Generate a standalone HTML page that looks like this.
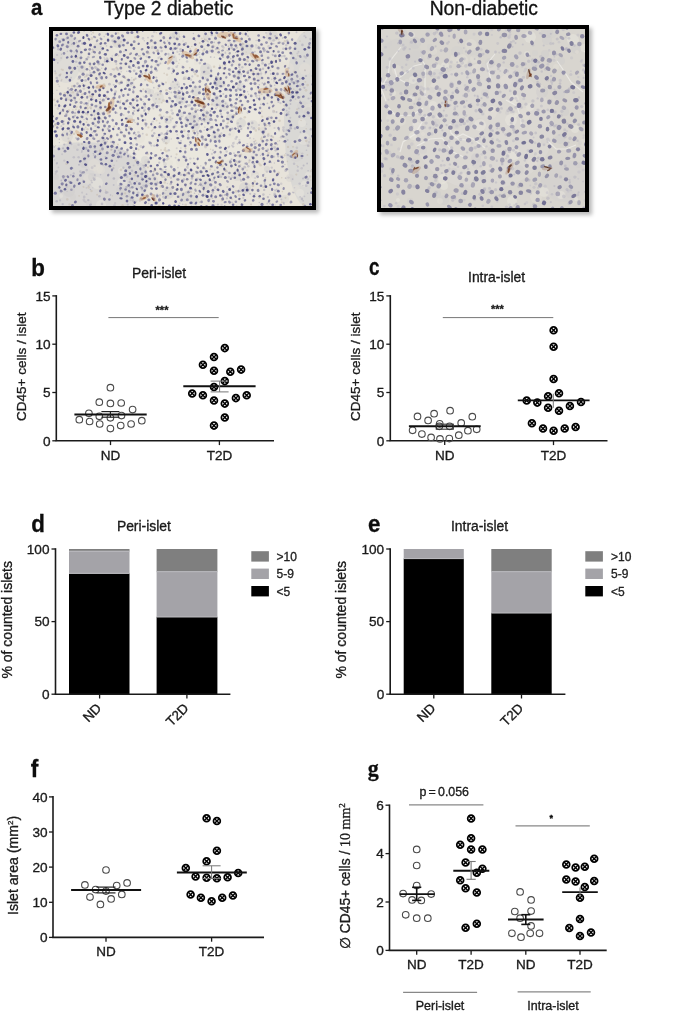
<!DOCTYPE html><html><head><meta charset="utf-8"><style>html,body{margin:0;padding:0;background:#fff;}body{width:675px;height:1012px;position:relative;overflow:hidden;font-family:"Liberation Sans",Arial,sans-serif;}.frame{position:absolute;box-sizing:border-box;border:4px solid #000;box-shadow:3px 3px 4px rgba(0,0,0,0.28);overflow:hidden;background:#ddd}svg text{font-family:"Liberation Sans",Arial,sans-serif;stroke:currentColor;stroke-width:0.3px;paint-order:stroke;}.ov{position:absolute;left:0;top:0;}</style></head><body>
<div class="frame" style="left:49px;top:27px;width:267px;height:183px"><svg width="259" height="175" viewBox="0 0 259 175" style="display:block"><defs><filter id="bl1" x="-5%" y="-5%" width="110%" height="110%"><feGaussianBlur stdDeviation="0.5"/></filter></defs><g filter="url(#bl1)"><rect x="-5" y="-5" width="269" height="185" fill="#e7e3da"/><ellipse cx="31" cy="149" rx="65" ry="38" fill="#d5d3d2" opacity="0.85"/><ellipse cx="254" cy="88" rx="23" ry="88" fill="#d6d4d3" opacity="0.8"/><ellipse cx="130" cy="79" rx="78" ry="61" fill="#ede9e1" opacity="0.6"/><ellipse cx="13" cy="26" rx="16" ry="26" fill="#d9d7d5" opacity="0.6"/><circle cx="35" cy="148" r="5" fill="#e5e0d7" opacity="0.45"/><circle cx="31" cy="133" r="4" fill="#cfcdcd" opacity="0.45"/><circle cx="204" cy="16" r="2" fill="#cfcdcd" opacity="0.45"/><circle cx="112" cy="133" r="2" fill="#cfcdcd" opacity="0.45"/><circle cx="69" cy="140" r="4" fill="#ece8e1" opacity="0.45"/><circle cx="233" cy="5" r="2" fill="#ece8e1" opacity="0.45"/><circle cx="243" cy="67" r="3" fill="#cfcdcd" opacity="0.45"/><circle cx="188" cy="92" r="5" fill="#cfcdcd" opacity="0.45"/><circle cx="143" cy="60" r="5" fill="#cfcdcd" opacity="0.45"/><circle cx="247" cy="162" r="4" fill="#ece8e1" opacity="0.45"/><circle cx="48" cy="174" r="5" fill="#ece8e1" opacity="0.45"/><circle cx="192" cy="157" r="6" fill="#cfcdcd" opacity="0.45"/><circle cx="131" cy="159" r="3" fill="#e5e0d7" opacity="0.45"/><circle cx="152" cy="154" r="5" fill="#cfcdcd" opacity="0.45"/><circle cx="153" cy="6" r="3" fill="#cfcdcd" opacity="0.45"/><circle cx="107" cy="30" r="4" fill="#e5e0d7" opacity="0.45"/><circle cx="22" cy="116" r="2" fill="#d3d1cf" opacity="0.45"/><circle cx="135" cy="69" r="4" fill="#ece8e1" opacity="0.45"/><circle cx="122" cy="54" r="5" fill="#cfcdcd" opacity="0.45"/><circle cx="168" cy="30" r="3" fill="#ece8e1" opacity="0.45"/><circle cx="200" cy="94" r="5" fill="#d3d1cf" opacity="0.45"/><circle cx="105" cy="60" r="5" fill="#e5e0d7" opacity="0.45"/><circle cx="119" cy="47" r="4" fill="#ece8e1" opacity="0.45"/><circle cx="99" cy="150" r="6" fill="#d3d1cf" opacity="0.45"/><circle cx="134" cy="98" r="4" fill="#ece8e1" opacity="0.45"/><circle cx="125" cy="64" r="4" fill="#cfcdcd" opacity="0.45"/><circle cx="126" cy="62" r="3" fill="#e5e0d7" opacity="0.45"/><circle cx="119" cy="5" r="3" fill="#d3d1cf" opacity="0.45"/><circle cx="143" cy="32" r="2" fill="#e5e0d7" opacity="0.45"/><circle cx="8" cy="165" r="2" fill="#ece8e1" opacity="0.45"/><circle cx="117" cy="132" r="3" fill="#e5e0d7" opacity="0.45"/><circle cx="28" cy="109" r="3" fill="#ece8e1" opacity="0.45"/><circle cx="43" cy="45" r="6" fill="#e5e0d7" opacity="0.45"/><circle cx="168" cy="52" r="5" fill="#cfcdcd" opacity="0.45"/><circle cx="123" cy="4" r="4" fill="#cfcdcd" opacity="0.45"/><circle cx="206" cy="45" r="3" fill="#d3d1cf" opacity="0.45"/><circle cx="250" cy="76" r="6" fill="#d3d1cf" opacity="0.45"/><circle cx="5" cy="26" r="5" fill="#d3d1cf" opacity="0.45"/><circle cx="115" cy="89" r="4" fill="#d3d1cf" opacity="0.45"/><circle cx="253" cy="110" r="5" fill="#cfcdcd" opacity="0.45"/><circle cx="58" cy="113" r="4" fill="#e5e0d7" opacity="0.45"/><circle cx="171" cy="75" r="5" fill="#d3d1cf" opacity="0.45"/><circle cx="251" cy="153" r="3" fill="#ece8e1" opacity="0.45"/><circle cx="80" cy="164" r="5" fill="#cfcdcd" opacity="0.45"/><circle cx="146" cy="23" r="4" fill="#ece8e1" opacity="0.45"/><circle cx="153" cy="38" r="6" fill="#cfcdcd" opacity="0.45"/><circle cx="44" cy="152" r="6" fill="#ece8e1" opacity="0.45"/><circle cx="98" cy="61" r="3" fill="#cfcdcd" opacity="0.45"/><circle cx="153" cy="86" r="6" fill="#cfcdcd" opacity="0.45"/><circle cx="77" cy="87" r="3" fill="#cfcdcd" opacity="0.45"/><circle cx="233" cy="3" r="3" fill="#e5e0d7" opacity="0.45"/><circle cx="210" cy="99" r="3" fill="#cfcdcd" opacity="0.45"/><circle cx="55" cy="118" r="5" fill="#e5e0d7" opacity="0.45"/><circle cx="237" cy="147" r="4" fill="#d3d1cf" opacity="0.45"/><circle cx="17" cy="7" r="3" fill="#d3d1cf" opacity="0.45"/><circle cx="236" cy="37" r="5" fill="#e5e0d7" opacity="0.45"/><circle cx="95" cy="60" r="3" fill="#cfcdcd" opacity="0.45"/><circle cx="35" cy="96" r="2" fill="#ece8e1" opacity="0.45"/><circle cx="105" cy="67" r="6" fill="#d3d1cf" opacity="0.45"/><circle cx="215" cy="60" r="4" fill="#cfcdcd" opacity="0.45"/><circle cx="20" cy="96" r="4" fill="#e5e0d7" opacity="0.45"/><circle cx="95" cy="52" r="4" fill="#ece8e1" opacity="0.45"/><circle cx="119" cy="49" r="5" fill="#e5e0d7" opacity="0.45"/><circle cx="3" cy="117" r="2" fill="#ece8e1" opacity="0.45"/><circle cx="214" cy="138" r="3" fill="#cfcdcd" opacity="0.45"/><circle cx="42" cy="79" r="5" fill="#d3d1cf" opacity="0.45"/><circle cx="193" cy="18" r="6" fill="#cfcdcd" opacity="0.45"/><circle cx="209" cy="95" r="5" fill="#e5e0d7" opacity="0.45"/><circle cx="184" cy="55" r="3" fill="#e5e0d7" opacity="0.45"/><circle cx="10" cy="2" r="6" fill="#e5e0d7" opacity="0.45"/><circle cx="188" cy="56" r="4" fill="#cfcdcd" opacity="0.45"/><circle cx="16" cy="160" r="6" fill="#cfcdcd" opacity="0.45"/><circle cx="29" cy="38" r="4" fill="#cfcdcd" opacity="0.45"/><circle cx="171" cy="45" r="4" fill="#e5e0d7" opacity="0.45"/><circle cx="52" cy="63" r="5" fill="#ece8e1" opacity="0.45"/><circle cx="255" cy="78" r="5" fill="#e5e0d7" opacity="0.45"/><circle cx="244" cy="68" r="3" fill="#e5e0d7" opacity="0.45"/><circle cx="48" cy="139" r="4" fill="#e5e0d7" opacity="0.45"/><circle cx="64" cy="18" r="4" fill="#ece8e1" opacity="0.45"/><circle cx="63" cy="4" r="3" fill="#ece8e1" opacity="0.45"/><circle cx="69" cy="152" r="5" fill="#ece8e1" opacity="0.45"/><circle cx="165" cy="51" r="5" fill="#cfcdcd" opacity="0.45"/><circle cx="121" cy="150" r="2" fill="#e5e0d7" opacity="0.45"/><circle cx="20" cy="166" r="3" fill="#d3d1cf" opacity="0.45"/><circle cx="255" cy="144" r="3" fill="#ece8e1" opacity="0.45"/><circle cx="184" cy="146" r="4" fill="#d3d1cf" opacity="0.45"/><circle cx="231" cy="25" r="6" fill="#ece8e1" opacity="0.45"/><circle cx="202" cy="144" r="4" fill="#d3d1cf" opacity="0.45"/><circle cx="46" cy="76" r="3" fill="#d3d1cf" opacity="0.45"/><circle cx="65" cy="11" r="6" fill="#cfcdcd" opacity="0.45"/><circle cx="142" cy="95" r="5" fill="#cfcdcd" opacity="0.45"/><circle cx="3" cy="146" r="3" fill="#cfcdcd" opacity="0.45"/><circle cx="6" cy="113" r="4" fill="#ece8e1" opacity="0.45"/><circle cx="16" cy="62" r="3" fill="#d3d1cf" opacity="0.45"/><circle cx="36" cy="172" r="3" fill="#cfcdcd" opacity="0.45"/><circle cx="45" cy="16" r="4" fill="#d3d1cf" opacity="0.45"/><circle cx="137" cy="88" r="5" fill="#cfcdcd" opacity="0.45"/><circle cx="241" cy="112" r="3" fill="#e5e0d7" opacity="0.45"/><circle cx="128" cy="84" r="3" fill="#cfcdcd" opacity="0.45"/><circle cx="87" cy="107" r="5" fill="#e5e0d7" opacity="0.45"/><circle cx="252" cy="38" r="6" fill="#e5e0d7" opacity="0.45"/><circle cx="41" cy="134" r="6" fill="#e5e0d7" opacity="0.45"/><circle cx="77" cy="52" r="4" fill="#d3d1cf" opacity="0.45"/><circle cx="182" cy="129" r="4" fill="#ece8e1" opacity="0.45"/><circle cx="232" cy="168" r="4" fill="#d3d1cf" opacity="0.45"/><circle cx="40" cy="75" r="6" fill="#ece8e1" opacity="0.45"/><circle cx="128" cy="69" r="5" fill="#cfcdcd" opacity="0.45"/><circle cx="133" cy="29" r="5" fill="#ece8e1" opacity="0.45"/><circle cx="136" cy="16" r="3" fill="#ece8e1" opacity="0.45"/><circle cx="69" cy="160" r="6" fill="#d3d1cf" opacity="0.45"/><circle cx="251" cy="108" r="6" fill="#ece8e1" opacity="0.45"/><circle cx="115" cy="162" r="6" fill="#cfcdcd" opacity="0.45"/><circle cx="243" cy="158" r="4" fill="#e5e0d7" opacity="0.45"/><circle cx="113" cy="109" r="4" fill="#d3d1cf" opacity="0.45"/><circle cx="31" cy="105" r="4" fill="#ece8e1" opacity="0.45"/><circle cx="171" cy="49" r="4" fill="#ece8e1" opacity="0.45"/><circle cx="249" cy="92" r="4" fill="#ece8e1" opacity="0.45"/><circle cx="163" cy="106" r="5" fill="#d3d1cf" opacity="0.45"/><circle cx="45" cy="26" r="3" fill="#e5e0d7" opacity="0.45"/><circle cx="152" cy="44" r="5" fill="#d3d1cf" opacity="0.45"/><circle cx="141" cy="86" r="5" fill="#d3d1cf" opacity="0.45"/><circle cx="148" cy="67" r="3" fill="#ece8e1" opacity="0.45"/><circle cx="234" cy="4" r="4" fill="#ece8e1" opacity="0.45"/><circle cx="141" cy="169" r="5" fill="#d3d1cf" opacity="0.45"/><circle cx="19" cy="65" r="5" fill="#cfcdcd" opacity="0.45"/><circle cx="130" cy="62" r="4" fill="#ece8e1" opacity="0.45"/><circle cx="32" cy="126" r="3" fill="#cfcdcd" opacity="0.45"/><circle cx="88" cy="128" r="4" fill="#ece8e1" opacity="0.45"/><circle cx="168" cy="66" r="3" fill="#ece8e1" opacity="0.45"/><circle cx="258" cy="111" r="5" fill="#d3d1cf" opacity="0.45"/><circle cx="256" cy="81" r="5" fill="#cfcdcd" opacity="0.45"/><circle cx="243" cy="125" r="6" fill="#d3d1cf" opacity="0.45"/><circle cx="116" cy="117" r="3" fill="#ece8e1" opacity="0.45"/><circle cx="176" cy="101" r="6" fill="#e5e0d7" opacity="0.45"/><circle cx="223" cy="102" r="5" fill="#ece8e1" opacity="0.45"/><circle cx="128" cy="131" r="5" fill="#e5e0d7" opacity="0.45"/><circle cx="163" cy="71" r="5" fill="#cfcdcd" opacity="0.45"/><circle cx="203" cy="148" r="5" fill="#ece8e1" opacity="0.45"/><circle cx="91" cy="46" r="5" fill="#e5e0d7" opacity="0.45"/><circle cx="39" cy="146" r="4" fill="#cfcdcd" opacity="0.45"/><circle cx="132" cy="47" r="2" fill="#cfcdcd" opacity="0.45"/><circle cx="18" cy="12" r="4" fill="#d3d1cf" opacity="0.45"/><circle cx="131" cy="166" r="5" fill="#cfcdcd" opacity="0.45"/><circle cx="165" cy="48" r="3" fill="#d3d1cf" opacity="0.45"/><circle cx="61" cy="58" r="2" fill="#e5e0d7" opacity="0.45"/><circle cx="121" cy="98" r="2" fill="#e5e0d7" opacity="0.45"/><circle cx="169" cy="125" r="5" fill="#e5e0d7" opacity="0.45"/><circle cx="92" cy="129" r="4" fill="#cfcdcd" opacity="0.45"/><circle cx="45" cy="138" r="5" fill="#e5e0d7" opacity="0.45"/><circle cx="185" cy="45" r="4" fill="#d3d1cf" opacity="0.45"/><circle cx="219" cy="5" r="6" fill="#cfcdcd" opacity="0.45"/><circle cx="82" cy="76" r="5" fill="#e5e0d7" opacity="0.45"/><circle cx="49" cy="110" r="3" fill="#cfcdcd" opacity="0.45"/><circle cx="151" cy="163" r="3" fill="#e5e0d7" opacity="0.45"/><circle cx="119" cy="28" r="5" fill="#cfcdcd" opacity="0.45"/><circle cx="94" cy="131" r="3" fill="#d3d1cf" opacity="0.45"/><circle cx="186" cy="53" r="2" fill="#cfcdcd" opacity="0.45"/><circle cx="83" cy="163" r="6" fill="#ece8e1" opacity="0.45"/><circle cx="14" cy="105" r="6" fill="#d3d1cf" opacity="0.45"/><circle cx="177" cy="87" r="4" fill="#cfcdcd" opacity="0.45"/><g fill="#a9a7b9" opacity="0.45"><circle cx="88.7" cy="146.6" r="1.1"/><circle cx="185.2" cy="57.8" r="1.3"/><circle cx="257.5" cy="8.1" r="1.3"/><circle cx="7.9" cy="67.8" r="1.1"/><circle cx="70.9" cy="20.6" r="0.8"/><circle cx="156.8" cy="98.0" r="1.3"/><circle cx="18.2" cy="46.7" r="0.9"/><circle cx="220.7" cy="9.2" r="1.3"/><circle cx="132.8" cy="87.7" r="1.4"/><circle cx="33.7" cy="139.1" r="1.3"/><circle cx="144.7" cy="147.7" r="1.3"/><circle cx="82.6" cy="47.7" r="1.1"/><circle cx="239.7" cy="161.4" r="0.8"/><circle cx="47.8" cy="71.9" r="1.3"/><circle cx="253.5" cy="119.2" r="0.8"/><circle cx="17.3" cy="100.0" r="1.3"/><circle cx="244.7" cy="139.7" r="1.3"/><circle cx="180.3" cy="112.4" r="1.3"/><circle cx="2.5" cy="74.2" r="1.0"/><circle cx="104.2" cy="163.9" r="1.3"/><circle cx="23.1" cy="107.1" r="1.1"/><circle cx="138.4" cy="60.7" r="1.2"/><circle cx="175.9" cy="146.1" r="1.4"/><circle cx="177.3" cy="31.3" r="1.3"/><circle cx="30.1" cy="149.4" r="0.8"/><circle cx="161.5" cy="150.7" r="0.7"/><circle cx="162.0" cy="52.5" r="0.9"/><circle cx="66.4" cy="71.4" r="1.1"/><circle cx="58.3" cy="111.2" r="1.1"/><circle cx="186.2" cy="66.4" r="0.9"/><circle cx="10.6" cy="13.5" r="0.9"/><circle cx="142.2" cy="9.4" r="0.8"/><circle cx="55.7" cy="76.1" r="0.9"/><circle cx="183.6" cy="130.4" r="1.2"/><circle cx="140.9" cy="95.3" r="1.1"/><circle cx="115.4" cy="23.1" r="1.3"/><circle cx="172.7" cy="139.9" r="1.1"/><circle cx="105.8" cy="106.0" r="0.8"/><circle cx="201.8" cy="113.1" r="1.3"/><circle cx="246.6" cy="152.6" r="1.2"/><circle cx="162.1" cy="157.2" r="1.1"/><circle cx="162.1" cy="156.5" r="1.4"/><circle cx="38.8" cy="65.8" r="1.3"/><circle cx="40.0" cy="91.8" r="1.4"/><circle cx="178.9" cy="114.4" r="0.9"/><circle cx="201.9" cy="20.8" r="1.0"/><circle cx="134.3" cy="136.0" r="1.4"/><circle cx="218.8" cy="136.6" r="1.2"/><circle cx="99.5" cy="99.0" r="0.8"/><circle cx="50.7" cy="109.4" r="0.8"/><circle cx="120.0" cy="50.8" r="1.1"/><circle cx="195.5" cy="44.6" r="0.7"/><circle cx="141.2" cy="40.4" r="1.1"/><circle cx="24.4" cy="118.7" r="1.3"/><circle cx="93.2" cy="153.6" r="0.9"/><circle cx="234.6" cy="82.4" r="1.1"/><circle cx="258.7" cy="138.4" r="0.7"/><circle cx="102.8" cy="49.7" r="0.8"/><circle cx="25.6" cy="126.3" r="1.2"/><circle cx="159.2" cy="62.1" r="0.7"/><circle cx="126.6" cy="28.8" r="0.7"/><circle cx="131.0" cy="56.9" r="0.8"/><circle cx="237.1" cy="44.8" r="0.9"/><circle cx="3.9" cy="59.2" r="0.8"/><circle cx="21.2" cy="21.0" r="0.8"/><circle cx="238.9" cy="171.2" r="0.9"/><circle cx="174.2" cy="74.0" r="0.7"/><circle cx="47.3" cy="68.5" r="0.9"/><circle cx="31.0" cy="98.4" r="1.2"/><circle cx="56.6" cy="30.9" r="0.7"/><circle cx="81.3" cy="127.1" r="1.3"/><circle cx="91.5" cy="78.7" r="1.3"/><circle cx="31.2" cy="166.0" r="1.4"/><circle cx="92.1" cy="75.8" r="0.9"/><circle cx="179.1" cy="146.2" r="0.9"/><circle cx="230.4" cy="96.6" r="1.3"/><circle cx="165.7" cy="13.8" r="0.7"/><circle cx="149.2" cy="154.8" r="1.0"/><circle cx="53.5" cy="14.9" r="0.8"/><circle cx="200.9" cy="97.4" r="1.4"/><circle cx="230.2" cy="17.8" r="1.2"/><circle cx="39.7" cy="18.5" r="1.1"/><circle cx="83.1" cy="108.4" r="0.9"/><circle cx="128.7" cy="85.5" r="0.8"/><circle cx="186.2" cy="36.1" r="1.2"/><circle cx="27.4" cy="140.6" r="1.3"/><circle cx="118.3" cy="107.9" r="0.7"/><circle cx="211.1" cy="143.3" r="0.7"/><circle cx="238.2" cy="63.7" r="0.9"/><circle cx="217.9" cy="43.0" r="1.0"/><circle cx="60.7" cy="53.8" r="1.1"/><circle cx="145.2" cy="68.6" r="1.2"/><circle cx="245.8" cy="77.3" r="0.9"/><circle cx="163.2" cy="53.6" r="1.4"/><circle cx="127.8" cy="143.7" r="1.3"/><circle cx="167.5" cy="126.9" r="1.1"/><circle cx="129.1" cy="60.2" r="0.8"/><circle cx="14.4" cy="20.4" r="0.8"/><circle cx="38.9" cy="151.5" r="1.1"/><circle cx="154.4" cy="9.9" r="1.0"/><circle cx="209.6" cy="32.4" r="1.4"/><circle cx="177.3" cy="157.2" r="1.0"/><circle cx="204.0" cy="66.9" r="0.8"/><circle cx="113.0" cy="90.3" r="0.9"/><circle cx="251.7" cy="146.5" r="1.1"/><circle cx="100.7" cy="75.3" r="0.8"/><circle cx="139.3" cy="45.4" r="1.1"/><circle cx="194.3" cy="49.7" r="1.0"/><circle cx="97.4" cy="10.8" r="0.9"/><circle cx="90.0" cy="7.4" r="1.3"/><circle cx="151.4" cy="62.0" r="1.1"/><circle cx="143.3" cy="160.0" r="0.9"/><circle cx="235.3" cy="36.9" r="1.0"/><circle cx="17.8" cy="144.1" r="1.1"/><circle cx="185.1" cy="97.3" r="1.1"/><circle cx="43.4" cy="75.7" r="0.8"/><circle cx="174.3" cy="19.4" r="0.8"/><circle cx="234.7" cy="109.1" r="1.0"/><circle cx="4.1" cy="24.0" r="1.1"/><circle cx="227.7" cy="11.4" r="0.8"/><circle cx="3.8" cy="140.2" r="1.2"/><circle cx="207.8" cy="40.0" r="0.8"/><circle cx="108.6" cy="102.6" r="1.4"/><circle cx="132.6" cy="155.4" r="0.9"/><circle cx="171.6" cy="38.3" r="0.8"/><circle cx="175.6" cy="116.3" r="1.1"/><circle cx="145.7" cy="163.3" r="0.7"/><circle cx="160.0" cy="119.2" r="1.0"/><circle cx="218.8" cy="124.7" r="1.0"/><circle cx="102.3" cy="30.5" r="1.0"/><circle cx="211.4" cy="92.2" r="1.3"/><circle cx="99.5" cy="30.2" r="1.0"/><circle cx="189.0" cy="82.0" r="0.7"/><circle cx="242.5" cy="68.1" r="0.9"/><circle cx="251.4" cy="25.4" r="1.1"/><circle cx="90.9" cy="136.5" r="0.7"/><circle cx="233.2" cy="14.2" r="1.2"/><circle cx="183.3" cy="81.1" r="1.2"/><circle cx="81.0" cy="120.0" r="1.1"/><circle cx="222.1" cy="174.0" r="0.7"/><circle cx="90.2" cy="70.8" r="0.8"/><circle cx="253.0" cy="44.9" r="1.2"/><circle cx="250.1" cy="169.8" r="1.0"/><circle cx="20.7" cy="142.5" r="1.2"/><circle cx="221.7" cy="162.9" r="1.4"/><circle cx="172.4" cy="22.0" r="1.0"/><circle cx="62.7" cy="60.7" r="1.4"/><circle cx="124.9" cy="136.6" r="0.9"/><circle cx="67.2" cy="159.0" r="1.0"/><circle cx="27.5" cy="92.9" r="0.8"/><circle cx="109.6" cy="108.7" r="1.0"/><circle cx="242.8" cy="42.1" r="0.7"/><circle cx="111.1" cy="110.2" r="0.7"/><circle cx="101.1" cy="167.1" r="1.0"/><circle cx="79.1" cy="52.0" r="1.0"/><circle cx="49.0" cy="115.8" r="0.9"/><circle cx="164.5" cy="65.7" r="1.3"/><circle cx="223.3" cy="50.6" r="0.8"/><circle cx="31.0" cy="170.2" r="0.7"/><circle cx="73.9" cy="145.6" r="1.4"/><circle cx="170.0" cy="25.9" r="1.2"/><circle cx="208.1" cy="42.5" r="1.2"/><circle cx="146.9" cy="32.1" r="1.4"/><circle cx="16.0" cy="35.7" r="0.9"/><circle cx="77.5" cy="36.9" r="1.4"/><circle cx="118.3" cy="73.5" r="0.8"/><circle cx="61.5" cy="174.7" r="1.4"/><circle cx="234.9" cy="49.3" r="1.2"/><circle cx="20.8" cy="126.2" r="1.3"/><circle cx="22.3" cy="69.0" r="0.9"/><circle cx="151.4" cy="65.5" r="0.8"/><circle cx="236.2" cy="37.1" r="0.7"/><circle cx="185.9" cy="43.7" r="0.8"/><circle cx="151.1" cy="99.2" r="0.7"/><circle cx="253.2" cy="154.7" r="1.4"/><circle cx="35.4" cy="154.9" r="0.8"/><circle cx="232.8" cy="122.6" r="0.7"/><circle cx="2.1" cy="40.2" r="1.0"/><circle cx="206.0" cy="93.9" r="1.0"/><circle cx="258.8" cy="75.5" r="0.7"/><circle cx="111.5" cy="108.6" r="0.8"/><circle cx="80.3" cy="174.2" r="0.9"/><circle cx="64.2" cy="82.0" r="0.8"/><circle cx="60.8" cy="38.4" r="1.2"/><circle cx="222.6" cy="15.8" r="0.8"/><circle cx="227.5" cy="72.2" r="1.1"/><circle cx="99.7" cy="51.6" r="1.1"/><circle cx="178.0" cy="2.0" r="1.0"/><circle cx="221.4" cy="132.0" r="0.8"/><circle cx="115.6" cy="37.6" r="1.4"/><circle cx="80.3" cy="83.2" r="1.2"/><circle cx="173.7" cy="120.5" r="1.2"/><circle cx="211.0" cy="19.4" r="1.0"/><circle cx="87.6" cy="142.9" r="0.8"/><circle cx="7.1" cy="169.4" r="1.1"/><circle cx="224.5" cy="61.9" r="1.3"/><circle cx="75.9" cy="102.1" r="1.0"/><circle cx="40.2" cy="68.3" r="0.9"/><circle cx="39.6" cy="105.2" r="1.2"/><circle cx="160.0" cy="158.0" r="0.8"/><circle cx="221.7" cy="116.6" r="1.3"/><circle cx="177.7" cy="27.7" r="0.9"/><circle cx="109.5" cy="145.5" r="1.4"/><circle cx="155.3" cy="36.9" r="1.3"/><circle cx="233.7" cy="79.7" r="0.9"/><circle cx="238.8" cy="22.9" r="1.1"/><circle cx="159.8" cy="161.5" r="1.4"/><circle cx="214.2" cy="172.5" r="0.9"/><circle cx="241.1" cy="132.7" r="1.3"/><circle cx="79.0" cy="139.7" r="1.3"/><circle cx="117.9" cy="146.8" r="1.4"/><circle cx="85.2" cy="161.8" r="1.4"/><circle cx="47.6" cy="143.7" r="0.8"/><circle cx="132.2" cy="24.9" r="1.0"/><circle cx="237.3" cy="86.7" r="1.0"/><circle cx="131.0" cy="24.5" r="0.9"/><circle cx="143.7" cy="92.7" r="1.1"/><circle cx="53.3" cy="66.7" r="1.2"/><circle cx="9.6" cy="14.1" r="1.4"/><circle cx="74.8" cy="173.7" r="1.1"/><circle cx="252.0" cy="39.4" r="0.9"/><circle cx="126.0" cy="55.8" r="1.0"/><circle cx="72.6" cy="95.6" r="1.2"/><circle cx="175.8" cy="19.7" r="0.8"/><circle cx="109.3" cy="108.3" r="1.0"/><circle cx="188.2" cy="149.4" r="1.3"/><circle cx="121.6" cy="74.9" r="1.4"/><circle cx="31.4" cy="129.0" r="1.2"/><circle cx="87.3" cy="43.9" r="1.3"/><circle cx="48.7" cy="37.3" r="0.7"/><circle cx="135.6" cy="159.9" r="1.2"/><circle cx="251.4" cy="165.3" r="0.9"/><circle cx="108.7" cy="20.1" r="1.3"/><circle cx="23.2" cy="30.7" r="1.3"/><circle cx="89.8" cy="102.7" r="0.9"/><circle cx="244.9" cy="135.7" r="1.0"/><circle cx="121.8" cy="56.8" r="0.7"/><circle cx="13.9" cy="14.3" r="0.9"/><circle cx="120.9" cy="26.1" r="1.2"/><circle cx="67.4" cy="14.4" r="1.1"/><circle cx="156.7" cy="168.3" r="1.0"/><circle cx="147.2" cy="151.2" r="0.7"/><circle cx="83.7" cy="150.5" r="0.8"/><circle cx="254.8" cy="162.3" r="0.8"/><circle cx="173.6" cy="97.1" r="1.1"/><circle cx="1.2" cy="116.0" r="0.9"/><circle cx="101.4" cy="114.8" r="1.3"/><circle cx="161.3" cy="26.2" r="0.8"/><circle cx="257.2" cy="108.1" r="0.7"/><circle cx="144.2" cy="167.0" r="0.7"/><circle cx="52.0" cy="28.7" r="1.1"/><circle cx="114.6" cy="100.2" r="1.2"/><circle cx="57.7" cy="27.2" r="1.1"/><circle cx="125.1" cy="14.3" r="1.3"/><circle cx="199.1" cy="117.7" r="0.8"/><circle cx="34.6" cy="72.5" r="1.4"/><circle cx="163.0" cy="77.5" r="1.0"/><circle cx="174.2" cy="140.5" r="0.9"/><circle cx="13.7" cy="82.7" r="1.3"/><circle cx="73.8" cy="40.3" r="0.8"/><circle cx="81.1" cy="79.9" r="1.0"/><circle cx="88.9" cy="158.6" r="1.0"/><circle cx="112.7" cy="111.9" r="0.7"/><circle cx="67.2" cy="51.2" r="0.9"/><circle cx="150.6" cy="59.4" r="1.1"/><circle cx="24.3" cy="55.7" r="1.0"/><circle cx="128.6" cy="70.7" r="1.3"/><circle cx="80.0" cy="58.3" r="0.8"/><circle cx="75.6" cy="132.0" r="1.3"/><circle cx="33.6" cy="163.2" r="0.9"/><circle cx="200.8" cy="107.8" r="0.7"/><circle cx="224.3" cy="113.4" r="1.0"/><circle cx="146.8" cy="171.1" r="0.9"/><circle cx="58.0" cy="27.0" r="0.9"/><circle cx="80.0" cy="169.6" r="1.3"/><circle cx="125.9" cy="80.9" r="1.1"/><circle cx="219.5" cy="174.3" r="1.4"/><circle cx="217.0" cy="172.7" r="0.9"/><circle cx="41.8" cy="117.2" r="1.1"/><circle cx="216.8" cy="94.6" r="1.2"/><circle cx="8.3" cy="95.2" r="1.0"/><circle cx="228.3" cy="168.5" r="1.1"/><circle cx="168.4" cy="102.4" r="1.1"/><circle cx="84.8" cy="5.6" r="1.4"/><circle cx="108.8" cy="51.6" r="0.9"/><circle cx="88.7" cy="42.8" r="1.3"/><circle cx="148.6" cy="104.8" r="1.0"/><circle cx="212.0" cy="19.1" r="1.2"/><circle cx="41.8" cy="143.9" r="1.0"/><circle cx="10.7" cy="78.2" r="0.8"/><circle cx="137.4" cy="127.6" r="1.2"/><circle cx="234.0" cy="42.5" r="1.0"/><circle cx="147.5" cy="161.3" r="1.0"/><circle cx="24.9" cy="0.4" r="1.1"/><circle cx="119.7" cy="37.9" r="1.1"/><circle cx="103.8" cy="76.6" r="1.1"/><circle cx="211.1" cy="149.9" r="0.7"/><circle cx="68.2" cy="40.7" r="0.7"/><circle cx="185.3" cy="95.5" r="1.1"/><circle cx="51.2" cy="5.6" r="0.8"/><circle cx="123.6" cy="35.8" r="1.3"/><circle cx="156.6" cy="153.4" r="0.7"/><circle cx="221.5" cy="116.5" r="1.3"/><circle cx="198.7" cy="95.9" r="0.9"/><circle cx="68.1" cy="147.4" r="0.8"/><circle cx="60.7" cy="154.1" r="1.0"/><circle cx="230.3" cy="98.7" r="1.3"/><circle cx="182.4" cy="10.2" r="1.1"/><circle cx="63.7" cy="130.0" r="0.8"/><circle cx="46.8" cy="32.8" r="1.1"/><circle cx="220.9" cy="125.6" r="1.2"/><circle cx="194.2" cy="112.8" r="0.8"/><circle cx="133.2" cy="23.5" r="1.1"/><circle cx="245.5" cy="20.7" r="1.0"/><circle cx="204.2" cy="67.2" r="0.8"/><circle cx="32.4" cy="54.4" r="0.8"/><circle cx="137.7" cy="19.8" r="1.4"/><circle cx="21.1" cy="75.0" r="1.0"/><circle cx="228.7" cy="53.0" r="1.3"/><circle cx="85.0" cy="133.5" r="1.2"/><circle cx="134.1" cy="30.5" r="1.3"/><circle cx="193.8" cy="4.1" r="0.9"/><circle cx="52.0" cy="108.5" r="1.1"/><circle cx="118.3" cy="61.5" r="0.9"/><circle cx="202.5" cy="123.5" r="0.9"/><circle cx="228.3" cy="59.8" r="1.0"/><circle cx="215.2" cy="104.5" r="1.4"/><circle cx="207.5" cy="124.5" r="0.7"/><circle cx="154.6" cy="103.6" r="1.1"/><circle cx="75.0" cy="48.6" r="1.2"/><circle cx="91.3" cy="9.7" r="0.8"/><circle cx="189.5" cy="12.7" r="1.1"/><circle cx="180.0" cy="27.4" r="1.0"/><circle cx="167.5" cy="134.2" r="1.4"/></g><g fill="#b5b2bd" opacity="0.45"><circle cx="44.7" cy="38.9" r="1.0"/><circle cx="97.9" cy="29.5" r="0.9"/><circle cx="103.6" cy="154.0" r="1.3"/><circle cx="9.2" cy="10.6" r="0.7"/><circle cx="69.4" cy="45.5" r="0.9"/><circle cx="152.3" cy="137.9" r="0.9"/><circle cx="252.9" cy="26.4" r="1.3"/><circle cx="78.7" cy="74.3" r="1.1"/><circle cx="215.4" cy="51.0" r="0.8"/><circle cx="253.8" cy="93.1" r="0.7"/><circle cx="64.8" cy="38.7" r="1.3"/><circle cx="205.7" cy="38.0" r="1.1"/><circle cx="258.5" cy="44.9" r="0.7"/><circle cx="220.4" cy="80.2" r="1.4"/><circle cx="150.5" cy="79.2" r="1.1"/><circle cx="151.8" cy="96.2" r="0.9"/><circle cx="107.5" cy="3.2" r="1.3"/><circle cx="23.7" cy="22.7" r="0.9"/><circle cx="25.6" cy="113.7" r="1.3"/><circle cx="158.9" cy="122.9" r="1.1"/><circle cx="164.1" cy="141.8" r="1.3"/><circle cx="15.1" cy="57.1" r="1.2"/><circle cx="124.4" cy="20.7" r="1.2"/><circle cx="177.4" cy="39.6" r="1.1"/><circle cx="5.2" cy="53.4" r="0.8"/><circle cx="36.1" cy="43.9" r="1.2"/><circle cx="36.0" cy="69.9" r="0.8"/><circle cx="29.1" cy="161.6" r="1.1"/><circle cx="138.8" cy="68.9" r="1.1"/><circle cx="36.8" cy="153.8" r="1.0"/><circle cx="105.1" cy="170.9" r="0.9"/><circle cx="2.5" cy="142.7" r="1.0"/><circle cx="212.3" cy="42.9" r="0.8"/><circle cx="181.1" cy="111.1" r="0.7"/><circle cx="174.3" cy="156.0" r="1.1"/><circle cx="246.9" cy="69.5" r="0.8"/><circle cx="86.9" cy="169.7" r="1.2"/><circle cx="4.9" cy="69.4" r="1.1"/><circle cx="101.2" cy="0.9" r="1.4"/><circle cx="19.7" cy="93.9" r="0.8"/><circle cx="10.5" cy="90.2" r="1.2"/><circle cx="181.0" cy="122.2" r="1.0"/><circle cx="33.7" cy="44.2" r="0.7"/><circle cx="176.7" cy="103.4" r="1.2"/><circle cx="217.2" cy="39.4" r="0.9"/><circle cx="202.3" cy="28.0" r="1.4"/><circle cx="173.9" cy="161.2" r="1.3"/><circle cx="127.9" cy="117.1" r="0.8"/><circle cx="215.9" cy="33.0" r="1.1"/><circle cx="13.4" cy="7.7" r="1.3"/><circle cx="238.0" cy="95.2" r="1.3"/><circle cx="93.5" cy="25.6" r="1.1"/><circle cx="78.0" cy="152.9" r="1.3"/><circle cx="233.9" cy="40.7" r="1.4"/><circle cx="198.1" cy="14.8" r="0.7"/><circle cx="92.1" cy="88.9" r="1.2"/><circle cx="239.7" cy="121.8" r="1.0"/><circle cx="249.3" cy="122.6" r="1.2"/><circle cx="157.4" cy="108.1" r="0.9"/><circle cx="102.2" cy="36.8" r="1.2"/><circle cx="203.2" cy="9.5" r="0.8"/><circle cx="15.1" cy="15.6" r="1.3"/><circle cx="172.2" cy="20.9" r="0.7"/><circle cx="188.6" cy="15.3" r="1.4"/><circle cx="184.9" cy="92.3" r="1.2"/><circle cx="100.1" cy="74.6" r="1.3"/><circle cx="126.7" cy="60.1" r="1.1"/><circle cx="43.5" cy="99.2" r="0.8"/><circle cx="167.0" cy="26.6" r="0.8"/><circle cx="177.3" cy="12.1" r="1.0"/><circle cx="9.1" cy="8.2" r="1.2"/><circle cx="229.3" cy="124.5" r="0.7"/><circle cx="1.8" cy="17.0" r="0.9"/><circle cx="131.1" cy="46.6" r="0.9"/><circle cx="113.8" cy="89.6" r="1.1"/><circle cx="59.3" cy="24.9" r="0.7"/><circle cx="61.5" cy="121.8" r="0.8"/><circle cx="111.7" cy="162.3" r="0.9"/><circle cx="24.5" cy="62.5" r="1.0"/><circle cx="116.4" cy="145.7" r="0.7"/><circle cx="114.4" cy="152.5" r="0.8"/><circle cx="31.9" cy="45.9" r="0.9"/><circle cx="159.4" cy="167.2" r="0.9"/><circle cx="98.4" cy="114.6" r="1.1"/><circle cx="100.4" cy="77.6" r="1.0"/><circle cx="135.2" cy="103.9" r="1.4"/><circle cx="158.9" cy="149.8" r="0.9"/><circle cx="90.6" cy="24.0" r="0.9"/><circle cx="179.0" cy="144.2" r="0.8"/><circle cx="139.0" cy="150.3" r="0.7"/><circle cx="228.2" cy="152.7" r="1.3"/><circle cx="221.1" cy="50.5" r="0.9"/><circle cx="257.8" cy="67.3" r="0.7"/><circle cx="202.1" cy="147.0" r="0.9"/><circle cx="213.1" cy="56.0" r="1.2"/><circle cx="105.6" cy="26.8" r="1.2"/><circle cx="54.0" cy="27.7" r="1.4"/><circle cx="38.0" cy="77.4" r="1.0"/><circle cx="5.4" cy="136.4" r="0.9"/><circle cx="121.4" cy="174.3" r="1.0"/><circle cx="78.7" cy="46.7" r="0.8"/><circle cx="99.4" cy="76.3" r="0.8"/><circle cx="37.5" cy="42.0" r="1.2"/><circle cx="221.3" cy="48.7" r="1.3"/><circle cx="38.5" cy="3.3" r="0.8"/><circle cx="140.9" cy="87.7" r="1.1"/><circle cx="91.9" cy="154.5" r="0.8"/><circle cx="32.4" cy="170.8" r="1.2"/><circle cx="137.2" cy="131.8" r="0.8"/><circle cx="34.9" cy="101.1" r="0.7"/><circle cx="91.9" cy="159.4" r="1.3"/><circle cx="115.6" cy="142.5" r="0.9"/><circle cx="244.8" cy="24.8" r="0.7"/><circle cx="198.7" cy="57.0" r="1.1"/><circle cx="251.5" cy="4.9" r="1.2"/><circle cx="145.1" cy="68.5" r="1.1"/><circle cx="160.8" cy="148.8" r="1.3"/><circle cx="256.0" cy="111.0" r="0.9"/><circle cx="203.3" cy="25.8" r="1.3"/><circle cx="21.9" cy="69.8" r="0.8"/><circle cx="137.8" cy="160.4" r="0.8"/><circle cx="138.1" cy="48.8" r="1.2"/><circle cx="145.8" cy="23.3" r="1.1"/><circle cx="133.9" cy="148.1" r="0.9"/><circle cx="134.9" cy="93.4" r="0.9"/><circle cx="111.4" cy="167.2" r="1.1"/><circle cx="171.1" cy="75.7" r="1.3"/><circle cx="119.2" cy="19.3" r="1.0"/><circle cx="72.2" cy="47.0" r="1.1"/><circle cx="88.5" cy="148.3" r="0.9"/><circle cx="51.3" cy="26.8" r="0.9"/><circle cx="111.5" cy="146.2" r="0.9"/><circle cx="92.9" cy="95.3" r="0.9"/><circle cx="41.3" cy="84.6" r="0.8"/><circle cx="13.3" cy="82.7" r="0.9"/><circle cx="236.1" cy="124.5" r="0.9"/><circle cx="23.5" cy="11.4" r="0.9"/><circle cx="83.9" cy="79.3" r="1.1"/><circle cx="39.2" cy="42.1" r="0.7"/><circle cx="159.1" cy="143.7" r="1.1"/><circle cx="126.7" cy="172.2" r="0.9"/><circle cx="156.6" cy="144.7" r="0.9"/><circle cx="30.4" cy="168.7" r="0.9"/><circle cx="54.7" cy="161.4" r="1.1"/><circle cx="82.5" cy="171.0" r="1.3"/><circle cx="207.1" cy="48.3" r="0.8"/><circle cx="172.6" cy="139.5" r="0.9"/><circle cx="146.8" cy="26.1" r="0.9"/><circle cx="235.5" cy="146.6" r="1.2"/><circle cx="95.6" cy="172.5" r="0.8"/><circle cx="102.0" cy="17.3" r="1.3"/><circle cx="113.0" cy="91.2" r="0.9"/><circle cx="215.7" cy="86.6" r="1.3"/><circle cx="99.3" cy="16.2" r="1.4"/><circle cx="4.9" cy="77.6" r="1.3"/><circle cx="228.1" cy="49.2" r="1.3"/><circle cx="113.0" cy="159.2" r="0.9"/><circle cx="152.3" cy="85.2" r="1.1"/><circle cx="211.5" cy="96.0" r="0.7"/><circle cx="98.9" cy="16.9" r="1.1"/><circle cx="174.0" cy="92.4" r="0.7"/><circle cx="187.7" cy="87.5" r="1.2"/><circle cx="43.7" cy="56.4" r="1.2"/><circle cx="39.5" cy="101.5" r="1.0"/><circle cx="241.6" cy="126.0" r="1.2"/><circle cx="157.5" cy="19.7" r="1.3"/><circle cx="123.7" cy="30.3" r="0.9"/><circle cx="47.7" cy="88.1" r="1.2"/><circle cx="152.7" cy="47.0" r="0.8"/><circle cx="101.7" cy="148.5" r="1.1"/><circle cx="63.3" cy="33.1" r="1.1"/><circle cx="144.2" cy="100.7" r="1.3"/><circle cx="154.8" cy="22.2" r="0.9"/><circle cx="215.6" cy="15.4" r="1.3"/><circle cx="13.2" cy="66.9" r="1.4"/><circle cx="219.4" cy="23.6" r="1.0"/><circle cx="124.6" cy="34.6" r="0.8"/><circle cx="213.9" cy="140.8" r="1.2"/><circle cx="161.4" cy="15.6" r="1.0"/><circle cx="77.5" cy="169.0" r="1.2"/><circle cx="28.7" cy="121.2" r="0.9"/><circle cx="39.2" cy="136.7" r="1.4"/><circle cx="254.8" cy="148.0" r="1.4"/><circle cx="90.6" cy="154.8" r="1.4"/><circle cx="190.2" cy="167.1" r="1.1"/><circle cx="218.7" cy="48.4" r="0.8"/><circle cx="241.5" cy="156.7" r="0.8"/><circle cx="92.3" cy="156.2" r="1.1"/><circle cx="30.9" cy="57.6" r="1.4"/><circle cx="106.4" cy="166.6" r="0.8"/><circle cx="182.7" cy="107.8" r="1.3"/><circle cx="233.8" cy="99.0" r="1.2"/><circle cx="187.3" cy="148.2" r="0.7"/><circle cx="52.8" cy="3.2" r="0.9"/><circle cx="69.0" cy="63.1" r="0.8"/><circle cx="54.0" cy="110.4" r="1.0"/><circle cx="220.7" cy="81.0" r="1.3"/><circle cx="136.1" cy="140.0" r="0.7"/><circle cx="40.7" cy="123.9" r="1.0"/><circle cx="7.8" cy="75.1" r="0.8"/><circle cx="176.6" cy="17.0" r="1.1"/><circle cx="8.2" cy="49.8" r="0.9"/><circle cx="122.3" cy="94.9" r="1.4"/><circle cx="13.5" cy="155.6" r="1.3"/><circle cx="90.9" cy="135.8" r="0.8"/><circle cx="41.6" cy="134.9" r="1.2"/><circle cx="216.8" cy="163.4" r="0.7"/><circle cx="79.9" cy="114.0" r="0.8"/><circle cx="123.7" cy="117.3" r="1.0"/><circle cx="246.9" cy="48.0" r="1.0"/><circle cx="34.0" cy="44.0" r="1.4"/><circle cx="117.2" cy="7.7" r="1.2"/><circle cx="6.3" cy="55.3" r="0.9"/><circle cx="61.1" cy="134.3" r="0.9"/><circle cx="50.7" cy="64.0" r="0.9"/><circle cx="46.7" cy="83.5" r="1.1"/><circle cx="203.6" cy="112.3" r="1.0"/><circle cx="1.4" cy="129.1" r="0.8"/><circle cx="60.3" cy="5.0" r="1.1"/><circle cx="155.2" cy="10.8" r="0.8"/><circle cx="145.5" cy="89.7" r="1.1"/><circle cx="103.8" cy="33.6" r="1.2"/><circle cx="134.9" cy="74.5" r="1.2"/><circle cx="38.4" cy="149.8" r="1.0"/><circle cx="167.9" cy="83.0" r="1.3"/><circle cx="110.6" cy="85.3" r="0.9"/><circle cx="136.2" cy="164.6" r="1.3"/><circle cx="82.9" cy="142.1" r="0.9"/><circle cx="234.3" cy="60.3" r="1.1"/><circle cx="238.1" cy="97.5" r="0.7"/><circle cx="27.5" cy="48.6" r="0.9"/><circle cx="170.6" cy="16.6" r="1.2"/><circle cx="244.4" cy="22.5" r="1.1"/><circle cx="221.5" cy="97.0" r="1.1"/><circle cx="132.9" cy="143.9" r="1.0"/><circle cx="46.5" cy="83.1" r="0.8"/><circle cx="231.0" cy="173.0" r="1.1"/><circle cx="59.7" cy="138.3" r="1.0"/><circle cx="156.3" cy="149.3" r="1.3"/><circle cx="173.6" cy="163.8" r="0.9"/><circle cx="130.0" cy="10.0" r="0.7"/><circle cx="170.7" cy="69.1" r="1.1"/><circle cx="209.3" cy="110.4" r="1.3"/><circle cx="118.7" cy="79.5" r="1.3"/><circle cx="222.4" cy="45.1" r="0.9"/><circle cx="189.6" cy="16.3" r="1.2"/><circle cx="98.7" cy="91.3" r="0.8"/><circle cx="188.3" cy="43.1" r="1.1"/><circle cx="48.5" cy="19.0" r="1.0"/><circle cx="136.7" cy="74.2" r="1.3"/><circle cx="3.0" cy="141.1" r="1.3"/><circle cx="25.6" cy="47.7" r="1.3"/><circle cx="192.3" cy="160.9" r="1.0"/><circle cx="151.6" cy="152.3" r="0.9"/><circle cx="228.7" cy="25.2" r="1.2"/><circle cx="243.9" cy="116.7" r="1.3"/><circle cx="80.6" cy="134.4" r="1.0"/><circle cx="60.5" cy="113.1" r="1.2"/><circle cx="90.2" cy="65.1" r="0.7"/><circle cx="150.5" cy="162.7" r="1.0"/><circle cx="47.2" cy="46.4" r="1.0"/><circle cx="151.3" cy="0.3" r="0.8"/><circle cx="152.6" cy="116.3" r="1.3"/><circle cx="246.7" cy="54.7" r="1.3"/><circle cx="109.2" cy="139.2" r="1.4"/><circle cx="14.1" cy="160.5" r="0.8"/><circle cx="85.4" cy="101.2" r="1.3"/><circle cx="176.4" cy="115.4" r="0.9"/><circle cx="100.0" cy="90.6" r="1.0"/><circle cx="129.5" cy="35.3" r="1.1"/><circle cx="88.1" cy="83.8" r="1.1"/><circle cx="232.4" cy="49.9" r="1.3"/><circle cx="116.2" cy="37.0" r="1.2"/><circle cx="39.9" cy="156.7" r="0.7"/><circle cx="133.5" cy="161.3" r="1.2"/><circle cx="74.0" cy="120.6" r="1.3"/><circle cx="199.2" cy="42.5" r="0.8"/><circle cx="50.9" cy="81.3" r="1.2"/><circle cx="197.1" cy="107.2" r="1.1"/><circle cx="181.1" cy="83.9" r="0.9"/><circle cx="188.0" cy="130.0" r="0.7"/><circle cx="239.1" cy="123.7" r="1.3"/><circle cx="174.3" cy="92.8" r="0.7"/><circle cx="58.5" cy="114.8" r="1.2"/><circle cx="249.9" cy="154.8" r="0.7"/><circle cx="105.6" cy="75.0" r="1.2"/><circle cx="167.1" cy="6.3" r="0.7"/><circle cx="62.1" cy="172.1" r="1.2"/><circle cx="115.0" cy="71.5" r="0.9"/><circle cx="153.7" cy="80.5" r="1.2"/><circle cx="162.4" cy="5.5" r="1.0"/><circle cx="77.7" cy="136.5" r="0.8"/><circle cx="230.5" cy="110.8" r="1.1"/><circle cx="53.5" cy="153.1" r="1.2"/><circle cx="38.2" cy="87.5" r="0.8"/><circle cx="116.2" cy="60.8" r="0.8"/><circle cx="148.5" cy="101.0" r="1.1"/><circle cx="186.4" cy="109.0" r="1.1"/><circle cx="235.9" cy="80.8" r="0.9"/><circle cx="65.7" cy="119.3" r="0.9"/><circle cx="237.6" cy="66.7" r="0.9"/><circle cx="121.3" cy="6.3" r="1.0"/><circle cx="147.8" cy="134.9" r="0.8"/><circle cx="212.1" cy="57.2" r="1.2"/><circle cx="248.9" cy="127.0" r="1.2"/><circle cx="124.2" cy="103.8" r="0.8"/><circle cx="31.1" cy="88.5" r="0.8"/><circle cx="134.9" cy="137.3" r="0.8"/><circle cx="174.8" cy="164.0" r="1.0"/><circle cx="184.8" cy="42.5" r="0.8"/><circle cx="11.3" cy="129.6" r="1.2"/><circle cx="107.0" cy="25.6" r="0.9"/><circle cx="140.9" cy="41.0" r="1.1"/><circle cx="100.6" cy="97.7" r="0.8"/><circle cx="33.4" cy="156.8" r="0.9"/><circle cx="70.6" cy="83.9" r="1.0"/><circle cx="39.1" cy="21.2" r="0.8"/><circle cx="242.6" cy="28.2" r="1.3"/><circle cx="156.0" cy="1.1" r="0.7"/><circle cx="236.3" cy="77.4" r="1.1"/><circle cx="28.0" cy="142.0" r="0.9"/><circle cx="109.4" cy="126.4" r="0.7"/><circle cx="241.0" cy="126.7" r="1.3"/><circle cx="59.5" cy="9.8" r="1.3"/><circle cx="142.0" cy="28.6" r="0.9"/><circle cx="194.5" cy="157.2" r="0.9"/><circle cx="155.1" cy="159.1" r="0.7"/><circle cx="165.3" cy="133.3" r="1.1"/><circle cx="130.8" cy="47.9" r="1.2"/><circle cx="64.4" cy="122.8" r="1.3"/><circle cx="210.3" cy="103.2" r="1.0"/><circle cx="248.7" cy="137.2" r="1.3"/><circle cx="40.6" cy="147.2" r="1.1"/><circle cx="161.7" cy="139.2" r="0.8"/><circle cx="228.2" cy="106.2" r="1.4"/><circle cx="168.4" cy="22.8" r="1.1"/><circle cx="195.8" cy="93.6" r="0.8"/><circle cx="128.0" cy="109.8" r="1.1"/><circle cx="122.6" cy="126.7" r="1.0"/><circle cx="8.1" cy="26.9" r="1.0"/><circle cx="140.7" cy="127.3" r="0.9"/><circle cx="15.4" cy="107.6" r="1.0"/><circle cx="168.6" cy="173.7" r="1.3"/><circle cx="194.6" cy="81.8" r="1.1"/><circle cx="198.1" cy="173.3" r="0.8"/><circle cx="47.8" cy="15.8" r="0.8"/><circle cx="87.9" cy="115.5" r="1.4"/><circle cx="113.8" cy="128.5" r="1.4"/><circle cx="110.2" cy="166.1" r="1.3"/><circle cx="61.2" cy="124.3" r="0.9"/><circle cx="31.0" cy="168.7" r="1.3"/><circle cx="50.0" cy="110.1" r="0.7"/><circle cx="91.6" cy="65.9" r="1.2"/><circle cx="150.8" cy="63.4" r="0.8"/><circle cx="139.0" cy="158.1" r="1.2"/><circle cx="244.0" cy="52.1" r="1.2"/><circle cx="118.9" cy="42.4" r="0.9"/><circle cx="33.8" cy="101.6" r="1.1"/><circle cx="9.1" cy="123.3" r="1.0"/></g><g fill="#9c9ab0" opacity="0.45"><circle cx="73.5" cy="95.7" r="0.8"/><circle cx="219.0" cy="116.0" r="0.9"/><circle cx="141.7" cy="94.2" r="1.3"/><circle cx="10.4" cy="93.0" r="1.2"/><circle cx="231.9" cy="133.6" r="0.7"/><circle cx="53.2" cy="161.5" r="1.4"/><circle cx="151.3" cy="18.3" r="1.1"/><circle cx="100.8" cy="56.7" r="0.9"/><circle cx="236.4" cy="162.3" r="1.3"/><circle cx="111.9" cy="103.3" r="1.2"/><circle cx="73.5" cy="156.0" r="1.3"/><circle cx="137.8" cy="66.6" r="0.8"/><circle cx="159.5" cy="89.3" r="0.7"/><circle cx="140.4" cy="143.2" r="1.1"/><circle cx="239.6" cy="148.1" r="0.9"/><circle cx="70.4" cy="136.8" r="1.2"/><circle cx="100.6" cy="140.6" r="0.9"/><circle cx="179.1" cy="75.9" r="0.9"/><circle cx="214.9" cy="166.1" r="1.2"/><circle cx="6.8" cy="44.3" r="1.2"/><circle cx="175.3" cy="15.3" r="0.8"/><circle cx="115.8" cy="119.3" r="1.3"/><circle cx="71.1" cy="123.6" r="0.8"/><circle cx="157.7" cy="26.0" r="0.9"/><circle cx="124.4" cy="53.5" r="0.9"/><circle cx="196.6" cy="129.4" r="1.1"/><circle cx="225.4" cy="70.9" r="1.1"/><circle cx="70.2" cy="92.8" r="0.8"/><circle cx="41.4" cy="148.6" r="1.3"/><circle cx="145.5" cy="154.5" r="0.7"/><circle cx="5.6" cy="157.0" r="1.1"/><circle cx="119.5" cy="82.5" r="1.2"/><circle cx="171.8" cy="163.9" r="1.0"/><circle cx="169.0" cy="164.7" r="1.2"/><circle cx="151.6" cy="89.8" r="0.9"/><circle cx="145.0" cy="112.3" r="0.7"/><circle cx="80.8" cy="48.7" r="0.8"/><circle cx="164.9" cy="173.6" r="1.1"/><circle cx="150.1" cy="108.2" r="1.2"/><circle cx="62.1" cy="24.4" r="1.0"/><circle cx="172.8" cy="5.3" r="1.0"/><circle cx="141.5" cy="162.3" r="0.8"/><circle cx="52.4" cy="125.8" r="0.9"/><circle cx="163.0" cy="18.1" r="1.1"/><circle cx="63.7" cy="36.4" r="0.8"/><circle cx="234.7" cy="123.9" r="1.2"/><circle cx="185.9" cy="141.5" r="1.2"/><circle cx="250.6" cy="134.6" r="1.0"/><circle cx="4.1" cy="131.9" r="0.9"/><circle cx="221.1" cy="164.2" r="0.7"/><circle cx="129.8" cy="173.3" r="0.8"/><circle cx="235.7" cy="83.5" r="0.9"/><circle cx="125.6" cy="111.0" r="0.9"/><circle cx="104.6" cy="151.7" r="1.3"/><circle cx="9.7" cy="173.1" r="1.2"/><circle cx="229.7" cy="7.1" r="0.8"/><circle cx="131.1" cy="126.3" r="0.8"/><circle cx="5.3" cy="18.3" r="1.3"/><circle cx="150.8" cy="59.3" r="0.8"/><circle cx="133.2" cy="86.5" r="1.1"/><circle cx="191.2" cy="158.4" r="1.1"/><circle cx="3.8" cy="132.5" r="1.0"/><circle cx="97.9" cy="162.2" r="1.3"/><circle cx="222.2" cy="164.5" r="1.4"/><circle cx="182.5" cy="53.8" r="0.8"/><circle cx="37.9" cy="173.6" r="1.1"/><circle cx="218.1" cy="131.6" r="0.8"/><circle cx="158.4" cy="97.8" r="0.8"/><circle cx="117.7" cy="153.0" r="1.3"/><circle cx="29.5" cy="12.6" r="1.3"/><circle cx="221.7" cy="54.2" r="0.8"/><circle cx="217.0" cy="53.3" r="0.9"/><circle cx="80.7" cy="89.4" r="1.3"/><circle cx="129.5" cy="61.2" r="0.7"/><circle cx="230.6" cy="100.3" r="0.9"/><circle cx="211.7" cy="152.1" r="1.0"/><circle cx="198.9" cy="125.8" r="1.1"/><circle cx="205.9" cy="98.5" r="1.0"/><circle cx="100.0" cy="126.8" r="0.8"/><circle cx="251.2" cy="30.3" r="1.0"/><circle cx="42.4" cy="36.5" r="1.4"/><circle cx="113.8" cy="142.6" r="1.0"/><circle cx="42.5" cy="94.7" r="1.3"/><circle cx="210.0" cy="37.8" r="1.2"/><circle cx="40.3" cy="122.4" r="0.7"/><circle cx="103.1" cy="67.8" r="0.9"/><circle cx="184.5" cy="112.6" r="0.9"/><circle cx="195.0" cy="30.5" r="0.8"/><circle cx="82.8" cy="103.7" r="0.9"/><circle cx="99.4" cy="5.2" r="1.3"/><circle cx="86.0" cy="77.9" r="1.2"/><circle cx="180.1" cy="115.6" r="1.2"/><circle cx="151.5" cy="8.3" r="0.8"/><circle cx="6.4" cy="111.6" r="0.7"/><circle cx="206.3" cy="171.5" r="0.8"/><circle cx="174.6" cy="165.2" r="0.9"/><circle cx="169.4" cy="15.3" r="1.3"/><circle cx="7.5" cy="159.1" r="1.0"/><circle cx="45.0" cy="123.6" r="0.9"/><circle cx="152.8" cy="56.2" r="1.2"/><circle cx="172.6" cy="72.4" r="1.0"/><circle cx="130.0" cy="24.1" r="1.3"/><circle cx="161.2" cy="11.3" r="0.9"/><circle cx="29.0" cy="119.9" r="0.8"/><circle cx="232.6" cy="147.1" r="0.9"/><circle cx="250.0" cy="147.6" r="1.0"/><circle cx="254.1" cy="132.5" r="0.9"/><circle cx="179.0" cy="171.4" r="0.8"/><circle cx="232.6" cy="139.7" r="1.2"/><circle cx="127.3" cy="20.3" r="1.0"/><circle cx="166.6" cy="104.1" r="1.0"/><circle cx="186.8" cy="50.7" r="0.9"/><circle cx="226.5" cy="109.7" r="0.7"/><circle cx="188.7" cy="97.9" r="0.8"/><circle cx="255.6" cy="67.5" r="1.1"/><circle cx="102.8" cy="154.0" r="1.3"/><circle cx="56.4" cy="53.2" r="1.4"/><circle cx="54.6" cy="28.8" r="1.3"/><circle cx="210.4" cy="163.6" r="1.3"/><circle cx="16.4" cy="59.1" r="1.0"/><circle cx="43.3" cy="120.3" r="1.2"/><circle cx="96.3" cy="111.4" r="1.3"/><circle cx="57.5" cy="164.0" r="0.8"/><circle cx="10.5" cy="147.6" r="1.0"/><circle cx="6.2" cy="82.7" r="0.8"/><circle cx="118.3" cy="69.6" r="0.9"/><circle cx="220.7" cy="12.7" r="0.8"/><circle cx="188.0" cy="98.2" r="1.0"/><circle cx="220.0" cy="24.2" r="1.0"/><circle cx="64.4" cy="37.4" r="1.0"/><circle cx="237.6" cy="97.3" r="1.4"/><circle cx="222.7" cy="119.2" r="1.3"/><circle cx="223.8" cy="158.5" r="0.9"/><circle cx="2.6" cy="93.2" r="1.2"/><circle cx="196.6" cy="9.0" r="1.3"/><circle cx="178.8" cy="17.0" r="1.2"/><circle cx="242.0" cy="97.5" r="1.2"/><circle cx="243.5" cy="50.0" r="1.3"/><circle cx="101.2" cy="164.5" r="1.3"/><circle cx="166.4" cy="105.9" r="0.9"/><circle cx="211.1" cy="20.0" r="1.4"/><circle cx="209.3" cy="52.1" r="0.8"/><circle cx="183.7" cy="16.5" r="1.3"/><circle cx="243.5" cy="1.3" r="1.0"/><circle cx="33.0" cy="117.1" r="1.3"/><circle cx="200.0" cy="24.6" r="0.8"/><circle cx="104.9" cy="20.1" r="1.3"/><circle cx="240.6" cy="161.6" r="0.9"/><circle cx="195.3" cy="135.3" r="1.3"/><circle cx="189.3" cy="36.3" r="1.2"/><circle cx="67.1" cy="154.3" r="1.4"/><circle cx="174.6" cy="58.9" r="1.3"/><circle cx="46.4" cy="165.2" r="1.3"/><circle cx="207.8" cy="73.3" r="0.9"/><circle cx="46.6" cy="44.2" r="1.2"/><circle cx="51.8" cy="30.6" r="1.1"/><circle cx="187.0" cy="38.6" r="1.2"/><circle cx="237.6" cy="69.3" r="0.8"/><circle cx="18.7" cy="13.2" r="0.8"/><circle cx="214.9" cy="118.7" r="1.2"/><circle cx="211.2" cy="158.9" r="1.2"/><circle cx="182.7" cy="21.5" r="0.7"/><circle cx="24.8" cy="60.7" r="1.3"/><circle cx="224.4" cy="66.2" r="1.1"/><circle cx="50.1" cy="133.8" r="0.9"/><circle cx="92.1" cy="48.8" r="1.0"/><circle cx="143.5" cy="20.6" r="1.2"/><circle cx="95.2" cy="77.7" r="0.9"/><circle cx="223.5" cy="81.1" r="1.1"/><circle cx="91.2" cy="80.0" r="1.1"/><circle cx="4.5" cy="86.8" r="1.0"/><circle cx="222.2" cy="5.0" r="1.0"/><circle cx="37.2" cy="173.9" r="1.2"/><circle cx="132.7" cy="12.4" r="1.3"/><circle cx="95.0" cy="6.6" r="0.9"/><circle cx="193.7" cy="156.3" r="1.3"/><circle cx="4.8" cy="31.8" r="0.9"/><circle cx="194.7" cy="60.8" r="0.7"/><circle cx="118.2" cy="125.4" r="0.9"/><circle cx="203.0" cy="13.9" r="0.7"/><circle cx="203.6" cy="43.0" r="1.3"/><circle cx="91.8" cy="32.3" r="1.1"/><circle cx="106.6" cy="92.2" r="0.9"/><circle cx="152.6" cy="164.1" r="1.1"/><circle cx="180.4" cy="40.8" r="0.7"/><circle cx="136.5" cy="113.7" r="0.8"/><circle cx="77.8" cy="167.2" r="0.9"/><circle cx="76.7" cy="150.9" r="1.2"/><circle cx="148.4" cy="89.2" r="1.0"/><circle cx="107.3" cy="32.4" r="1.0"/><circle cx="3.7" cy="47.0" r="1.3"/><circle cx="215.6" cy="171.0" r="1.0"/><circle cx="201.0" cy="132.9" r="1.2"/><circle cx="161.5" cy="49.8" r="0.7"/><circle cx="22.0" cy="82.0" r="1.3"/><circle cx="239.0" cy="51.1" r="0.9"/><circle cx="73.5" cy="26.2" r="0.9"/><circle cx="34.1" cy="56.5" r="0.8"/><circle cx="158.7" cy="4.0" r="1.3"/><circle cx="6.3" cy="108.2" r="0.8"/><circle cx="226.2" cy="99.7" r="0.8"/><circle cx="32.9" cy="82.4" r="1.1"/><circle cx="119.5" cy="87.5" r="1.0"/><circle cx="199.3" cy="91.9" r="1.3"/><circle cx="200.7" cy="121.4" r="1.3"/><circle cx="22.0" cy="84.8" r="1.0"/><circle cx="165.5" cy="74.2" r="1.0"/><circle cx="58.5" cy="27.3" r="1.4"/><circle cx="234.3" cy="9.8" r="1.2"/><circle cx="60.5" cy="137.3" r="1.0"/><circle cx="24.5" cy="52.6" r="1.3"/><circle cx="26.0" cy="133.7" r="1.0"/><circle cx="195.1" cy="5.3" r="1.0"/><circle cx="166.2" cy="153.3" r="1.0"/><circle cx="11.0" cy="75.6" r="1.0"/><circle cx="211.9" cy="154.0" r="1.0"/><circle cx="255.1" cy="139.8" r="0.8"/><circle cx="90.1" cy="164.3" r="1.3"/><circle cx="110.8" cy="130.7" r="1.1"/><circle cx="256.3" cy="14.4" r="1.3"/><circle cx="82.3" cy="123.4" r="1.1"/><circle cx="178.5" cy="128.2" r="1.0"/><circle cx="169.6" cy="74.8" r="0.7"/><circle cx="192.0" cy="28.7" r="1.1"/><circle cx="249.4" cy="13.9" r="1.3"/><circle cx="123.3" cy="64.5" r="0.8"/><circle cx="127.8" cy="86.6" r="0.8"/><circle cx="68.0" cy="125.9" r="1.3"/><circle cx="231.4" cy="25.1" r="1.3"/><circle cx="127.5" cy="18.3" r="1.3"/><circle cx="230.6" cy="171.8" r="1.1"/><circle cx="35.3" cy="26.2" r="1.3"/><circle cx="120.0" cy="82.2" r="1.0"/><circle cx="173.2" cy="95.4" r="1.4"/><circle cx="209.2" cy="23.1" r="0.8"/><circle cx="37.4" cy="158.5" r="0.8"/><circle cx="102.2" cy="72.4" r="0.9"/><circle cx="201.6" cy="163.2" r="1.1"/><circle cx="157.5" cy="80.0" r="1.0"/><circle cx="146.6" cy="21.4" r="0.7"/><circle cx="35.3" cy="169.1" r="1.2"/><circle cx="55.1" cy="97.9" r="1.3"/><circle cx="104.9" cy="63.8" r="1.0"/><circle cx="139.0" cy="147.5" r="1.3"/><circle cx="11.3" cy="113.5" r="1.1"/><circle cx="213.0" cy="1.9" r="0.8"/><circle cx="46.9" cy="155.8" r="1.2"/><circle cx="32.6" cy="49.4" r="1.4"/><circle cx="252.8" cy="6.4" r="0.9"/><circle cx="187.0" cy="160.3" r="0.9"/><circle cx="37.4" cy="33.9" r="1.0"/><circle cx="32.3" cy="29.3" r="0.8"/><circle cx="132.5" cy="126.9" r="1.3"/><circle cx="50.7" cy="104.6" r="0.9"/><circle cx="31.5" cy="72.7" r="1.2"/><circle cx="132.6" cy="93.0" r="0.7"/><circle cx="36.1" cy="60.5" r="1.1"/><circle cx="67.2" cy="71.2" r="1.0"/><circle cx="106.2" cy="131.7" r="1.1"/><circle cx="98.6" cy="39.4" r="0.8"/><circle cx="162.2" cy="64.5" r="1.1"/><circle cx="182.3" cy="140.8" r="1.1"/><circle cx="10.1" cy="117.4" r="1.1"/><circle cx="90.0" cy="142.6" r="0.9"/><circle cx="8.6" cy="23.2" r="0.7"/><circle cx="116.7" cy="57.4" r="1.4"/><circle cx="211.5" cy="99.2" r="0.7"/><circle cx="16.2" cy="150.5" r="1.1"/><circle cx="140.4" cy="2.5" r="0.8"/><circle cx="81.9" cy="77.3" r="1.1"/><circle cx="203.2" cy="64.8" r="1.4"/><circle cx="49.0" cy="172.9" r="1.3"/><circle cx="152.0" cy="72.7" r="0.7"/><circle cx="248.9" cy="167.9" r="1.3"/><circle cx="60.9" cy="147.5" r="1.3"/><circle cx="197.2" cy="162.8" r="1.1"/><circle cx="24.5" cy="35.5" r="0.8"/><circle cx="181.5" cy="75.6" r="1.2"/><circle cx="242.5" cy="60.3" r="1.0"/><circle cx="81.1" cy="39.8" r="1.4"/><circle cx="228.1" cy="125.4" r="1.2"/><circle cx="82.5" cy="36.2" r="0.8"/><circle cx="159.3" cy="96.6" r="1.4"/><circle cx="29.2" cy="142.1" r="1.3"/><circle cx="247.1" cy="165.9" r="0.8"/><circle cx="130.9" cy="148.5" r="1.3"/><circle cx="18.5" cy="113.3" r="0.9"/><circle cx="66.6" cy="52.4" r="1.3"/><circle cx="126.4" cy="23.2" r="1.0"/><circle cx="125.4" cy="59.5" r="0.9"/><circle cx="3.7" cy="170.3" r="1.3"/><circle cx="238.7" cy="50.0" r="1.2"/><circle cx="206.3" cy="53.7" r="0.8"/><circle cx="84.5" cy="105.2" r="0.8"/><circle cx="232.9" cy="139.1" r="1.3"/><circle cx="251.1" cy="100.1" r="0.9"/><circle cx="183.7" cy="106.0" r="1.2"/><circle cx="19.8" cy="137.2" r="0.8"/><circle cx="217.3" cy="0.9" r="0.7"/><circle cx="218.5" cy="105.2" r="1.1"/><circle cx="257.9" cy="98.3" r="1.3"/><circle cx="85.6" cy="24.7" r="0.9"/><circle cx="189.0" cy="137.1" r="0.8"/><circle cx="156.1" cy="91.8" r="1.2"/><circle cx="179.3" cy="97.8" r="1.2"/><circle cx="255.1" cy="114.8" r="1.2"/><circle cx="192.0" cy="132.5" r="1.0"/><circle cx="173.9" cy="167.4" r="1.1"/><circle cx="195.6" cy="63.2" r="0.7"/><circle cx="222.2" cy="159.4" r="1.1"/><circle cx="160.8" cy="100.0" r="1.1"/><circle cx="150.5" cy="77.0" r="1.3"/><circle cx="225.1" cy="125.4" r="1.1"/><circle cx="247.4" cy="101.1" r="0.9"/><circle cx="101.2" cy="102.2" r="1.2"/><circle cx="238.2" cy="58.1" r="0.9"/><circle cx="251.4" cy="56.8" r="1.1"/><circle cx="176.5" cy="67.3" r="0.8"/><circle cx="67.7" cy="118.2" r="1.0"/><circle cx="104.7" cy="18.8" r="0.8"/><circle cx="45.6" cy="33.1" r="1.3"/><circle cx="191.7" cy="136.2" r="1.4"/><circle cx="163.2" cy="46.2" r="1.2"/><circle cx="237.5" cy="73.0" r="0.9"/><circle cx="77.1" cy="156.7" r="1.0"/><circle cx="145.1" cy="141.6" r="1.2"/><circle cx="33.3" cy="117.8" r="1.1"/><circle cx="183.9" cy="139.6" r="1.0"/><circle cx="142.9" cy="132.3" r="0.8"/><circle cx="144.8" cy="79.1" r="1.1"/><circle cx="188.3" cy="80.4" r="1.0"/><circle cx="236.5" cy="52.4" r="1.2"/><circle cx="170.3" cy="62.9" r="1.0"/><circle cx="124.1" cy="17.2" r="1.1"/><circle cx="121.0" cy="17.9" r="1.4"/><circle cx="103.3" cy="46.5" r="1.1"/><circle cx="243.8" cy="62.6" r="1.1"/><circle cx="142.0" cy="21.5" r="0.8"/><circle cx="170.5" cy="33.3" r="0.8"/><circle cx="49.6" cy="82.1" r="1.2"/><circle cx="166.7" cy="144.0" r="0.9"/><circle cx="8.3" cy="149.5" r="0.9"/><circle cx="8.0" cy="80.4" r="1.0"/><circle cx="146.7" cy="69.4" r="0.7"/><circle cx="36.7" cy="39.4" r="0.9"/><circle cx="112.9" cy="138.8" r="0.8"/><circle cx="113.0" cy="96.1" r="1.4"/><circle cx="216.9" cy="32.5" r="0.8"/><circle cx="144.9" cy="102.6" r="1.0"/><circle cx="168.1" cy="145.7" r="1.3"/><circle cx="43.6" cy="37.3" r="1.3"/><circle cx="58.5" cy="118.5" r="1.1"/><circle cx="103.8" cy="39.5" r="1.3"/><circle cx="23.9" cy="62.3" r="0.9"/><circle cx="90.3" cy="134.4" r="0.9"/><circle cx="195.4" cy="40.1" r="1.0"/><circle cx="214.4" cy="72.3" r="0.9"/><circle cx="201.2" cy="110.7" r="1.0"/><circle cx="215.7" cy="65.0" r="1.2"/><circle cx="114.6" cy="9.9" r="0.7"/><circle cx="117.8" cy="89.0" r="0.7"/><circle cx="191.0" cy="119.3" r="1.0"/></g><g fill="#c4b8a8" opacity="0.45"><circle cx="82.8" cy="67.1" r="1.3"/><circle cx="65.8" cy="13.9" r="1.3"/><circle cx="129.4" cy="22.8" r="1.2"/><circle cx="135.8" cy="15.8" r="0.8"/><circle cx="8.9" cy="67.2" r="0.9"/><circle cx="148.9" cy="7.6" r="1.0"/><circle cx="38.5" cy="160.0" r="1.2"/><circle cx="148.4" cy="79.1" r="1.0"/><circle cx="135.6" cy="100.7" r="1.2"/><circle cx="182.1" cy="130.7" r="1.4"/><circle cx="206.4" cy="64.8" r="1.0"/><circle cx="231.2" cy="74.5" r="1.1"/><circle cx="132.7" cy="173.9" r="1.4"/><circle cx="140.6" cy="100.1" r="1.1"/><circle cx="95.3" cy="22.2" r="1.4"/><circle cx="106.9" cy="164.3" r="1.2"/><circle cx="107.9" cy="155.4" r="1.3"/><circle cx="256.1" cy="115.0" r="0.7"/><circle cx="95.2" cy="82.3" r="0.8"/><circle cx="210.3" cy="156.0" r="1.1"/><circle cx="170.9" cy="53.9" r="0.7"/><circle cx="58.1" cy="119.1" r="0.9"/><circle cx="64.5" cy="92.7" r="0.7"/><circle cx="85.2" cy="1.4" r="1.4"/><circle cx="207.5" cy="134.3" r="1.3"/><circle cx="111.9" cy="118.9" r="1.4"/><circle cx="215.4" cy="102.8" r="1.1"/><circle cx="202.8" cy="99.4" r="1.3"/><circle cx="237.3" cy="54.9" r="0.9"/><circle cx="107.5" cy="62.8" r="1.0"/><circle cx="140.4" cy="100.0" r="1.3"/><circle cx="172.8" cy="139.6" r="1.3"/><circle cx="235.0" cy="115.9" r="1.2"/><circle cx="34.5" cy="98.3" r="1.2"/><circle cx="72.1" cy="162.4" r="1.1"/><circle cx="87.1" cy="25.0" r="0.9"/><circle cx="138.7" cy="15.5" r="0.8"/><circle cx="134.0" cy="142.4" r="1.2"/><circle cx="213.1" cy="94.3" r="1.3"/><circle cx="49.2" cy="89.2" r="0.8"/><circle cx="103.6" cy="89.6" r="1.0"/><circle cx="194.0" cy="139.2" r="0.7"/><circle cx="157.3" cy="138.4" r="1.0"/><circle cx="137.2" cy="17.7" r="0.9"/><circle cx="95.4" cy="96.4" r="1.1"/><circle cx="257.9" cy="149.1" r="0.7"/><circle cx="16.4" cy="110.4" r="1.2"/><circle cx="44.1" cy="163.8" r="1.0"/><circle cx="32.7" cy="96.4" r="0.9"/><circle cx="19.5" cy="55.2" r="1.3"/><circle cx="34.5" cy="77.4" r="1.3"/><circle cx="14.3" cy="168.4" r="1.3"/><circle cx="136.8" cy="36.7" r="0.9"/><circle cx="47.0" cy="119.8" r="1.4"/><circle cx="150.5" cy="107.4" r="0.7"/><circle cx="42.8" cy="46.9" r="1.1"/><circle cx="208.7" cy="106.3" r="0.9"/><circle cx="113.3" cy="112.3" r="1.3"/><circle cx="178.9" cy="167.9" r="0.9"/><circle cx="196.0" cy="131.2" r="0.9"/><circle cx="77.5" cy="125.8" r="0.7"/><circle cx="226.5" cy="89.8" r="1.4"/><circle cx="28.9" cy="113.0" r="1.0"/><circle cx="57.1" cy="106.0" r="1.0"/><circle cx="2.3" cy="94.1" r="1.2"/><circle cx="76.5" cy="96.4" r="1.3"/><circle cx="143.8" cy="79.2" r="0.9"/><circle cx="38.9" cy="7.5" r="1.4"/><circle cx="187.5" cy="133.9" r="0.9"/><circle cx="137.9" cy="161.1" r="1.2"/><circle cx="96.0" cy="79.9" r="0.9"/><circle cx="248.1" cy="89.5" r="0.8"/><circle cx="158.5" cy="41.2" r="0.8"/><circle cx="190.5" cy="64.1" r="1.3"/><circle cx="202.5" cy="109.7" r="0.9"/><circle cx="200.1" cy="40.6" r="1.2"/><circle cx="125.8" cy="32.2" r="0.8"/><circle cx="166.8" cy="34.4" r="0.8"/><circle cx="82.6" cy="129.8" r="1.1"/><circle cx="220.4" cy="45.9" r="0.7"/><circle cx="46.7" cy="57.3" r="0.9"/><circle cx="3.1" cy="28.4" r="0.7"/><circle cx="157.6" cy="118.2" r="0.8"/><circle cx="131.3" cy="99.7" r="1.3"/><circle cx="152.5" cy="9.0" r="1.3"/><circle cx="113.4" cy="120.3" r="1.3"/><circle cx="114.5" cy="145.8" r="1.1"/><circle cx="46.7" cy="159.6" r="0.9"/><circle cx="183.0" cy="81.9" r="0.8"/><circle cx="40.0" cy="1.1" r="0.8"/><circle cx="152.9" cy="85.5" r="1.3"/><circle cx="201.0" cy="30.4" r="0.8"/><circle cx="142.5" cy="78.0" r="1.0"/><circle cx="72.1" cy="71.6" r="1.1"/><circle cx="39.3" cy="65.5" r="1.4"/><circle cx="81.9" cy="144.2" r="1.2"/><circle cx="244.1" cy="60.2" r="1.1"/><circle cx="168.7" cy="169.5" r="1.1"/><circle cx="76.1" cy="75.9" r="0.8"/><circle cx="37.4" cy="76.5" r="1.4"/><circle cx="220.1" cy="106.2" r="1.1"/><circle cx="35.7" cy="156.4" r="1.4"/><circle cx="37.0" cy="65.0" r="1.4"/><circle cx="258.4" cy="66.5" r="1.0"/><circle cx="17.4" cy="103.6" r="0.8"/><circle cx="69.6" cy="174.3" r="1.2"/><circle cx="67.1" cy="146.8" r="0.8"/><circle cx="115.5" cy="127.7" r="1.1"/><circle cx="59.4" cy="164.9" r="0.7"/><circle cx="68.0" cy="138.8" r="1.4"/><circle cx="222.0" cy="113.0" r="1.2"/><circle cx="70.3" cy="104.2" r="1.1"/><circle cx="189.9" cy="17.0" r="1.0"/><circle cx="10.3" cy="79.5" r="1.1"/><circle cx="92.0" cy="92.1" r="1.1"/><circle cx="257.1" cy="145.5" r="1.2"/><circle cx="152.2" cy="114.9" r="1.3"/><circle cx="103.8" cy="19.7" r="1.2"/><circle cx="63.0" cy="37.5" r="1.3"/><circle cx="68.4" cy="61.2" r="0.7"/><circle cx="19.9" cy="79.1" r="0.8"/><circle cx="67.6" cy="69.7" r="0.9"/><circle cx="106.4" cy="68.2" r="1.1"/><circle cx="235.6" cy="4.0" r="0.8"/><circle cx="114.8" cy="164.8" r="1.0"/><circle cx="224.8" cy="110.3" r="0.8"/><circle cx="152.7" cy="134.3" r="0.8"/><circle cx="126.7" cy="67.2" r="0.8"/><circle cx="67.3" cy="99.0" r="1.1"/><circle cx="132.4" cy="47.6" r="1.1"/><circle cx="107.0" cy="84.2" r="1.4"/><circle cx="258.0" cy="140.1" r="1.0"/><circle cx="113.4" cy="59.3" r="1.3"/><circle cx="234.4" cy="130.4" r="0.8"/><circle cx="222.0" cy="57.8" r="1.4"/><circle cx="17.4" cy="103.8" r="1.1"/><circle cx="123.6" cy="123.3" r="1.1"/><circle cx="152.6" cy="74.6" r="1.3"/><circle cx="186.6" cy="70.4" r="1.2"/><circle cx="98.0" cy="9.9" r="1.2"/><circle cx="43.0" cy="99.8" r="1.1"/><circle cx="126.7" cy="5.9" r="0.8"/><circle cx="164.1" cy="47.0" r="0.8"/><circle cx="150.0" cy="20.0" r="1.0"/><circle cx="225.6" cy="8.3" r="1.1"/><circle cx="153.2" cy="108.9" r="1.0"/><circle cx="40.2" cy="19.9" r="1.2"/><circle cx="114.0" cy="43.8" r="1.2"/><circle cx="94.7" cy="123.1" r="1.2"/><circle cx="1.2" cy="68.7" r="1.2"/><circle cx="106.3" cy="174.9" r="1.4"/><circle cx="195.3" cy="48.3" r="1.1"/><circle cx="122.3" cy="60.6" r="1.2"/><circle cx="170.8" cy="37.6" r="1.4"/><circle cx="201.7" cy="150.6" r="1.3"/><circle cx="65.0" cy="113.4" r="1.0"/><circle cx="80.4" cy="160.8" r="1.0"/><circle cx="68.4" cy="50.7" r="1.4"/><circle cx="82.1" cy="91.5" r="0.7"/><circle cx="206.0" cy="167.3" r="0.8"/><circle cx="2.7" cy="42.3" r="1.1"/><circle cx="201.5" cy="49.3" r="1.2"/><circle cx="103.4" cy="1.7" r="0.7"/><circle cx="57.5" cy="107.0" r="1.3"/><circle cx="172.1" cy="33.6" r="1.3"/><circle cx="64.1" cy="51.2" r="1.3"/><circle cx="184.5" cy="124.6" r="1.0"/><circle cx="8.5" cy="38.3" r="0.9"/><circle cx="186.4" cy="164.3" r="1.4"/><circle cx="94.9" cy="136.3" r="1.1"/><circle cx="74.2" cy="49.0" r="1.0"/><circle cx="223.6" cy="7.0" r="1.3"/><circle cx="188.2" cy="123.5" r="1.1"/><circle cx="250.3" cy="173.5" r="1.4"/><circle cx="132.6" cy="117.4" r="1.0"/><circle cx="169.2" cy="35.0" r="0.7"/><circle cx="253.0" cy="59.3" r="1.4"/><circle cx="185.1" cy="24.5" r="1.0"/><circle cx="206.3" cy="132.8" r="1.2"/><circle cx="184.8" cy="46.5" r="1.4"/><circle cx="103.9" cy="107.0" r="0.8"/><circle cx="8.7" cy="48.7" r="0.9"/><circle cx="34.6" cy="74.6" r="1.2"/><circle cx="229.4" cy="160.6" r="0.8"/><circle cx="164.2" cy="57.4" r="1.1"/><circle cx="208.5" cy="63.0" r="1.2"/><circle cx="221.2" cy="80.2" r="0.9"/><circle cx="18.4" cy="37.2" r="0.9"/><circle cx="190.1" cy="12.9" r="1.2"/><circle cx="161.1" cy="35.8" r="1.3"/><circle cx="112.3" cy="117.0" r="1.0"/><circle cx="94.1" cy="38.1" r="0.8"/><circle cx="119.4" cy="156.2" r="1.4"/><circle cx="244.1" cy="78.4" r="1.1"/><circle cx="212.5" cy="146.8" r="0.9"/><circle cx="82.4" cy="6.3" r="1.3"/><circle cx="194.1" cy="29.5" r="1.4"/><circle cx="26.1" cy="79.2" r="1.2"/><circle cx="93.7" cy="103.7" r="1.3"/><circle cx="26.1" cy="164.9" r="0.8"/><circle cx="111.6" cy="119.3" r="0.8"/><circle cx="208.3" cy="108.1" r="1.3"/><circle cx="77.1" cy="23.8" r="0.8"/><circle cx="232.6" cy="34.7" r="1.0"/><circle cx="12.6" cy="145.3" r="0.7"/><circle cx="52.7" cy="159.3" r="0.8"/><circle cx="228.7" cy="146.7" r="0.8"/><circle cx="254.6" cy="54.1" r="1.4"/><circle cx="214.4" cy="61.9" r="1.2"/><circle cx="29.6" cy="52.8" r="0.7"/><circle cx="218.3" cy="89.5" r="0.7"/><circle cx="158.8" cy="73.6" r="1.1"/><circle cx="33.4" cy="45.2" r="1.1"/><circle cx="68.0" cy="10.8" r="0.9"/><circle cx="105.2" cy="57.4" r="1.0"/><circle cx="228.8" cy="171.3" r="1.0"/><circle cx="11.8" cy="62.3" r="1.2"/><circle cx="187.3" cy="64.8" r="1.0"/><circle cx="34.4" cy="83.6" r="1.0"/><circle cx="149.6" cy="105.9" r="1.1"/><circle cx="60.3" cy="136.5" r="0.8"/><circle cx="108.8" cy="71.7" r="0.9"/><circle cx="2.6" cy="114.7" r="0.8"/><circle cx="49.1" cy="69.8" r="1.0"/><circle cx="111.8" cy="151.4" r="1.3"/><circle cx="193.2" cy="21.1" r="0.7"/><circle cx="189.8" cy="3.0" r="0.8"/><circle cx="233.0" cy="51.6" r="1.0"/><circle cx="15.9" cy="79.5" r="1.2"/><circle cx="36.9" cy="35.5" r="1.0"/><circle cx="85.6" cy="118.5" r="1.0"/><circle cx="9.2" cy="154.2" r="0.7"/><circle cx="231.7" cy="124.4" r="1.1"/><circle cx="244.1" cy="134.5" r="0.8"/><circle cx="33.5" cy="91.2" r="0.9"/><circle cx="197.7" cy="18.0" r="0.8"/><circle cx="196.0" cy="158.3" r="0.8"/><circle cx="51.0" cy="53.6" r="1.4"/><circle cx="101.4" cy="139.5" r="1.2"/><circle cx="232.5" cy="166.8" r="1.1"/><circle cx="112.9" cy="30.1" r="0.7"/><circle cx="160.2" cy="62.6" r="1.1"/><circle cx="117.1" cy="86.0" r="1.4"/><circle cx="7.6" cy="43.3" r="1.0"/><circle cx="24.6" cy="15.4" r="1.1"/><circle cx="21.0" cy="102.7" r="1.3"/><circle cx="144.1" cy="135.5" r="1.3"/><circle cx="98.7" cy="99.8" r="0.9"/><circle cx="30.4" cy="155.8" r="1.0"/><circle cx="253.2" cy="109.8" r="1.4"/><circle cx="251.9" cy="39.1" r="0.8"/><circle cx="51.7" cy="82.8" r="0.9"/><circle cx="251.1" cy="1.6" r="0.7"/><circle cx="87.3" cy="67.5" r="1.3"/><circle cx="184.7" cy="131.9" r="0.9"/><circle cx="240.7" cy="58.2" r="0.9"/><circle cx="183.2" cy="160.3" r="1.4"/><circle cx="247.3" cy="66.1" r="0.8"/><circle cx="47.8" cy="77.8" r="1.3"/><circle cx="108.0" cy="119.0" r="0.9"/><circle cx="181.4" cy="84.3" r="1.3"/><circle cx="112.9" cy="51.5" r="1.1"/><circle cx="30.8" cy="156.2" r="0.7"/><circle cx="16.6" cy="173.5" r="1.3"/><circle cx="142.2" cy="43.1" r="1.4"/><circle cx="15.9" cy="111.5" r="1.3"/><circle cx="75.4" cy="95.8" r="0.8"/><circle cx="22.9" cy="78.3" r="0.9"/><circle cx="59.3" cy="38.1" r="0.9"/><circle cx="193.8" cy="143.7" r="1.2"/><circle cx="208.8" cy="80.2" r="0.7"/><circle cx="165.8" cy="18.4" r="1.1"/><circle cx="19.5" cy="39.7" r="1.2"/><circle cx="191.8" cy="86.2" r="1.3"/><circle cx="87.2" cy="153.0" r="1.1"/><circle cx="150.7" cy="79.0" r="1.0"/><circle cx="64.9" cy="2.2" r="1.3"/><circle cx="40.2" cy="1.8" r="1.0"/><circle cx="241.5" cy="40.9" r="1.3"/><circle cx="53.3" cy="65.8" r="1.2"/><circle cx="124.8" cy="62.4" r="1.4"/><circle cx="247.0" cy="10.1" r="0.8"/><circle cx="81.1" cy="54.5" r="0.7"/><circle cx="65.4" cy="24.5" r="1.0"/><circle cx="110.5" cy="69.7" r="1.4"/><circle cx="90.3" cy="58.3" r="1.1"/><circle cx="46.6" cy="39.0" r="1.2"/><circle cx="112.2" cy="107.2" r="1.1"/><circle cx="16.1" cy="68.8" r="1.0"/><circle cx="152.8" cy="3.3" r="0.9"/><circle cx="199.9" cy="154.9" r="1.4"/><circle cx="160.4" cy="14.3" r="0.8"/><circle cx="199.7" cy="43.6" r="0.8"/><circle cx="157.7" cy="11.9" r="0.8"/><circle cx="215.4" cy="122.0" r="1.3"/><circle cx="69.8" cy="146.6" r="0.7"/><circle cx="169.4" cy="135.0" r="1.2"/><circle cx="198.1" cy="173.6" r="1.1"/><circle cx="243.3" cy="143.6" r="1.1"/><circle cx="146.6" cy="11.9" r="1.0"/><circle cx="235.1" cy="163.5" r="1.0"/><circle cx="164.4" cy="76.1" r="0.7"/><circle cx="24.4" cy="27.0" r="1.0"/><circle cx="144.3" cy="104.3" r="1.0"/><circle cx="225.9" cy="28.1" r="1.1"/><circle cx="62.1" cy="12.3" r="0.9"/><circle cx="205.9" cy="97.3" r="1.2"/><circle cx="81.0" cy="48.7" r="1.2"/><circle cx="111.2" cy="42.4" r="0.8"/><circle cx="175.2" cy="116.0" r="0.7"/><circle cx="76.9" cy="148.6" r="1.1"/><circle cx="61.3" cy="95.5" r="0.9"/><circle cx="46.3" cy="22.0" r="1.1"/><circle cx="104.1" cy="112.1" r="0.9"/><circle cx="71.8" cy="46.6" r="1.4"/><circle cx="220.7" cy="30.5" r="1.1"/><circle cx="150.8" cy="159.7" r="0.8"/><circle cx="195.1" cy="120.5" r="1.0"/><circle cx="100.0" cy="11.1" r="0.8"/><circle cx="144.6" cy="45.0" r="1.3"/><circle cx="210.5" cy="130.0" r="0.8"/><circle cx="13.5" cy="132.7" r="1.3"/><circle cx="240.0" cy="115.8" r="1.0"/><circle cx="175.0" cy="91.9" r="1.1"/><circle cx="26.5" cy="68.1" r="0.7"/><circle cx="19.9" cy="61.3" r="1.2"/><circle cx="167.3" cy="103.6" r="1.0"/><circle cx="254.4" cy="123.9" r="0.9"/><circle cx="231.8" cy="10.2" r="1.2"/><circle cx="139.2" cy="23.1" r="1.2"/><circle cx="194.2" cy="40.4" r="0.7"/><circle cx="253.2" cy="97.7" r="0.8"/><circle cx="183.9" cy="9.7" r="0.9"/><circle cx="250.2" cy="55.9" r="0.7"/><circle cx="174.4" cy="76.1" r="1.2"/><circle cx="252.4" cy="50.9" r="0.9"/><circle cx="245.6" cy="24.9" r="0.9"/><circle cx="23.4" cy="76.0" r="1.3"/><circle cx="92.4" cy="42.1" r="1.1"/><circle cx="74.0" cy="90.4" r="0.8"/><circle cx="181.0" cy="76.1" r="1.1"/><circle cx="225.6" cy="141.8" r="1.4"/><circle cx="29.2" cy="63.5" r="1.2"/><circle cx="209.2" cy="85.6" r="1.1"/><circle cx="9.8" cy="38.9" r="1.1"/></g><circle cx="197.9" cy="52.6" r="1.4" fill="#686795" opacity="0.84"/><ellipse transform="translate(192.8 49.2) rotate(130)" rx="1.5" ry="1.2" fill="#76749c" opacity="0.66"/><circle cx="196.4" cy="46.3" r="1.3" fill="#47467f" opacity="0.74"/><circle cx="198.6" cy="58.0" r="1.4" fill="#5c5b8f" opacity="0.71"/><ellipse transform="translate(205.2 56.3) rotate(74)" rx="1.4" ry="1.1" fill="#5c5b8f" opacity="0.85"/><ellipse transform="translate(211.4 53.0) rotate(132)" rx="1.6" ry="1.2" fill="#8684a4" opacity="0.72"/><ellipse transform="translate(205.1 49.5) rotate(1)" rx="1.5" ry="1.1" fill="#515088" opacity="0.74"/><circle cx="200.6" cy="43.1" r="1.3" fill="#515088" opacity="0.90"/><circle cx="190.6" cy="40.6" r="1.4" fill="#47467f" opacity="0.80"/><circle cx="192.4" cy="33.2" r="1.3" fill="#5c5b8f" opacity="0.78"/><circle cx="209.1" cy="47.0" r="1.3" fill="#5c5b8f" opacity="0.69"/><ellipse transform="translate(207.1 38.7) rotate(122)" rx="1.5" ry="1.2" fill="#8684a4" opacity="0.95"/><ellipse transform="translate(205.3 42.9) rotate(33)" rx="1.3" ry="1.2" fill="#47467f" opacity="0.66"/><circle cx="202.0" cy="52.6" r="1.5" fill="#76749c" opacity="0.76"/><circle cx="191.1" cy="55.6" r="1.3" fill="#5c5b8f" opacity="0.98"/><circle cx="212.4" cy="33.9" r="1.5" fill="#5c5b8f" opacity="0.78"/><circle cx="186.3" cy="33.8" r="1.3" fill="#8684a4" opacity="0.87"/><circle cx="205.6" cy="34.4" r="1.4" fill="#515088" opacity="0.76"/><ellipse transform="translate(215.3 51.3) rotate(4)" rx="1.4" ry="1.2" fill="#686795" opacity="0.99"/><ellipse transform="translate(213.2 57.0) rotate(145)" rx="1.4" ry="1.1" fill="#8684a4" opacity="0.76"/><ellipse transform="translate(216.8 60.5) rotate(83)" rx="1.4" ry="1.1" fill="#76749c" opacity="0.99"/><circle cx="201.2" cy="48.1" r="1.5" fill="#76749c" opacity="0.91"/><circle cx="185.5" cy="47.0" r="1.4" fill="#5c5b8f" opacity="0.83"/><ellipse transform="translate(213.0 41.1) rotate(121)" rx="1.4" ry="1.1" fill="#686795" opacity="0.82"/><ellipse transform="translate(203.0 37.7) rotate(29)" rx="1.5" ry="1.3" fill="#47467f" opacity="0.73"/><circle cx="206.5" cy="61.1" r="1.5" fill="#515088" opacity="0.78"/><ellipse transform="translate(217.9 54.9) rotate(46)" rx="1.4" ry="1.3" fill="#8684a4" opacity="0.85"/><ellipse transform="translate(196.6 33.6) rotate(120)" rx="1.4" ry="1.2" fill="#47467f" opacity="0.74"/><ellipse transform="translate(203.9 29.4) rotate(17)" rx="1.5" ry="1.2" fill="#8684a4" opacity="0.85"/><ellipse transform="translate(211.2 67.2) rotate(80)" rx="1.7" ry="1.2" fill="#76749c" opacity="0.98"/><circle cx="219.4" cy="35.6" r="1.3" fill="#5c5b8f" opacity="0.84"/><circle cx="202.5" cy="62.5" r="1.3" fill="#8684a4" opacity="0.90"/><ellipse transform="translate(198.0 39.2) rotate(170)" rx="1.3" ry="1.2" fill="#515088" opacity="0.85"/><ellipse transform="translate(191.2 60.4) rotate(87)" rx="1.5" ry="1.3" fill="#5c5b8f" opacity="0.84"/><ellipse transform="translate(194.8 26.2) rotate(40)" rx="1.5" ry="1.2" fill="#5c5b8f" opacity="0.89"/><circle cx="211.1" cy="60.9" r="1.3" fill="#8684a4" opacity="0.70"/><circle cx="220.3" cy="42.7" r="1.4" fill="#47467f" opacity="0.95"/><ellipse transform="translate(223.7 51.9) rotate(36)" rx="1.6" ry="1.2" fill="#47467f" opacity="0.99"/><circle cx="181.2" cy="45.1" r="1.6" fill="#76749c" opacity="0.81"/><ellipse transform="translate(215.3 47.1) rotate(16)" rx="1.4" ry="1.2" fill="#76749c" opacity="0.77"/><circle cx="182.9" cy="37.4" r="1.4" fill="#686795" opacity="0.99"/><circle cx="221.9" cy="47.3" r="1.4" fill="#686795" opacity="0.94"/><ellipse transform="translate(192.6 66.2) rotate(69)" rx="1.6" ry="1.3" fill="#515088" opacity="0.90"/><circle cx="198.2" cy="64.9" r="1.4" fill="#8684a4" opacity="0.75"/><ellipse transform="translate(206.3 67.9) rotate(89)" rx="1.5" ry="1.2" fill="#76749c" opacity="0.96"/><ellipse transform="translate(186.8 28.2) rotate(61)" rx="1.7" ry="1.5" fill="#686795" opacity="0.89"/><ellipse transform="translate(186.0 41.0) rotate(22)" rx="1.7" ry="1.4" fill="#47467f" opacity="0.85"/><ellipse transform="translate(189.4 23.0) rotate(134)" rx="1.6" ry="1.3" fill="#515088" opacity="0.75"/><ellipse transform="translate(200.9 69.4) rotate(61)" rx="1.3" ry="1.2" fill="#47467f" opacity="0.88"/><ellipse transform="translate(191.4 45.0) rotate(171)" rx="1.6" ry="1.3" fill="#76749c" opacity="0.98"/><circle cx="187.7" cy="70.0" r="1.3" fill="#515088" opacity="0.65"/><circle cx="199.6" cy="22.0" r="1.4" fill="#76749c" opacity="0.75"/><circle cx="224.5" cy="42.9" r="1.3" fill="#8684a4" opacity="0.73"/><circle cx="184.5" cy="24.5" r="1.3" fill="#47467f" opacity="0.78"/><ellipse transform="translate(218.8 66.3) rotate(85)" rx="1.4" ry="1.2" fill="#686795" opacity="0.96"/><circle cx="191.3" cy="28.4" r="1.5" fill="#76749c" opacity="0.93"/><ellipse transform="translate(225.0 37.1) rotate(6)" rx="1.6" ry="1.4" fill="#76749c" opacity="0.69"/><ellipse transform="translate(215.5 36.9) rotate(86)" rx="1.4" ry="1.2" fill="#47467f" opacity="0.88"/><ellipse transform="translate(180.3 30.2) rotate(52)" rx="1.5" ry="1.2" fill="#5c5b8f" opacity="0.77"/><ellipse transform="translate(174.9 26.0) rotate(143)" rx="1.7" ry="1.5" fill="#515088" opacity="0.75"/><circle cx="223.4" cy="58.9" r="1.4" fill="#5c5b8f" opacity="0.75"/><circle cx="214.8" cy="64.1" r="1.4" fill="#47467f" opacity="0.93"/><ellipse transform="translate(189.4 18.2) rotate(128)" rx="1.6" ry="1.4" fill="#5c5b8f" opacity="0.87"/><circle cx="194.9" cy="70.4" r="1.4" fill="#76749c" opacity="0.82"/><circle cx="197.1" cy="76.4" r="1.4" fill="#47467f" opacity="0.88"/><ellipse transform="translate(201.6 73.8) rotate(172)" rx="1.6" ry="1.2" fill="#47467f" opacity="0.81"/><ellipse transform="translate(180.4 25.5) rotate(142)" rx="1.6" ry="1.3" fill="#515088" opacity="0.81"/><circle cx="176.3" cy="38.6" r="1.4" fill="#8684a4" opacity="0.81"/><ellipse transform="translate(199.7 30.1) rotate(16)" rx="1.7" ry="1.2" fill="#686795" opacity="0.81"/><ellipse transform="translate(218.6 31.3) rotate(82)" rx="1.7" ry="1.4" fill="#515088" opacity="0.97"/><ellipse transform="translate(230.0 42.8) rotate(166)" rx="1.5" ry="1.1" fill="#686795" opacity="0.66"/><circle cx="189.1" cy="74.0" r="1.3" fill="#5c5b8f" opacity="0.66"/><ellipse transform="translate(209.4 29.2) rotate(144)" rx="1.5" ry="1.1" fill="#47467f" opacity="0.66"/><circle cx="199.0" cy="14.9" r="1.6" fill="#5c5b8f" opacity="0.77"/><ellipse transform="translate(203.0 25.3) rotate(145)" rx="1.6" ry="1.2" fill="#76749c" opacity="0.89"/><ellipse transform="translate(223.0 30.4) rotate(92)" rx="1.7" ry="1.1" fill="#47467f" opacity="0.86"/><ellipse transform="translate(210.6 73.2) rotate(31)" rx="1.5" ry="1.2" fill="#686795" opacity="0.95"/><circle cx="208.8" cy="24.8" r="1.3" fill="#8684a4" opacity="0.93"/><ellipse transform="translate(187.7 64.0) rotate(167)" rx="1.7" ry="1.2" fill="#47467f" opacity="0.99"/><circle cx="222.3" cy="24.9" r="1.4" fill="#8684a4" opacity="0.82"/><ellipse transform="translate(231.5 46.7) rotate(124)" rx="1.7" ry="1.2" fill="#47467f" opacity="0.91"/><circle cx="182.8" cy="72.3" r="1.3" fill="#8684a4" opacity="0.93"/><ellipse transform="translate(226.7 48.9) rotate(150)" rx="1.7" ry="1.1" fill="#5c5b8f" opacity="0.69"/><circle cx="215.2" cy="26.8" r="1.4" fill="#8684a4" opacity="0.69"/><circle cx="238.8" cy="48.2" r="1.4" fill="#8684a4" opacity="0.93"/><ellipse transform="translate(177.2 68.9) rotate(78)" rx="1.6" ry="1.4" fill="#76749c" opacity="0.94"/><ellipse transform="translate(214.8 20.8) rotate(13)" rx="1.7" ry="1.2" fill="#5c5b8f" opacity="0.67"/><circle cx="181.0" cy="18.6" r="1.4" fill="#76749c" opacity="0.96"/><ellipse transform="translate(176.0 18.0) rotate(97)" rx="1.3" ry="1.1" fill="#686795" opacity="0.95"/><circle cx="229.5" cy="52.4" r="1.4" fill="#76749c" opacity="0.85"/><circle cx="228.1" cy="58.4" r="1.3" fill="#8684a4" opacity="0.71"/><circle cx="210.4" cy="17.6" r="1.4" fill="#76749c" opacity="0.67"/><ellipse transform="translate(206.0 16.9) rotate(36)" rx="1.6" ry="1.4" fill="#8684a4" opacity="0.69"/><ellipse transform="translate(232.0 35.4) rotate(109)" rx="1.4" ry="1.1" fill="#515088" opacity="0.65"/><circle cx="187.2" cy="50.8" r="1.5" fill="#8684a4" opacity="0.92"/><circle cx="232.1" cy="59.3" r="1.4" fill="#686795" opacity="0.72"/><circle cx="178.2" cy="74.2" r="1.4" fill="#5c5b8f" opacity="0.72"/><ellipse transform="translate(234.1 40.9) rotate(61)" rx="1.4" ry="1.1" fill="#515088" opacity="0.81"/><circle cx="207.5" cy="20.8" r="1.5" fill="#515088" opacity="0.73"/><circle cx="194.8" cy="41.8" r="1.3" fill="#8684a4" opacity="0.76"/><ellipse transform="translate(236.8 53.2) rotate(144)" rx="1.3" ry="1.1" fill="#5c5b8f" opacity="0.77"/><circle cx="237.1" cy="57.6" r="1.4" fill="#5c5b8f" opacity="0.75"/><ellipse transform="translate(202.3 78.4) rotate(12)" rx="1.6" ry="1.1" fill="#47467f" opacity="0.87"/><ellipse transform="translate(227.0 29.5) rotate(80)" rx="1.4" ry="1.2" fill="#5c5b8f" opacity="0.67"/><ellipse transform="translate(174.3 75.6) rotate(161)" rx="1.5" ry="1.2" fill="#8684a4" opacity="0.86"/><ellipse transform="translate(241.0 51.9) rotate(66)" rx="1.5" ry="1.3" fill="#8684a4" opacity="0.93"/><ellipse transform="translate(226.5 24.6) rotate(123)" rx="1.7" ry="1.3" fill="#47467f" opacity="0.87"/><ellipse transform="translate(207.1 76.9) rotate(62)" rx="1.4" ry="1.2" fill="#76749c" opacity="0.66"/><circle cx="183.4" cy="52.6" r="1.3" fill="#47467f" opacity="0.77"/><circle cx="208.5" cy="13.5" r="1.3" fill="#515088" opacity="0.69"/><ellipse transform="translate(220.6 20.2) rotate(83)" rx="1.3" ry="1.1" fill="#47467f" opacity="0.85"/><circle cx="233.3" cy="27.8" r="1.4" fill="#76749c" opacity="0.66"/><ellipse transform="translate(184.9 20.3) rotate(175)" rx="1.6" ry="1.1" fill="#47467f" opacity="1.00"/><ellipse transform="translate(238.9 43.6) rotate(161)" rx="1.5" ry="1.2" fill="#5c5b8f" opacity="0.87"/><ellipse transform="translate(218.5 12.8) rotate(78)" rx="1.4" ry="1.2" fill="#8684a4" opacity="0.97"/><circle cx="183.7" cy="68.2" r="1.3" fill="#76749c" opacity="0.78"/><ellipse transform="translate(194.0 15.0) rotate(4)" rx="1.5" ry="1.3" fill="#5c5b8f" opacity="0.86"/><circle cx="225.5" cy="20.7" r="1.3" fill="#8684a4" opacity="0.70"/><ellipse transform="translate(222.3 63.6) rotate(103)" rx="1.6" ry="1.3" fill="#5c5b8f" opacity="0.72"/><circle cx="191.7" cy="77.6" r="1.5" fill="#8684a4" opacity="0.93"/><ellipse transform="translate(216.2 76.9) rotate(112)" rx="1.3" ry="1.1" fill="#76749c" opacity="0.86"/><ellipse transform="translate(225.2 68.5) rotate(76)" rx="1.5" ry="1.3" fill="#5c5b8f" opacity="0.91"/><circle cx="193.0" cy="10.4" r="1.5" fill="#515088" opacity="0.98"/><circle cx="213.5" cy="11.6" r="1.4" fill="#76749c" opacity="0.69"/><ellipse transform="translate(220.2 75.0) rotate(134)" rx="1.6" ry="1.1" fill="#76749c" opacity="0.81"/><circle cx="177.5" cy="64.7" r="1.4" fill="#5c5b8f" opacity="0.86"/><ellipse transform="translate(244.3 55.1) rotate(163)" rx="1.5" ry="1.2" fill="#5c5b8f" opacity="0.85"/><circle cx="174.7" cy="81.8" r="1.4" fill="#8684a4" opacity="0.78"/><ellipse transform="translate(187.4 58.8) rotate(24)" rx="1.3" ry="1.1" fill="#76749c" opacity="0.69"/><circle cx="229.7" cy="21.7" r="1.4" fill="#76749c" opacity="0.79"/><ellipse transform="translate(217.2 17.0) rotate(166)" rx="1.7" ry="1.1" fill="#686795" opacity="0.92"/><circle cx="187.4" cy="13.6" r="1.3" fill="#47467f" opacity="0.77"/><ellipse transform="translate(187.5 78.0) rotate(117)" rx="1.6" ry="1.1" fill="#76749c" opacity="0.83"/><circle cx="240.3" cy="27.0" r="1.3" fill="#686795" opacity="0.86"/><circle cx="178.3" cy="14.1" r="1.5" fill="#686795" opacity="0.87"/><ellipse transform="translate(223.6 15.4) rotate(35)" rx="1.6" ry="1.1" fill="#76749c" opacity="0.82"/><ellipse transform="translate(206.6 81.9) rotate(26)" rx="1.6" ry="1.3" fill="#47467f" opacity="0.77"/><circle cx="206.0" cy="9.4" r="1.3" fill="#47467f" opacity="0.78"/><circle cx="183.3" cy="6.5" r="1.4" fill="#5c5b8f" opacity="0.91"/><ellipse transform="translate(211.0 6.3) rotate(33)" rx="1.5" ry="1.1" fill="#76749c" opacity="0.96"/><circle cx="182.8" cy="14.6" r="1.4" fill="#76749c" opacity="0.93"/><circle cx="169.6" cy="70.3" r="1.5" fill="#76749c" opacity="0.84"/><ellipse transform="translate(196.1 80.6) rotate(29)" rx="1.5" ry="1.2" fill="#5c5b8f" opacity="0.97"/><ellipse transform="translate(216.8 7.2) rotate(10)" rx="1.7" ry="1.2" fill="#686795" opacity="0.81"/><circle cx="239.5" cy="61.2" r="1.5" fill="#47467f" opacity="0.86"/><ellipse transform="translate(230.3 78.7) rotate(156)" rx="1.6" ry="1.3" fill="#5c5b8f" opacity="0.78"/><ellipse transform="translate(171.9 37.2) rotate(141)" rx="1.5" ry="1.2" fill="#47467f" opacity="0.71"/><circle cx="230.0" cy="66.4" r="1.3" fill="#47467f" opacity="0.99"/><circle cx="237.7" cy="22.1" r="1.3" fill="#686795" opacity="0.94"/><circle cx="167.5" cy="79.9" r="1.4" fill="#686795" opacity="0.94"/><ellipse transform="translate(233.6 83.9) rotate(118)" rx="1.3" ry="1.1" fill="#5c5b8f" opacity="0.68"/><circle cx="183.5" cy="82.7" r="1.3" fill="#5c5b8f" opacity="0.72"/><circle cx="233.0" cy="17.8" r="1.4" fill="#686795" opacity="0.97"/><ellipse transform="translate(244.2 45.2) rotate(68)" rx="1.6" ry="1.2" fill="#8684a4" opacity="0.72"/><ellipse transform="translate(230.5 70.8) rotate(31)" rx="1.3" ry="1.1" fill="#515088" opacity="0.82"/><circle cx="205.6" cy="4.5" r="1.3" fill="#686795" opacity="0.68"/><ellipse transform="translate(225.9 11.8) rotate(166)" rx="1.5" ry="1.2" fill="#8684a4" opacity="0.80"/><circle cx="230.1" cy="12.6" r="1.4" fill="#8684a4" opacity="0.73"/><circle cx="218.7" cy="71.1" r="1.3" fill="#5c5b8f" opacity="0.72"/><circle cx="181.1" cy="10.1" r="1.3" fill="#76749c" opacity="0.75"/><ellipse transform="translate(176.2 31.0) rotate(106)" rx="1.4" ry="1.1" fill="#47467f" opacity="0.97"/><ellipse transform="translate(237.6 69.3) rotate(140)" rx="1.4" ry="1.2" fill="#8684a4" opacity="0.66"/><ellipse transform="translate(178.9 79.7) rotate(10)" rx="1.7" ry="1.2" fill="#47467f" opacity="0.69"/><circle cx="223.6" cy="7.0" r="1.3" fill="#515088" opacity="0.73"/><circle cx="179.9" cy="86.0" r="1.4" fill="#5c5b8f" opacity="0.82"/><ellipse transform="translate(176.4 4.2) rotate(117)" rx="1.4" ry="1.3" fill="#515088" opacity="0.80"/><circle cx="183.5" cy="77.1" r="1.5" fill="#8684a4" opacity="0.81"/><ellipse transform="translate(235.5 62.5) rotate(50)" rx="1.7" ry="1.1" fill="#5c5b8f" opacity="0.69"/><ellipse transform="translate(170.1 5.9) rotate(125)" rx="1.5" ry="1.1" fill="#76749c" opacity="0.91"/><circle cx="195.7" cy="93.0" r="1.4" fill="#47467f" opacity="0.73"/><ellipse transform="translate(183.1 59.4) rotate(66)" rx="1.6" ry="1.3" fill="#76749c" opacity="0.65"/><ellipse transform="translate(192.7 3.0) rotate(106)" rx="1.4" ry="1.2" fill="#686795" opacity="0.96"/><ellipse transform="translate(167.2 27.7) rotate(26)" rx="1.5" ry="1.1" fill="#5c5b8f" opacity="0.93"/><circle cx="250.0" cy="47.2" r="1.5" fill="#5c5b8f" opacity="0.98"/><ellipse transform="translate(171.4 32.0) rotate(110)" rx="1.7" ry="1.5" fill="#515088" opacity="0.98"/><circle cx="178.7" cy="50.3" r="1.4" fill="#8684a4" opacity="0.93"/><circle cx="223.2" cy="87.0" r="1.3" fill="#515088" opacity="0.77"/><circle cx="247.1" cy="58.5" r="1.3" fill="#8684a4" opacity="0.70"/><ellipse transform="translate(233.3 50.9) rotate(114)" rx="1.6" ry="1.3" fill="#686795" opacity="0.97"/><ellipse transform="translate(195.0 97.2) rotate(81)" rx="1.4" ry="1.1" fill="#76749c" opacity="0.66"/><circle cx="242.5" cy="41.3" r="1.3" fill="#47467f" opacity="0.70"/><ellipse transform="translate(196.4 8.1) rotate(18)" rx="1.4" ry="1.3" fill="#8684a4" opacity="0.90"/><ellipse transform="translate(182.4 97.6) rotate(39)" rx="1.4" ry="1.2" fill="#8684a4" opacity="0.99"/><ellipse transform="translate(178.5 90.7) rotate(28)" rx="1.6" ry="1.2" fill="#515088" opacity="0.81"/><ellipse transform="translate(237.0 17.0) rotate(134)" rx="1.7" ry="1.4" fill="#76749c" opacity="0.69"/><circle cx="183.6" cy="63.8" r="1.4" fill="#47467f" opacity="0.68"/><ellipse transform="translate(177.5 59.0) rotate(38)" rx="1.7" ry="1.3" fill="#515088" opacity="0.79"/><ellipse transform="translate(173.0 65.4) rotate(112)" rx="1.7" ry="1.3" fill="#686795" opacity="0.69"/><ellipse transform="translate(194.5 -1.0) rotate(96)" rx="1.4" ry="1.2" fill="#47467f" opacity="0.66"/><ellipse transform="translate(169.0 85.8) rotate(23)" rx="1.3" ry="1.1" fill="#515088" opacity="0.79"/><ellipse transform="translate(233.4 74.1) rotate(59)" rx="1.5" ry="1.2" fill="#515088" opacity="0.81"/><ellipse transform="translate(181.4 2.1) rotate(133)" rx="1.5" ry="1.1" fill="#686795" opacity="0.66"/><ellipse transform="translate(171.0 42.3) rotate(1)" rx="1.3" ry="1.1" fill="#47467f" opacity="0.81"/><ellipse transform="translate(188.6 7.8) rotate(39)" rx="1.4" ry="1.3" fill="#76749c" opacity="0.80"/><ellipse transform="translate(209.4 89.6) rotate(128)" rx="1.6" ry="1.1" fill="#5c5b8f" opacity="1.00"/><circle cx="235.0" cy="11.9" r="1.3" fill="#515088" opacity="0.77"/><ellipse transform="translate(170.8 51.7) rotate(81)" rx="1.6" ry="1.1" fill="#5c5b8f" opacity="0.93"/><ellipse transform="translate(217.6 2.9) rotate(51)" rx="1.4" ry="1.3" fill="#76749c" opacity="0.66"/><circle cx="187.3" cy="95.3" r="1.3" fill="#8684a4" opacity="0.69"/><ellipse transform="translate(173.2 46.4) rotate(134)" rx="1.3" ry="1.1" fill="#8684a4" opacity="0.75"/><ellipse transform="translate(180.1 40.8) rotate(174)" rx="1.3" ry="1.2" fill="#686795" opacity="0.95"/><circle cx="214.3" cy="87.9" r="1.4" fill="#515088" opacity="0.80"/><ellipse transform="translate(172.8 13.8) rotate(49)" rx="1.3" ry="1.1" fill="#76749c" opacity="0.94"/><ellipse transform="translate(187.1 2.5) rotate(118)" rx="1.5" ry="1.3" fill="#5c5b8f" opacity="0.82"/><circle cx="228.0" cy="82.5" r="1.4" fill="#47467f" opacity="0.84"/><ellipse transform="translate(176.1 9.5) rotate(173)" rx="1.7" ry="1.1" fill="#76749c" opacity="0.88"/><circle cx="175.7" cy="-0.8" r="1.4" fill="#47467f" opacity="0.71"/><circle cx="249.8" cy="53.4" r="1.4" fill="#5c5b8f" opacity="0.79"/><ellipse transform="translate(166.8 36.9) rotate(156)" rx="1.5" ry="1.2" fill="#47467f" opacity="0.72"/><circle cx="164.0" cy="73.8" r="1.3" fill="#76749c" opacity="0.82"/><ellipse transform="translate(167.7 47.6) rotate(100)" rx="1.5" ry="1.1" fill="#47467f" opacity="0.80"/><ellipse transform="translate(175.5 54.4) rotate(150)" rx="1.5" ry="1.3" fill="#76749c" opacity="0.76"/><ellipse transform="translate(239.9 65.8) rotate(135)" rx="1.6" ry="1.4" fill="#47467f" opacity="0.95"/><circle cx="218.4" cy="86.8" r="1.3" fill="#76749c" opacity="0.68"/><ellipse transform="translate(179.0 34.0) rotate(122)" rx="1.6" ry="1.2" fill="#8684a4" opacity="0.70"/><ellipse transform="translate(161.2 81.3) rotate(171)" rx="1.7" ry="1.4" fill="#5c5b8f" opacity="0.89"/><ellipse transform="translate(174.7 88.0) rotate(10)" rx="1.7" ry="1.1" fill="#47467f" opacity="0.68"/><ellipse transform="translate(169.5 24.0) rotate(131)" rx="1.5" ry="1.2" fill="#5c5b8f" opacity="0.89"/><ellipse transform="translate(176.7 22.3) rotate(128)" rx="1.3" ry="1.1" fill="#8684a4" opacity="0.69"/><circle cx="180.3" cy="56.0" r="1.5" fill="#47467f" opacity="0.97"/><ellipse transform="translate(185.9 100.2) rotate(76)" rx="1.7" ry="1.3" fill="#47467f" opacity="0.98"/><ellipse transform="translate(188.1 -1.6) rotate(145)" rx="1.4" ry="1.1" fill="#686795" opacity="0.71"/><circle cx="221.0" cy="90.6" r="1.3" fill="#47467f" opacity="0.91"/><ellipse transform="translate(174.3 95.7) rotate(177)" rx="1.5" ry="1.1" fill="#8684a4" opacity="0.87"/><circle cx="227.3" cy="62.7" r="1.3" fill="#76749c" opacity="0.77"/><circle cx="172.7" cy="58.2" r="1.5" fill="#5c5b8f" opacity="0.95"/><ellipse transform="translate(169.6 19.5) rotate(172)" rx="1.5" ry="1.1" fill="#76749c" opacity="0.68"/><ellipse transform="translate(236.3 90.3) rotate(38)" rx="1.6" ry="1.3" fill="#5c5b8f" opacity="0.84"/><ellipse transform="translate(243.6 31.9) rotate(76)" rx="1.6" ry="1.2" fill="#5c5b8f" opacity="0.77"/><ellipse transform="translate(164.4 17.0) rotate(35)" rx="1.3" ry="1.1" fill="#76749c" opacity="0.93"/><ellipse transform="translate(247.3 25.5) rotate(67)" rx="1.6" ry="1.2" fill="#8684a4" opacity="0.87"/><circle cx="242.1" cy="17.8" r="1.3" fill="#515088" opacity="0.75"/><ellipse transform="translate(244.0 61.4) rotate(172)" rx="1.7" ry="1.1" fill="#47467f" opacity="0.96"/><circle cx="243.8" cy="81.8" r="1.5" fill="#76749c" opacity="0.83"/><circle cx="165.7" cy="21.2" r="1.3" fill="#686795" opacity="0.67"/><circle cx="245.5" cy="66.4" r="1.3" fill="#76749c" opacity="0.68"/><ellipse transform="translate(166.0 11.6) rotate(169)" rx="1.6" ry="1.1" fill="#5c5b8f" opacity="0.73"/><ellipse transform="translate(176.4 43.2) rotate(56)" rx="1.6" ry="1.2" fill="#8684a4" opacity="0.92"/><circle cx="232.3" cy="6.3" r="1.4" fill="#47467f" opacity="0.75"/><circle cx="242.1" cy="12.3" r="1.5" fill="#47467f" opacity="0.85"/><circle cx="169.8" cy="0.8" r="1.3" fill="#8684a4" opacity="0.82"/><ellipse transform="translate(162.7 89.2) rotate(41)" rx="1.5" ry="1.2" fill="#8684a4" opacity="0.74"/><ellipse transform="translate(162.0 52.0) rotate(102)" rx="1.6" ry="1.4" fill="#5c5b8f" opacity="0.90"/><circle cx="249.9" cy="75.4" r="1.5" fill="#686795" opacity="0.87"/><ellipse transform="translate(254.4 24.1) rotate(93)" rx="1.7" ry="1.4" fill="#76749c" opacity="0.89"/><circle cx="170.4" cy="89.9" r="1.4" fill="#8684a4" opacity="0.69"/><circle cx="251.8" cy="18.3" r="1.4" fill="#5c5b8f" opacity="0.95"/><ellipse transform="translate(227.6 3.9) rotate(57)" rx="1.6" ry="1.3" fill="#5c5b8f" opacity="0.93"/><circle cx="159.0" cy="77.8" r="1.3" fill="#47467f" opacity="0.91"/><circle cx="210.1" cy="101.1" r="1.6" fill="#5c5b8f" opacity="0.98"/><ellipse transform="translate(177.2 98.8) rotate(110)" rx="1.6" ry="1.3" fill="#76749c" opacity="0.88"/><ellipse transform="translate(255.9 16.6) rotate(9)" rx="1.6" ry="1.2" fill="#47467f" opacity="0.84"/><circle cx="197.6" cy="101.1" r="1.4" fill="#515088" opacity="0.95"/><ellipse transform="translate(165.2 43.0) rotate(114)" rx="1.7" ry="1.1" fill="#5c5b8f" opacity="0.80"/><circle cx="158.0" cy="44.9" r="1.4" fill="#515088" opacity="0.85"/><ellipse transform="translate(222.1 102.5) rotate(79)" rx="1.4" ry="1.1" fill="#5c5b8f" opacity="0.93"/><ellipse transform="translate(239.1 8.6) rotate(104)" rx="1.3" ry="1.2" fill="#76749c" opacity="0.75"/><ellipse transform="translate(164.4 85.2) rotate(62)" rx="1.5" ry="1.3" fill="#686795" opacity="0.69"/><ellipse transform="translate(212.7 97.8) rotate(44)" rx="1.3" ry="1.1" fill="#8684a4" opacity="0.85"/><circle cx="159.2" cy="20.1" r="1.6" fill="#5c5b8f" opacity="0.73"/><ellipse transform="translate(256.6 12.4) rotate(135)" rx="1.5" ry="1.3" fill="#76749c" opacity="0.67"/><ellipse transform="translate(157.5 52.7) rotate(133)" rx="1.5" ry="1.1" fill="#5c5b8f" opacity="0.87"/><ellipse transform="translate(167.9 93.5) rotate(109)" rx="1.7" ry="1.2" fill="#47467f" opacity="0.80"/><circle cx="157.8" cy="88.3" r="1.6" fill="#76749c" opacity="0.66"/><circle cx="235.9" cy="2.1" r="1.3" fill="#76749c" opacity="0.77"/><ellipse transform="translate(167.8 55.1) rotate(13)" rx="1.6" ry="1.1" fill="#686795" opacity="0.79"/><ellipse transform="translate(237.8 94.1) rotate(167)" rx="1.5" ry="1.2" fill="#47467f" opacity="0.76"/><ellipse transform="translate(250.3 65.6) rotate(167)" rx="1.4" ry="1.2" fill="#5c5b8f" opacity="0.71"/><circle cx="171.0" cy="104.5" r="1.4" fill="#47467f" opacity="0.81"/><circle cx="162.5" cy="7.2" r="1.5" fill="#76749c" opacity="0.85"/><ellipse transform="translate(194.8 104.6) rotate(118)" rx="1.5" ry="1.3" fill="#76749c" opacity="0.88"/><circle cx="250.9" cy="85.2" r="1.4" fill="#515088" opacity="0.92"/><circle cx="148.3" cy="29.0" r="1.3" fill="#76749c" opacity="0.89"/><ellipse transform="translate(163.3 48.1) rotate(71)" rx="1.7" ry="1.3" fill="#5c5b8f" opacity="0.99"/><ellipse transform="translate(151.1 40.9) rotate(142)" rx="1.3" ry="1.1" fill="#8684a4" opacity="0.82"/><circle cx="167.1" cy="60.3" r="1.3" fill="#515088" opacity="0.97"/><ellipse transform="translate(163.5 94.1) rotate(22)" rx="1.6" ry="1.1" fill="#515088" opacity="0.96"/><ellipse transform="translate(158.6 11.4) rotate(174)" rx="1.6" ry="1.3" fill="#8684a4" opacity="0.87"/><ellipse transform="translate(255.2 81.8) rotate(17)" rx="1.6" ry="1.4" fill="#686795" opacity="0.95"/><ellipse transform="translate(170.0 97.1) rotate(77)" rx="1.3" ry="1.1" fill="#76749c" opacity="0.76"/><ellipse transform="translate(151.3 75.7) rotate(60)" rx="1.5" ry="1.3" fill="#76749c" opacity="0.94"/><ellipse transform="translate(247.7 71.8) rotate(40)" rx="1.7" ry="1.2" fill="#76749c" opacity="0.81"/><ellipse transform="translate(154.3 81.9) rotate(177)" rx="1.6" ry="1.4" fill="#8684a4" opacity="0.68"/><ellipse transform="translate(158.2 39.7) rotate(88)" rx="1.3" ry="1.1" fill="#76749c" opacity="0.74"/><ellipse transform="translate(149.9 22.9) rotate(137)" rx="1.6" ry="1.4" fill="#515088" opacity="0.77"/><ellipse transform="translate(148.7 15.6) rotate(11)" rx="1.6" ry="1.3" fill="#47467f" opacity="0.72"/><ellipse transform="translate(163.8 1.9) rotate(26)" rx="1.6" ry="1.2" fill="#5c5b8f" opacity="0.69"/><circle cx="169.9" cy="74.8" r="1.4" fill="#5c5b8f" opacity="0.84"/><ellipse transform="translate(155.4 73.4) rotate(63)" rx="1.3" ry="1.1" fill="#47467f" opacity="0.81"/><ellipse transform="translate(211.4 105.8) rotate(157)" rx="1.6" ry="1.1" fill="#8684a4" opacity="0.83"/><ellipse transform="translate(144.0 29.1) rotate(92)" rx="1.5" ry="1.3" fill="#76749c" opacity="0.82"/><ellipse transform="translate(151.6 32.8) rotate(165)" rx="1.6" ry="1.1" fill="#5c5b8f" opacity="0.70"/><circle cx="149.3" cy="71.8" r="1.3" fill="#47467f" opacity="0.77"/><ellipse transform="translate(211.7 93.6) rotate(78)" rx="1.6" ry="1.1" fill="#686795" opacity="0.71"/><ellipse transform="translate(158.7 1.8) rotate(58)" rx="1.6" ry="1.1" fill="#47467f" opacity="0.97"/><ellipse transform="translate(163.6 67.0) rotate(51)" rx="1.5" ry="1.4" fill="#76749c" opacity="0.68"/><ellipse transform="translate(153.8 20.9) rotate(121)" rx="1.7" ry="1.5" fill="#686795" opacity="0.86"/><circle cx="206.5" cy="114.1" r="1.6" fill="#76749c" opacity="1.00"/><circle cx="156.4" cy="8.0" r="1.3" fill="#76749c" opacity="0.83"/><circle cx="259.8" cy="53.4" r="1.3" fill="#515088" opacity="0.69"/><ellipse transform="translate(158.7 96.1) rotate(168)" rx="1.6" ry="1.2" fill="#8684a4" opacity="0.91"/><circle cx="150.0" cy="10.3" r="1.4" fill="#47467f" opacity="0.82"/><ellipse transform="translate(159.8 69.4) rotate(29)" rx="1.6" ry="1.4" fill="#515088" opacity="0.78"/><circle cx="151.3" cy="67.9" r="1.3" fill="#76749c" opacity="0.81"/><ellipse transform="translate(143.0 23.9) rotate(15)" rx="1.6" ry="1.2" fill="#76749c" opacity="0.74"/><circle cx="146.4" cy="61.8" r="1.5" fill="#8684a4" opacity="0.92"/><circle cx="163.6" cy="57.3" r="1.6" fill="#76749c" opacity="0.87"/><circle cx="139.2" cy="38.8" r="1.5" fill="#686795" opacity="0.99"/><circle cx="152.6" cy="2.8" r="1.4" fill="#686795" opacity="0.83"/><ellipse transform="translate(235.9 99.7) rotate(37)" rx="1.6" ry="1.2" fill="#515088" opacity="0.73"/><circle cx="167.7" cy="65.0" r="1.3" fill="#515088" opacity="0.81"/><circle cx="144.9" cy="67.4" r="1.4" fill="#686795" opacity="0.83"/><ellipse transform="translate(145.9 4.9) rotate(18)" rx="1.5" ry="1.3" fill="#76749c" opacity="0.96"/><ellipse transform="translate(260.9 11.0) rotate(67)" rx="1.6" ry="1.3" fill="#47467f" opacity="0.66"/><circle cx="165.1" cy="99.0" r="1.5" fill="#8684a4" opacity="0.90"/><ellipse transform="translate(246.4 85.7) rotate(108)" rx="1.4" ry="1.1" fill="#8684a4" opacity="0.71"/><ellipse transform="translate(230.1 105.5) rotate(15)" rx="1.6" ry="1.1" fill="#8684a4" opacity="0.89"/><ellipse transform="translate(155.7 58.6) rotate(82)" rx="1.5" ry="1.1" fill="#515088" opacity="0.77"/><circle cx="151.0" cy="88.2" r="1.3" fill="#5c5b8f" opacity="0.66"/><ellipse transform="translate(143.6 40.3) rotate(112)" rx="1.6" ry="1.4" fill="#5c5b8f" opacity="0.70"/><circle cx="161.1" cy="62.8" r="1.5" fill="#5c5b8f" opacity="0.93"/><ellipse transform="translate(155.0 92.2) rotate(68)" rx="1.3" ry="1.1" fill="#686795" opacity="0.93"/><ellipse transform="translate(198.5 113.9) rotate(87)" rx="1.7" ry="1.4" fill="#686795" opacity="0.74"/><circle cx="146.1" cy="74.4" r="1.3" fill="#47467f" opacity="0.65"/><ellipse transform="translate(149.8 46.9) rotate(81)" rx="1.5" ry="1.2" fill="#686795" opacity="0.94"/><circle cx="154.6" cy="63.3" r="1.3" fill="#5c5b8f" opacity="0.94"/><circle cx="133.9" cy="40.2" r="1.3" fill="#5c5b8f" opacity="0.93"/><ellipse transform="translate(137.6 25.4) rotate(110)" rx="1.7" ry="1.3" fill="#686795" opacity="0.74"/><ellipse transform="translate(150.4 63.0) rotate(11)" rx="1.5" ry="1.3" fill="#515088" opacity="0.78"/><ellipse transform="translate(172.4 117.5) rotate(130)" rx="1.7" ry="1.3" fill="#47467f" opacity="0.95"/><ellipse transform="translate(135.8 47.4) rotate(123)" rx="1.7" ry="1.4" fill="#5c5b8f" opacity="0.85"/><ellipse transform="translate(259.3 70.3) rotate(14)" rx="1.7" ry="1.2" fill="#47467f" opacity="0.69"/><ellipse transform="translate(244.4 96.6) rotate(28)" rx="1.6" ry="1.4" fill="#5c5b8f" opacity="0.69"/><ellipse transform="translate(218.3 108.9) rotate(40)" rx="1.5" ry="1.2" fill="#47467f" opacity="0.76"/><ellipse transform="translate(154.3 98.6) rotate(137)" rx="1.5" ry="1.3" fill="#47467f" opacity="0.88"/><circle cx="148.2" cy="79.3" r="1.4" fill="#47467f" opacity="0.80"/><circle cx="138.9" cy="71.1" r="1.5" fill="#47467f" opacity="0.91"/><ellipse transform="translate(148.7 93.0) rotate(134)" rx="1.3" ry="1.1" fill="#76749c" opacity="0.89"/><ellipse transform="translate(159.7 56.2) rotate(149)" rx="1.5" ry="1.4" fill="#47467f" opacity="0.93"/><circle cx="140.4" cy="66.3" r="1.3" fill="#515088" opacity="0.98"/><ellipse transform="translate(144.8 19.4) rotate(146)" rx="1.5" ry="1.2" fill="#515088" opacity="0.96"/><ellipse transform="translate(155.9 67.7) rotate(57)" rx="1.7" ry="1.1" fill="#8684a4" opacity="0.72"/><ellipse transform="translate(225.6 97.5) rotate(64)" rx="1.7" ry="1.2" fill="#76749c" opacity="0.75"/><ellipse transform="translate(139.7 60.0) rotate(112)" rx="1.4" ry="1.2" fill="#76749c" opacity="0.72"/><ellipse transform="translate(152.7 53.5) rotate(133)" rx="1.6" ry="1.2" fill="#76749c" opacity="0.70"/><ellipse transform="translate(133.7 70.9) rotate(159)" rx="1.4" ry="1.2" fill="#515088" opacity="0.71"/><circle cx="216.1" cy="92.3" r="1.3" fill="#515088" opacity="0.81"/><circle cx="146.8" cy="55.8" r="1.3" fill="#8684a4" opacity="0.90"/><circle cx="166.9" cy="105.2" r="1.4" fill="#686795" opacity="0.75"/><circle cx="202.2" cy="116.6" r="1.6" fill="#686795" opacity="0.71"/><circle cx="258.4" cy="87.0" r="1.3" fill="#515088" opacity="0.85"/><circle cx="142.2" cy="13.6" r="1.3" fill="#47467f" opacity="0.93"/><circle cx="146.9" cy="87.4" r="1.3" fill="#515088" opacity="0.69"/><ellipse transform="translate(194.2 115.6) rotate(6)" rx="1.4" ry="1.1" fill="#515088" opacity="0.73"/><ellipse transform="translate(161.2 101.3) rotate(14)" rx="1.5" ry="1.2" fill="#515088" opacity="0.95"/><ellipse transform="translate(133.6 56.7) rotate(138)" rx="1.6" ry="1.4" fill="#515088" opacity="0.85"/><ellipse transform="translate(186.6 111.5) rotate(170)" rx="1.4" ry="1.2" fill="#8684a4" opacity="0.85"/><ellipse transform="translate(218.3 113.6) rotate(127)" rx="1.7" ry="1.3" fill="#76749c" opacity="0.89"/><circle cx="132.6" cy="75.4" r="1.4" fill="#76749c" opacity="0.68"/><ellipse transform="translate(146.8 50.4) rotate(135)" rx="1.6" ry="1.4" fill="#76749c" opacity="0.66"/><circle cx="201.0" cy="120.7" r="1.3" fill="#686795" opacity="0.69"/><ellipse transform="translate(257.9 62.1) rotate(117)" rx="1.7" ry="1.1" fill="#76749c" opacity="0.83"/><circle cx="155.2" cy="14.2" r="1.4" fill="#47467f" opacity="0.84"/><circle cx="140.2" cy="51.5" r="1.3" fill="#76749c" opacity="0.91"/><circle cx="134.1" cy="61.6" r="1.5" fill="#8684a4" opacity="0.91"/><ellipse transform="translate(233.6 103.3) rotate(47)" rx="1.4" ry="1.1" fill="#8684a4" opacity="0.84"/><circle cx="154.6" cy="49.0" r="1.4" fill="#76749c" opacity="0.79"/><ellipse transform="translate(131.2 53.2) rotate(57)" rx="1.3" ry="1.1" fill="#8684a4" opacity="0.84"/><circle cx="161.9" cy="105.9" r="1.3" fill="#686795" opacity="0.68"/><circle cx="196.9" cy="120.2" r="1.3" fill="#515088" opacity="0.71"/><ellipse transform="translate(209.9 110.1) rotate(46)" rx="1.4" ry="1.2" fill="#76749c" opacity="0.85"/><ellipse transform="translate(137.3 20.3) rotate(140)" rx="1.4" ry="1.2" fill="#47467f" opacity="0.76"/><circle cx="260.0" cy="1.1" r="1.3" fill="#76749c" opacity="0.91"/><ellipse transform="translate(166.4 110.1) rotate(81)" rx="1.7" ry="1.2" fill="#8684a4" opacity="0.96"/><circle cx="162.3" cy="110.5" r="1.5" fill="#5c5b8f" opacity="0.75"/><ellipse transform="translate(259.6 105.3) rotate(73)" rx="1.6" ry="1.2" fill="#5c5b8f" opacity="0.91"/><ellipse transform="translate(136.4 65.6) rotate(138)" rx="1.6" ry="1.2" fill="#5c5b8f" opacity="0.75"/><circle cx="142.7" cy="80.6" r="1.3" fill="#8684a4" opacity="0.94"/><circle cx="141.4" cy="90.2" r="1.3" fill="#8684a4" opacity="0.86"/><circle cx="129.8" cy="67.7" r="1.3" fill="#686795" opacity="0.92"/><ellipse transform="translate(129.8 19.7) rotate(107)" rx="1.6" ry="1.1" fill="#515088" opacity="0.98"/><ellipse transform="translate(133.7 26.5) rotate(56)" rx="1.5" ry="1.1" fill="#515088" opacity="0.79"/><circle cx="232.0" cy="110.3" r="1.4" fill="#686795" opacity="0.95"/><ellipse transform="translate(131.4 81.8) rotate(177)" rx="1.7" ry="1.2" fill="#76749c" opacity="0.83"/><ellipse transform="translate(213.3 113.3) rotate(124)" rx="1.6" ry="1.3" fill="#686795" opacity="0.90"/><circle cx="155.8" cy="104.6" r="1.5" fill="#47467f" opacity="0.89"/><ellipse transform="translate(150.4 84.1) rotate(56)" rx="1.5" ry="1.3" fill="#515088" opacity="0.87"/><ellipse transform="translate(245.0 50.3) rotate(175)" rx="1.4" ry="1.3" fill="#5c5b8f" opacity="0.67"/><circle cx="190.4" cy="119.4" r="1.5" fill="#76749c" opacity="0.95"/><ellipse transform="translate(120.0 32.0) rotate(65)" rx="1.7" ry="1.4" fill="#5c5b8f" opacity="0.99"/><ellipse transform="translate(126.3 61.8) rotate(172)" rx="1.6" ry="1.3" fill="#515088" opacity="0.77"/><circle cx="152.7" cy="108.7" r="1.4" fill="#76749c" opacity="0.76"/><ellipse transform="translate(167.3 116.6) rotate(169)" rx="1.7" ry="1.1" fill="#8684a4" opacity="0.81"/><circle cx="126.7" cy="71.7" r="1.4" fill="#8684a4" opacity="0.81"/><circle cx="222.6" cy="112.3" r="1.3" fill="#686795" opacity="0.73"/><ellipse transform="translate(172.6 124.4) rotate(159)" rx="1.6" ry="1.2" fill="#515088" opacity="0.71"/><circle cx="182.3" cy="124.6" r="1.4" fill="#5c5b8f" opacity="0.65"/><circle cx="135.0" cy="15.7" r="1.3" fill="#515088" opacity="0.95"/><circle cx="139.0" cy="77.7" r="1.5" fill="#76749c" opacity="0.69"/><circle cx="140.9" cy="7.7" r="1.4" fill="#47467f" opacity="0.75"/><circle cx="166.8" cy="126.6" r="1.3" fill="#686795" opacity="0.88"/><ellipse transform="translate(213.5 119.9) rotate(24)" rx="1.4" ry="1.1" fill="#686795" opacity="0.67"/><circle cx="200.2" cy="127.0" r="1.4" fill="#47467f" opacity="0.82"/><ellipse transform="translate(131.0 5.7) rotate(47)" rx="1.4" ry="1.2" fill="#686795" opacity="0.92"/><ellipse transform="translate(192.5 126.3) rotate(26)" rx="1.6" ry="1.3" fill="#515088" opacity="0.78"/><circle cx="159.6" cy="15.9" r="1.3" fill="#76749c" opacity="0.81"/><ellipse transform="translate(167.7 121.2) rotate(75)" rx="1.4" ry="1.1" fill="#8684a4" opacity="0.74"/><circle cx="252.5" cy="106.7" r="1.3" fill="#5c5b8f" opacity="0.79"/><ellipse transform="translate(137.4 55.0) rotate(6)" rx="1.6" ry="1.2" fill="#515088" opacity="0.82"/><circle cx="209.9" cy="117.5" r="1.4" fill="#76749c" opacity="0.67"/><ellipse transform="translate(128.8 57.2) rotate(86)" rx="1.4" ry="1.3" fill="#515088" opacity="0.96"/><ellipse transform="translate(218.5 118.0) rotate(163)" rx="1.5" ry="1.2" fill="#47467f" opacity="0.88"/><circle cx="150.4" cy="58.4" r="1.3" fill="#686795" opacity="0.93"/><ellipse transform="translate(190.4 114.2) rotate(161)" rx="1.6" ry="1.1" fill="#515088" opacity="0.75"/><ellipse transform="translate(163.0 114.8) rotate(40)" rx="1.6" ry="1.1" fill="#5c5b8f" opacity="0.67"/><ellipse transform="translate(139.7 96.5) rotate(168)" rx="1.5" ry="1.3" fill="#47467f" opacity="0.99"/><ellipse transform="translate(161.8 121.2) rotate(147)" rx="1.6" ry="1.2" fill="#8684a4" opacity="0.78"/><circle cx="141.4" cy="85.7" r="1.4" fill="#8684a4" opacity="0.79"/><circle cx="130.1" cy="36.2" r="1.3" fill="#8684a4" opacity="0.87"/><ellipse transform="translate(141.8 74.2) rotate(0)" rx="1.5" ry="1.4" fill="#47467f" opacity="0.69"/><ellipse transform="translate(134.6 89.0) rotate(32)" rx="1.5" ry="1.3" fill="#686795" opacity="0.87"/><ellipse transform="translate(144.7 107.4) rotate(86)" rx="1.5" ry="1.2" fill="#8684a4" opacity="0.95"/><ellipse transform="translate(136.6 82.7) rotate(0)" rx="1.6" ry="1.1" fill="#8684a4" opacity="0.97"/><circle cx="238.3" cy="120.3" r="1.4" fill="#8684a4" opacity="0.85"/><circle cx="126.3" cy="13.4" r="1.3" fill="#76749c" opacity="0.95"/><ellipse transform="translate(112.6 23.2) rotate(126)" rx="1.5" ry="1.2" fill="#76749c" opacity="0.75"/><ellipse transform="translate(149.2 113.1) rotate(109)" rx="1.7" ry="1.2" fill="#515088" opacity="0.66"/><ellipse transform="translate(122.4 48.8) rotate(59)" rx="1.7" ry="1.2" fill="#515088" opacity="0.85"/><ellipse transform="translate(122.4 17.5) rotate(20)" rx="1.4" ry="1.2" fill="#686795" opacity="0.87"/><circle cx="131.1" cy="13.6" r="1.3" fill="#76749c" opacity="0.98"/><circle cx="160.3" cy="126.8" r="1.4" fill="#47467f" opacity="0.70"/><circle cx="177.3" cy="122.5" r="1.5" fill="#76749c" opacity="0.75"/><circle cx="186.3" cy="130.7" r="1.3" fill="#8684a4" opacity="0.88"/><ellipse transform="translate(181.2 129.4) rotate(103)" rx="1.5" ry="1.3" fill="#515088" opacity="0.88"/><ellipse transform="translate(149.2 106.0) rotate(150)" rx="1.6" ry="1.3" fill="#8684a4" opacity="0.95"/><ellipse transform="translate(120.7 40.0) rotate(118)" rx="1.7" ry="1.2" fill="#47467f" opacity="0.77"/><ellipse transform="translate(143.9 93.7) rotate(154)" rx="1.4" ry="1.2" fill="#8684a4" opacity="0.78"/><circle cx="186.3" cy="135.3" r="1.3" fill="#76749c" opacity="0.67"/><ellipse transform="translate(122.2 65.7) rotate(37)" rx="1.7" ry="1.2" fill="#686795" opacity="0.66"/><circle cx="251.0" cy="100.4" r="1.3" fill="#515088" opacity="0.70"/><ellipse transform="translate(177.4 130.9) rotate(105)" rx="1.6" ry="1.4" fill="#8684a4" opacity="0.76"/><circle cx="178.4" cy="135.0" r="1.4" fill="#47467f" opacity="0.71"/><ellipse transform="translate(238.2 125.6) rotate(22)" rx="1.7" ry="1.2" fill="#8684a4" opacity="0.80"/><circle cx="119.7" cy="70.3" r="1.3" fill="#686795" opacity="0.90"/><ellipse transform="translate(157.7 109.9) rotate(101)" rx="1.6" ry="1.1" fill="#76749c" opacity="0.79"/><ellipse transform="translate(113.9 70.2) rotate(79)" rx="1.5" ry="1.3" fill="#5c5b8f" opacity="0.97"/><circle cx="186.9" cy="125.0" r="1.4" fill="#8684a4" opacity="0.88"/><ellipse transform="translate(141.6 102.1) rotate(52)" rx="1.4" ry="1.2" fill="#47467f" opacity="0.68"/><ellipse transform="translate(147.4 100.2) rotate(34)" rx="1.6" ry="1.3" fill="#76749c" opacity="0.74"/><ellipse transform="translate(154.4 123.4) rotate(66)" rx="1.5" ry="1.3" fill="#5c5b8f" opacity="0.98"/><ellipse transform="translate(112.6 31.6) rotate(127)" rx="1.6" ry="1.1" fill="#5c5b8f" opacity="0.71"/><circle cx="113.8" cy="62.6" r="1.5" fill="#5c5b8f" opacity="0.68"/><ellipse transform="translate(184.7 139.1) rotate(83)" rx="1.7" ry="1.1" fill="#47467f" opacity="0.81"/><circle cx="203.6" cy="124.0" r="1.3" fill="#8684a4" opacity="0.81"/><circle cx="154.0" cy="113.7" r="1.5" fill="#515088" opacity="0.76"/><ellipse transform="translate(157.7 84.2) rotate(31)" rx="1.6" ry="1.3" fill="#515088" opacity="0.77"/><ellipse transform="translate(128.0 76.1) rotate(64)" rx="1.3" ry="1.1" fill="#47467f" opacity="0.72"/><circle cx="117.2" cy="57.5" r="1.4" fill="#76749c" opacity="0.75"/><ellipse transform="translate(185.5 121.1) rotate(179)" rx="1.6" ry="1.2" fill="#686795" opacity="0.73"/><ellipse transform="translate(205.9 118.7) rotate(124)" rx="1.6" ry="1.2" fill="#76749c" opacity="0.66"/><ellipse transform="translate(243.6 122.7) rotate(30)" rx="1.7" ry="1.1" fill="#8684a4" opacity="0.97"/><circle cx="108.4" cy="28.0" r="1.3" fill="#47467f" opacity="0.78"/><ellipse transform="translate(122.0 61.3) rotate(25)" rx="1.7" ry="1.4" fill="#76749c" opacity="0.80"/><circle cx="176.4" cy="142.0" r="1.3" fill="#8684a4" opacity="0.81"/><ellipse transform="translate(124.2 7.9) rotate(16)" rx="1.6" ry="1.3" fill="#76749c" opacity="0.88"/><ellipse transform="translate(172.9 133.5) rotate(46)" rx="1.7" ry="1.1" fill="#47467f" opacity="0.70"/><circle cx="169.5" cy="129.9" r="1.4" fill="#686795" opacity="0.69"/><ellipse transform="translate(123.1 2.0) rotate(38)" rx="1.5" ry="1.3" fill="#47467f" opacity="0.81"/><ellipse transform="translate(120.1 21.8) rotate(96)" rx="1.3" ry="1.1" fill="#686795" opacity="0.90"/><circle cx="242.0" cy="110.6" r="1.4" fill="#515088" opacity="0.73"/><ellipse transform="translate(117.7 17.6) rotate(128)" rx="1.6" ry="1.3" fill="#5c5b8f" opacity="0.97"/><ellipse transform="translate(193.6 132.8) rotate(35)" rx="1.6" ry="1.3" fill="#8684a4" opacity="0.65"/><circle cx="105.2" cy="34.1" r="1.3" fill="#76749c" opacity="0.69"/><circle cx="107.7" cy="60.2" r="1.3" fill="#8684a4" opacity="0.89"/><ellipse transform="translate(171.3 138.1) rotate(73)" rx="1.5" ry="1.1" fill="#515088" opacity="0.88"/><circle cx="229.4" cy="131.1" r="1.6" fill="#515088" opacity="0.67"/><circle cx="246.7" cy="109.3" r="1.6" fill="#8684a4" opacity="0.99"/><ellipse transform="translate(108.0 16.5) rotate(12)" rx="1.5" ry="1.1" fill="#8684a4" opacity="0.88"/><ellipse transform="translate(128.4 91.8) rotate(45)" rx="1.5" ry="1.3" fill="#686795" opacity="0.98"/><ellipse transform="translate(103.1 30.4) rotate(174)" rx="1.6" ry="1.3" fill="#76749c" opacity="0.98"/><circle cx="105.3" cy="22.6" r="1.3" fill="#5c5b8f" opacity="0.98"/><circle cx="224.7" cy="117.9" r="1.4" fill="#5c5b8f" opacity="0.95"/><ellipse transform="translate(191.4 142.1) rotate(163)" rx="1.7" ry="1.3" fill="#5c5b8f" opacity="0.97"/><ellipse transform="translate(162.9 130.9) rotate(121)" rx="1.6" ry="1.1" fill="#515088" opacity="0.81"/><circle cx="118.4" cy="75.4" r="1.4" fill="#76749c" opacity="0.92"/><circle cx="204.1" cy="130.7" r="1.5" fill="#515088" opacity="0.91"/><ellipse transform="translate(209.9 123.3) rotate(84)" rx="1.5" ry="1.2" fill="#515088" opacity="0.71"/><ellipse transform="translate(177.8 147.8) rotate(114)" rx="1.3" ry="1.1" fill="#8684a4" opacity="0.87"/><ellipse transform="translate(186.6 143.9) rotate(125)" rx="1.4" ry="1.3" fill="#686795" opacity="1.00"/><ellipse transform="translate(229.0 126.2) rotate(21)" rx="1.6" ry="1.1" fill="#686795" opacity="0.88"/><ellipse transform="translate(199.8 131.2) rotate(138)" rx="1.5" ry="1.2" fill="#5c5b8f" opacity="0.73"/><circle cx="122.7" cy="73.6" r="1.6" fill="#515088" opacity="0.89"/><circle cx="140.1" cy="106.6" r="1.4" fill="#515088" opacity="0.79"/><ellipse transform="translate(189.8 138.2) rotate(128)" rx="1.4" ry="1.2" fill="#8684a4" opacity="0.79"/><ellipse transform="translate(106.1 54.8) rotate(135)" rx="1.5" ry="1.4" fill="#76749c" opacity="0.78"/><ellipse transform="translate(116.4 12.3) rotate(64)" rx="1.6" ry="1.2" fill="#5c5b8f" opacity="0.72"/><ellipse transform="translate(102.1 11.9) rotate(171)" rx="1.5" ry="1.3" fill="#686795" opacity="0.90"/><circle cx="224.8" cy="123.1" r="1.3" fill="#5c5b8f" opacity="0.70"/><ellipse transform="translate(116.7 67.1) rotate(39)" rx="1.6" ry="1.2" fill="#8684a4" opacity="0.71"/><ellipse transform="translate(110.8 6.6) rotate(64)" rx="1.6" ry="1.4" fill="#76749c" opacity="0.70"/><ellipse transform="translate(109.9 53.0) rotate(29)" rx="1.5" ry="1.2" fill="#515088" opacity="0.82"/><circle cx="169.9" cy="143.0" r="1.3" fill="#76749c" opacity="0.93"/><circle cx="135.7" cy="100.2" r="1.3" fill="#515088" opacity="0.79"/><circle cx="190.6" cy="148.3" r="1.5" fill="#515088" opacity="0.70"/><ellipse transform="translate(158.4 135.3) rotate(4)" rx="1.5" ry="1.3" fill="#5c5b8f" opacity="0.70"/><ellipse transform="translate(201.5 135.6) rotate(81)" rx="1.6" ry="1.1" fill="#686795" opacity="0.88"/><ellipse transform="translate(225.3 129.8) rotate(17)" rx="1.4" ry="1.2" fill="#5c5b8f" opacity="0.77"/><circle cx="102.5" cy="37.7" r="1.5" fill="#5c5b8f" opacity="0.68"/><ellipse transform="translate(130.2 63.1) rotate(76)" rx="1.6" ry="1.2" fill="#47467f" opacity="0.88"/><circle cx="218.9" cy="125.7" r="1.6" fill="#5c5b8f" opacity="0.71"/><ellipse transform="translate(214.9 124.4) rotate(149)" rx="1.3" ry="1.1" fill="#515088" opacity="0.68"/><ellipse transform="translate(112.6 15.8) rotate(66)" rx="1.5" ry="1.3" fill="#47467f" opacity="0.87"/><circle cx="181.7" cy="142.2" r="1.3" fill="#47467f" opacity="0.89"/><ellipse transform="translate(95.3 16.4) rotate(33)" rx="1.6" ry="1.3" fill="#515088" opacity="0.95"/><ellipse transform="translate(117.2 6.9) rotate(144)" rx="1.5" ry="1.1" fill="#5c5b8f" opacity="0.77"/><circle cx="242.3" cy="126.6" r="1.3" fill="#5c5b8f" opacity="0.98"/><ellipse transform="translate(156.6 129.0) rotate(172)" rx="1.7" ry="1.3" fill="#8684a4" opacity="0.89"/><circle cx="214.1" cy="109.2" r="1.3" fill="#8684a4" opacity="0.73"/><circle cx="96.0" cy="68.5" r="1.3" fill="#5c5b8f" opacity="0.91"/><circle cx="121.7" cy="12.8" r="1.4" fill="#515088" opacity="0.93"/><ellipse transform="translate(99.1 29.3) rotate(154)" rx="1.3" ry="1.1" fill="#5c5b8f" opacity="0.85"/><circle cx="129.9" cy="41.7" r="1.4" fill="#47467f" opacity="0.80"/><ellipse transform="translate(216.8 130.7) rotate(133)" rx="1.4" ry="1.2" fill="#686795" opacity="0.83"/><ellipse transform="translate(107.4 79.0) rotate(129)" rx="1.6" ry="1.4" fill="#76749c" opacity="0.69"/><ellipse transform="translate(129.9 105.2) rotate(45)" rx="1.6" ry="1.4" fill="#515088" opacity="0.80"/><ellipse transform="translate(164.4 136.5) rotate(126)" rx="1.3" ry="1.2" fill="#76749c" opacity="0.76"/><ellipse transform="translate(107.7 2.3) rotate(156)" rx="1.7" ry="1.1" fill="#515088" opacity="0.89"/><ellipse transform="translate(98.2 41.4) rotate(159)" rx="1.6" ry="1.4" fill="#5c5b8f" opacity="0.73"/><ellipse transform="translate(137.4 92.9) rotate(171)" rx="1.5" ry="1.2" fill="#686795" opacity="0.81"/><ellipse transform="translate(124.8 107.1) rotate(6)" rx="1.6" ry="1.2" fill="#47467f" opacity="0.81"/><circle cx="92.5" cy="30.4" r="1.6" fill="#8684a4" opacity="0.71"/><ellipse transform="translate(124.4 42.7) rotate(151)" rx="1.7" ry="1.3" fill="#515088" opacity="0.79"/><ellipse transform="translate(103.7 49.9) rotate(119)" rx="1.6" ry="1.3" fill="#515088" opacity="0.67"/><ellipse transform="translate(100.6 46.6) rotate(112)" rx="1.5" ry="1.1" fill="#47467f" opacity="0.84"/><circle cx="164.9" cy="141.2" r="1.3" fill="#686795" opacity="0.80"/><ellipse transform="translate(133.2 94.7) rotate(79)" rx="1.6" ry="1.4" fill="#47467f" opacity="0.65"/><circle cx="181.8" cy="146.7" r="1.3" fill="#515088" opacity="0.78"/><ellipse transform="translate(103.8 75.5) rotate(82)" rx="1.6" ry="1.4" fill="#76749c" opacity="0.99"/><ellipse transform="translate(99.9 74.0) rotate(156)" rx="1.7" ry="1.5" fill="#76749c" opacity="0.95"/><ellipse transform="translate(249.0 125.0) rotate(4)" rx="1.6" ry="1.1" fill="#686795" opacity="0.93"/><ellipse transform="translate(111.4 11.7) rotate(55)" rx="1.5" ry="1.1" fill="#8684a4" opacity="0.93"/><circle cx="102.5" cy="16.4" r="1.5" fill="#5c5b8f" opacity="0.89"/><ellipse transform="translate(98.4 35.9) rotate(107)" rx="1.5" ry="1.2" fill="#76749c" opacity="0.65"/><ellipse transform="translate(95.9 77.8) rotate(118)" rx="1.7" ry="1.5" fill="#5c5b8f" opacity="0.78"/><ellipse transform="translate(129.6 25.3) rotate(151)" rx="1.6" ry="1.3" fill="#5c5b8f" opacity="0.66"/><ellipse transform="translate(144.7 127.9) rotate(106)" rx="1.4" ry="1.1" fill="#686795" opacity="0.82"/><ellipse transform="translate(143.5 118.4) rotate(89)" rx="1.6" ry="1.4" fill="#5c5b8f" opacity="0.69"/><circle cx="153.5" cy="140.2" r="1.3" fill="#5c5b8f" opacity="1.00"/><circle cx="142.2" cy="113.9" r="1.5" fill="#515088" opacity="0.90"/><ellipse transform="translate(200.9 140.6) rotate(6)" rx="1.4" ry="1.2" fill="#47467f" opacity="0.85"/><circle cx="114.0" cy="81.3" r="1.4" fill="#8684a4" opacity="0.80"/><ellipse transform="translate(167.5 133.5) rotate(143)" rx="1.6" ry="1.3" fill="#515088" opacity="0.68"/><circle cx="150.5" cy="136.9" r="1.3" fill="#5c5b8f" opacity="0.67"/><ellipse transform="translate(93.1 39.2) rotate(149)" rx="1.4" ry="1.2" fill="#515088" opacity="0.96"/><ellipse transform="translate(229.7 135.5) rotate(172)" rx="1.5" ry="1.1" fill="#76749c" opacity="0.75"/><ellipse transform="translate(210.9 127.6) rotate(51)" rx="1.6" ry="1.4" fill="#686795" opacity="0.96"/><ellipse transform="translate(211.7 133.0) rotate(122)" rx="1.4" ry="1.1" fill="#515088" opacity="1.00"/><circle cx="132.1" cy="114.9" r="1.4" fill="#76749c" opacity="0.87"/><circle cx="135.3" cy="107.0" r="1.5" fill="#76749c" opacity="0.74"/><circle cx="129.1" cy="95.8" r="1.3" fill="#515088" opacity="0.67"/><ellipse transform="translate(107.8 9.7) rotate(170)" rx="1.3" ry="1.1" fill="#515088" opacity="0.88"/><ellipse transform="translate(193.2 152.9) rotate(29)" rx="1.5" ry="1.3" fill="#76749c" opacity="0.69"/><circle cx="128.6" cy="100.8" r="1.5" fill="#5c5b8f" opacity="0.95"/><circle cx="124.6" cy="83.7" r="1.5" fill="#686795" opacity="0.98"/><circle cx="108.7" cy="87.0" r="1.4" fill="#47467f" opacity="0.72"/><circle cx="138.5" cy="118.3" r="1.5" fill="#76749c" opacity="0.96"/><circle cx="113.7" cy="88.6" r="1.4" fill="#686795" opacity="0.89"/><ellipse transform="translate(92.8 60.6) rotate(51)" rx="1.3" ry="1.1" fill="#76749c" opacity="0.74"/><ellipse transform="translate(142.4 55.9) rotate(68)" rx="1.4" ry="1.3" fill="#8684a4" opacity="0.68"/><ellipse transform="translate(130.9 125.7) rotate(7)" rx="1.5" ry="1.2" fill="#5c5b8f" opacity="0.70"/><ellipse transform="translate(90.6 23.0) rotate(31)" rx="1.6" ry="1.2" fill="#5c5b8f" opacity="0.72"/><ellipse transform="translate(152.7 132.3) rotate(77)" rx="1.5" ry="1.2" fill="#8684a4" opacity="0.82"/><ellipse transform="translate(127.1 112.1) rotate(180)" rx="1.7" ry="1.1" fill="#686795" opacity="0.83"/><ellipse transform="translate(199.9 152.3) rotate(94)" rx="1.4" ry="1.2" fill="#47467f" opacity="0.74"/><ellipse transform="translate(137.5 111.4) rotate(57)" rx="1.5" ry="1.2" fill="#686795" opacity="0.76"/><ellipse transform="translate(126.5 80.0) rotate(84)" rx="1.7" ry="1.4" fill="#47467f" opacity="0.73"/><ellipse transform="translate(127.2 87.8) rotate(57)" rx="1.7" ry="1.3" fill="#686795" opacity="0.80"/><ellipse transform="translate(159.6 142.9) rotate(153)" rx="1.6" ry="1.2" fill="#47467f" opacity="0.71"/><ellipse transform="translate(100.7 21.8) rotate(51)" rx="1.4" ry="1.1" fill="#76749c" opacity="0.68"/><ellipse transform="translate(144.8 136.7) rotate(27)" rx="1.4" ry="1.2" fill="#686795" opacity="0.77"/><ellipse transform="translate(93.1 65.3) rotate(89)" rx="1.6" ry="1.2" fill="#8684a4" opacity="0.86"/><ellipse transform="translate(88.1 68.5) rotate(54)" rx="1.4" ry="1.1" fill="#8684a4" opacity="0.95"/><circle cx="127.3" cy="120.2" r="1.3" fill="#515088" opacity="0.88"/><ellipse transform="translate(138.1 138.9) rotate(67)" rx="1.5" ry="1.3" fill="#47467f" opacity="0.89"/><circle cx="123.5" cy="100.3" r="1.3" fill="#76749c" opacity="1.00"/><ellipse transform="translate(87.9 60.0) rotate(28)" rx="1.4" ry="1.2" fill="#76749c" opacity="0.81"/><circle cx="98.4" cy="9.5" r="1.3" fill="#8684a4" opacity="1.00"/><ellipse transform="translate(117.6 100.3) rotate(52)" rx="1.5" ry="1.3" fill="#515088" opacity="0.90"/><circle cx="123.6" cy="91.5" r="1.4" fill="#5c5b8f" opacity="0.78"/><circle cx="98.2" cy="64.6" r="1.3" fill="#8684a4" opacity="0.68"/><ellipse transform="translate(143.8 141.2) rotate(41)" rx="1.7" ry="1.3" fill="#76749c" opacity="0.72"/><circle cx="199.4" cy="159.1" r="1.3" fill="#47467f" opacity="0.68"/><ellipse transform="translate(204.6 145.7) rotate(34)" rx="1.5" ry="1.3" fill="#8684a4" opacity="0.69"/><ellipse transform="translate(94.3 54.0) rotate(54)" rx="1.4" ry="1.1" fill="#8684a4" opacity="0.82"/><circle cx="233.8" cy="138.2" r="1.3" fill="#8684a4" opacity="0.81"/><circle cx="94.3" cy="35.0" r="1.5" fill="#5c5b8f" opacity="0.98"/><ellipse transform="translate(141.4 132.6) rotate(39)" rx="1.4" ry="1.1" fill="#47467f" opacity="0.88"/><circle cx="89.0" cy="85.1" r="1.4" fill="#8684a4" opacity="0.93"/><ellipse transform="translate(148.0 140.8) rotate(31)" rx="1.7" ry="1.4" fill="#515088" opacity="0.73"/><ellipse transform="translate(84.5 65.5) rotate(10)" rx="1.6" ry="1.2" fill="#47467f" opacity="0.84"/><ellipse transform="translate(165.4 145.8) rotate(70)" rx="1.3" ry="1.2" fill="#686795" opacity="1.00"/><circle cx="94.3" cy="21.0" r="1.6" fill="#8684a4" opacity="0.78"/><ellipse transform="translate(150.3 144.9) rotate(179)" rx="1.6" ry="1.2" fill="#47467f" opacity="0.82"/><circle cx="85.2" cy="31.7" r="1.6" fill="#515088" opacity="0.86"/><circle cx="91.6" cy="73.0" r="1.5" fill="#5c5b8f" opacity="0.70"/><ellipse transform="translate(101.3 87.8) rotate(115)" rx="1.3" ry="1.1" fill="#515088" opacity="0.88"/><circle cx="114.0" cy="95.6" r="1.3" fill="#515088" opacity="0.93"/><ellipse transform="translate(96.1 26.2) rotate(176)" rx="1.5" ry="1.2" fill="#47467f" opacity="0.72"/><ellipse transform="translate(133.1 129.2) rotate(123)" rx="1.5" ry="1.3" fill="#76749c" opacity="0.95"/><ellipse transform="translate(135.0 133.3) rotate(129)" rx="1.3" ry="1.1" fill="#515088" opacity="0.66"/><circle cx="113.1" cy="106.7" r="1.6" fill="#47467f" opacity="0.82"/><ellipse transform="translate(88.1 53.7) rotate(117)" rx="1.6" ry="1.2" fill="#5c5b8f" opacity="0.83"/><ellipse transform="translate(180.1 155.4) rotate(55)" rx="1.5" ry="1.1" fill="#686795" opacity="0.87"/><ellipse transform="translate(147.5 148.7) rotate(26)" rx="1.5" ry="1.1" fill="#5c5b8f" opacity="0.86"/><circle cx="90.1" cy="35.1" r="1.4" fill="#5c5b8f" opacity="0.78"/><circle cx="102.0" cy="96.3" r="1.3" fill="#47467f" opacity="0.87"/><ellipse transform="translate(113.8 102.6) rotate(32)" rx="1.5" ry="1.3" fill="#8684a4" opacity="1.00"/><ellipse transform="translate(132.3 121.1) rotate(94)" rx="1.5" ry="1.2" fill="#76749c" opacity="0.81"/><circle cx="89.3" cy="76.8" r="1.3" fill="#515088" opacity="0.81"/><circle cx="84.9" cy="5.8" r="1.5" fill="#5c5b8f" opacity="0.84"/><circle cx="194.2" cy="159.1" r="1.5" fill="#47467f" opacity="0.99"/><ellipse transform="translate(210.1 144.5) rotate(90)" rx="1.4" ry="1.1" fill="#8684a4" opacity="0.77"/><ellipse transform="translate(161.4 146.7) rotate(124)" rx="1.3" ry="1.1" fill="#76749c" opacity="0.86"/><ellipse transform="translate(114.2 125.0) rotate(34)" rx="1.6" ry="1.3" fill="#76749c" opacity="0.90"/><ellipse transform="translate(156.8 148.7) rotate(66)" rx="1.5" ry="1.1" fill="#515088" opacity="0.88"/><ellipse transform="translate(85.7 12.8) rotate(139)" rx="1.3" ry="1.1" fill="#76749c" opacity="0.97"/><ellipse transform="translate(85.2 79.5) rotate(141)" rx="1.3" ry="1.1" fill="#47467f" opacity="0.85"/><ellipse transform="translate(92.7 83.1) rotate(71)" rx="1.6" ry="1.1" fill="#47467f" opacity="0.99"/><circle cx="106.2" cy="104.0" r="1.3" fill="#515088" opacity="0.91"/><ellipse transform="translate(211.9 149.3) rotate(119)" rx="1.6" ry="1.2" fill="#686795" opacity="0.77"/><ellipse transform="translate(87.8 40.4) rotate(58)" rx="1.5" ry="1.2" fill="#686795" opacity="0.94"/><ellipse transform="translate(190.6 163.9) rotate(40)" rx="1.5" ry="1.2" fill="#515088" opacity="0.90"/><circle cx="106.9" cy="95.7" r="1.5" fill="#8684a4" opacity="0.86"/><circle cx="86.8" cy="45.2" r="1.6" fill="#47467f" opacity="0.81"/><ellipse transform="translate(109.6 122.2) rotate(139)" rx="1.4" ry="1.1" fill="#515088" opacity="0.77"/><ellipse transform="translate(205.1 159.4) rotate(70)" rx="1.6" ry="1.4" fill="#686795" opacity="0.75"/><circle cx="195.0" cy="146.2" r="1.4" fill="#76749c" opacity="0.69"/><circle cx="120.9" cy="96.1" r="1.4" fill="#76749c" opacity="0.66"/><circle cx="212.9" cy="155.7" r="1.4" fill="#47467f" opacity="0.89"/><circle cx="208.0" cy="154.8" r="1.3" fill="#76749c" opacity="0.74"/><ellipse transform="translate(87.8 27.6) rotate(137)" rx="1.5" ry="1.2" fill="#5c5b8f" opacity="0.88"/><ellipse transform="translate(80.0 82.1) rotate(86)" rx="1.4" ry="1.1" fill="#8684a4" opacity="0.69"/><circle cx="217.3" cy="140.7" r="1.4" fill="#5c5b8f" opacity="0.86"/><circle cx="81.2" cy="10.7" r="1.4" fill="#8684a4" opacity="0.82"/><ellipse transform="translate(80.4 34.6) rotate(86)" rx="1.5" ry="1.3" fill="#515088" opacity="0.78"/><ellipse transform="translate(90.1 -0.9) rotate(115)" rx="1.7" ry="1.2" fill="#47467f" opacity="0.81"/><circle cx="143.2" cy="148.9" r="1.4" fill="#686795" opacity="0.90"/><circle cx="201.0" cy="165.2" r="1.3" fill="#5c5b8f" opacity="0.93"/><circle cx="80.0" cy="68.8" r="1.5" fill="#686795" opacity="0.98"/><circle cx="77.8" cy="30.2" r="1.3" fill="#47467f" opacity="1.00"/><ellipse transform="translate(80.3 60.9) rotate(93)" rx="1.6" ry="1.2" fill="#76749c" opacity="0.66"/><ellipse transform="translate(89.1 18.2) rotate(150)" rx="1.5" ry="1.1" fill="#686795" opacity="0.71"/><ellipse transform="translate(182.5 133.7) rotate(46)" rx="1.4" ry="1.1" fill="#515088" opacity="0.86"/><ellipse transform="translate(155.0 144.4) rotate(40)" rx="1.7" ry="1.2" fill="#47467f" opacity="0.99"/><ellipse transform="translate(80.6 76.6) rotate(29)" rx="1.5" ry="1.1" fill="#686795" opacity="0.93"/><ellipse transform="translate(253.1 146.1) rotate(151)" rx="1.6" ry="1.4" fill="#76749c" opacity="0.99"/><ellipse transform="translate(224.3 143.6) rotate(131)" rx="1.7" ry="1.3" fill="#47467f" opacity="0.70"/><circle cx="83.3" cy="42.8" r="1.3" fill="#5c5b8f" opacity="0.69"/><ellipse transform="translate(84.1 0.7) rotate(100)" rx="1.7" ry="1.1" fill="#76749c" opacity="0.99"/><circle cx="85.8" cy="36.7" r="1.4" fill="#8684a4" opacity="0.80"/><circle cx="77.4" cy="72.5" r="1.4" fill="#47467f" opacity="0.69"/><ellipse transform="translate(94.5 12.4) rotate(106)" rx="1.4" ry="1.1" fill="#515088" opacity="0.92"/><circle cx="75.7" cy="49.1" r="1.4" fill="#515088" opacity="0.70"/><circle cx="81.2" cy="56.3" r="1.3" fill="#686795" opacity="0.79"/><circle cx="78.9" cy="1.6" r="1.5" fill="#76749c" opacity="0.81"/><ellipse transform="translate(111.0 128.9) rotate(136)" rx="1.6" ry="1.4" fill="#515088" opacity="0.72"/><ellipse transform="translate(104.8 109.4) rotate(80)" rx="1.5" ry="1.1" fill="#515088" opacity="0.95"/><circle cx="162.5" cy="151.4" r="1.3" fill="#515088" opacity="0.65"/><ellipse transform="translate(167.3 153.7) rotate(53)" rx="1.7" ry="1.3" fill="#686795" opacity="0.74"/><circle cx="139.2" cy="145.0" r="1.5" fill="#76749c" opacity="0.86"/><ellipse transform="translate(89.8 89.4) rotate(112)" rx="1.3" ry="1.1" fill="#5c5b8f" opacity="0.97"/><circle cx="254.8" cy="151.7" r="1.4" fill="#47467f" opacity="0.69"/><ellipse transform="translate(93.0 93.2) rotate(119)" rx="1.6" ry="1.4" fill="#8684a4" opacity="0.74"/><ellipse transform="translate(204.0 152.7) rotate(150)" rx="1.4" ry="1.1" fill="#76749c" opacity="0.90"/><ellipse transform="translate(83.4 23.3) rotate(152)" rx="1.7" ry="1.3" fill="#76749c" opacity="0.92"/><circle cx="75.1" cy="63.8" r="1.3" fill="#76749c" opacity="0.80"/><ellipse transform="translate(185.5 160.1) rotate(84)" rx="1.3" ry="1.1" fill="#686795" opacity="0.69"/><circle cx="125.8" cy="129.1" r="1.3" fill="#8684a4" opacity="0.86"/><ellipse transform="translate(76.9 40.3) rotate(28)" rx="1.6" ry="1.2" fill="#686795" opacity="0.81"/><ellipse transform="translate(217.3 153.9) rotate(139)" rx="1.3" ry="1.1" fill="#76749c" opacity="0.68"/><circle cx="74.8" cy="26.6" r="1.4" fill="#515088" opacity="0.75"/><ellipse transform="translate(72.9 19.1) rotate(10)" rx="1.3" ry="1.1" fill="#686795" opacity="0.95"/><ellipse transform="translate(182.6 165.5) rotate(51)" rx="1.5" ry="1.1" fill="#5c5b8f" opacity="0.73"/><ellipse transform="translate(186.4 167.9) rotate(144)" rx="1.3" ry="1.1" fill="#47467f" opacity="0.72"/><ellipse transform="translate(84.4 74.2) rotate(146)" rx="1.5" ry="1.2" fill="#515088" opacity="0.98"/><ellipse transform="translate(74.7 1.8) rotate(11)" rx="1.7" ry="1.3" fill="#8684a4" opacity="0.98"/><ellipse transform="translate(98.3 93.2) rotate(97)" rx="1.3" ry="1.1" fill="#515088" opacity="0.69"/><ellipse transform="translate(165.0 158.8) rotate(19)" rx="1.5" ry="1.3" fill="#515088" opacity="0.82"/><ellipse transform="translate(170.2 160.4) rotate(51)" rx="1.6" ry="1.3" fill="#686795" opacity="0.98"/><ellipse transform="translate(78.5 52.3) rotate(164)" rx="1.7" ry="1.3" fill="#8684a4" opacity="0.72"/><circle cx="80.9" cy="17.5" r="1.4" fill="#5c5b8f" opacity="0.75"/><circle cx="104.2" cy="114.2" r="1.3" fill="#515088" opacity="0.84"/><circle cx="97.4" cy="112.2" r="1.4" fill="#76749c" opacity="0.65"/><circle cx="99.5" cy="104.8" r="1.4" fill="#8684a4" opacity="0.75"/><circle cx="76.5" cy="58.7" r="1.4" fill="#76749c" opacity="0.93"/><ellipse transform="translate(152.4 152.0) rotate(133)" rx="1.5" ry="1.2" fill="#686795" opacity="0.86"/><circle cx="147.5" cy="153.6" r="1.4" fill="#8684a4" opacity="0.70"/><circle cx="132.2" cy="139.0" r="1.4" fill="#515088" opacity="0.68"/><circle cx="177.7" cy="166.8" r="1.3" fill="#515088" opacity="0.80"/><circle cx="72.9" cy="32.8" r="1.4" fill="#47467f" opacity="0.78"/><ellipse transform="translate(112.2 135.8) rotate(173)" rx="1.6" ry="1.1" fill="#76749c" opacity="0.75"/><ellipse transform="translate(84.1 69.7) rotate(179)" rx="1.3" ry="1.1" fill="#76749c" opacity="0.66"/><circle cx="75.6" cy="81.1" r="1.3" fill="#686795" opacity="0.70"/><ellipse transform="translate(81.8 27.4) rotate(43)" rx="1.7" ry="1.1" fill="#76749c" opacity="0.69"/><ellipse transform="translate(68.8 28.3) rotate(102)" rx="1.4" ry="1.1" fill="#5c5b8f" opacity="0.86"/><circle cx="159.9" cy="159.2" r="1.3" fill="#5c5b8f" opacity="0.74"/><ellipse transform="translate(74.9 54.3) rotate(140)" rx="1.7" ry="1.3" fill="#47467f" opacity="0.80"/><circle cx="76.2" cy="35.9" r="1.3" fill="#8684a4" opacity="0.80"/><ellipse transform="translate(70.7 45.6) rotate(45)" rx="1.5" ry="1.2" fill="#76749c" opacity="0.71"/><ellipse transform="translate(131.2 144.0) rotate(17)" rx="1.5" ry="1.3" fill="#47467f" opacity="0.69"/><ellipse transform="translate(157.8 153.9) rotate(29)" rx="1.7" ry="1.5" fill="#5c5b8f" opacity="0.69"/><ellipse transform="translate(220.1 148.9) rotate(101)" rx="1.7" ry="1.2" fill="#5c5b8f" opacity="0.95"/><ellipse transform="translate(225.3 153.8) rotate(15)" rx="1.6" ry="1.4" fill="#686795" opacity="0.75"/><ellipse transform="translate(85.1 87.5) rotate(71)" rx="1.6" ry="1.1" fill="#8684a4" opacity="0.93"/><ellipse transform="translate(150.7 157.5) rotate(102)" rx="1.7" ry="1.1" fill="#47467f" opacity="0.73"/><ellipse transform="translate(68.5 51.7) rotate(178)" rx="1.4" ry="1.1" fill="#76749c" opacity="0.90"/><circle cx="189.8" cy="159.4" r="1.3" fill="#515088" opacity="0.93"/><ellipse transform="translate(89.3 97.5) rotate(51)" rx="1.5" ry="1.1" fill="#686795" opacity="0.83"/><ellipse transform="translate(219.1 158.3) rotate(86)" rx="1.6" ry="1.1" fill="#76749c" opacity="0.97"/><circle cx="162.7" cy="165.7" r="1.5" fill="#76749c" opacity="0.85"/><circle cx="86.3" cy="104.9" r="1.6" fill="#686795" opacity="0.67"/><circle cx="206.7" cy="165.3" r="1.3" fill="#47467f" opacity="0.77"/><ellipse transform="translate(102.7 124.4) rotate(152)" rx="1.6" ry="1.3" fill="#686795" opacity="0.71"/><ellipse transform="translate(142.4 159.1) rotate(76)" rx="1.6" ry="1.1" fill="#8684a4" opacity="0.66"/><circle cx="84.8" cy="92.9" r="1.3" fill="#8684a4" opacity="0.90"/><circle cx="209.0" cy="173.4" r="1.6" fill="#686795" opacity="0.84"/><circle cx="67.4" cy="20.8" r="1.5" fill="#8684a4" opacity="0.95"/><ellipse transform="translate(221.4 140.1) rotate(80)" rx="1.5" ry="1.1" fill="#76749c" opacity="0.83"/><ellipse transform="translate(70.4 14.2) rotate(177)" rx="1.4" ry="1.2" fill="#5c5b8f" opacity="0.71"/><circle cx="97.9" cy="135.0" r="1.3" fill="#5c5b8f" opacity="0.87"/><ellipse transform="translate(192.0 169.3) rotate(126)" rx="1.4" ry="1.2" fill="#5c5b8f" opacity="0.73"/><ellipse transform="translate(174.0 163.3) rotate(129)" rx="1.6" ry="1.4" fill="#8684a4" opacity="0.97"/><circle cx="78.4" cy="13.9" r="1.4" fill="#47467f" opacity="0.85"/><circle cx="259.6" cy="157.6" r="1.4" fill="#515088" opacity="0.95"/><circle cx="221.3" cy="152.8" r="1.4" fill="#5c5b8f" opacity="0.73"/><ellipse transform="translate(77.6 22.7) rotate(143)" rx="1.6" ry="1.1" fill="#76749c" opacity="0.66"/><circle cx="71.2" cy="9.1" r="1.5" fill="#515088" opacity="0.95"/><ellipse transform="translate(72.3 57.8) rotate(156)" rx="1.5" ry="1.2" fill="#5c5b8f" opacity="0.79"/><ellipse transform="translate(200.2 169.4) rotate(150)" rx="1.4" ry="1.2" fill="#686795" opacity="0.73"/><circle cx="258.5" cy="161.7" r="1.4" fill="#76749c" opacity="0.97"/><ellipse transform="translate(68.4 59.2) rotate(116)" rx="1.4" ry="1.2" fill="#47467f" opacity="0.91"/><circle cx="71.2" cy="24.5" r="1.4" fill="#47467f" opacity="0.85"/><circle cx="92.7" cy="134.4" r="1.3" fill="#515088" opacity="0.66"/><circle cx="149.9" cy="164.3" r="1.4" fill="#76749c" opacity="0.91"/><ellipse transform="translate(118.2 135.8) rotate(51)" rx="1.5" ry="1.2" fill="#8684a4" opacity="0.67"/><ellipse transform="translate(87.4 137.9) rotate(93)" rx="1.6" ry="1.1" fill="#686795" opacity="0.84"/><ellipse transform="translate(135.8 142.2) rotate(40)" rx="1.6" ry="1.1" fill="#76749c" opacity="0.82"/><ellipse transform="translate(74.6 11.9) rotate(161)" rx="1.5" ry="1.2" fill="#8684a4" opacity="0.96"/><circle cx="210.5" cy="167.7" r="1.3" fill="#686795" opacity="0.88"/><circle cx="180.1" cy="161.6" r="1.3" fill="#686795" opacity="0.91"/><ellipse transform="translate(189.0 173.7) rotate(13)" rx="1.4" ry="1.3" fill="#47467f" opacity="0.72"/><ellipse transform="translate(61.9 63.1) rotate(103)" rx="1.6" ry="1.2" fill="#76749c" opacity="0.86"/><ellipse transform="translate(55.4 67.9) rotate(170)" rx="1.4" ry="1.1" fill="#515088" opacity="0.85"/><circle cx="54.6" cy="61.0" r="1.3" fill="#76749c" opacity="0.88"/><ellipse transform="translate(169.7 167.9) rotate(70)" rx="1.6" ry="1.4" fill="#5c5b8f" opacity="0.70"/><ellipse transform="translate(68.2 83.5) rotate(119)" rx="1.7" ry="1.3" fill="#8684a4" opacity="0.98"/><ellipse transform="translate(63.3 23.6) rotate(139)" rx="1.6" ry="1.3" fill="#76749c" opacity="0.93"/><circle cx="182.9" cy="170.7" r="1.3" fill="#8684a4" opacity="0.75"/><ellipse transform="translate(176.6 158.5) rotate(87)" rx="1.6" ry="1.4" fill="#47467f" opacity="0.82"/><circle cx="106.8" cy="127.2" r="1.5" fill="#515088" opacity="0.79"/><ellipse transform="translate(67.3 76.8) rotate(85)" rx="1.6" ry="1.2" fill="#8684a4" opacity="0.74"/><ellipse transform="translate(216.1 169.9) rotate(113)" rx="1.6" ry="1.1" fill="#8684a4" opacity="0.99"/><circle cx="104.4" cy="134.2" r="1.3" fill="#5c5b8f" opacity="0.85"/><ellipse transform="translate(70.4 64.4) rotate(115)" rx="1.5" ry="1.2" fill="#5c5b8f" opacity="0.65"/><ellipse transform="translate(63.4 49.9) rotate(78)" rx="1.5" ry="1.3" fill="#5c5b8f" opacity="0.94"/><circle cx="73.5" cy="94.6" r="1.5" fill="#515088" opacity="0.84"/><circle cx="142.4" cy="153.0" r="1.3" fill="#76749c" opacity="0.83"/><ellipse transform="translate(62.5 55.5) rotate(143)" rx="1.6" ry="1.2" fill="#47467f" opacity="0.79"/><ellipse transform="translate(97.8 127.1) rotate(101)" rx="1.5" ry="1.3" fill="#515088" opacity="0.94"/><circle cx="167.3" cy="164.5" r="1.3" fill="#686795" opacity="0.96"/><ellipse transform="translate(176.5 171.1) rotate(48)" rx="1.7" ry="1.3" fill="#8684a4" opacity="0.86"/><ellipse transform="translate(205.8 176.3) rotate(89)" rx="1.5" ry="1.2" fill="#76749c" opacity="0.99"/><ellipse transform="translate(93.6 121.9) rotate(145)" rx="1.7" ry="1.2" fill="#686795" opacity="0.71"/><ellipse transform="translate(121.2 138.8) rotate(59)" rx="1.7" ry="1.5" fill="#686795" opacity="0.75"/><ellipse transform="translate(107.6 138.0) rotate(15)" rx="1.4" ry="1.1" fill="#8684a4" opacity="0.93"/><ellipse transform="translate(61.0 67.1) rotate(155)" rx="1.7" ry="1.4" fill="#686795" opacity="0.75"/><ellipse transform="translate(58.0 71.8) rotate(95)" rx="1.6" ry="1.3" fill="#5c5b8f" opacity="0.90"/><ellipse transform="translate(158.4 164.9) rotate(103)" rx="1.6" ry="1.1" fill="#5c5b8f" opacity="0.88"/><ellipse transform="translate(60.2 78.0) rotate(130)" rx="1.7" ry="1.4" fill="#5c5b8f" opacity="0.90"/><circle cx="65.6" cy="6.8" r="1.6" fill="#5c5b8f" opacity="0.93"/><circle cx="222.7" cy="165.6" r="1.3" fill="#5c5b8f" opacity="0.92"/><circle cx="134.2" cy="148.2" r="1.3" fill="#76749c" opacity="0.80"/><ellipse transform="translate(66.4 65.9) rotate(101)" rx="1.7" ry="1.2" fill="#76749c" opacity="0.65"/><circle cx="225.3" cy="160.2" r="1.4" fill="#76749c" opacity="0.99"/><ellipse transform="translate(69.6 4.9) rotate(38)" rx="1.7" ry="1.3" fill="#686795" opacity="0.75"/><ellipse transform="translate(51.4 64.7) rotate(175)" rx="1.6" ry="1.4" fill="#515088" opacity="0.96"/><ellipse transform="translate(160.5 170.3) rotate(21)" rx="1.6" ry="1.3" fill="#76749c" opacity="0.77"/><ellipse transform="translate(66.4 15.2) rotate(69)" rx="1.6" ry="1.3" fill="#515088" opacity="0.73"/><ellipse transform="translate(58.2 15.9) rotate(18)" rx="1.5" ry="1.1" fill="#76749c" opacity="0.84"/><ellipse transform="translate(183.4 176.3) rotate(165)" rx="1.7" ry="1.4" fill="#5c5b8f" opacity="0.86"/><ellipse transform="translate(72.4 77.6) rotate(15)" rx="1.6" ry="1.2" fill="#515088" opacity="0.89"/><ellipse transform="translate(137.9 152.2) rotate(124)" rx="1.7" ry="1.2" fill="#76749c" opacity="0.73"/><ellipse transform="translate(155.6 169.5) rotate(87)" rx="1.7" ry="1.3" fill="#76749c" opacity="0.78"/><circle cx="155.2" cy="160.5" r="1.5" fill="#47467f" opacity="0.92"/><circle cx="61.9" cy="45.3" r="1.5" fill="#515088" opacity="0.69"/><ellipse transform="translate(58.4 58.8) rotate(70)" rx="1.7" ry="1.1" fill="#5c5b8f" opacity="0.90"/><ellipse transform="translate(215.1 176.4) rotate(70)" rx="1.6" ry="1.3" fill="#686795" opacity="0.84"/><ellipse transform="translate(98.3 122.4) rotate(61)" rx="1.3" ry="1.1" fill="#686795" opacity="0.90"/><ellipse transform="translate(73.2 87.5) rotate(2)" rx="1.4" ry="1.1" fill="#47467f" opacity="0.78"/><circle cx="64.8" cy="70.7" r="1.3" fill="#515088" opacity="0.65"/><circle cx="219.7" cy="173.7" r="1.3" fill="#5c5b8f" opacity="0.78"/><ellipse transform="translate(67.8 32.5) rotate(0)" rx="1.5" ry="1.1" fill="#5c5b8f" opacity="0.71"/><circle cx="115.5" cy="143.4" r="1.5" fill="#47467f" opacity="0.92"/><ellipse transform="translate(90.2 116.0) rotate(133)" rx="1.6" ry="1.1" fill="#76749c" opacity="0.79"/><ellipse transform="translate(126.0 142.3) rotate(120)" rx="1.7" ry="1.3" fill="#5c5b8f" opacity="0.96"/><ellipse transform="translate(97.2 -2.0) rotate(177)" rx="1.6" ry="1.1" fill="#515088" opacity="0.77"/><circle cx="67.8" cy="37.1" r="1.5" fill="#76749c" opacity="0.77"/><ellipse transform="translate(154.1 165.5) rotate(6)" rx="1.6" ry="1.4" fill="#47467f" opacity="1.00"/><circle cx="46.7" cy="59.0" r="1.4" fill="#515088" opacity="0.91"/><ellipse transform="translate(62.7 30.4) rotate(2)" rx="1.6" ry="1.3" fill="#8684a4" opacity="0.72"/><circle cx="50.3" cy="68.9" r="1.5" fill="#8684a4" opacity="0.70"/><ellipse transform="translate(68.9 89.0) rotate(117)" rx="1.3" ry="1.1" fill="#47467f" opacity="0.91"/><ellipse transform="translate(70.5 72.7) rotate(36)" rx="1.6" ry="1.3" fill="#5c5b8f" opacity="0.92"/><ellipse transform="translate(223.8 170.6) rotate(142)" rx="1.5" ry="1.1" fill="#8684a4" opacity="0.79"/><ellipse transform="translate(124.9 148.5) rotate(178)" rx="1.7" ry="1.3" fill="#76749c" opacity="0.75"/><ellipse transform="translate(73.2 98.8) rotate(74)" rx="1.5" ry="1.1" fill="#8684a4" opacity="0.98"/><ellipse transform="translate(230.7 157.6) rotate(98)" rx="1.5" ry="1.1" fill="#76749c" opacity="0.75"/><ellipse transform="translate(62.0 10.6) rotate(13)" rx="1.6" ry="1.2" fill="#515088" opacity="0.84"/><ellipse transform="translate(172.2 171.2) rotate(173)" rx="1.6" ry="1.1" fill="#76749c" opacity="0.78"/><ellipse transform="translate(78.3 98.0) rotate(26)" rx="1.6" ry="1.4" fill="#686795" opacity="0.98"/><ellipse transform="translate(129.3 150.1) rotate(71)" rx="1.7" ry="1.3" fill="#5c5b8f" opacity="0.78"/><ellipse transform="translate(124.7 153.8) rotate(75)" rx="1.3" ry="1.1" fill="#47467f" opacity="0.96"/><circle cx="66.1" cy="43.2" r="1.4" fill="#5c5b8f" opacity="0.90"/><circle cx="137.5" cy="157.2" r="1.4" fill="#515088" opacity="0.93"/><ellipse transform="translate(138.0 165.0) rotate(120)" rx="1.5" ry="1.3" fill="#686795" opacity="0.69"/><circle cx="83.8" cy="113.6" r="1.3" fill="#76749c" opacity="0.68"/><ellipse transform="translate(54.5 19.2) rotate(20)" rx="1.3" ry="1.1" fill="#5c5b8f" opacity="0.84"/><ellipse transform="translate(43.1 69.7) rotate(78)" rx="1.6" ry="1.3" fill="#515088" opacity="0.95"/><ellipse transform="translate(83.1 117.7) rotate(78)" rx="1.4" ry="1.1" fill="#5c5b8f" opacity="0.85"/><circle cx="52.3" cy="76.0" r="1.3" fill="#8684a4" opacity="0.94"/><ellipse transform="translate(138.0 171.9) rotate(175)" rx="1.7" ry="1.3" fill="#5c5b8f" opacity="0.83"/><circle cx="192.9" cy="176.8" r="1.3" fill="#47467f" opacity="0.82"/><circle cx="95.7" cy="131.0" r="1.3" fill="#8684a4" opacity="0.77"/><ellipse transform="translate(52.4 23.4) rotate(1)" rx="1.6" ry="1.3" fill="#515088" opacity="0.84"/><ellipse transform="translate(92.7 141.0) rotate(98)" rx="1.5" ry="1.2" fill="#5c5b8f" opacity="0.68"/><ellipse transform="translate(143.6 165.6) rotate(140)" rx="1.5" ry="1.4" fill="#5c5b8f" opacity="0.97"/><ellipse transform="translate(74.0 69.7) rotate(142)" rx="1.7" ry="1.2" fill="#76749c" opacity="0.81"/><circle cx="49.8" cy="17.5" r="1.3" fill="#47467f" opacity="0.89"/><ellipse transform="translate(112.5 148.7) rotate(85)" rx="1.4" ry="1.2" fill="#8684a4" opacity="0.97"/><circle cx="97.8" cy="140.2" r="1.3" fill="#515088" opacity="0.73"/><circle cx="251.9" cy="175.1" r="1.3" fill="#8684a4" opacity="0.82"/><circle cx="38.3" cy="68.5" r="1.3" fill="#47467f" opacity="0.90"/><circle cx="108.3" cy="143.9" r="1.4" fill="#8684a4" opacity="0.88"/><ellipse transform="translate(171.4 176.0) rotate(129)" rx="1.6" ry="1.3" fill="#5c5b8f" opacity="0.98"/><circle cx="52.2" cy="12.2" r="1.3" fill="#5c5b8f" opacity="0.73"/><ellipse transform="translate(160.0 174.4) rotate(15)" rx="1.6" ry="1.2" fill="#515088" opacity="0.73"/><ellipse transform="translate(118.3 151.2) rotate(82)" rx="1.4" ry="1.2" fill="#8684a4" opacity="1.00"/><circle cx="148.6" cy="170.9" r="1.3" fill="#8684a4" opacity="0.73"/><ellipse transform="translate(82.3 107.2) rotate(164)" rx="1.5" ry="1.1" fill="#5c5b8f" opacity="0.73"/><circle cx="227.7" cy="174.1" r="1.3" fill="#515088" opacity="0.69"/><circle cx="81.0" cy="122.5" r="1.3" fill="#47467f" opacity="0.82"/><circle cx="226.9" cy="165.1" r="1.5" fill="#515088" opacity="0.94"/><circle cx="57.9" cy="43.4" r="1.4" fill="#8684a4" opacity="0.69"/><circle cx="175.7" cy="176.7" r="1.3" fill="#5c5b8f" opacity="0.65"/><ellipse transform="translate(174.5 150.4) rotate(40)" rx="1.6" ry="1.1" fill="#76749c" opacity="0.67"/><ellipse transform="translate(121.1 144.8) rotate(138)" rx="1.7" ry="1.3" fill="#515088" opacity="0.84"/><circle cx="84.7" cy="131.4" r="1.6" fill="#5c5b8f" opacity="0.80"/><circle cx="134.3" cy="168.8" r="1.5" fill="#76749c" opacity="0.77"/><circle cx="56.6" cy="85.1" r="1.3" fill="#76749c" opacity="0.74"/><circle cx="236.1" cy="163.0" r="1.5" fill="#8684a4" opacity="0.88"/><ellipse transform="translate(76.1 102.1) rotate(60)" rx="1.5" ry="1.3" fill="#76749c" opacity="0.87"/><ellipse transform="translate(42.9 75.1) rotate(177)" rx="1.6" ry="1.4" fill="#8684a4" opacity="0.70"/><circle cx="78.0" cy="116.4" r="1.5" fill="#47467f" opacity="0.78"/><ellipse transform="translate(47.8 12.5) rotate(141)" rx="1.5" ry="1.2" fill="#5c5b8f" opacity="0.84"/><circle cx="153.6" cy="175.6" r="1.4" fill="#76749c" opacity="0.92"/><ellipse transform="translate(81.2 102.0) rotate(134)" rx="1.5" ry="1.1" fill="#8684a4" opacity="0.79"/><ellipse transform="translate(75.1 125.1) rotate(83)" rx="1.4" ry="1.1" fill="#76749c" opacity="0.73"/><ellipse transform="translate(47.3 26.6) rotate(73)" rx="1.7" ry="1.2" fill="#686795" opacity="0.95"/><circle cx="44.1" cy="51.7" r="1.3" fill="#5c5b8f" opacity="0.71"/><ellipse transform="translate(46.7 21.7) rotate(115)" rx="1.6" ry="1.2" fill="#76749c" opacity="0.79"/><ellipse transform="translate(46.5 64.4) rotate(101)" rx="1.6" ry="1.4" fill="#515088" opacity="0.97"/><circle cx="54.2" cy="30.3" r="1.3" fill="#47467f" opacity="0.99"/><ellipse transform="translate(53.3 46.5) rotate(87)" rx="1.4" ry="1.2" fill="#47467f" opacity="0.68"/><ellipse transform="translate(48.7 46.8) rotate(94)" rx="1.7" ry="1.4" fill="#8684a4" opacity="1.00"/><ellipse transform="translate(65.7 97.5) rotate(116)" rx="1.5" ry="1.2" fill="#515088" opacity="0.69"/><circle cx="77.8" cy="112.2" r="1.3" fill="#686795" opacity="0.77"/><circle cx="172.3" cy="146.5" r="1.5" fill="#686795" opacity="0.89"/><ellipse transform="translate(148.1 175.2) rotate(148)" rx="1.4" ry="1.1" fill="#5c5b8f" opacity="0.71"/><ellipse transform="translate(63.3 92.6) rotate(93)" rx="1.7" ry="1.4" fill="#5c5b8f" opacity="0.76"/><circle cx="59.0" cy="5.0" r="1.6" fill="#76749c" opacity="0.78"/><circle cx="71.5" cy="105.0" r="1.5" fill="#8684a4" opacity="0.87"/><circle cx="38.9" cy="73.8" r="1.4" fill="#8684a4" opacity="1.00"/><circle cx="72.0" cy="111.7" r="1.4" fill="#515088" opacity="0.95"/><ellipse transform="translate(62.6 81.6) rotate(76)" rx="1.4" ry="1.1" fill="#8684a4" opacity="0.85"/><ellipse transform="translate(96.7 147.8) rotate(30)" rx="1.6" ry="1.2" fill="#686795" opacity="0.71"/><ellipse transform="translate(39.7 63.4) rotate(3)" rx="1.5" ry="1.1" fill="#47467f" opacity="0.93"/><circle cx="47.6" cy="76.5" r="1.3" fill="#515088" opacity="0.78"/><ellipse transform="translate(77.7 107.5) rotate(45)" rx="1.7" ry="1.3" fill="#515088" opacity="0.99"/><ellipse transform="translate(142.9 172.1) rotate(124)" rx="1.6" ry="1.1" fill="#47467f" opacity="0.69"/><circle cx="80.9" cy="126.8" r="1.3" fill="#5c5b8f" opacity="0.98"/><ellipse transform="translate(237.9 171.0) rotate(111)" rx="1.5" ry="1.3" fill="#8684a4" opacity="0.69"/><ellipse transform="translate(74.5 118.9) rotate(58)" rx="1.4" ry="1.2" fill="#8684a4" opacity="0.82"/><ellipse transform="translate(68.3 101.4) rotate(7)" rx="1.6" ry="1.2" fill="#76749c" opacity="0.89"/><ellipse transform="translate(40.2 56.1) rotate(76)" rx="1.6" ry="1.1" fill="#686795" opacity="0.94"/><ellipse transform="translate(52.6 37.9) rotate(121)" rx="1.6" ry="1.1" fill="#686795" opacity="0.97"/><ellipse transform="translate(42.6 60.3) rotate(61)" rx="1.5" ry="1.2" fill="#5c5b8f" opacity="0.85"/><ellipse transform="translate(45.2 82.7) rotate(70)" rx="1.6" ry="1.4" fill="#47467f" opacity="0.84"/><ellipse transform="translate(47.1 71.6) rotate(71)" rx="1.7" ry="1.1" fill="#686795" opacity="0.94"/><ellipse transform="translate(102.0 138.3) rotate(75)" rx="1.6" ry="1.1" fill="#47467f" opacity="0.67"/><circle cx="45.0" cy="38.8" r="1.6" fill="#76749c" opacity="0.77"/><circle cx="74.9" cy="132.5" r="1.4" fill="#76749c" opacity="0.99"/><circle cx="35.8" cy="56.6" r="1.3" fill="#47467f" opacity="0.97"/><ellipse transform="translate(130.1 163.5) rotate(116)" rx="1.7" ry="1.2" fill="#5c5b8f" opacity="0.68"/><ellipse transform="translate(55.1 9.1) rotate(85)" rx="1.7" ry="1.3" fill="#5c5b8f" opacity="0.99"/><circle cx="135.4" cy="161.2" r="1.3" fill="#8684a4" opacity="0.89"/><circle cx="66.5" cy="108.7" r="1.3" fill="#76749c" opacity="0.74"/><ellipse transform="translate(45.9 86.9) rotate(70)" rx="1.7" ry="1.5" fill="#47467f" opacity="0.99"/><ellipse transform="translate(107.7 151.5) rotate(72)" rx="1.6" ry="1.4" fill="#47467f" opacity="0.95"/><ellipse transform="translate(41.2 80.1) rotate(111)" rx="1.5" ry="1.1" fill="#515088" opacity="0.97"/><circle cx="67.4" cy="121.9" r="1.3" fill="#76749c" opacity="0.87"/><circle cx="41.8" cy="16.0" r="1.3" fill="#686795" opacity="0.89"/><ellipse transform="translate(54.9 3.3) rotate(69)" rx="1.6" ry="1.2" fill="#515088" opacity="0.88"/><ellipse transform="translate(32.0 62.5) rotate(131)" rx="1.6" ry="1.4" fill="#686795" opacity="0.82"/><ellipse transform="translate(128.4 158.5) rotate(82)" rx="1.7" ry="1.5" fill="#5c5b8f" opacity="0.72"/><circle cx="132.4" cy="153.8" r="1.4" fill="#47467f" opacity="0.69"/><ellipse transform="translate(104.2 142.7) rotate(35)" rx="1.6" ry="1.4" fill="#8684a4" opacity="0.83"/><ellipse transform="translate(50.3 56.8) rotate(59)" rx="1.4" ry="1.2" fill="#5c5b8f" opacity="1.00"/><ellipse transform="translate(101.8 147.7) rotate(75)" rx="1.5" ry="1.3" fill="#76749c" opacity="0.75"/><ellipse transform="translate(60.2 98.0) rotate(75)" rx="1.3" ry="1.1" fill="#5c5b8f" opacity="0.98"/><ellipse transform="translate(43.4 47.5) rotate(63)" rx="1.4" ry="1.2" fill="#686795" opacity="0.82"/><ellipse transform="translate(69.3 93.4) rotate(88)" rx="1.6" ry="1.4" fill="#5c5b8f" opacity="0.81"/><ellipse transform="translate(48.1 7.8) rotate(39)" rx="1.6" ry="1.1" fill="#8684a4" opacity="0.79"/><ellipse transform="translate(146.8 160.3) rotate(53)" rx="1.5" ry="1.1" fill="#5c5b8f" opacity="0.83"/><ellipse transform="translate(60.4 111.1) rotate(16)" rx="1.6" ry="1.2" fill="#76749c" opacity="0.94"/><ellipse transform="translate(143.4 176.3) rotate(56)" rx="1.7" ry="1.2" fill="#5c5b8f" opacity="0.91"/><ellipse transform="translate(40.4 26.0) rotate(164)" rx="1.7" ry="1.1" fill="#8684a4" opacity="0.71"/><circle cx="114.0" cy="156.7" r="1.3" fill="#8684a4" opacity="0.89"/><ellipse transform="translate(98.3 152.6) rotate(0)" rx="1.6" ry="1.4" fill="#5c5b8f" opacity="0.83"/><circle cx="122.0" cy="162.5" r="1.6" fill="#515088" opacity="0.83"/><circle cx="84.9" cy="145.1" r="1.3" fill="#686795" opacity="0.74"/><circle cx="68.7" cy="117.5" r="1.3" fill="#686795" opacity="0.83"/><ellipse transform="translate(128.6 169.1) rotate(135)" rx="1.5" ry="1.3" fill="#8684a4" opacity="0.92"/><ellipse transform="translate(109.6 155.4) rotate(52)" rx="1.7" ry="1.3" fill="#8684a4" opacity="0.90"/><circle cx="119.8" cy="156.5" r="1.4" fill="#8684a4" opacity="0.88"/><ellipse transform="translate(63.9 116.4) rotate(132)" rx="1.5" ry="1.2" fill="#515088" opacity="0.78"/><circle cx="257.4" cy="173.2" r="1.3" fill="#515088" opacity="0.94"/><ellipse transform="translate(41.1 32.8) rotate(150)" rx="1.5" ry="1.3" fill="#47467f" opacity="0.72"/><ellipse transform="translate(133.4 176.5) rotate(13)" rx="1.5" ry="1.3" fill="#47467f" opacity="0.94"/><ellipse transform="translate(41.6 6.0) rotate(18)" rx="1.7" ry="1.1" fill="#8684a4" opacity="0.70"/><ellipse transform="translate(37.8 51.9) rotate(79)" rx="1.7" ry="1.1" fill="#76749c" opacity="0.94"/><ellipse transform="translate(34.2 66.3) rotate(100)" rx="1.5" ry="1.1" fill="#8684a4" opacity="0.85"/><circle cx="56.4" cy="95.4" r="1.4" fill="#8684a4" opacity="0.87"/><ellipse transform="translate(89.6 148.4) rotate(162)" rx="1.4" ry="1.2" fill="#686795" opacity="0.90"/><ellipse transform="translate(51.2 42.1) rotate(31)" rx="1.7" ry="1.1" fill="#47467f" opacity="0.92"/><ellipse transform="translate(111.9 141.1) rotate(4)" rx="1.6" ry="1.1" fill="#515088" opacity="0.97"/><ellipse transform="translate(35.4 47.9) rotate(105)" rx="1.6" ry="1.1" fill="#5c5b8f" opacity="0.89"/><circle cx="24.8" cy="63.9" r="1.4" fill="#686795" opacity="0.81"/><circle cx="82.9" cy="141.4" r="1.3" fill="#47467f" opacity="0.77"/><ellipse transform="translate(35.0 81.1) rotate(123)" rx="1.3" ry="1.1" fill="#515088" opacity="0.94"/><circle cx="28.1" cy="71.5" r="1.5" fill="#8684a4" opacity="0.69"/><circle cx="56.4" cy="99.8" r="1.4" fill="#686795" opacity="0.89"/><circle cx="117.5" cy="162.8" r="1.3" fill="#5c5b8f" opacity="0.88"/><ellipse transform="translate(78.9 147.8) rotate(99)" rx="1.4" ry="1.2" fill="#686795" opacity="0.96"/><ellipse transform="translate(92.7 145.4) rotate(160)" rx="1.7" ry="1.4" fill="#47467f" opacity="0.93"/><ellipse transform="translate(59.8 89.2) rotate(51)" rx="1.4" ry="1.3" fill="#686795" opacity="0.66"/><ellipse transform="translate(33.3 72.3) rotate(41)" rx="1.4" ry="1.2" fill="#686795" opacity="0.73"/><ellipse transform="translate(54.5 107.5) rotate(39)" rx="1.7" ry="1.1" fill="#515088" opacity="0.70"/><ellipse transform="translate(27.5 60.2) rotate(69)" rx="1.7" ry="1.4" fill="#8684a4" opacity="0.99"/><circle cx="49.7" cy="33.7" r="1.3" fill="#5c5b8f" opacity="0.65"/><ellipse transform="translate(41.4 21.2) rotate(22)" rx="1.7" ry="1.2" fill="#76749c" opacity="0.82"/><ellipse transform="translate(30.7 54.7) rotate(70)" rx="1.4" ry="1.1" fill="#47467f" opacity="0.89"/><ellipse transform="translate(44.9 30.8) rotate(26)" rx="1.7" ry="1.5" fill="#5c5b8f" opacity="0.79"/><ellipse transform="translate(122.6 170.6) rotate(52)" rx="1.5" ry="1.3" fill="#515088" opacity="0.88"/><ellipse transform="translate(59.0 28.5) rotate(76)" rx="1.6" ry="1.2" fill="#47467f" opacity="0.96"/><circle cx="30.1" cy="43.2" r="1.6" fill="#5c5b8f" opacity="0.70"/><ellipse transform="translate(22.6 59.2) rotate(132)" rx="1.5" ry="1.1" fill="#47467f" opacity="0.77"/><ellipse transform="translate(49.8 99.0) rotate(87)" rx="1.4" ry="1.1" fill="#686795" opacity="0.90"/><ellipse transform="translate(36.3 61.1) rotate(95)" rx="1.4" ry="1.1" fill="#76749c" opacity="0.89"/><ellipse transform="translate(50.0 90.5) rotate(92)" rx="1.4" ry="1.1" fill="#76749c" opacity="0.96"/><circle cx="36.9" cy="32.8" r="1.3" fill="#686795" opacity="0.70"/><ellipse transform="translate(102.8 153.1) rotate(19)" rx="1.6" ry="1.2" fill="#76749c" opacity="0.85"/><ellipse transform="translate(138.3 176.4) rotate(97)" rx="1.7" ry="1.4" fill="#47467f" opacity="0.65"/><circle cx="38.1" cy="44.6" r="1.5" fill="#47467f" opacity="0.83"/><circle cx="121.6" cy="175.0" r="1.4" fill="#47467f" opacity="0.71"/><ellipse transform="translate(124.1 158.4) rotate(161)" rx="1.5" ry="1.3" fill="#47467f" opacity="0.78"/><circle cx="64.3" cy="103.9" r="1.3" fill="#8684a4" opacity="0.68"/><circle cx="50.6" cy="82.8" r="1.5" fill="#76749c" opacity="0.91"/><ellipse transform="translate(38.5 84.0) rotate(24)" rx="1.4" ry="1.1" fill="#5c5b8f" opacity="0.75"/><ellipse transform="translate(110.0 162.4) rotate(110)" rx="1.5" ry="1.1" fill="#8684a4" opacity="0.92"/><ellipse transform="translate(46.6 42.8) rotate(132)" rx="1.6" ry="1.2" fill="#686795" opacity="0.97"/><ellipse transform="translate(33.8 87.9) rotate(50)" rx="1.5" ry="1.1" fill="#76749c" opacity="0.78"/><circle cx="30.1" cy="81.2" r="1.4" fill="#47467f" opacity="0.98"/><ellipse transform="translate(58.1 105.3) rotate(105)" rx="1.5" ry="1.3" fill="#686795" opacity="0.91"/><ellipse transform="translate(61.9 120.3) rotate(107)" rx="1.7" ry="1.1" fill="#686795" opacity="0.66"/><ellipse transform="translate(116.4 174.7) rotate(158)" rx="1.5" ry="1.2" fill="#5c5b8f" opacity="0.79"/><ellipse transform="translate(54.6 91.1) rotate(121)" rx="1.7" ry="1.2" fill="#5c5b8f" opacity="0.66"/><circle cx="41.0" cy="41.2" r="1.4" fill="#515088" opacity="0.71"/><circle cx="62.9" cy="74.7" r="1.3" fill="#76749c" opacity="0.99"/><circle cx="41.8" cy="87.9" r="1.3" fill="#686795" opacity="0.96"/><circle cx="28.9" cy="66.3" r="1.4" fill="#47467f" opacity="0.91"/><ellipse transform="translate(23.2 71.3) rotate(148)" rx="1.6" ry="1.1" fill="#686795" opacity="0.71"/><ellipse transform="translate(27.7 76.2) rotate(82)" rx="1.6" ry="1.1" fill="#686795" opacity="0.80"/><ellipse transform="translate(77.0 142.5) rotate(90)" rx="1.6" ry="1.2" fill="#5c5b8f" opacity="0.82"/><circle cx="56.6" cy="80.8" r="1.3" fill="#686795" opacity="0.70"/><ellipse transform="translate(32.5 77.1) rotate(153)" rx="1.5" ry="1.1" fill="#47467f" opacity="0.72"/><circle cx="72.7" cy="139.7" r="1.5" fill="#515088" opacity="0.78"/><ellipse transform="translate(29.0 49.5) rotate(136)" rx="1.6" ry="1.3" fill="#47467f" opacity="0.85"/><ellipse transform="translate(112.8 166.3) rotate(111)" rx="1.6" ry="1.1" fill="#686795" opacity="0.82"/><ellipse transform="translate(104.3 165.1) rotate(104)" rx="1.5" ry="1.2" fill="#76749c" opacity="0.74"/><circle cx="36.0" cy="22.9" r="1.3" fill="#47467f" opacity="0.66"/><ellipse transform="translate(46.5 3.5) rotate(119)" rx="1.4" ry="1.2" fill="#8684a4" opacity="0.65"/><circle cx="36.7" cy="18.3" r="1.4" fill="#686795" opacity="0.65"/><circle cx="125.1" cy="165.8" r="1.3" fill="#76749c" opacity="0.91"/><ellipse transform="translate(110.2 172.3) rotate(92)" rx="1.4" ry="1.1" fill="#515088" opacity="0.97"/><circle cx="103.4" cy="157.6" r="1.4" fill="#5c5b8f" opacity="0.86"/><ellipse transform="translate(44.1 9.7) rotate(128)" rx="1.5" ry="1.1" fill="#8684a4" opacity="0.80"/><ellipse transform="translate(88.9 142.8) rotate(117)" rx="1.5" ry="1.3" fill="#8684a4" opacity="0.69"/><ellipse transform="translate(52.1 112.1) rotate(100)" rx="1.6" ry="1.4" fill="#47467f" opacity="0.68"/><circle cx="98.2" cy="163.2" r="1.3" fill="#8684a4" opacity="0.82"/><circle cx="86.4" cy="152.7" r="1.4" fill="#76749c" opacity="0.75"/><ellipse transform="translate(100.5 167.9) rotate(17)" rx="1.5" ry="1.3" fill="#515088" opacity="1.00"/><ellipse transform="translate(93.2 155.0) rotate(5)" rx="1.6" ry="1.4" fill="#76749c" opacity="0.78"/><ellipse transform="translate(91.7 159.6) rotate(128)" rx="1.4" ry="1.2" fill="#5c5b8f" opacity="0.74"/><ellipse transform="translate(83.8 158.0) rotate(56)" rx="1.4" ry="1.1" fill="#47467f" opacity="0.82"/><ellipse transform="translate(39.2 37.1) rotate(56)" rx="1.7" ry="1.4" fill="#76749c" opacity="0.71"/><ellipse transform="translate(16.9 49.3) rotate(98)" rx="1.5" ry="1.3" fill="#686795" opacity="0.99"/><circle cx="37.5" cy="14.0" r="1.5" fill="#515088" opacity="0.99"/><circle cx="103.1" cy="172.0" r="1.6" fill="#515088" opacity="0.97"/><ellipse transform="translate(125.9 175.0) rotate(30)" rx="1.4" ry="1.1" fill="#5c5b8f" opacity="0.87"/><ellipse transform="translate(65.5 125.9) rotate(169)" rx="1.6" ry="1.4" fill="#76749c" opacity="0.90"/><ellipse transform="translate(45.3 96.3) rotate(14)" rx="1.6" ry="1.1" fill="#5c5b8f" opacity="0.91"/><circle cx="100.1" cy="143.9" r="1.3" fill="#8684a4" opacity="0.76"/><ellipse transform="translate(36.0 8.2) rotate(44)" rx="1.6" ry="1.1" fill="#686795" opacity="0.91"/><ellipse transform="translate(106.5 168.9) rotate(79)" rx="1.6" ry="1.5" fill="#76749c" opacity="0.84"/><ellipse transform="translate(98.6 157.4) rotate(25)" rx="1.6" ry="1.1" fill="#515088" opacity="0.67"/><circle cx="58.8" cy="129.7" r="1.3" fill="#5c5b8f" opacity="0.89"/><circle cx="26.6" cy="55.2" r="1.4" fill="#686795" opacity="0.82"/><ellipse transform="translate(76.5 136.3) rotate(151)" rx="1.6" ry="1.4" fill="#8684a4" opacity="0.91"/><circle cx="58.9" cy="115.3" r="1.6" fill="#515088" opacity="0.70"/><circle cx="43.6" cy="103.9" r="1.4" fill="#686795" opacity="0.66"/><ellipse transform="translate(29.0 85.9) rotate(24)" rx="1.6" ry="1.3" fill="#515088" opacity="0.71"/><ellipse transform="translate(57.0 -1.5) rotate(38)" rx="1.6" ry="1.3" fill="#5c5b8f" opacity="0.68"/><circle cx="25.7" cy="81.1" r="1.5" fill="#5c5b8f" opacity="1.00"/><ellipse transform="translate(51.8 102.8) rotate(13)" rx="1.4" ry="1.1" fill="#76749c" opacity="1.00"/><ellipse transform="translate(41.7 100.2) rotate(178)" rx="1.7" ry="1.2" fill="#76749c" opacity="0.90"/><circle cx="31.5" cy="12.3" r="1.6" fill="#515088" opacity="0.94"/><circle cx="94.2" cy="165.1" r="1.5" fill="#76749c" opacity="0.77"/><ellipse transform="translate(17.4 64.5) rotate(30)" rx="1.6" ry="1.1" fill="#686795" opacity="0.93"/><circle cx="19.6" cy="81.4" r="1.4" fill="#5c5b8f" opacity="0.66"/><ellipse transform="translate(45.5 91.0) rotate(141)" rx="1.7" ry="1.5" fill="#515088" opacity="0.65"/><ellipse transform="translate(62.8 2.7) rotate(86)" rx="1.4" ry="1.1" fill="#5c5b8f" opacity="0.68"/><circle cx="56.9" cy="135.2" r="1.4" fill="#5c5b8f" opacity="0.87"/><ellipse transform="translate(21.5 75.4) rotate(141)" rx="1.6" ry="1.3" fill="#76749c" opacity="1.00"/><ellipse transform="translate(32.4 18.8) rotate(171)" rx="1.7" ry="1.3" fill="#76749c" opacity="0.97"/><ellipse transform="translate(49.9 106.9) rotate(14)" rx="1.6" ry="1.3" fill="#47467f" opacity="0.79"/><ellipse transform="translate(43.4 -1.9) rotate(167)" rx="1.5" ry="1.2" fill="#47467f" opacity="0.78"/><circle cx="51.5" cy="95.0" r="1.4" fill="#5c5b8f" opacity="0.71"/><ellipse transform="translate(72.0 143.9) rotate(168)" rx="1.7" ry="1.5" fill="#515088" opacity="0.75"/><circle cx="25.1" cy="15.2" r="1.4" fill="#5c5b8f" opacity="0.78"/><ellipse transform="translate(40.0 92.5) rotate(41)" rx="1.6" ry="1.3" fill="#5c5b8f" opacity="0.72"/><ellipse transform="translate(45.2 110.2) rotate(166)" rx="1.7" ry="1.1" fill="#76749c" opacity="0.65"/><circle cx="20.2" cy="86.1" r="1.3" fill="#686795" opacity="0.68"/><ellipse transform="translate(35.3 94.1) rotate(17)" rx="1.6" ry="1.3" fill="#5c5b8f" opacity="0.67"/><ellipse transform="translate(13.1 68.8) rotate(99)" rx="1.5" ry="1.2" fill="#5c5b8f" opacity="0.80"/><ellipse transform="translate(14.4 80.5) rotate(32)" rx="1.4" ry="1.2" fill="#47467f" opacity="0.73"/><circle cx="37.6" cy="104.3" r="1.5" fill="#515088" opacity="1.00"/><ellipse transform="translate(95.9 168.9) rotate(7)" rx="1.6" ry="1.3" fill="#515088" opacity="0.69"/><ellipse transform="translate(18.2 69.5) rotate(132)" rx="1.5" ry="1.3" fill="#76749c" opacity="1.00"/><ellipse transform="translate(11.5 64.3) rotate(5)" rx="1.7" ry="1.4" fill="#686795" opacity="0.84"/><ellipse transform="translate(26.6 10.1) rotate(153)" rx="1.7" ry="1.1" fill="#8684a4" opacity="0.78"/><ellipse transform="translate(17.2 73.8) rotate(91)" rx="1.3" ry="1.1" fill="#515088" opacity="0.85"/><circle cx="54.2" cy="121.7" r="1.5" fill="#76749c" opacity="0.79"/><circle cx="34.0" cy="38.3" r="1.3" fill="#76749c" opacity="0.86"/><ellipse transform="translate(38.3 -1.0) rotate(130)" rx="1.5" ry="1.3" fill="#5c5b8f" opacity="0.81"/><circle cx="21.6" cy="90.3" r="1.5" fill="#515088" opacity="0.88"/><circle cx="29.0" cy="36.1" r="1.6" fill="#76749c" opacity="0.74"/><ellipse transform="translate(11.9 74.9) rotate(141)" rx="1.7" ry="1.3" fill="#47467f" opacity="0.89"/><ellipse transform="translate(53.3 127.2) rotate(162)" rx="1.4" ry="1.1" fill="#5c5b8f" opacity="0.86"/><ellipse transform="translate(40.8 107.6) rotate(22)" rx="1.7" ry="1.2" fill="#8684a4" opacity="0.82"/><circle cx="98.7" cy="174.4" r="1.3" fill="#686795" opacity="0.93"/><circle cx="60.1" cy="124.3" r="1.6" fill="#515088" opacity="0.70"/><ellipse transform="translate(92.5 171.6) rotate(137)" rx="1.6" ry="1.3" fill="#515088" opacity="0.78"/><circle cx="26.9" cy="32.1" r="1.5" fill="#686795" opacity="0.87"/><ellipse transform="translate(20.6 96.0) rotate(49)" rx="1.7" ry="1.2" fill="#686795" opacity="0.98"/><circle cx="41.8" cy="115.5" r="1.3" fill="#47467f" opacity="0.67"/><circle cx="81.7" cy="152.4" r="1.3" fill="#515088" opacity="0.85"/><ellipse transform="translate(24.4 86.6) rotate(17)" rx="1.4" ry="1.1" fill="#515088" opacity="0.83"/><ellipse transform="translate(21.8 37.3) rotate(71)" rx="1.6" ry="1.4" fill="#515088" opacity="0.81"/><ellipse transform="translate(12.7 84.7) rotate(162)" rx="1.7" ry="1.3" fill="#8684a4" opacity="0.77"/><ellipse transform="translate(30.4 6.5) rotate(94)" rx="1.6" ry="1.1" fill="#47467f" opacity="0.94"/><ellipse transform="translate(38.1 97.9) rotate(81)" rx="1.6" ry="1.1" fill="#515088" opacity="0.66"/><circle cx="54.8" cy="115.8" r="1.4" fill="#5c5b8f" opacity="0.97"/><circle cx="75.7" cy="154.4" r="1.3" fill="#515088" opacity="0.73"/><ellipse transform="translate(88.4 167.9) rotate(52)" rx="1.6" ry="1.1" fill="#8684a4" opacity="0.84"/><ellipse transform="translate(80.3 162.0) rotate(90)" rx="1.4" ry="1.2" fill="#686795" opacity="0.93"/><ellipse transform="translate(34.1 107.6) rotate(112)" rx="1.6" ry="1.4" fill="#686795" opacity="0.71"/><ellipse transform="translate(33.8 28.1) rotate(42)" rx="1.5" ry="1.2" fill="#8684a4" opacity="0.70"/><ellipse transform="translate(7.0 82.3) rotate(117)" rx="1.4" ry="1.1" fill="#47467f" opacity="0.89"/><circle cx="180.1" cy="173.8" r="1.3" fill="#515088" opacity="0.72"/><ellipse transform="translate(71.3 149.8) rotate(6)" rx="1.5" ry="1.1" fill="#686795" opacity="0.86"/><ellipse transform="translate(76.3 160.3) rotate(44)" rx="1.5" ry="1.2" fill="#686795" opacity="0.74"/><ellipse transform="translate(25.6 1.5) rotate(144)" rx="1.6" ry="1.3" fill="#47467f" opacity="0.81"/><circle cx="21.4" cy="55.1" r="1.3" fill="#76749c" opacity="0.68"/><ellipse transform="translate(68.9 163.0) rotate(112)" rx="1.5" ry="1.2" fill="#76749c" opacity="0.75"/><ellipse transform="translate(15.2 92.0) rotate(103)" rx="1.6" ry="1.2" fill="#5c5b8f" opacity="0.95"/><ellipse transform="translate(14.7 61.2) rotate(89)" rx="1.5" ry="1.2" fill="#515088" opacity="0.99"/><ellipse transform="translate(29.1 98.2) rotate(91)" rx="1.7" ry="1.2" fill="#47467f" opacity="0.90"/><ellipse transform="translate(28.0 26.8) rotate(157)" rx="1.5" ry="1.3" fill="#686795" opacity="0.73"/><ellipse transform="translate(13.6 46.2) rotate(145)" rx="1.6" ry="1.1" fill="#5c5b8f" opacity="0.81"/><circle cx="49.5" cy="118.0" r="1.4" fill="#8684a4" opacity="0.71"/><ellipse transform="translate(21.6 67.0) rotate(6)" rx="1.4" ry="1.2" fill="#8684a4" opacity="0.97"/><ellipse transform="translate(16.2 87.9) rotate(49)" rx="1.7" ry="1.2" fill="#515088" opacity="0.85"/><ellipse transform="translate(52.3 86.9) rotate(33)" rx="1.6" ry="1.4" fill="#47467f" opacity="0.69"/><ellipse transform="translate(10.0 79.3) rotate(72)" rx="1.5" ry="1.1" fill="#76749c" opacity="0.84"/><ellipse transform="translate(36.1 111.6) rotate(102)" rx="1.6" ry="1.4" fill="#686795" opacity="0.95"/><ellipse transform="translate(34.1 4.3) rotate(61)" rx="1.6" ry="1.2" fill="#5c5b8f" opacity="0.80"/><circle cx="89.3" cy="163.7" r="1.3" fill="#515088" opacity="0.94"/><ellipse transform="translate(47.1 122.7) rotate(143)" rx="1.6" ry="1.1" fill="#47467f" opacity="0.90"/><circle cx="68.4" cy="146.6" r="1.5" fill="#686795" opacity="0.99"/><ellipse transform="translate(21.8 7.5) rotate(130)" rx="1.5" ry="1.1" fill="#76749c" opacity="0.71"/><circle cx="4.3" cy="50.1" r="1.6" fill="#686795" opacity="0.71"/><circle cx="31.1" cy="-0.9" r="1.3" fill="#8684a4" opacity="0.90"/><circle cx="42.1" cy="120.8" r="1.3" fill="#686795" opacity="0.99"/><circle cx="9.1" cy="90.5" r="1.5" fill="#515088" opacity="0.78"/><circle cx="20.9" cy="12.4" r="1.3" fill="#47467f" opacity="0.70"/><ellipse transform="translate(9.9 97.8) rotate(120)" rx="1.7" ry="1.2" fill="#515088" opacity="0.98"/><circle cx="72.6" cy="158.5" r="1.3" fill="#76749c" opacity="0.88"/><ellipse transform="translate(30.6 93.3) rotate(99)" rx="1.4" ry="1.2" fill="#47467f" opacity="0.89"/><ellipse transform="translate(28.4 102.9) rotate(43)" rx="1.7" ry="1.2" fill="#515088" opacity="0.72"/><circle cx="73.9" cy="165.3" r="1.3" fill="#8684a4" opacity="0.77"/><circle cx="18.5" cy="58.3" r="1.6" fill="#76749c" opacity="0.71"/><ellipse transform="translate(5.1 92.4) rotate(60)" rx="1.7" ry="1.5" fill="#47467f" opacity="0.79"/><circle cx="7.4" cy="63.0" r="1.4" fill="#8684a4" opacity="0.95"/><ellipse transform="translate(88.7 156.7) rotate(44)" rx="1.7" ry="1.1" fill="#8684a4" opacity="0.69"/><ellipse transform="translate(48.5 132.6) rotate(14)" rx="1.5" ry="1.2" fill="#47467f" opacity="0.72"/><ellipse transform="translate(18.7 101.5) rotate(120)" rx="1.7" ry="1.2" fill="#686795" opacity="0.88"/><ellipse transform="translate(71.5 123.0) rotate(128)" rx="1.7" ry="1.1" fill="#515088" opacity="0.65"/><ellipse transform="translate(47.9 128.5) rotate(176)" rx="1.5" ry="1.2" fill="#76749c" opacity="1.00"/><ellipse transform="translate(22.9 25.2) rotate(92)" rx="1.5" ry="1.2" fill="#47467f" opacity="0.93"/><ellipse transform="translate(30.5 117.3) rotate(96)" rx="1.7" ry="1.2" fill="#47467f" opacity="0.87"/><ellipse transform="translate(31.2 111.0) rotate(8)" rx="1.3" ry="1.1" fill="#5c5b8f" opacity="0.96"/><ellipse transform="translate(27.2 90.9) rotate(113)" rx="1.4" ry="1.3" fill="#5c5b8f" opacity="0.98"/><ellipse transform="translate(33.6 101.4) rotate(82)" rx="1.5" ry="1.1" fill="#515088" opacity="0.75"/><ellipse transform="translate(24.9 95.9) rotate(74)" rx="1.7" ry="1.5" fill="#76749c" opacity="0.94"/><ellipse transform="translate(81.7 171.6) rotate(73)" rx="1.3" ry="1.1" fill="#686795" opacity="0.99"/><ellipse transform="translate(79.2 166.5) rotate(7)" rx="1.5" ry="1.2" fill="#5c5b8f" opacity="0.90"/><circle cx="19.9" cy="30.5" r="1.4" fill="#515088" opacity="0.84"/><ellipse transform="translate(18.3 41.4) rotate(120)" rx="1.5" ry="1.2" fill="#686795" opacity="0.78"/><ellipse transform="translate(74.0 170.0) rotate(134)" rx="1.4" ry="1.3" fill="#515088" opacity="0.76"/><ellipse transform="translate(42.1 125.8) rotate(108)" rx="1.6" ry="1.1" fill="#8684a4" opacity="0.85"/><circle cx="31.3" cy="31.6" r="1.3" fill="#5c5b8f" opacity="0.87"/><ellipse transform="translate(35.4 124.9) rotate(83)" rx="1.7" ry="1.1" fill="#76749c" opacity="0.89"/><ellipse transform="translate(55.2 144.1) rotate(113)" rx="1.4" ry="1.2" fill="#8684a4" opacity="0.74"/><circle cx="8.2" cy="67.6" r="1.3" fill="#47467f" opacity="0.78"/><circle cx="16.8" cy="36.8" r="1.6" fill="#686795" opacity="0.91"/><ellipse transform="translate(15.2 11.3) rotate(86)" rx="1.4" ry="1.1" fill="#515088" opacity="0.78"/><ellipse transform="translate(35.3 119.7) rotate(75)" rx="1.4" ry="1.2" fill="#686795" opacity="0.78"/><ellipse transform="translate(93.4 150.3) rotate(121)" rx="1.3" ry="1.1" fill="#515088" opacity="0.98"/><ellipse transform="translate(23.7 20.0) rotate(60)" rx="1.7" ry="1.2" fill="#76749c" opacity="0.87"/><circle cx="28.3" cy="21.3" r="1.3" fill="#515088" opacity="0.75"/><ellipse transform="translate(25.0 108.0) rotate(154)" rx="1.7" ry="1.3" fill="#76749c" opacity="0.68"/><ellipse transform="translate(84.2 164.3) rotate(120)" rx="1.5" ry="1.4" fill="#47467f" opacity="0.76"/><ellipse transform="translate(68.0 153.0) rotate(29)" rx="1.7" ry="1.1" fill="#5c5b8f" opacity="0.76"/><ellipse transform="translate(4.5 70.5) rotate(48)" rx="1.3" ry="1.1" fill="#686795" opacity="0.69"/><ellipse transform="translate(48.1 114.0) rotate(145)" rx="1.6" ry="1.3" fill="#47467f" opacity="0.99"/><circle cx="37.4" cy="115.7" r="1.6" fill="#686795" opacity="0.67"/><ellipse transform="translate(58.9 139.0) rotate(100)" rx="1.4" ry="1.1" fill="#76749c" opacity="0.70"/><ellipse transform="translate(4.3 96.6) rotate(22)" rx="1.3" ry="1.2" fill="#8684a4" opacity="0.93"/><circle cx="52.9" cy="133.3" r="1.3" fill="#515088" opacity="0.85"/><ellipse transform="translate(15.3 97.5) rotate(0)" rx="1.6" ry="1.2" fill="#515088" opacity="0.92"/><ellipse transform="translate(6.1 74.6) rotate(93)" rx="1.7" ry="1.1" fill="#686795" opacity="0.93"/><ellipse transform="translate(-1.6 81.3) rotate(138)" rx="1.4" ry="1.1" fill="#686795" opacity="0.78"/><ellipse transform="translate(32.6 133.6) rotate(27)" rx="1.6" ry="1.3" fill="#47467f" opacity="0.89"/><ellipse transform="translate(3.5 87.7) rotate(120)" rx="1.6" ry="1.3" fill="#515088" opacity="0.66"/><circle cx="11.0" cy="22.4" r="1.3" fill="#8684a4" opacity="0.88"/><circle cx="-1.2" cy="62.5" r="1.3" fill="#515088" opacity="0.93"/><ellipse transform="translate(31.6 127.6) rotate(169)" rx="1.6" ry="1.1" fill="#5c5b8f" opacity="0.91"/><circle cx="64.7" cy="162.2" r="1.3" fill="#47467f" opacity="0.92"/><ellipse transform="translate(-0.3 95.3) rotate(21)" rx="1.5" ry="1.3" fill="#8684a4" opacity="0.76"/><circle cx="20.9" cy="1.5" r="1.3" fill="#5c5b8f" opacity="0.92"/><circle cx="14.7" cy="6.8" r="1.3" fill="#686795" opacity="0.68"/><ellipse transform="translate(67.6 157.3) rotate(141)" rx="1.5" ry="1.2" fill="#76749c" opacity="0.83"/><ellipse transform="translate(-0.7 85.5) rotate(164)" rx="1.5" ry="1.1" fill="#5c5b8f" opacity="0.74"/><ellipse transform="translate(53.3 152.7) rotate(139)" rx="1.5" ry="1.1" fill="#5c5b8f" opacity="0.73"/><ellipse transform="translate(2.2 100.5) rotate(173)" rx="1.6" ry="1.3" fill="#47467f" opacity="0.87"/><ellipse transform="translate(-0.1 90.3) rotate(173)" rx="1.6" ry="1.4" fill="#47467f" opacity="0.69"/><ellipse transform="translate(13.9 42.0) rotate(74)" rx="1.3" ry="1.1" fill="#5c5b8f" opacity="0.94"/><ellipse transform="translate(81.6 175.9) rotate(33)" rx="1.6" ry="1.3" fill="#47467f" opacity="0.98"/><ellipse transform="translate(14.1 103.2) rotate(83)" rx="1.6" ry="1.1" fill="#8684a4" opacity="0.78"/><circle cx="13.5" cy="2.9" r="1.4" fill="#515088" opacity="0.75"/><ellipse transform="translate(18.0 19.9) rotate(35)" rx="1.6" ry="1.3" fill="#76749c" opacity="0.81"/><circle cx="79.3" cy="156.3" r="1.3" fill="#8684a4" opacity="0.75"/><circle cx="10.5" cy="8.9" r="1.3" fill="#5c5b8f" opacity="0.87"/><ellipse transform="translate(14.2 15.7) rotate(35)" rx="1.6" ry="1.4" fill="#76749c" opacity="0.79"/><ellipse transform="translate(14.2 26.5) rotate(160)" rx="1.4" ry="1.1" fill="#515088" opacity="0.72"/><ellipse transform="translate(68.0 167.3) rotate(8)" rx="1.7" ry="1.1" fill="#47467f" opacity="0.75"/><ellipse transform="translate(11.2 -1.0) rotate(175)" rx="1.6" ry="1.1" fill="#76749c" opacity="0.68"/><circle cx="56.4" cy="168.5" r="1.3" fill="#5c5b8f" opacity="0.66"/><ellipse transform="translate(9.7 104.0) rotate(34)" rx="1.5" ry="1.2" fill="#76749c" opacity="0.96"/><ellipse transform="translate(7.9 2.9) rotate(163)" rx="1.4" ry="1.1" fill="#76749c" opacity="0.97"/><circle cx="12.0" cy="120.2" r="1.4" fill="#8684a4" opacity="0.91"/><ellipse transform="translate(15.7 -1.8) rotate(63)" rx="1.5" ry="1.3" fill="#8684a4" opacity="0.85"/><ellipse transform="translate(4.9 14.8) rotate(64)" rx="1.6" ry="1.4" fill="#5c5b8f" opacity="0.82"/><circle cx="17.2" cy="111.9" r="1.3" fill="#515088" opacity="0.67"/><ellipse transform="translate(3.5 104.8) rotate(81)" rx="1.7" ry="1.4" fill="#5c5b8f" opacity="0.98"/><ellipse transform="translate(30.5 141.2) rotate(178)" rx="1.6" ry="1.3" fill="#8684a4" opacity="0.67"/><ellipse transform="translate(14.9 117.3) rotate(67)" rx="1.6" ry="1.4" fill="#515088" opacity="0.95"/><ellipse transform="translate(26.6 46.1) rotate(110)" rx="1.7" ry="1.5" fill="#8684a4" opacity="0.69"/><ellipse transform="translate(2.6 8.1) rotate(108)" rx="1.4" ry="1.2" fill="#8684a4" opacity="0.84"/><ellipse transform="translate(51.4 168.1) rotate(56)" rx="1.6" ry="1.4" fill="#76749c" opacity="0.88"/><ellipse transform="translate(18.4 4.8) rotate(26)" rx="1.7" ry="1.4" fill="#8684a4" opacity="0.81"/><circle cx="5.9" cy="117.9" r="1.4" fill="#5c5b8f" opacity="0.87"/><circle cx="3.9" cy="4.2" r="1.3" fill="#47467f" opacity="0.68"/><ellipse transform="translate(47.3 159.8) rotate(109)" rx="1.6" ry="1.1" fill="#8684a4" opacity="0.98"/><circle cx="30.9" cy="150.7" r="1.3" fill="#5c5b8f" opacity="0.79"/><ellipse transform="translate(-0.4 16.7) rotate(138)" rx="1.6" ry="1.4" fill="#515088" opacity="0.68"/><ellipse transform="translate(18.6 25.7) rotate(131)" rx="1.3" ry="1.2" fill="#76749c" opacity="0.94"/><ellipse transform="translate(26.3 152.5) rotate(151)" rx="1.6" ry="1.2" fill="#515088" opacity="0.92"/><circle cx="6.7" cy="10.7" r="1.4" fill="#8684a4" opacity="0.84"/><circle cx="27.5" cy="144.4" r="1.3" fill="#5c5b8f" opacity="0.65"/><circle cx="-1.7" cy="8.6" r="1.3" fill="#76749c" opacity="0.78"/><ellipse transform="translate(24.5 148.7) rotate(103)" rx="1.5" ry="1.1" fill="#8684a4" opacity="0.85"/><ellipse transform="translate(7.8 18.2) rotate(116)" rx="1.6" ry="1.3" fill="#515088" opacity="0.78"/><circle cx="20.3" cy="145.2" r="1.3" fill="#76749c" opacity="0.89"/><ellipse transform="translate(14.6 131.3) rotate(73)" rx="1.3" ry="1.1" fill="#515088" opacity="0.98"/><ellipse transform="translate(17.9 151.7) rotate(10)" rx="1.6" ry="1.3" fill="#5c5b8f" opacity="0.82"/><ellipse transform="translate(27.3 130.3) rotate(151)" rx="1.5" ry="1.1" fill="#5c5b8f" opacity="0.88"/><ellipse transform="translate(-1.0 114.7) rotate(80)" rx="1.4" ry="1.2" fill="#47467f" opacity="0.89"/><ellipse transform="translate(21.3 155.2) rotate(108)" rx="1.7" ry="1.2" fill="#686795" opacity="0.76"/><ellipse transform="translate(18.3 137.3) rotate(163)" rx="1.5" ry="1.4" fill="#686795" opacity="0.89"/><ellipse transform="translate(0.9 28.6) rotate(33)" rx="1.5" ry="1.3" fill="#47467f" opacity="0.89"/><ellipse transform="translate(12.5 149.3) rotate(139)" rx="1.6" ry="1.3" fill="#515088" opacity="0.81"/><ellipse transform="translate(-2.0 128.7) rotate(45)" rx="1.3" ry="1.1" fill="#47467f" opacity="0.70"/><ellipse transform="translate(0.3 125.0) rotate(25)" rx="1.7" ry="1.4" fill="#8684a4" opacity="0.85"/><circle cx="18.4" cy="158.7" r="1.3" fill="#8684a4" opacity="0.68"/><circle cx="10.4" cy="145.6" r="1.5" fill="#8684a4" opacity="0.76"/><ellipse transform="translate(-1.4 142.3) rotate(9)" rx="1.5" ry="1.2" fill="#686795" opacity="0.89"/><ellipse transform="translate(22.4 171.0) rotate(125)" rx="1.6" ry="1.4" fill="#5c5b8f" opacity="0.76"/><ellipse transform="translate(13.3 153.8) rotate(110)" rx="1.4" ry="1.2" fill="#47467f" opacity="0.73"/><circle cx="-1.5" cy="148.7" r="1.4" fill="#5c5b8f" opacity="0.90"/><circle cx="12.0" cy="158.3" r="1.3" fill="#5c5b8f" opacity="0.94"/><circle cx="8.2" cy="160.2" r="1.4" fill="#686795" opacity="0.68"/><ellipse transform="translate(6.4 156.4) rotate(59)" rx="1.4" ry="1.1" fill="#515088" opacity="0.82"/><circle cx="9.2" cy="152.8" r="1.6" fill="#686795" opacity="0.71"/><circle cx="2.3" cy="162.2" r="1.6" fill="#76749c" opacity="0.96"/><circle cx="19.5" cy="174.3" r="1.3" fill="#76749c" opacity="0.83"/><ellipse transform="translate(14.9 145.7) rotate(48)" rx="1.5" ry="1.2" fill="#76749c" opacity="0.83"/><ellipse transform="translate(9.4 14.0) rotate(135)" rx="1.6" ry="1.2" fill="#76749c" opacity="0.84"/><ellipse transform="translate(170.6 4.0) rotate(175)" rx="6.7" ry="3.2" fill="#d0a47a" opacity="0.45"/><ellipse transform="translate(170.6 6.1) rotate(206)" rx="2.9" ry="1.0" fill="#6e3418" opacity="0.8"/><ellipse transform="translate(182.5 6.0) rotate(42)" rx="7.9" ry="2.3" fill="#d0a47a" opacity="0.45"/><ellipse transform="translate(182.4 7.3) rotate(12)" rx="3.1" ry="0.8" fill="#8c4c26" opacity="0.8"/><ellipse transform="translate(180.4 4.6) rotate(73)" rx="2.3" ry="1.0" fill="#8c4c26" opacity="0.8"/><ellipse transform="translate(134.9 23.8) rotate(32)" rx="7.2" ry="2.4" fill="#d0a47a" opacity="0.45"/><ellipse transform="translate(134.8 24.3) rotate(13)" rx="3.1" ry="1.1" fill="#8c4c26" opacity="0.8"/><ellipse transform="translate(142.0 21.0) rotate(111)" rx="4.2" ry="1.6" fill="#d0a47a" opacity="0.45"/><ellipse transform="translate(142.5 22.9) rotate(142)" rx="2.5" ry="0.8" fill="#6e3418" opacity="0.8"/><ellipse transform="translate(95.0 47.6) rotate(46)" rx="5.6" ry="2.1" fill="#d0a47a" opacity="0.45"/><ellipse transform="translate(92.7 45.2) rotate(14)" rx="2.7" ry="1.0" fill="#6e3418" opacity="0.8"/><ellipse transform="translate(95.9 47.0) rotate(51)" rx="1.9" ry="0.8" fill="#6e3418" opacity="0.8"/><ellipse transform="translate(96.5 45.3) rotate(73)" rx="3.0" ry="0.9" fill="#8c4c26" opacity="0.8"/><ellipse transform="translate(47.6 55.5) rotate(174)" rx="5.2" ry="2.1" fill="#d0a47a" opacity="0.45"/><ellipse transform="translate(48.2 55.4) rotate(151)" rx="1.8" ry="0.9" fill="#8c4c26" opacity="0.8"/><ellipse transform="translate(57.5 75.4) rotate(109)" rx="8.8" ry="2.9" fill="#d0a47a" opacity="0.45"/><ellipse transform="translate(56.0 74.5) rotate(92)" rx="3.6" ry="1.1" fill="#8c4c26" opacity="0.8"/><ellipse transform="translate(55.4 77.8) rotate(138)" rx="3.5" ry="1.5" fill="#6e3418" opacity="0.8"/><ellipse transform="translate(154.7 61.5) rotate(82)" rx="7.6" ry="2.9" fill="#d0a47a" opacity="0.45"/><ellipse transform="translate(155.7 59.7) rotate(43)" rx="3.1" ry="1.0" fill="#6e3418" opacity="0.8"/><ellipse transform="translate(152.8 59.2) rotate(86)" rx="2.9" ry="0.8" fill="#6e3418" opacity="0.8"/><ellipse transform="translate(146.8 71.4) rotate(42)" rx="7.5" ry="3.2" fill="#d0a47a" opacity="0.45"/><ellipse transform="translate(147.6 71.6) rotate(10)" rx="3.7" ry="0.9" fill="#8c4c26" opacity="0.8"/><ellipse transform="translate(144.7 70.2) rotate(14)" rx="3.3" ry="1.2" fill="#6e3418" opacity="0.8"/><ellipse transform="translate(148.9 71.9) rotate(24)" rx="3.1" ry="1.3" fill="#6e3418" opacity="0.8"/><ellipse transform="translate(212.3 59.5) rotate(2)" rx="7.4" ry="2.7" fill="#d0a47a" opacity="0.45"/><ellipse transform="translate(212.9 57.9) rotate(-7)" rx="2.7" ry="0.9" fill="#8c4c26" opacity="0.8"/><ellipse transform="translate(234.0 59.5) rotate(55)" rx="4.7" ry="2.4" fill="#d0a47a" opacity="0.45"/><ellipse transform="translate(236.1 59.4) rotate(74)" rx="3.2" ry="0.8" fill="#6e3418" opacity="0.8"/><ellipse transform="translate(233.2 58.5) rotate(52)" rx="2.8" ry="0.8" fill="#6e3418" opacity="0.8"/><ellipse transform="translate(235.9 57.3) rotate(67)" rx="3.2" ry="0.7" fill="#8c4c26" opacity="0.8"/><ellipse transform="translate(227.0 64.0) rotate(33)" rx="6.1" ry="2.7" fill="#d0a47a" opacity="0.45"/><ellipse transform="translate(224.9 64.4) rotate(1)" rx="3.2" ry="0.9" fill="#6e3418" opacity="0.8"/><ellipse transform="translate(227.0 66.1) rotate(31)" rx="2.3" ry="0.9" fill="#8c4c26" opacity="0.8"/><ellipse transform="translate(228.8 65.6) rotate(60)" rx="3.2" ry="0.8" fill="#6e3418" opacity="0.8"/><ellipse transform="translate(202.3 25.8) rotate(32)" rx="6.4" ry="2.5" fill="#d0a47a" opacity="0.45"/><ellipse transform="translate(201.3 25.1) rotate(55)" rx="3.2" ry="0.9" fill="#8c4c26" opacity="0.8"/><ellipse transform="translate(203.7 25.3) rotate(30)" rx="2.4" ry="1.2" fill="#8c4c26" opacity="0.8"/><ellipse transform="translate(234.0 41.6) rotate(87)" rx="4.5" ry="2.2" fill="#d0a47a" opacity="0.45"/><ellipse transform="translate(235.8 43.8) rotate(87)" rx="1.9" ry="0.7" fill="#6e3418" opacity="0.8"/><ellipse transform="translate(25.8 103.0) rotate(47)" rx="4.9" ry="1.8" fill="#d0a47a" opacity="0.45"/><ellipse transform="translate(27.7 105.1) rotate(78)" rx="1.9" ry="0.9" fill="#8c4c26" opacity="0.8"/><ellipse transform="translate(26.8 104.5) rotate(19)" rx="3.2" ry="1.1" fill="#8c4c26" opacity="0.8"/><ellipse transform="translate(194.4 119.0) rotate(5)" rx="5.4" ry="2.5" fill="#d0a47a" opacity="0.45"/><ellipse transform="translate(195.1 117.5) rotate(29)" rx="3.0" ry="0.7" fill="#8c4c26" opacity="0.8"/><ellipse transform="translate(144.8 111.0) rotate(81)" rx="4.3" ry="2.1" fill="#d0a47a" opacity="0.45"/><ellipse transform="translate(145.8 113.1) rotate(61)" rx="2.2" ry="0.8" fill="#8c4c26" opacity="0.8"/><ellipse transform="translate(146.4 109.1) rotate(52)" rx="2.2" ry="0.8" fill="#6e3418" opacity="0.8"/><ellipse transform="translate(142.7 108.7) rotate(84)" rx="2.7" ry="0.8" fill="#8c4c26" opacity="0.8"/><ellipse transform="translate(166.6 131.0) rotate(170)" rx="4.4" ry="1.6" fill="#d0a47a" opacity="0.45"/><ellipse transform="translate(165.9 131.9) rotate(195)" rx="2.1" ry="0.8" fill="#6e3418" opacity="0.8"/><ellipse transform="translate(167.0 131.2) rotate(141)" rx="2.5" ry="0.7" fill="#8c4c26" opacity="0.8"/><ellipse transform="translate(168.1 131.1) rotate(137)" rx="2.3" ry="0.7" fill="#8c4c26" opacity="0.8"/><ellipse transform="translate(91.0 166.6) rotate(157)" rx="5.2" ry="2.2" fill="#d0a47a" opacity="0.45"/><ellipse transform="translate(91.1 167.1) rotate(153)" rx="2.1" ry="1.0" fill="#8c4c26" opacity="0.8"/><ellipse transform="translate(101.0 166.6) rotate(66)" rx="4.2" ry="1.7" fill="#d0a47a" opacity="0.45"/><ellipse transform="translate(99.9 168.2) rotate(50)" rx="2.4" ry="0.8" fill="#6e3418" opacity="0.8"/><ellipse transform="translate(242.0 123.0) rotate(120)" rx="4.7" ry="2.0" fill="#d0a47a" opacity="0.45"/><ellipse transform="translate(240.5 123.2) rotate(142)" rx="2.2" ry="0.7" fill="#8c4c26" opacity="0.8"/><ellipse transform="translate(244.4 124.9) rotate(101)" rx="1.7" ry="0.7" fill="#6e3418" opacity="0.8"/><ellipse transform="translate(117.0 29.0) rotate(120)" rx="5.3" ry="1.7" fill="#d0a47a" opacity="0.45"/><ellipse transform="translate(117.4 26.5) rotate(152)" rx="2.4" ry="0.7" fill="#6e3418" opacity="0.8"/><ellipse transform="translate(187.0 79.0) rotate(100)" rx="4.4" ry="1.9" fill="#d0a47a" opacity="0.45"/><ellipse transform="translate(185.9 77.3) rotate(120)" rx="2.1" ry="0.8" fill="#6e3418" opacity="0.8"/><ellipse transform="translate(188.3 78.9) rotate(85)" rx="1.6" ry="0.6" fill="#6e3418" opacity="0.8"/><ellipse transform="translate(185.7 80.2) rotate(96)" rx="2.2" ry="0.7" fill="#8c4c26" opacity="0.8"/><ellipse transform="translate(77.0 89.0) rotate(173)" rx="3.4" ry="1.5" fill="#d0a47a" opacity="0.45"/><ellipse transform="translate(75.0 90.6) rotate(145)" rx="1.8" ry="0.7" fill="#6e3418" opacity="0.8"/><ellipse transform="translate(78.3 91.3) rotate(167)" rx="1.8" ry="0.5" fill="#8c4c26" opacity="0.8"/><ellipse transform="translate(76.4 90.8) rotate(151)" rx="2.1" ry="0.7" fill="#8c4c26" opacity="0.8"/></g></svg></div>
<div class="frame" style="left:377px;top:25px;width:212px;height:187px"><svg width="204" height="179" viewBox="0 0 204 179" style="display:block"><defs><filter id="bl2" x="-5%" y="-5%" width="110%" height="110%"><feGaussianBlur stdDeviation="0.6"/></filter></defs><g filter="url(#bl2)"><rect x="-5" y="-5" width="214" height="189" fill="#d8d5cf"/><ellipse cx="102" cy="98" rx="71" ry="63" fill="#dedbd5" opacity="0.6"/><ellipse cx="20" cy="36" rx="24" ry="27" fill="#d2d0cd" opacity="0.6"/><ellipse cx="184" cy="152" rx="24" ry="21" fill="#d3d1ce" opacity="0.6"/><circle cx="195" cy="170" r="2" fill="#ece8e1" opacity="0.45"/><circle cx="74" cy="30" r="5" fill="#e5e0d7" opacity="0.45"/><circle cx="51" cy="38" r="2" fill="#d3d1cf" opacity="0.45"/><circle cx="204" cy="114" r="5" fill="#e5e0d7" opacity="0.45"/><circle cx="111" cy="80" r="3" fill="#ece8e1" opacity="0.45"/><circle cx="178" cy="65" r="6" fill="#cfcdcd" opacity="0.45"/><circle cx="86" cy="158" r="3" fill="#d3d1cf" opacity="0.45"/><circle cx="48" cy="4" r="3" fill="#d3d1cf" opacity="0.45"/><circle cx="104" cy="64" r="4" fill="#d3d1cf" opacity="0.45"/><circle cx="203" cy="80" r="4" fill="#e5e0d7" opacity="0.45"/><circle cx="161" cy="63" r="6" fill="#cfcdcd" opacity="0.45"/><circle cx="33" cy="135" r="5" fill="#cfcdcd" opacity="0.45"/><circle cx="134" cy="45" r="3" fill="#cfcdcd" opacity="0.45"/><circle cx="102" cy="149" r="3" fill="#cfcdcd" opacity="0.45"/><circle cx="184" cy="83" r="4" fill="#cfcdcd" opacity="0.45"/><circle cx="99" cy="40" r="3" fill="#d3d1cf" opacity="0.45"/><circle cx="179" cy="110" r="5" fill="#cfcdcd" opacity="0.45"/><circle cx="63" cy="171" r="5" fill="#cfcdcd" opacity="0.45"/><circle cx="64" cy="37" r="4" fill="#ece8e1" opacity="0.45"/><circle cx="160" cy="61" r="2" fill="#d3d1cf" opacity="0.45"/><circle cx="203" cy="19" r="4" fill="#ece8e1" opacity="0.45"/><circle cx="56" cy="41" r="6" fill="#ece8e1" opacity="0.45"/><circle cx="154" cy="24" r="3" fill="#d3d1cf" opacity="0.45"/><circle cx="192" cy="11" r="6" fill="#ece8e1" opacity="0.45"/><circle cx="12" cy="64" r="3" fill="#ece8e1" opacity="0.45"/><circle cx="17" cy="171" r="2" fill="#ece8e1" opacity="0.45"/><circle cx="76" cy="23" r="6" fill="#d3d1cf" opacity="0.45"/><circle cx="107" cy="0" r="4" fill="#d3d1cf" opacity="0.45"/><circle cx="31" cy="6" r="3" fill="#ece8e1" opacity="0.45"/><circle cx="58" cy="87" r="3" fill="#ece8e1" opacity="0.45"/><circle cx="184" cy="135" r="5" fill="#d3d1cf" opacity="0.45"/><circle cx="96" cy="40" r="5" fill="#e5e0d7" opacity="0.45"/><circle cx="171" cy="4" r="5" fill="#d3d1cf" opacity="0.45"/><circle cx="106" cy="140" r="4" fill="#e5e0d7" opacity="0.45"/><circle cx="29" cy="172" r="3" fill="#cfcdcd" opacity="0.45"/><circle cx="133" cy="125" r="6" fill="#ece8e1" opacity="0.45"/><circle cx="52" cy="24" r="3" fill="#cfcdcd" opacity="0.45"/><circle cx="130" cy="91" r="6" fill="#ece8e1" opacity="0.45"/><circle cx="203" cy="42" r="4" fill="#e5e0d7" opacity="0.45"/><circle cx="16" cy="41" r="5" fill="#e5e0d7" opacity="0.45"/><circle cx="52" cy="76" r="4" fill="#ece8e1" opacity="0.45"/><circle cx="31" cy="69" r="3" fill="#ece8e1" opacity="0.45"/><circle cx="49" cy="18" r="3" fill="#d3d1cf" opacity="0.45"/><circle cx="21" cy="4" r="5" fill="#cfcdcd" opacity="0.45"/><circle cx="63" cy="115" r="3" fill="#d3d1cf" opacity="0.45"/><circle cx="149" cy="78" r="4" fill="#ece8e1" opacity="0.45"/><circle cx="180" cy="166" r="4" fill="#ece8e1" opacity="0.45"/><circle cx="135" cy="86" r="2" fill="#ece8e1" opacity="0.45"/><circle cx="125" cy="52" r="6" fill="#e5e0d7" opacity="0.45"/><circle cx="63" cy="157" r="4" fill="#ece8e1" opacity="0.45"/><circle cx="62" cy="150" r="5" fill="#ece8e1" opacity="0.45"/><circle cx="166" cy="11" r="5" fill="#cfcdcd" opacity="0.45"/><circle cx="42" cy="105" r="2" fill="#e5e0d7" opacity="0.45"/><circle cx="5" cy="55" r="5" fill="#d3d1cf" opacity="0.45"/><circle cx="154" cy="34" r="4" fill="#cfcdcd" opacity="0.45"/><circle cx="146" cy="25" r="3" fill="#ece8e1" opacity="0.45"/><circle cx="52" cy="22" r="4" fill="#e5e0d7" opacity="0.45"/><circle cx="131" cy="172" r="5" fill="#ece8e1" opacity="0.45"/><circle cx="126" cy="84" r="2" fill="#cfcdcd" opacity="0.45"/><circle cx="59" cy="172" r="3" fill="#e5e0d7" opacity="0.45"/><circle cx="55" cy="94" r="4" fill="#cfcdcd" opacity="0.45"/><circle cx="190" cy="150" r="3" fill="#d3d1cf" opacity="0.45"/><circle cx="32" cy="107" r="4" fill="#ece8e1" opacity="0.45"/><circle cx="120" cy="146" r="2" fill="#e5e0d7" opacity="0.45"/><circle cx="36" cy="98" r="5" fill="#ece8e1" opacity="0.45"/><circle cx="163" cy="163" r="5" fill="#ece8e1" opacity="0.45"/><circle cx="26" cy="53" r="3" fill="#e5e0d7" opacity="0.45"/><circle cx="90" cy="94" r="2" fill="#cfcdcd" opacity="0.45"/><circle cx="20" cy="92" r="5" fill="#e5e0d7" opacity="0.45"/><circle cx="35" cy="28" r="6" fill="#d3d1cf" opacity="0.45"/><circle cx="82" cy="178" r="5" fill="#d3d1cf" opacity="0.45"/><circle cx="95" cy="129" r="5" fill="#cfcdcd" opacity="0.45"/><circle cx="180" cy="32" r="4" fill="#cfcdcd" opacity="0.45"/><circle cx="56" cy="45" r="5" fill="#cfcdcd" opacity="0.45"/><circle cx="144" cy="85" r="6" fill="#e5e0d7" opacity="0.45"/><circle cx="146" cy="163" r="2" fill="#d3d1cf" opacity="0.45"/><circle cx="109" cy="34" r="5" fill="#cfcdcd" opacity="0.45"/><circle cx="199" cy="114" r="2" fill="#cfcdcd" opacity="0.45"/><circle cx="107" cy="162" r="4" fill="#d3d1cf" opacity="0.45"/><circle cx="166" cy="3" r="6" fill="#cfcdcd" opacity="0.45"/><circle cx="185" cy="158" r="2" fill="#d3d1cf" opacity="0.45"/><circle cx="56" cy="165" r="4" fill="#cfcdcd" opacity="0.45"/><circle cx="164" cy="25" r="4" fill="#cfcdcd" opacity="0.45"/><circle cx="98" cy="92" r="3" fill="#d3d1cf" opacity="0.45"/><circle cx="198" cy="136" r="3" fill="#cfcdcd" opacity="0.45"/><circle cx="109" cy="120" r="2" fill="#cfcdcd" opacity="0.45"/><circle cx="189" cy="165" r="4" fill="#cfcdcd" opacity="0.45"/><circle cx="6" cy="14" r="5" fill="#d3d1cf" opacity="0.45"/><circle cx="155" cy="168" r="6" fill="#e5e0d7" opacity="0.45"/><circle cx="138" cy="141" r="5" fill="#d3d1cf" opacity="0.45"/><circle cx="11" cy="89" r="6" fill="#e5e0d7" opacity="0.45"/><circle cx="32" cy="51" r="4" fill="#ece8e1" opacity="0.45"/><circle cx="75" cy="96" r="4" fill="#cfcdcd" opacity="0.45"/><circle cx="42" cy="121" r="4" fill="#d3d1cf" opacity="0.45"/><circle cx="99" cy="96" r="6" fill="#ece8e1" opacity="0.45"/><circle cx="53" cy="56" r="3" fill="#e5e0d7" opacity="0.45"/><circle cx="133" cy="70" r="5" fill="#ece8e1" opacity="0.45"/><circle cx="104" cy="38" r="4" fill="#d3d1cf" opacity="0.45"/><circle cx="163" cy="113" r="3" fill="#d3d1cf" opacity="0.45"/><circle cx="194" cy="100" r="4" fill="#ece8e1" opacity="0.45"/><circle cx="195" cy="20" r="5" fill="#cfcdcd" opacity="0.45"/><circle cx="175" cy="38" r="3" fill="#e5e0d7" opacity="0.45"/><circle cx="93" cy="30" r="4" fill="#e5e0d7" opacity="0.45"/><circle cx="94" cy="24" r="5" fill="#d3d1cf" opacity="0.45"/><circle cx="190" cy="58" r="2" fill="#d3d1cf" opacity="0.45"/><circle cx="96" cy="135" r="5" fill="#d3d1cf" opacity="0.45"/><circle cx="73" cy="142" r="3" fill="#cfcdcd" opacity="0.45"/><circle cx="82" cy="147" r="3" fill="#e5e0d7" opacity="0.45"/><circle cx="151" cy="134" r="5" fill="#e5e0d7" opacity="0.45"/><circle cx="109" cy="114" r="2" fill="#e5e0d7" opacity="0.45"/><circle cx="81" cy="31" r="6" fill="#e5e0d7" opacity="0.45"/><circle cx="90" cy="16" r="6" fill="#e5e0d7" opacity="0.45"/><circle cx="196" cy="23" r="2" fill="#e5e0d7" opacity="0.45"/><circle cx="34" cy="14" r="6" fill="#cfcdcd" opacity="0.45"/><circle cx="2" cy="57" r="5" fill="#cfcdcd" opacity="0.45"/><circle cx="110" cy="84" r="6" fill="#e5e0d7" opacity="0.45"/><circle cx="65" cy="166" r="2" fill="#d3d1cf" opacity="0.45"/><circle cx="160" cy="59" r="3" fill="#e5e0d7" opacity="0.45"/><circle cx="51" cy="61" r="3" fill="#d3d1cf" opacity="0.45"/><circle cx="149" cy="8" r="6" fill="#ece8e1" opacity="0.45"/><path d="M176 32L181 39L190 53L202 63" fill="none" stroke="#efede9" stroke-width="1.2" opacity="0.75"/><path d="M125 71L136 77L140 90L140 99" fill="none" stroke="#efede9" stroke-width="1.2" opacity="0.75"/><path d="M104 119L94 111L82 105L74 109" fill="none" stroke="#efede9" stroke-width="1.2" opacity="0.75"/><path d="M203 23L212 19L222 12L233 10L243 11" fill="none" stroke="#efede9" stroke-width="1.2" opacity="0.75"/><path d="M5 76L15 87L32 86L42 79" fill="none" stroke="#efede9" stroke-width="1.2" opacity="0.75"/><path d="M114 25L106 35L110 51" fill="none" stroke="#efede9" stroke-width="1.2" opacity="0.75"/><path d="M69 95L70 104L77 110L85 111" fill="none" stroke="#efede9" stroke-width="1.2" opacity="0.75"/><path d="M44 68L44 53L44 36L39 28" fill="none" stroke="#efede9" stroke-width="1.2" opacity="0.75"/><path d="M167 112L175 120L185 120L195 116" fill="none" stroke="#efede9" stroke-width="1.2" opacity="0.75"/><path d="M20 18L9 32L7 47L-0 59L5 72" fill="none" stroke="#efede9" stroke-width="1.2" opacity="0.75"/><path d="M41 35L33 37L22 46L9 55L-1 54" fill="none" stroke="#efede9" stroke-width="1.2" opacity="0.75"/><path d="M29 56L16 49L12 34" fill="none" stroke="#efede9" stroke-width="1.2" opacity="0.75"/><path d="M19 123L22 113L34 105L43 90L51 81" fill="none" stroke="#efede9" stroke-width="1.2" opacity="0.75"/><path d="M85 129L72 123L61 109L49 110L36 117" fill="none" stroke="#efede9" stroke-width="1.2" opacity="0.75"/><g fill="#b3b1c0" opacity="0.4"><circle cx="121.1" cy="133.8" r="1.3"/><circle cx="38.9" cy="85.2" r="1.6"/><circle cx="173.4" cy="60.5" r="1.1"/><circle cx="123.4" cy="154.0" r="1.6"/><circle cx="133.4" cy="103.3" r="1.5"/><circle cx="118.3" cy="23.6" r="1.1"/><circle cx="196.8" cy="165.7" r="1.5"/><circle cx="106.9" cy="42.0" r="1.4"/><circle cx="96.9" cy="68.0" r="1.2"/><circle cx="11.2" cy="94.0" r="1.5"/><circle cx="81.9" cy="92.1" r="1.3"/><circle cx="143.8" cy="131.5" r="1.2"/><circle cx="88.9" cy="75.1" r="1.1"/><circle cx="137.3" cy="52.8" r="1.8"/><circle cx="115.4" cy="167.1" r="1.3"/><circle cx="49.5" cy="98.5" r="1.0"/><circle cx="87.1" cy="140.1" r="1.3"/><circle cx="163.0" cy="115.9" r="1.4"/><circle cx="202.1" cy="152.6" r="1.0"/><circle cx="86.3" cy="48.2" r="1.3"/><circle cx="5.7" cy="54.1" r="1.8"/><circle cx="47.6" cy="160.4" r="1.3"/><circle cx="101.8" cy="176.8" r="1.3"/><circle cx="136.2" cy="71.7" r="1.2"/><circle cx="126.5" cy="42.1" r="1.5"/><circle cx="70.3" cy="54.2" r="1.6"/><circle cx="200.2" cy="32.4" r="1.4"/><circle cx="132.4" cy="111.8" r="1.5"/><circle cx="37.7" cy="70.8" r="1.0"/><circle cx="159.8" cy="27.6" r="1.7"/><circle cx="173.4" cy="27.8" r="1.0"/><circle cx="24.3" cy="18.5" r="1.4"/><circle cx="63.3" cy="136.2" r="1.3"/><circle cx="98.0" cy="52.8" r="1.7"/><circle cx="30.7" cy="132.3" r="1.7"/><circle cx="46.9" cy="59.9" r="1.7"/><circle cx="70.3" cy="33.1" r="1.5"/><circle cx="110.2" cy="161.9" r="1.4"/><circle cx="116.4" cy="110.8" r="1.5"/><circle cx="82.8" cy="19.1" r="1.0"/><circle cx="21.8" cy="3.3" r="1.6"/><circle cx="8.9" cy="30.0" r="1.7"/><circle cx="169.5" cy="30.7" r="1.8"/><circle cx="86.1" cy="123.4" r="1.2"/><circle cx="180.8" cy="82.3" r="1.7"/><circle cx="32.2" cy="39.1" r="1.6"/><circle cx="103.6" cy="159.7" r="1.7"/><circle cx="104.5" cy="128.4" r="1.6"/><circle cx="137.8" cy="157.6" r="1.6"/><circle cx="2.3" cy="116.9" r="1.3"/><circle cx="15.1" cy="174.2" r="1.3"/><circle cx="125.0" cy="105.6" r="1.7"/><circle cx="157.0" cy="158.8" r="1.1"/><circle cx="189.7" cy="160.9" r="1.3"/><circle cx="184.3" cy="113.6" r="1.3"/><circle cx="168.2" cy="111.8" r="1.1"/><circle cx="25.2" cy="35.8" r="1.2"/><circle cx="141.0" cy="156.9" r="1.5"/><circle cx="116.3" cy="171.6" r="1.3"/><circle cx="8.7" cy="55.6" r="1.8"/><circle cx="66.4" cy="0.3" r="1.0"/><circle cx="154.9" cy="36.9" r="1.0"/><circle cx="86.5" cy="92.1" r="1.6"/><circle cx="151.7" cy="31.0" r="1.7"/><circle cx="185.5" cy="20.3" r="1.6"/><circle cx="61.6" cy="131.8" r="1.1"/><circle cx="182.3" cy="0.5" r="1.7"/><circle cx="154.8" cy="154.8" r="1.8"/><circle cx="66.1" cy="39.2" r="1.2"/><circle cx="153.0" cy="158.3" r="1.6"/><circle cx="179.6" cy="147.9" r="1.7"/><circle cx="49.6" cy="21.2" r="1.2"/><circle cx="33.4" cy="74.8" r="1.0"/><circle cx="42.6" cy="47.7" r="1.8"/><circle cx="92.2" cy="136.1" r="1.0"/><circle cx="169.4" cy="30.6" r="1.2"/><circle cx="192.5" cy="128.2" r="1.4"/><circle cx="5.6" cy="130.0" r="1.5"/><circle cx="122.3" cy="103.3" r="1.1"/><circle cx="11.1" cy="144.6" r="1.7"/><circle cx="10.0" cy="64.7" r="1.6"/><circle cx="132.4" cy="12.2" r="1.4"/><circle cx="152.9" cy="132.2" r="1.3"/><circle cx="187.7" cy="60.7" r="1.3"/><circle cx="152.6" cy="108.5" r="1.0"/><circle cx="170.0" cy="46.9" r="1.2"/><circle cx="54.0" cy="155.1" r="1.2"/><circle cx="77.4" cy="24.8" r="1.8"/><circle cx="69.5" cy="37.7" r="1.6"/><circle cx="187.6" cy="113.5" r="1.1"/><circle cx="171.0" cy="165.2" r="1.3"/><circle cx="164.5" cy="40.2" r="1.6"/><circle cx="68.9" cy="135.4" r="1.2"/><circle cx="81.3" cy="164.6" r="1.5"/><circle cx="106.1" cy="50.9" r="1.7"/><circle cx="183.7" cy="100.7" r="1.5"/><circle cx="110.9" cy="177.8" r="1.4"/><circle cx="61.2" cy="74.1" r="1.5"/><circle cx="166.6" cy="113.1" r="1.1"/><circle cx="113.5" cy="42.1" r="1.2"/><circle cx="83.5" cy="77.7" r="1.5"/><circle cx="101.7" cy="84.9" r="1.6"/><circle cx="186.5" cy="94.8" r="1.2"/><circle cx="151.1" cy="114.0" r="1.0"/><circle cx="77.0" cy="137.8" r="1.3"/><circle cx="28.8" cy="20.1" r="1.2"/><circle cx="39.8" cy="61.4" r="1.3"/><circle cx="61.8" cy="87.3" r="1.1"/><circle cx="116.7" cy="14.5" r="1.4"/><circle cx="121.2" cy="135.6" r="1.2"/><circle cx="67.9" cy="124.6" r="1.2"/><circle cx="171.0" cy="55.1" r="1.1"/><circle cx="9.7" cy="139.7" r="1.5"/><circle cx="12.9" cy="100.8" r="1.0"/><circle cx="179.2" cy="51.4" r="1.6"/><circle cx="59.0" cy="85.1" r="1.1"/><circle cx="55.2" cy="163.6" r="1.5"/><circle cx="7.4" cy="70.7" r="1.1"/><circle cx="127.9" cy="132.7" r="1.7"/><circle cx="130.2" cy="94.0" r="1.6"/><circle cx="60.9" cy="144.1" r="1.2"/><circle cx="148.8" cy="27.1" r="1.2"/><circle cx="55.6" cy="3.1" r="1.5"/><circle cx="70.7" cy="45.3" r="1.3"/><circle cx="3.4" cy="177.1" r="1.4"/><circle cx="166.8" cy="80.9" r="1.4"/><circle cx="128.0" cy="8.1" r="1.8"/><circle cx="84.9" cy="36.9" r="1.8"/><circle cx="125.2" cy="129.6" r="1.1"/><circle cx="115.0" cy="153.4" r="1.2"/><circle cx="175.3" cy="96.6" r="1.7"/><circle cx="17.3" cy="22.1" r="1.0"/><circle cx="202.2" cy="36.1" r="1.4"/><circle cx="96.8" cy="75.6" r="1.6"/><circle cx="120.0" cy="8.1" r="1.1"/><circle cx="193.6" cy="166.9" r="1.7"/><circle cx="174.2" cy="82.9" r="1.6"/><circle cx="166.4" cy="50.9" r="1.7"/><circle cx="0.2" cy="12.3" r="1.1"/><circle cx="71.8" cy="63.8" r="1.4"/><circle cx="79.5" cy="36.9" r="1.4"/><circle cx="99.1" cy="165.3" r="1.8"/><circle cx="99.7" cy="116.9" r="1.7"/><circle cx="129.2" cy="61.9" r="1.4"/><circle cx="180.2" cy="86.4" r="1.5"/><circle cx="152.0" cy="16.3" r="1.3"/><circle cx="169.8" cy="14.6" r="1.7"/><circle cx="55.5" cy="96.2" r="1.7"/><circle cx="109.5" cy="136.9" r="1.8"/><circle cx="105.5" cy="117.4" r="1.2"/><circle cx="99.7" cy="137.2" r="1.3"/><circle cx="57.6" cy="48.8" r="1.5"/><circle cx="81.2" cy="33.9" r="1.8"/><circle cx="18.6" cy="128.9" r="1.3"/><circle cx="31.3" cy="136.5" r="1.3"/><circle cx="160.4" cy="76.9" r="1.5"/><circle cx="93.5" cy="151.0" r="1.6"/><circle cx="131.6" cy="139.8" r="1.7"/><circle cx="73.9" cy="78.4" r="1.3"/><circle cx="21.1" cy="38.4" r="1.4"/><circle cx="169.9" cy="96.3" r="1.6"/><circle cx="37.5" cy="125.3" r="1.2"/><circle cx="54.6" cy="151.5" r="1.6"/><circle cx="43.1" cy="59.9" r="1.7"/><circle cx="118.4" cy="112.3" r="1.3"/><circle cx="166.8" cy="110.2" r="1.8"/><circle cx="189.8" cy="45.5" r="1.6"/><circle cx="116.2" cy="99.5" r="1.1"/><circle cx="175.2" cy="25.2" r="1.5"/><circle cx="83.3" cy="30.0" r="1.4"/><circle cx="36.6" cy="143.7" r="1.6"/><circle cx="22.1" cy="16.1" r="1.5"/></g><g fill="#bdbbc6" opacity="0.4"><circle cx="26.3" cy="30.6" r="1.7"/><circle cx="62.8" cy="37.1" r="1.1"/><circle cx="160.9" cy="5.2" r="1.0"/><circle cx="186.5" cy="115.5" r="1.4"/><circle cx="168.2" cy="21.4" r="1.3"/><circle cx="110.9" cy="0.6" r="1.6"/><circle cx="73.7" cy="168.6" r="1.5"/><circle cx="17.7" cy="119.9" r="1.6"/><circle cx="6.9" cy="91.6" r="1.4"/><circle cx="192.7" cy="63.6" r="1.5"/><circle cx="82.7" cy="89.5" r="1.5"/><circle cx="128.6" cy="175.6" r="1.4"/><circle cx="129.0" cy="5.6" r="1.5"/><circle cx="32.5" cy="51.6" r="1.3"/><circle cx="134.7" cy="69.2" r="1.5"/><circle cx="74.0" cy="142.9" r="1.1"/><circle cx="186.0" cy="102.1" r="1.2"/><circle cx="145.7" cy="173.6" r="1.5"/><circle cx="20.7" cy="1.9" r="1.3"/><circle cx="10.5" cy="59.0" r="1.5"/><circle cx="125.1" cy="0.9" r="1.5"/><circle cx="68.1" cy="139.8" r="1.5"/><circle cx="148.1" cy="83.3" r="1.1"/><circle cx="43.6" cy="65.7" r="1.7"/><circle cx="176.1" cy="0.3" r="1.6"/><circle cx="77.6" cy="13.6" r="1.1"/><circle cx="164.2" cy="157.3" r="1.7"/><circle cx="130.7" cy="47.8" r="1.4"/><circle cx="27.9" cy="132.1" r="1.5"/><circle cx="170.1" cy="59.8" r="1.5"/><circle cx="8.8" cy="122.5" r="1.1"/><circle cx="52.9" cy="99.3" r="1.3"/><circle cx="131.6" cy="136.7" r="1.0"/><circle cx="0.4" cy="142.3" r="1.7"/><circle cx="172.9" cy="31.2" r="1.6"/><circle cx="116.2" cy="172.7" r="1.2"/><circle cx="84.9" cy="86.6" r="1.6"/><circle cx="201.0" cy="31.0" r="1.2"/><circle cx="110.0" cy="100.8" r="1.7"/><circle cx="47.5" cy="28.9" r="1.6"/><circle cx="39.8" cy="58.0" r="1.6"/><circle cx="184.7" cy="8.3" r="1.1"/><circle cx="110.9" cy="5.9" r="1.1"/><circle cx="141.2" cy="37.6" r="1.2"/><circle cx="75.8" cy="97.0" r="1.8"/><circle cx="94.1" cy="108.7" r="1.0"/><circle cx="88.3" cy="35.9" r="1.3"/><circle cx="89.2" cy="44.3" r="1.4"/><circle cx="42.2" cy="10.1" r="1.7"/><circle cx="133.2" cy="176.1" r="1.0"/><circle cx="17.2" cy="177.5" r="1.7"/><circle cx="100.1" cy="20.2" r="1.5"/><circle cx="65.1" cy="145.5" r="1.0"/><circle cx="197.3" cy="48.1" r="1.2"/><circle cx="142.8" cy="69.8" r="1.5"/><circle cx="155.9" cy="32.7" r="1.8"/><circle cx="44.2" cy="76.0" r="1.4"/><circle cx="124.1" cy="112.4" r="1.3"/><circle cx="51.0" cy="104.9" r="1.6"/><circle cx="50.2" cy="47.0" r="1.3"/><circle cx="147.1" cy="121.6" r="1.6"/><circle cx="154.7" cy="171.3" r="1.0"/><circle cx="202.5" cy="109.0" r="1.2"/><circle cx="109.5" cy="52.6" r="1.4"/><circle cx="120.0" cy="99.4" r="1.6"/><circle cx="54.5" cy="164.0" r="1.0"/><circle cx="197.0" cy="6.0" r="1.6"/><circle cx="103.3" cy="108.4" r="1.2"/><circle cx="40.6" cy="58.4" r="1.5"/><circle cx="154.5" cy="124.5" r="1.5"/><circle cx="4.5" cy="18.3" r="1.5"/><circle cx="196.8" cy="120.5" r="1.7"/><circle cx="130.5" cy="82.6" r="1.6"/><circle cx="166.2" cy="163.7" r="1.4"/><circle cx="139.4" cy="154.5" r="1.0"/><circle cx="108.0" cy="162.9" r="1.2"/><circle cx="128.3" cy="18.4" r="1.4"/><circle cx="61.5" cy="87.0" r="1.4"/><circle cx="141.5" cy="91.7" r="1.8"/><circle cx="93.1" cy="5.1" r="1.6"/><circle cx="88.2" cy="96.9" r="1.5"/><circle cx="148.4" cy="163.0" r="1.0"/><circle cx="187.2" cy="162.1" r="1.6"/><circle cx="43.1" cy="39.9" r="1.0"/><circle cx="72.8" cy="85.2" r="1.7"/><circle cx="91.1" cy="114.0" r="1.4"/><circle cx="203.9" cy="171.7" r="1.4"/><circle cx="65.8" cy="121.7" r="1.5"/><circle cx="85.6" cy="71.8" r="1.1"/><circle cx="46.1" cy="4.6" r="1.6"/><circle cx="64.4" cy="78.3" r="1.6"/><circle cx="30.8" cy="115.1" r="1.8"/><circle cx="78.2" cy="145.6" r="1.4"/><circle cx="169.9" cy="71.7" r="1.6"/><circle cx="16.4" cy="165.0" r="1.7"/><circle cx="178.0" cy="13.2" r="1.4"/><circle cx="4.8" cy="74.5" r="1.3"/><circle cx="83.3" cy="171.1" r="1.3"/><circle cx="37.2" cy="118.2" r="1.4"/><circle cx="53.7" cy="93.6" r="1.7"/><circle cx="173.4" cy="83.3" r="1.4"/><circle cx="10.4" cy="115.9" r="1.4"/><circle cx="115.2" cy="65.4" r="1.1"/><circle cx="197.2" cy="149.8" r="1.1"/><circle cx="170.2" cy="51.1" r="1.3"/><circle cx="79.9" cy="95.5" r="1.5"/><circle cx="32.7" cy="157.6" r="1.7"/><circle cx="163.4" cy="131.4" r="1.0"/><circle cx="154.1" cy="125.4" r="1.2"/><circle cx="19.4" cy="12.8" r="1.3"/><circle cx="111.4" cy="110.0" r="1.2"/><circle cx="41.4" cy="51.3" r="1.0"/><circle cx="166.9" cy="35.3" r="1.4"/><circle cx="119.0" cy="83.0" r="1.6"/><circle cx="178.2" cy="105.9" r="1.0"/><circle cx="38.6" cy="69.9" r="1.6"/><circle cx="67.5" cy="66.3" r="1.2"/><circle cx="149.2" cy="156.6" r="1.0"/><circle cx="144.8" cy="40.3" r="1.7"/><circle cx="189.9" cy="42.2" r="1.0"/><circle cx="143.6" cy="42.3" r="1.3"/><circle cx="88.7" cy="34.2" r="1.6"/><circle cx="198.0" cy="143.0" r="1.8"/><circle cx="59.4" cy="44.3" r="1.7"/><circle cx="202.8" cy="106.5" r="1.3"/><circle cx="71.9" cy="93.9" r="1.5"/><circle cx="187.2" cy="21.5" r="1.4"/><circle cx="119.3" cy="42.0" r="1.1"/><circle cx="202.1" cy="140.9" r="1.5"/><circle cx="84.1" cy="56.5" r="1.4"/><circle cx="105.8" cy="21.7" r="1.2"/><circle cx="9.6" cy="124.9" r="1.4"/><circle cx="172.6" cy="31.3" r="1.4"/><circle cx="68.0" cy="112.2" r="1.5"/><circle cx="108.4" cy="80.9" r="1.5"/><circle cx="154.0" cy="113.8" r="1.5"/><circle cx="159.1" cy="4.3" r="1.2"/><circle cx="100.8" cy="125.3" r="1.4"/><circle cx="46.6" cy="44.6" r="1.6"/><circle cx="46.1" cy="138.6" r="1.2"/><circle cx="190.6" cy="28.9" r="1.6"/><circle cx="101.1" cy="76.5" r="1.7"/><circle cx="55.7" cy="148.7" r="1.7"/></g><g fill="#aaa8ba" opacity="0.4"><circle cx="198.0" cy="68.5" r="1.2"/><circle cx="108.8" cy="141.8" r="1.3"/><circle cx="89.9" cy="75.1" r="1.0"/><circle cx="157.3" cy="129.1" r="1.5"/><circle cx="160.8" cy="42.5" r="1.2"/><circle cx="188.3" cy="59.9" r="1.6"/><circle cx="53.3" cy="44.6" r="1.6"/><circle cx="6.0" cy="7.5" r="1.1"/><circle cx="65.6" cy="96.2" r="1.1"/><circle cx="60.2" cy="136.4" r="1.4"/><circle cx="19.9" cy="64.4" r="1.6"/><circle cx="74.1" cy="169.6" r="1.2"/><circle cx="97.5" cy="50.7" r="1.8"/><circle cx="5.2" cy="60.9" r="1.0"/><circle cx="137.2" cy="178.9" r="1.0"/><circle cx="135.1" cy="123.6" r="1.5"/><circle cx="9.2" cy="106.2" r="1.7"/><circle cx="185.5" cy="19.8" r="1.7"/><circle cx="45.1" cy="94.1" r="1.7"/><circle cx="93.8" cy="66.7" r="1.1"/><circle cx="166.9" cy="169.3" r="1.8"/><circle cx="143.9" cy="175.0" r="1.3"/><circle cx="111.8" cy="101.8" r="1.2"/><circle cx="95.1" cy="81.8" r="1.7"/><circle cx="94.2" cy="118.7" r="1.7"/><circle cx="103.1" cy="160.7" r="1.8"/><circle cx="127.3" cy="81.4" r="1.8"/><circle cx="79.7" cy="110.3" r="1.6"/><circle cx="64.6" cy="72.7" r="1.7"/><circle cx="66.4" cy="14.4" r="1.4"/><circle cx="117.3" cy="39.9" r="1.3"/><circle cx="48.6" cy="154.4" r="1.2"/><circle cx="132.5" cy="121.2" r="1.6"/><circle cx="188.7" cy="151.1" r="1.0"/><circle cx="149.8" cy="164.3" r="1.2"/><circle cx="126.7" cy="81.7" r="1.2"/><circle cx="179.0" cy="54.6" r="1.3"/><circle cx="186.0" cy="160.5" r="1.6"/><circle cx="58.4" cy="4.9" r="1.2"/><circle cx="85.1" cy="22.5" r="1.2"/><circle cx="188.7" cy="153.4" r="1.3"/><circle cx="71.6" cy="54.9" r="1.5"/><circle cx="188.0" cy="174.5" r="1.5"/><circle cx="71.7" cy="171.3" r="1.6"/><circle cx="30.5" cy="13.2" r="1.6"/><circle cx="183.1" cy="63.1" r="1.1"/><circle cx="61.3" cy="101.4" r="1.1"/><circle cx="202.4" cy="40.9" r="1.6"/><circle cx="136.1" cy="37.6" r="1.5"/><circle cx="156.3" cy="132.0" r="1.2"/><circle cx="126.7" cy="127.0" r="1.8"/><circle cx="26.4" cy="42.5" r="1.4"/><circle cx="117.6" cy="94.4" r="1.6"/><circle cx="173.1" cy="96.9" r="1.5"/><circle cx="200.7" cy="77.6" r="1.7"/><circle cx="62.8" cy="81.6" r="1.1"/><circle cx="76.2" cy="33.3" r="1.0"/><circle cx="114.6" cy="160.7" r="1.6"/><circle cx="182.8" cy="167.4" r="1.8"/><circle cx="46.7" cy="160.4" r="1.2"/><circle cx="53.4" cy="4.6" r="1.8"/><circle cx="9.7" cy="65.8" r="1.4"/><circle cx="139.0" cy="24.1" r="1.8"/><circle cx="169.8" cy="173.2" r="1.1"/><circle cx="6.2" cy="38.3" r="1.5"/><circle cx="154.7" cy="85.2" r="1.7"/><circle cx="15.7" cy="4.1" r="1.7"/><circle cx="60.2" cy="21.5" r="1.5"/><circle cx="48.2" cy="158.6" r="1.6"/><circle cx="119.5" cy="8.4" r="1.2"/><circle cx="17.2" cy="146.6" r="1.2"/><circle cx="102.2" cy="25.1" r="1.3"/><circle cx="196.6" cy="111.7" r="1.3"/><circle cx="131.5" cy="17.8" r="1.1"/><circle cx="123.3" cy="165.2" r="1.1"/><circle cx="76.6" cy="85.8" r="1.5"/><circle cx="22.9" cy="20.0" r="1.7"/><circle cx="16.5" cy="127.8" r="1.7"/><circle cx="197.6" cy="163.4" r="1.1"/><circle cx="67.7" cy="12.9" r="1.2"/><circle cx="202.6" cy="48.9" r="1.1"/><circle cx="93.7" cy="170.2" r="1.6"/><circle cx="48.8" cy="98.9" r="1.5"/><circle cx="176.2" cy="10.0" r="1.6"/><circle cx="6.5" cy="122.8" r="1.5"/><circle cx="12.2" cy="37.0" r="1.2"/><circle cx="137.5" cy="126.3" r="1.5"/><circle cx="43.9" cy="86.3" r="1.6"/><circle cx="83.2" cy="94.5" r="1.8"/><circle cx="99.1" cy="108.3" r="1.0"/><circle cx="43.2" cy="98.5" r="1.7"/><circle cx="87.0" cy="109.7" r="1.2"/><circle cx="193.4" cy="16.5" r="1.3"/><circle cx="147.7" cy="32.3" r="1.7"/><circle cx="52.3" cy="87.7" r="1.7"/><circle cx="17.1" cy="14.3" r="1.1"/><circle cx="65.4" cy="86.6" r="1.5"/><circle cx="151.9" cy="71.9" r="1.7"/><circle cx="101.5" cy="95.4" r="1.3"/><circle cx="81.0" cy="44.4" r="1.3"/><circle cx="128.5" cy="148.0" r="1.2"/><circle cx="74.5" cy="75.0" r="1.5"/><circle cx="32.6" cy="66.4" r="1.7"/><circle cx="158.3" cy="55.3" r="1.8"/><circle cx="130.0" cy="13.4" r="1.4"/><circle cx="70.1" cy="70.8" r="1.5"/><circle cx="128.5" cy="122.7" r="1.6"/><circle cx="34.1" cy="32.6" r="1.1"/><circle cx="54.6" cy="17.3" r="1.1"/><circle cx="144.0" cy="34.9" r="1.6"/><circle cx="172.1" cy="14.5" r="1.2"/><circle cx="169.8" cy="4.8" r="1.1"/><circle cx="134.7" cy="78.2" r="1.5"/><circle cx="119.0" cy="166.3" r="1.6"/><circle cx="82.6" cy="66.7" r="1.3"/><circle cx="100.5" cy="69.2" r="1.1"/><circle cx="135.3" cy="175.0" r="1.3"/><circle cx="121.1" cy="134.7" r="1.4"/><circle cx="119.7" cy="74.3" r="1.6"/><circle cx="122.7" cy="33.4" r="1.2"/><circle cx="102.9" cy="161.2" r="1.4"/><circle cx="68.1" cy="7.0" r="1.2"/><circle cx="26.7" cy="42.5" r="1.2"/><circle cx="140.3" cy="78.4" r="1.4"/><circle cx="162.4" cy="172.5" r="1.4"/><circle cx="27.0" cy="109.2" r="1.7"/><circle cx="173.4" cy="157.1" r="1.1"/><circle cx="162.7" cy="16.5" r="1.1"/><circle cx="93.6" cy="29.9" r="1.0"/><circle cx="157.9" cy="33.2" r="1.4"/><circle cx="111.9" cy="120.6" r="1.3"/><circle cx="119.2" cy="63.0" r="1.5"/><circle cx="152.8" cy="175.5" r="1.6"/><circle cx="158.5" cy="117.1" r="1.4"/><circle cx="40.8" cy="22.8" r="1.4"/><circle cx="3.6" cy="146.7" r="1.6"/><circle cx="147.9" cy="151.1" r="1.6"/><circle cx="106.5" cy="68.0" r="1.6"/><circle cx="128.8" cy="2.5" r="1.5"/><circle cx="157.0" cy="81.1" r="1.7"/><circle cx="156.6" cy="53.0" r="1.3"/><circle cx="31.4" cy="97.7" r="1.3"/><circle cx="144.9" cy="75.2" r="1.6"/><circle cx="134.5" cy="14.1" r="1.1"/><circle cx="125.4" cy="178.1" r="1.7"/><circle cx="58.6" cy="120.8" r="1.6"/><circle cx="197.7" cy="95.6" r="1.5"/><circle cx="183.9" cy="107.7" r="1.8"/><circle cx="76.0" cy="59.5" r="1.4"/><circle cx="134.1" cy="43.3" r="1.7"/><circle cx="132.8" cy="100.7" r="1.8"/><circle cx="156.7" cy="69.4" r="1.2"/><circle cx="61.5" cy="43.7" r="1.2"/><circle cx="170.8" cy="52.8" r="1.7"/><circle cx="154.7" cy="104.0" r="1.4"/><circle cx="55.2" cy="34.7" r="1.6"/><circle cx="141.8" cy="15.5" r="1.1"/><circle cx="124.6" cy="121.7" r="1.3"/><circle cx="188.0" cy="9.3" r="1.4"/><circle cx="114.5" cy="23.0" r="1.4"/><circle cx="39.1" cy="61.5" r="1.1"/><circle cx="115.8" cy="131.8" r="1.2"/><circle cx="144.6" cy="104.1" r="1.0"/><circle cx="132.4" cy="82.7" r="1.3"/><circle cx="142.6" cy="48.3" r="1.5"/><circle cx="78.1" cy="52.5" r="1.3"/><circle cx="4.2" cy="129.6" r="1.7"/><circle cx="182.5" cy="45.1" r="1.4"/><circle cx="142.2" cy="48.3" r="1.4"/><circle cx="189.1" cy="109.4" r="1.8"/><circle cx="96.5" cy="66.9" r="1.1"/><circle cx="68.8" cy="76.3" r="1.4"/><circle cx="70.6" cy="119.0" r="1.8"/><circle cx="193.9" cy="148.1" r="1.7"/><circle cx="133.2" cy="145.5" r="1.1"/><circle cx="120.5" cy="79.4" r="1.4"/><circle cx="87.4" cy="61.8" r="1.7"/><circle cx="58.7" cy="60.2" r="1.7"/><circle cx="73.7" cy="80.2" r="1.3"/><circle cx="81.8" cy="157.8" r="1.2"/><circle cx="184.3" cy="136.9" r="1.4"/><circle cx="108.5" cy="159.2" r="1.5"/><circle cx="31.6" cy="137.4" r="1.8"/><circle cx="80.1" cy="143.9" r="1.5"/><circle cx="76.4" cy="77.3" r="1.1"/></g><ellipse transform="translate(74.5 73.8) rotate(161)" rx="2.3" ry="1.9" fill="#84829f" opacity="0.82"/><ellipse transform="translate(84.9 66.2) rotate(95)" rx="2.5" ry="2.2" fill="#9896ad" opacity="0.68"/><ellipse transform="translate(81.4 73.4) rotate(160)" rx="2.8" ry="1.9" fill="#84829f" opacity="0.84"/><ellipse transform="translate(89.0 77.0) rotate(24)" rx="2.4" ry="1.9" fill="#706e92" opacity="0.77"/><ellipse transform="translate(76.0 62.4) rotate(47)" rx="2.5" ry="2.1" fill="#706e92" opacity="0.67"/><ellipse transform="translate(74.2 84.5) rotate(173)" rx="2.5" ry="1.9" fill="#84829f" opacity="0.77"/><ellipse transform="translate(83.2 83.9) rotate(88)" rx="2.8" ry="1.8" fill="#9896ad" opacity="0.72"/><circle cx="71.0" cy="67.9" r="2.1" fill="#84829f" opacity="0.92"/><ellipse transform="translate(97.0 71.4) rotate(176)" rx="2.3" ry="2.0" fill="#706e92" opacity="0.88"/><ellipse transform="translate(70.5 56.5) rotate(76)" rx="2.6" ry="2.1" fill="#9896ad" opacity="0.75"/><circle cx="72.7" cy="92.2" r="2.1" fill="#706e92" opacity="0.86"/><circle cx="63.6" cy="91.3" r="2.1" fill="#84829f" opacity="0.66"/><ellipse transform="translate(99.4 81.8) rotate(47)" rx="2.8" ry="1.8" fill="#706e92" opacity="0.79"/><ellipse transform="translate(66.3 76.3) rotate(18)" rx="2.5" ry="1.7" fill="#706e92" opacity="0.90"/><ellipse transform="translate(90.0 90.0) rotate(34)" rx="2.8" ry="2.2" fill="#7a7898" opacity="0.79"/><ellipse transform="translate(80.5 91.7) rotate(13)" rx="2.6" ry="2.3" fill="#706e92" opacity="0.75"/><ellipse transform="translate(58.9 86.0) rotate(56)" rx="2.8" ry="2.1" fill="#706e92" opacity="0.78"/><circle cx="75.2" cy="45.6" r="2.1" fill="#8e8ca6" opacity="0.83"/><circle cx="78.2" cy="53.6" r="2.2" fill="#706e92" opacity="0.68"/><ellipse transform="translate(58.5 77.0) rotate(57)" rx="2.5" ry="1.7" fill="#7a7898" opacity="0.90"/><ellipse transform="translate(85.6 59.3) rotate(124)" rx="2.8" ry="1.9" fill="#84829f" opacity="0.70"/><ellipse transform="translate(92.7 60.4) rotate(144)" rx="2.4" ry="2.0" fill="#9896ad" opacity="0.97"/><ellipse transform="translate(57.7 65.2) rotate(107)" rx="2.5" ry="2.1" fill="#7a7898" opacity="0.96"/><ellipse transform="translate(48.6 85.4) rotate(159)" rx="2.6" ry="1.9" fill="#7a7898" opacity="0.80"/><ellipse transform="translate(51.9 94.0) rotate(72)" rx="2.6" ry="1.7" fill="#84829f" opacity="0.70"/><ellipse transform="translate(49.0 68.2) rotate(36)" rx="2.6" ry="2.2" fill="#9896ad" opacity="0.95"/><circle cx="77.5" cy="37.2" r="2.1" fill="#9896ad" opacity="0.79"/><ellipse transform="translate(86.3 99.2) rotate(97)" rx="2.8" ry="2.3" fill="#7a7898" opacity="0.75"/><ellipse transform="translate(100.4 94.2) rotate(6)" rx="2.3" ry="1.8" fill="#9896ad" opacity="0.81"/><ellipse transform="translate(69.4 98.6) rotate(11)" rx="2.4" ry="2.1" fill="#7a7898" opacity="0.82"/><ellipse transform="translate(109.8 80.1) rotate(150)" rx="2.8" ry="1.8" fill="#7a7898" opacity="0.89"/><ellipse transform="translate(103.6 75.4) rotate(50)" rx="2.3" ry="2.0" fill="#84829f" opacity="0.69"/><ellipse transform="translate(87.6 111.3) rotate(169)" rx="2.7" ry="2.2" fill="#84829f" opacity="0.90"/><circle cx="76.4" cy="113.6" r="2.2" fill="#84829f" opacity="0.86"/><circle cx="64.6" cy="62.7" r="2.2" fill="#9896ad" opacity="0.88"/><ellipse transform="translate(86.3 43.9) rotate(62)" rx="2.6" ry="1.9" fill="#9896ad" opacity="0.87"/><ellipse transform="translate(70.0 122.8) rotate(135)" rx="2.8" ry="2.1" fill="#7a7898" opacity="0.94"/><circle cx="41.3" cy="98.8" r="2.1" fill="#9896ad" opacity="0.65"/><ellipse transform="translate(74.8 25.4) rotate(86)" rx="2.7" ry="1.9" fill="#7a7898" opacity="0.96"/><ellipse transform="translate(97.1 47.6) rotate(91)" rx="2.5" ry="2.1" fill="#7a7898" opacity="0.74"/><ellipse transform="translate(107.7 50.9) rotate(79)" rx="2.5" ry="2.3" fill="#8e8ca6" opacity="1.00"/><ellipse transform="translate(98.4 55.0) rotate(25)" rx="2.8" ry="2.1" fill="#9896ad" opacity="0.66"/><ellipse transform="translate(119.2 74.3) rotate(50)" rx="2.5" ry="1.8" fill="#7a7898" opacity="0.79"/><ellipse transform="translate(93.2 41.9) rotate(106)" rx="2.7" ry="1.9" fill="#9896ad" opacity="0.69"/><ellipse transform="translate(88.9 52.5) rotate(77)" rx="2.4" ry="1.9" fill="#8e8ca6" opacity="0.98"/><ellipse transform="translate(54.7 102.0) rotate(98)" rx="2.5" ry="1.8" fill="#7a7898" opacity="0.92"/><ellipse transform="translate(62.2 40.5) rotate(16)" rx="2.8" ry="2.3" fill="#84829f" opacity="0.88"/><ellipse transform="translate(60.1 97.7) rotate(127)" rx="2.5" ry="1.7" fill="#7a7898" opacity="0.86"/><ellipse transform="translate(108.8 88.8) rotate(23)" rx="2.3" ry="2.1" fill="#8e8ca6" opacity="0.90"/><ellipse transform="translate(40.8 64.4) rotate(46)" rx="2.5" ry="1.8" fill="#8e8ca6" opacity="0.66"/><ellipse transform="translate(64.2 47.2) rotate(168)" rx="2.6" ry="2.3" fill="#706e92" opacity="0.97"/><circle cx="98.2" cy="33.1" r="2.2" fill="#8e8ca6" opacity="0.86"/><ellipse transform="translate(55.7 114.1) rotate(28)" rx="2.5" ry="1.9" fill="#7a7898" opacity="0.77"/><ellipse transform="translate(109.5 97.9) rotate(115)" rx="2.7" ry="1.9" fill="#8e8ca6" opacity="0.92"/><circle cx="116.7" cy="95.9" r="2.4" fill="#8e8ca6" opacity="0.84"/><ellipse transform="translate(104.4 65.4) rotate(20)" rx="2.7" ry="2.1" fill="#9896ad" opacity="0.94"/><ellipse transform="translate(75.8 103.7) rotate(176)" rx="2.2" ry="1.9" fill="#706e92" opacity="0.87"/><ellipse transform="translate(49.2 44.0) rotate(86)" rx="2.5" ry="2.0" fill="#9896ad" opacity="0.82"/><ellipse transform="translate(131.3 90.6) rotate(98)" rx="2.5" ry="1.8" fill="#706e92" opacity="0.85"/><ellipse transform="translate(89.1 35.8) rotate(174)" rx="2.3" ry="1.8" fill="#8e8ca6" opacity="0.83"/><ellipse transform="translate(52.9 51.6) rotate(127)" rx="2.4" ry="2.2" fill="#7a7898" opacity="0.95"/><ellipse transform="translate(100.7 104.4) rotate(147)" rx="2.6" ry="1.8" fill="#84829f" opacity="0.96"/><ellipse transform="translate(45.4 74.2) rotate(105)" rx="2.7" ry="1.8" fill="#9896ad" opacity="0.85"/><ellipse transform="translate(63.7 105.4) rotate(105)" rx="2.5" ry="1.9" fill="#706e92" opacity="0.78"/><ellipse transform="translate(116.5 104.0) rotate(177)" rx="2.2" ry="1.7" fill="#7a7898" opacity="0.81"/><ellipse transform="translate(56.1 29.8) rotate(143)" rx="2.2" ry="2.0" fill="#8e8ca6" opacity="0.83"/><circle cx="115.8" cy="63.9" r="2.2" fill="#8e8ca6" opacity="0.91"/><ellipse transform="translate(80.3 30.7) rotate(134)" rx="2.7" ry="2.0" fill="#8e8ca6" opacity="0.65"/><ellipse transform="translate(65.5 31.8) rotate(140)" rx="2.8" ry="2.2" fill="#9896ad" opacity="0.84"/><circle cx="107.9" cy="58.1" r="2.1" fill="#7a7898" opacity="0.99"/><ellipse transform="translate(55.7 58.6) rotate(122)" rx="2.4" ry="2.0" fill="#8e8ca6" opacity="0.66"/><ellipse transform="translate(135.9 102.6) rotate(144)" rx="2.5" ry="1.8" fill="#706e92" opacity="0.72"/><ellipse transform="translate(38.4 51.2) rotate(166)" rx="2.6" ry="2.2" fill="#8e8ca6" opacity="0.98"/><ellipse transform="translate(81.9 119.5) rotate(42)" rx="2.6" ry="1.9" fill="#9896ad" opacity="0.91"/><ellipse transform="translate(128.0 105.5) rotate(146)" rx="2.6" ry="2.0" fill="#7a7898" opacity="0.74"/><ellipse transform="translate(95.9 109.9) rotate(153)" rx="2.5" ry="1.7" fill="#8e8ca6" opacity="0.95"/><ellipse transform="translate(111.9 71.9) rotate(148)" rx="2.5" ry="2.2" fill="#706e92" opacity="0.95"/><ellipse transform="translate(48.1 105.0) rotate(153)" rx="2.2" ry="1.9" fill="#9896ad" opacity="0.81"/><ellipse transform="translate(110.7 113.3) rotate(35)" rx="2.4" ry="2.0" fill="#7a7898" opacity="0.92"/><ellipse transform="translate(125.4 113.5) rotate(79)" rx="2.6" ry="1.8" fill="#84829f" opacity="0.96"/><circle cx="41.6" cy="90.1" r="2.4" fill="#7a7898" opacity="0.80"/><ellipse transform="translate(88.3 22.9) rotate(134)" rx="2.8" ry="1.8" fill="#9896ad" opacity="0.84"/><ellipse transform="translate(93.5 97.8) rotate(37)" rx="2.4" ry="2.1" fill="#8e8ca6" opacity="0.77"/><ellipse transform="translate(36.3 58.6) rotate(116)" rx="2.1" ry="1.9" fill="#84829f" opacity="0.93"/><ellipse transform="translate(109.5 105.8) rotate(111)" rx="2.5" ry="2.1" fill="#706e92" opacity="0.92"/><ellipse transform="translate(129.6 79.8) rotate(47)" rx="2.6" ry="2.1" fill="#9896ad" opacity="0.76"/><ellipse transform="translate(53.6 120.8) rotate(117)" rx="2.4" ry="1.7" fill="#706e92" opacity="0.83"/><ellipse transform="translate(39.2 81.9) rotate(52)" rx="2.5" ry="2.2" fill="#7a7898" opacity="0.65"/><circle cx="110.4" cy="33.2" r="2.3" fill="#706e92" opacity="0.75"/><ellipse transform="translate(35.9 103.3) rotate(164)" rx="2.7" ry="2.1" fill="#9896ad" opacity="0.83"/><ellipse transform="translate(117.1 56.9) rotate(88)" rx="2.7" ry="2.2" fill="#706e92" opacity="0.77"/><ellipse transform="translate(30.1 78.5) rotate(176)" rx="2.5" ry="1.8" fill="#8e8ca6" opacity="0.78"/><ellipse transform="translate(45.6 37.9) rotate(27)" rx="2.7" ry="2.0" fill="#706e92" opacity="0.67"/><ellipse transform="translate(130.5 70.0) rotate(137)" rx="2.4" ry="1.8" fill="#8e8ca6" opacity="0.78"/><ellipse transform="translate(32.3 85.2) rotate(92)" rx="2.7" ry="1.7" fill="#8e8ca6" opacity="0.96"/><ellipse transform="translate(101.4 40.2) rotate(6)" rx="2.6" ry="2.0" fill="#9896ad" opacity="0.98"/><ellipse transform="translate(135.9 109.8) rotate(3)" rx="2.2" ry="1.8" fill="#8e8ca6" opacity="0.94"/><ellipse transform="translate(33.8 92.0) rotate(1)" rx="2.5" ry="2.2" fill="#84829f" opacity="0.66"/><ellipse transform="translate(64.9 114.1) rotate(37)" rx="2.2" ry="1.9" fill="#7a7898" opacity="0.91"/><ellipse transform="translate(117.2 48.0) rotate(97)" rx="2.3" ry="2.1" fill="#8e8ca6" opacity="0.67"/><ellipse transform="translate(96.7 19.7) rotate(147)" rx="2.3" ry="1.9" fill="#706e92" opacity="0.70"/><ellipse transform="translate(44.6 110.9) rotate(3)" rx="2.2" ry="1.7" fill="#8e8ca6" opacity="0.83"/><ellipse transform="translate(122.8 66.8) rotate(137)" rx="2.4" ry="1.7" fill="#8e8ca6" opacity="0.88"/><ellipse transform="translate(51.5 79.1) rotate(92)" rx="2.7" ry="2.2" fill="#9896ad" opacity="0.78"/><ellipse transform="translate(118.0 116.8) rotate(178)" rx="2.6" ry="1.9" fill="#9896ad" opacity="0.77"/><circle cx="97.5" cy="117.0" r="2.1" fill="#9896ad" opacity="0.76"/><ellipse transform="translate(64.9 20.9) rotate(128)" rx="2.6" ry="2.2" fill="#9896ad" opacity="0.69"/><ellipse transform="translate(37.3 110.4) rotate(14)" rx="2.5" ry="2.1" fill="#84829f" opacity="0.86"/><ellipse transform="translate(99.4 13.4) rotate(97)" rx="2.6" ry="1.9" fill="#7a7898" opacity="0.74"/><circle cx="122.2" cy="100.2" r="2.2" fill="#84829f" opacity="0.74"/><ellipse transform="translate(62.9 121.5) rotate(2)" rx="2.5" ry="2.2" fill="#9896ad" opacity="0.89"/><ellipse transform="translate(38.0 74.9) rotate(26)" rx="2.6" ry="2.3" fill="#7a7898" opacity="0.93"/><ellipse transform="translate(116.7 80.7) rotate(108)" rx="2.2" ry="2.0" fill="#8e8ca6" opacity="0.92"/><ellipse transform="translate(103.0 111.6) rotate(97)" rx="2.4" ry="1.8" fill="#706e92" opacity="0.80"/><ellipse transform="translate(122.5 124.2) rotate(104)" rx="2.6" ry="2.0" fill="#706e92" opacity="0.95"/><ellipse transform="translate(30.0 99.6) rotate(88)" rx="2.6" ry="2.3" fill="#9896ad" opacity="0.70"/><circle cx="128.5" cy="120.0" r="2.3" fill="#84829f" opacity="0.71"/><ellipse transform="translate(124.8 57.5) rotate(74)" rx="2.8" ry="2.2" fill="#8e8ca6" opacity="0.92"/><ellipse transform="translate(21.2 91.5) rotate(114)" rx="2.6" ry="2.0" fill="#84829f" opacity="0.93"/><ellipse transform="translate(27.9 118.1) rotate(84)" rx="2.3" ry="1.9" fill="#9896ad" opacity="0.65"/><ellipse transform="translate(139.6 87.0) rotate(42)" rx="2.5" ry="1.9" fill="#8e8ca6" opacity="0.88"/><ellipse transform="translate(11.7 92.5) rotate(64)" rx="2.2" ry="2.0" fill="#84829f" opacity="0.72"/><ellipse transform="translate(106.3 22.5) rotate(21)" rx="2.3" ry="2.0" fill="#8e8ca6" opacity="1.00"/><ellipse transform="translate(131.1 97.6) rotate(1)" rx="2.5" ry="1.9" fill="#9896ad" opacity="0.85"/><ellipse transform="translate(141.9 96.9) rotate(7)" rx="2.6" ry="2.0" fill="#9896ad" opacity="0.71"/><ellipse transform="translate(35.6 122.6) rotate(112)" rx="2.6" ry="2.3" fill="#9896ad" opacity="0.93"/><ellipse transform="translate(24.5 85.2) rotate(98)" rx="2.4" ry="2.2" fill="#9896ad" opacity="0.70"/><ellipse transform="translate(135.4 118.2) rotate(121)" rx="2.1" ry="1.9" fill="#9896ad" opacity="0.97"/><ellipse transform="translate(34.1 65.4) rotate(7)" rx="2.4" ry="1.8" fill="#706e92" opacity="0.67"/><ellipse transform="translate(129.2 47.6) rotate(135)" rx="2.1" ry="1.9" fill="#8e8ca6" opacity="0.86"/><ellipse transform="translate(16.7 85.6) rotate(108)" rx="2.6" ry="2.2" fill="#706e92" opacity="0.80"/><circle cx="99.1" cy="26.3" r="2.2" fill="#9896ad" opacity="0.95"/><ellipse transform="translate(51.0 19.5) rotate(130)" rx="2.5" ry="2.1" fill="#8e8ca6" opacity="0.69"/><circle cx="53.1" cy="36.8" r="2.3" fill="#9896ad" opacity="0.71"/><ellipse transform="translate(88.2 15.2) rotate(5)" rx="2.6" ry="1.9" fill="#9896ad" opacity="0.71"/><ellipse transform="translate(111.3 43.5) rotate(3)" rx="2.6" ry="2.0" fill="#9896ad" opacity="0.84"/><ellipse transform="translate(76.0 127.2) rotate(145)" rx="2.8" ry="2.0" fill="#9896ad" opacity="0.87"/><ellipse transform="translate(34.1 45.8) rotate(55)" rx="2.4" ry="2.1" fill="#706e92" opacity="0.88"/><circle cx="21.2" cy="128.6" r="2.2" fill="#7a7898" opacity="0.65"/><ellipse transform="translate(64.3 69.6) rotate(50)" rx="2.8" ry="2.0" fill="#8e8ca6" opacity="0.77"/><circle cx="111.7" cy="121.8" r="2.2" fill="#7a7898" opacity="0.67"/><ellipse transform="translate(18.0 77.3) rotate(91)" rx="2.3" ry="1.8" fill="#84829f" opacity="0.94"/><ellipse transform="translate(121.3 131.1) rotate(82)" rx="2.5" ry="2.3" fill="#9896ad" opacity="0.84"/><ellipse transform="translate(73.2 7.3) rotate(92)" rx="2.8" ry="1.7" fill="#9896ad" opacity="0.74"/><ellipse transform="translate(53.8 11.0) rotate(142)" rx="2.5" ry="1.7" fill="#8e8ca6" opacity="0.86"/><circle cx="106.1" cy="5.0" r="2.2" fill="#706e92" opacity="0.85"/><circle cx="70.5" cy="108.8" r="2.3" fill="#8e8ca6" opacity="0.84"/><ellipse transform="translate(90.0 120.2) rotate(106)" rx="2.5" ry="2.3" fill="#9896ad" opacity="0.75"/><ellipse transform="translate(143.3 103.6) rotate(167)" rx="2.8" ry="1.7" fill="#9896ad" opacity="0.84"/><ellipse transform="translate(44.3 128.3) rotate(155)" rx="2.5" ry="1.7" fill="#706e92" opacity="0.92"/><ellipse transform="translate(150.2 112.4) rotate(32)" rx="2.6" ry="2.0" fill="#706e92" opacity="0.80"/><ellipse transform="translate(48.8 26.8) rotate(78)" rx="2.2" ry="1.9" fill="#7a7898" opacity="0.66"/><ellipse transform="translate(103.3 123.4) rotate(60)" rx="2.1" ry="1.9" fill="#7a7898" opacity="0.69"/><ellipse transform="translate(25.3 108.9) rotate(147)" rx="2.5" ry="1.8" fill="#9896ad" opacity="0.70"/><ellipse transform="translate(42.7 23.3) rotate(132)" rx="2.3" ry="2.1" fill="#9896ad" opacity="0.78"/><ellipse transform="translate(29.0 130.0) rotate(19)" rx="2.2" ry="1.7" fill="#7a7898" opacity="0.84"/><ellipse transform="translate(67.0 130.0) rotate(70)" rx="2.2" ry="2.0" fill="#84829f" opacity="0.99"/><ellipse transform="translate(137.8 125.4) rotate(139)" rx="2.7" ry="2.0" fill="#8e8ca6" opacity="0.86"/><ellipse transform="translate(83.7 138.0) rotate(153)" rx="2.7" ry="2.0" fill="#706e92" opacity="0.72"/><ellipse transform="translate(21.8 69.3) rotate(28)" rx="2.6" ry="1.9" fill="#706e92" opacity="0.91"/><ellipse transform="translate(142.7 113.7) rotate(173)" rx="2.4" ry="1.8" fill="#706e92" opacity="0.97"/><ellipse transform="translate(41.5 11.4) rotate(54)" rx="2.7" ry="2.3" fill="#9896ad" opacity="0.83"/><ellipse transform="translate(149.9 122.1) rotate(165)" rx="2.3" ry="1.8" fill="#706e92" opacity="0.88"/><ellipse transform="translate(133.9 63.8) rotate(95)" rx="2.5" ry="2.0" fill="#706e92" opacity="0.70"/><ellipse transform="translate(16.6 98.9) rotate(127)" rx="2.8" ry="2.2" fill="#8e8ca6" opacity="0.75"/><ellipse transform="translate(138.0 76.4) rotate(102)" rx="2.6" ry="2.3" fill="#706e92" opacity="0.87"/><ellipse transform="translate(129.0 131.9) rotate(149)" rx="2.4" ry="1.8" fill="#8e8ca6" opacity="0.80"/><circle cx="25.9" cy="55.1" r="2.3" fill="#8e8ca6" opacity="0.81"/><ellipse transform="translate(56.6 127.8) rotate(16)" rx="2.6" ry="1.8" fill="#9896ad" opacity="0.95"/><ellipse transform="translate(117.8 36.4) rotate(128)" rx="2.4" ry="2.1" fill="#9896ad" opacity="0.77"/><ellipse transform="translate(50.5 132.5) rotate(50)" rx="2.3" ry="2.2" fill="#9896ad" opacity="0.89"/><ellipse transform="translate(16.3 50.3) rotate(76)" rx="2.4" ry="2.1" fill="#84829f" opacity="0.94"/><ellipse transform="translate(60.9 13.7) rotate(39)" rx="2.6" ry="2.0" fill="#7a7898" opacity="0.79"/><circle cx="56.2" cy="140.1" r="2.2" fill="#7a7898" opacity="0.68"/><ellipse transform="translate(72.3 143.7) rotate(102)" rx="2.4" ry="2.0" fill="#7a7898" opacity="0.94"/><ellipse transform="translate(74.1 134.8) rotate(38)" rx="2.2" ry="1.8" fill="#706e92" opacity="0.70"/><ellipse transform="translate(124.4 42.4) rotate(120)" rx="2.7" ry="1.7" fill="#9896ad" opacity="0.74"/><ellipse transform="translate(135.9 45.3) rotate(96)" rx="2.8" ry="2.0" fill="#84829f" opacity="0.82"/><ellipse transform="translate(150.2 104.5) rotate(41)" rx="2.2" ry="1.9" fill="#9896ad" opacity="0.71"/><circle cx="13.5" cy="109.9" r="2.1" fill="#84829f" opacity="0.87"/><ellipse transform="translate(6.5 99.1) rotate(112)" rx="2.5" ry="2.1" fill="#7a7898" opacity="0.75"/><ellipse transform="translate(157.9 116.0) rotate(101)" rx="2.6" ry="2.0" fill="#7a7898" opacity="0.87"/><circle cx="7.1" cy="46.3" r="2.2" fill="#7a7898" opacity="0.81"/><ellipse transform="translate(118.1 0.2) rotate(131)" rx="2.4" ry="1.8" fill="#8e8ca6" opacity="0.81"/><ellipse transform="translate(12.1 126.1) rotate(144)" rx="2.7" ry="1.9" fill="#9896ad" opacity="0.76"/><circle cx="131.2" cy="35.5" r="2.4" fill="#8e8ca6" opacity="0.83"/><ellipse transform="translate(6.5 114.1) rotate(93)" rx="2.3" ry="1.8" fill="#84829f" opacity="0.65"/><ellipse transform="translate(42.2 118.6) rotate(5)" rx="2.3" ry="1.8" fill="#84829f" opacity="0.91"/><ellipse transform="translate(148.2 93.3) rotate(143)" rx="2.6" ry="2.1" fill="#706e92" opacity="0.94"/><circle cx="46.6" cy="5.6" r="2.2" fill="#8e8ca6" opacity="0.71"/><ellipse transform="translate(123.1 28.8) rotate(160)" rx="2.3" ry="1.8" fill="#8e8ca6" opacity="0.70"/><ellipse transform="translate(159.9 89.9) rotate(87)" rx="2.2" ry="1.9" fill="#706e92" opacity="0.86"/><ellipse transform="translate(142.6 66.0) rotate(27)" rx="2.7" ry="2.0" fill="#84829f" opacity="0.70"/><ellipse transform="translate(44.8 137.6) rotate(92)" rx="2.4" ry="1.9" fill="#706e92" opacity="0.87"/><ellipse transform="translate(123.4 21.9) rotate(5)" rx="2.8" ry="2.1" fill="#706e92" opacity="0.81"/><circle cx="158.9" cy="97.2" r="2.2" fill="#8e8ca6" opacity="0.90"/><circle cx="141.9" cy="35.2" r="2.1" fill="#84829f" opacity="0.71"/><ellipse transform="translate(99.1 4.4) rotate(142)" rx="2.3" ry="2.0" fill="#9896ad" opacity="0.89"/><ellipse transform="translate(139.5 51.3) rotate(3)" rx="2.5" ry="2.0" fill="#8e8ca6" opacity="0.96"/><ellipse transform="translate(20.7 44.3) rotate(153)" rx="2.3" ry="2.0" fill="#9896ad" opacity="0.97"/><ellipse transform="translate(134.2 55.6) rotate(104)" rx="2.8" ry="2.1" fill="#7a7898" opacity="0.87"/><ellipse transform="translate(149.1 57.3) rotate(168)" rx="2.5" ry="2.2" fill="#706e92" opacity="0.89"/><ellipse transform="translate(68.9 0.9) rotate(155)" rx="2.7" ry="2.0" fill="#84829f" opacity="0.79"/><ellipse transform="translate(111.4 129.4) rotate(19)" rx="2.7" ry="2.2" fill="#9896ad" opacity="0.79"/><ellipse transform="translate(72.3 168.1) rotate(167)" rx="2.7" ry="1.9" fill="#8e8ca6" opacity="0.79"/><ellipse transform="translate(56.4 -0.6) rotate(23)" rx="2.2" ry="2.0" fill="#706e92" opacity="0.81"/><ellipse transform="translate(60.2 5.2) rotate(67)" rx="2.7" ry="2.0" fill="#8e8ca6" opacity="0.91"/><ellipse transform="translate(13.3 37.0) rotate(84)" rx="2.6" ry="1.8" fill="#706e92" opacity="0.87"/><ellipse transform="translate(84.6 3.0) rotate(86)" rx="2.6" ry="1.9" fill="#9896ad" opacity="0.75"/><circle cx="107.4" cy="-1.9" r="2.2" fill="#8e8ca6" opacity="0.83"/><circle cx="9.0" cy="83.4" r="2.2" fill="#706e92" opacity="0.99"/><ellipse transform="translate(77.6 -0.6) rotate(88)" rx="2.4" ry="1.8" fill="#7a7898" opacity="0.99"/><ellipse transform="translate(-1.6 92.1) rotate(150)" rx="2.6" ry="1.8" fill="#8e8ca6" opacity="0.98"/><ellipse transform="translate(151.3 76.8) rotate(108)" rx="2.2" ry="2.0" fill="#84829f" opacity="0.70"/><ellipse transform="translate(80.2 11.9) rotate(65)" rx="2.4" ry="1.9" fill="#706e92" opacity="0.86"/><ellipse transform="translate(45.0 149.0) rotate(107)" rx="2.1" ry="2.0" fill="#9896ad" opacity="0.92"/><circle cx="54.3" cy="147.2" r="2.4" fill="#706e92" opacity="0.73"/><ellipse transform="translate(36.4 132.8) rotate(146)" rx="2.2" ry="1.9" fill="#706e92" opacity="0.94"/><ellipse transform="translate(123.4 6.0) rotate(7)" rx="2.8" ry="2.2" fill="#7a7898" opacity="0.73"/><ellipse transform="translate(166.5 100.2) rotate(95)" rx="2.4" ry="1.8" fill="#7a7898" opacity="0.96"/><ellipse transform="translate(29.8 141.8) rotate(12)" rx="2.7" ry="2.1" fill="#9896ad" opacity="0.98"/><ellipse transform="translate(135.2 27.8) rotate(52)" rx="2.7" ry="2.0" fill="#9896ad" opacity="0.81"/><ellipse transform="translate(102.9 134.6) rotate(87)" rx="2.6" ry="1.9" fill="#8e8ca6" opacity="0.70"/><ellipse transform="translate(-0.7 107.4) rotate(125)" rx="2.6" ry="2.0" fill="#706e92" opacity="0.91"/><ellipse transform="translate(84.4 128.6) rotate(179)" rx="2.4" ry="2.0" fill="#9896ad" opacity="0.73"/><ellipse transform="translate(5.8 122.8) rotate(73)" rx="2.8" ry="2.0" fill="#9896ad" opacity="0.71"/><ellipse transform="translate(65.4 142.1) rotate(159)" rx="2.3" ry="1.9" fill="#84829f" opacity="0.88"/><ellipse transform="translate(145.1 127.5) rotate(105)" rx="2.8" ry="1.9" fill="#706e92" opacity="0.98"/><ellipse transform="translate(78.8 148.5) rotate(35)" rx="2.5" ry="2.3" fill="#9896ad" opacity="0.86"/><circle cx="10.8" cy="61.5" r="2.3" fill="#706e92" opacity="0.73"/><ellipse transform="translate(136.2 133.9) rotate(150)" rx="2.8" ry="1.9" fill="#9896ad" opacity="0.85"/><ellipse transform="translate(136.9 143.1) rotate(17)" rx="2.6" ry="2.3" fill="#7a7898" opacity="0.78"/><ellipse transform="translate(119.3 140.0) rotate(63)" rx="2.5" ry="2.0" fill="#706e92" opacity="0.88"/><ellipse transform="translate(-1.5 116.7) rotate(109)" rx="2.5" ry="2.1" fill="#8e8ca6" opacity="0.91"/><ellipse transform="translate(57.8 156.9) rotate(119)" rx="2.6" ry="2.2" fill="#8e8ca6" opacity="0.85"/><circle cx="5.4" cy="77.3" r="2.1" fill="#8e8ca6" opacity="0.85"/><ellipse transform="translate(160.8 70.9) rotate(98)" rx="2.3" ry="1.8" fill="#9896ad" opacity="0.71"/><ellipse transform="translate(30.0 5.4) rotate(31)" rx="2.7" ry="2.1" fill="#7a7898" opacity="0.83"/><circle cx="129.6" cy="146.5" r="2.1" fill="#706e92" opacity="0.94"/><ellipse transform="translate(10.2 53.7) rotate(54)" rx="2.6" ry="2.3" fill="#9896ad" opacity="0.93"/><ellipse transform="translate(146.4 25.8) rotate(62)" rx="2.2" ry="1.8" fill="#84829f" opacity="0.87"/><circle cx="36.0" cy="146.8" r="2.1" fill="#84829f" opacity="0.84"/><ellipse transform="translate(155.5 48.4) rotate(41)" rx="2.7" ry="2.0" fill="#84829f" opacity="0.94"/><ellipse transform="translate(28.7 71.1) rotate(12)" rx="2.7" ry="1.9" fill="#7a7898" opacity="0.69"/><ellipse transform="translate(33.9 11.9) rotate(47)" rx="2.6" ry="1.7" fill="#7a7898" opacity="0.81"/><circle cx="131.6" cy="154.6" r="2.2" fill="#84829f" opacity="0.78"/><ellipse transform="translate(12.0 69.1) rotate(154)" rx="2.5" ry="2.0" fill="#9896ad" opacity="0.71"/><circle cx="145.8" cy="136.8" r="2.1" fill="#84829f" opacity="0.82"/><ellipse transform="translate(11.9 141.7) rotate(102)" rx="2.8" ry="1.8" fill="#84829f" opacity="0.86"/><circle cx="147.2" cy="84.5" r="2.1" fill="#84829f" opacity="0.91"/><ellipse transform="translate(-1.1 66.8) rotate(134)" rx="2.1" ry="1.9" fill="#8e8ca6" opacity="0.71"/><ellipse transform="translate(39.5 31.2) rotate(10)" rx="2.3" ry="2.0" fill="#7a7898" opacity="0.92"/><ellipse transform="translate(68.4 178.0) rotate(42)" rx="2.7" ry="1.7" fill="#706e92" opacity="0.68"/><ellipse transform="translate(154.3 31.7) rotate(134)" rx="2.2" ry="2.1" fill="#706e92" opacity="0.90"/><ellipse transform="translate(95.2 142.9) rotate(104)" rx="2.2" ry="2.0" fill="#7a7898" opacity="0.95"/><ellipse transform="translate(46.2 162.0) rotate(25)" rx="2.4" ry="1.8" fill="#7a7898" opacity="0.90"/><ellipse transform="translate(102.9 152.1) rotate(161)" rx="2.4" ry="2.1" fill="#7a7898" opacity="0.85"/><ellipse transform="translate(26.9 27.3) rotate(164)" rx="2.4" ry="2.2" fill="#706e92" opacity="0.75"/><ellipse transform="translate(128.3 17.0) rotate(117)" rx="2.7" ry="2.1" fill="#706e92" opacity="0.77"/><ellipse transform="translate(135.1 8.3) rotate(80)" rx="2.6" ry="1.9" fill="#84829f" opacity="0.73"/><circle cx="2.0" cy="57.9" r="2.1" fill="#706e92" opacity="1.00"/><ellipse transform="translate(19.3 12.9) rotate(81)" rx="2.5" ry="1.8" fill="#9896ad" opacity="0.83"/><ellipse transform="translate(170.7 94.4) rotate(50)" rx="2.6" ry="2.1" fill="#9896ad" opacity="0.79"/><ellipse transform="translate(160.8 107.7) rotate(175)" rx="2.4" ry="2.1" fill="#706e92" opacity="0.78"/><ellipse transform="translate(92.7 133.2) rotate(21)" rx="2.5" ry="2.2" fill="#7a7898" opacity="0.97"/><ellipse transform="translate(53.2 166.4) rotate(103)" rx="2.6" ry="2.1" fill="#706e92" opacity="0.74"/><ellipse transform="translate(102.2 143.4) rotate(146)" rx="2.7" ry="2.1" fill="#7a7898" opacity="0.98"/><ellipse transform="translate(161.7 61.6) rotate(179)" rx="2.6" ry="2.0" fill="#84829f" opacity="0.73"/><ellipse transform="translate(155.7 84.4) rotate(22)" rx="2.6" ry="2.2" fill="#8e8ca6" opacity="1.00"/><ellipse transform="translate(118.9 147.3) rotate(65)" rx="2.1" ry="2.0" fill="#84829f" opacity="0.67"/><ellipse transform="translate(128.2 0.4) rotate(136)" rx="2.4" ry="1.9" fill="#7a7898" opacity="0.69"/><ellipse transform="translate(36.5 157.8) rotate(67)" rx="2.5" ry="2.2" fill="#706e92" opacity="0.81"/><circle cx="25.0" cy="151.2" r="2.2" fill="#9896ad" opacity="0.81"/><ellipse transform="translate(134.1 167.9) rotate(33)" rx="2.1" ry="1.7" fill="#706e92" opacity="0.92"/><ellipse transform="translate(91.9 155.9) rotate(104)" rx="2.8" ry="2.1" fill="#8e8ca6" opacity="0.66"/><ellipse transform="translate(-1.4 123.8) rotate(71)" rx="2.7" ry="1.7" fill="#84829f" opacity="0.83"/><ellipse transform="translate(140.9 58.8) rotate(118)" rx="2.7" ry="1.9" fill="#7a7898" opacity="0.81"/><ellipse transform="translate(178.1 98.5) rotate(121)" rx="2.6" ry="2.3" fill="#8e8ca6" opacity="0.97"/><ellipse transform="translate(127.8 139.3) rotate(11)" rx="2.2" ry="1.7" fill="#84829f" opacity="0.92"/><ellipse transform="translate(64.3 149.4) rotate(10)" rx="2.4" ry="2.2" fill="#706e92" opacity="0.91"/><ellipse transform="translate(145.7 143.6) rotate(121)" rx="2.5" ry="1.9" fill="#706e92" opacity="0.74"/><ellipse transform="translate(162.6 82.6) rotate(175)" rx="2.2" ry="2.0" fill="#8e8ca6" opacity="0.84"/><ellipse transform="translate(111.4 141.2) rotate(121)" rx="2.6" ry="2.0" fill="#7a7898" opacity="0.72"/><circle cx="137.2" cy="1.1" r="2.2" fill="#84829f" opacity="0.66"/><ellipse transform="translate(152.9 130.3) rotate(133)" rx="2.7" ry="2.0" fill="#706e92" opacity="0.84"/><ellipse transform="translate(153.5 39.7) rotate(19)" rx="2.8" ry="2.1" fill="#84829f" opacity="0.72"/><ellipse transform="translate(158.4 145.3) rotate(92)" rx="2.7" ry="1.7" fill="#9896ad" opacity="0.73"/><ellipse transform="translate(143.0 7.1) rotate(5)" rx="2.7" ry="2.0" fill="#9896ad" opacity="0.84"/><ellipse transform="translate(168.6 117.5) rotate(50)" rx="2.1" ry="1.8" fill="#7a7898" opacity="0.99"/><ellipse transform="translate(168.4 73.0) rotate(93)" rx="2.5" ry="2.2" fill="#84829f" opacity="0.81"/><ellipse transform="translate(65.5 166.9) rotate(124)" rx="2.4" ry="1.8" fill="#84829f" opacity="0.70"/><ellipse transform="translate(139.8 155.8) rotate(9)" rx="2.4" ry="2.1" fill="#706e92" opacity="0.69"/><circle cx="161.2" cy="130.3" r="2.3" fill="#706e92" opacity="0.93"/><ellipse transform="translate(111.4 151.6) rotate(94)" rx="2.1" ry="1.8" fill="#9896ad" opacity="0.75"/><ellipse transform="translate(160.7 37.1) rotate(148)" rx="2.8" ry="2.3" fill="#8e8ca6" opacity="0.87"/><circle cx="129.1" cy="163.2" r="2.2" fill="#706e92" opacity="0.75"/><ellipse transform="translate(165.8 49.3) rotate(141)" rx="2.3" ry="1.9" fill="#7a7898" opacity="0.97"/><circle cx="153.6" cy="138.8" r="2.3" fill="#7a7898" opacity="0.97"/><ellipse transform="translate(151.0 13.8) rotate(72)" rx="2.4" ry="1.8" fill="#7a7898" opacity="0.85"/><ellipse transform="translate(96.1 126.6) rotate(89)" rx="2.1" ry="1.8" fill="#8e8ca6" opacity="0.65"/><ellipse transform="translate(51.1 155.3) rotate(30)" rx="2.4" ry="2.1" fill="#7a7898" opacity="0.72"/><ellipse transform="translate(167.3 88.2) rotate(138)" rx="2.3" ry="1.8" fill="#8e8ca6" opacity="0.77"/><ellipse transform="translate(172.7 103.3) rotate(85)" rx="2.4" ry="1.8" fill="#84829f" opacity="0.78"/><ellipse transform="translate(0.3 25.3) rotate(53)" rx="2.2" ry="2.0" fill="#706e92" opacity="0.83"/><circle cx="139.8" cy="163.7" r="2.3" fill="#7a7898" opacity="0.87"/><ellipse transform="translate(110.7 163.2) rotate(172)" rx="2.4" ry="2.1" fill="#8e8ca6" opacity="0.87"/><ellipse transform="translate(147.7 162.1) rotate(12)" rx="2.7" ry="1.8" fill="#7a7898" opacity="0.79"/><ellipse transform="translate(-0.8 50.7) rotate(103)" rx="2.7" ry="1.9" fill="#9896ad" opacity="0.93"/><ellipse transform="translate(153.8 150.7) rotate(158)" rx="2.5" ry="2.0" fill="#9896ad" opacity="0.89"/><circle cx="87.6" cy="144.0" r="2.1" fill="#706e92" opacity="0.71"/><ellipse transform="translate(169.0 137.8) rotate(83)" rx="2.6" ry="1.8" fill="#7a7898" opacity="0.79"/><ellipse transform="translate(1.1 136.2) rotate(75)" rx="2.7" ry="1.7" fill="#7a7898" opacity="0.90"/><ellipse transform="translate(145.7 150.6) rotate(122)" rx="2.3" ry="1.9" fill="#9896ad" opacity="0.77"/><ellipse transform="translate(149.0 3.9) rotate(10)" rx="2.3" ry="2.0" fill="#9896ad" opacity="0.74"/><circle cx="156.7" cy="170.9" r="2.2" fill="#9896ad" opacity="0.95"/><ellipse transform="translate(189.8 97.4) rotate(30)" rx="2.8" ry="2.2" fill="#7a7898" opacity="0.81"/><ellipse transform="translate(169.1 128.6) rotate(166)" rx="2.5" ry="1.9" fill="#84829f" opacity="0.98"/><ellipse transform="translate(75.1 161.5) rotate(15)" rx="2.6" ry="2.2" fill="#84829f" opacity="0.68"/><ellipse transform="translate(182.9 92.2) rotate(82)" rx="2.6" ry="2.3" fill="#7a7898" opacity="0.89"/><ellipse transform="translate(159.5 123.1) rotate(87)" rx="2.1" ry="1.8" fill="#8e8ca6" opacity="0.99"/><ellipse transform="translate(178.0 122.6) rotate(170)" rx="2.1" ry="1.9" fill="#8e8ca6" opacity="0.83"/><ellipse transform="translate(10.3 150.7) rotate(30)" rx="2.4" ry="2.2" fill="#7a7898" opacity="0.76"/><circle cx="120.3" cy="160.2" r="2.1" fill="#706e92" opacity="0.98"/><ellipse transform="translate(42.2 44.7) rotate(89)" rx="2.3" ry="2.0" fill="#9896ad" opacity="0.69"/><ellipse transform="translate(79.7 172.0) rotate(8)" rx="2.4" ry="2.2" fill="#84829f" opacity="0.66"/><ellipse transform="translate(25.1 63.0) rotate(97)" rx="2.5" ry="2.3" fill="#706e92" opacity="0.76"/><ellipse transform="translate(74.8 180.6) rotate(84)" rx="2.4" ry="2.2" fill="#7a7898" opacity="0.89"/><ellipse transform="translate(173.0 23.9) rotate(94)" rx="2.5" ry="2.1" fill="#8e8ca6" opacity="0.93"/><ellipse transform="translate(165.9 146.9) rotate(134)" rx="2.6" ry="1.8" fill="#7a7898" opacity="0.72"/><ellipse transform="translate(22.3 163.1) rotate(80)" rx="2.7" ry="2.1" fill="#7a7898" opacity="0.88"/><ellipse transform="translate(46.4 175.5) rotate(66)" rx="2.2" ry="1.8" fill="#84829f" opacity="0.75"/><circle cx="170.9" cy="81.9" r="2.2" fill="#706e92" opacity="0.96"/><ellipse transform="translate(157.3 56.4) rotate(44)" rx="2.7" ry="1.7" fill="#84829f" opacity="0.82"/><circle cx="168.8" cy="58.0" r="2.2" fill="#84829f" opacity="0.75"/><ellipse transform="translate(182.9 78.8) rotate(33)" rx="2.4" ry="2.1" fill="#9896ad" opacity="0.68"/><ellipse transform="translate(17.2 157.1) rotate(78)" rx="2.1" ry="1.9" fill="#8e8ca6" opacity="0.95"/><ellipse transform="translate(24.0 136.3) rotate(38)" rx="2.6" ry="2.3" fill="#84829f" opacity="0.92"/><ellipse transform="translate(183.4 105.4) rotate(136)" rx="2.7" ry="2.0" fill="#706e92" opacity="0.91"/><ellipse transform="translate(162.9 7.0) rotate(169)" rx="2.3" ry="2.0" fill="#8e8ca6" opacity="1.00"/><ellipse transform="translate(30.4 173.2) rotate(36)" rx="2.7" ry="2.0" fill="#8e8ca6" opacity="0.92"/><ellipse transform="translate(175.9 73.6) rotate(125)" rx="2.5" ry="2.1" fill="#7a7898" opacity="0.70"/><ellipse transform="translate(200.1 100.0) rotate(31)" rx="2.7" ry="1.9" fill="#84829f" opacity="0.65"/><ellipse transform="translate(159.2 156.4) rotate(125)" rx="2.4" ry="1.9" fill="#9896ad" opacity="0.86"/><ellipse transform="translate(173.3 111.8) rotate(27)" rx="2.4" ry="2.0" fill="#9896ad" opacity="0.99"/><ellipse transform="translate(175.2 146.5) rotate(110)" rx="2.3" ry="1.9" fill="#8e8ca6" opacity="0.67"/><ellipse transform="translate(163.0 173.9) rotate(126)" rx="2.4" ry="2.1" fill="#706e92" opacity="0.99"/><ellipse transform="translate(101.5 162.5) rotate(66)" rx="2.6" ry="2.1" fill="#706e92" opacity="0.81"/><ellipse transform="translate(185.5 140.0) rotate(3)" rx="2.5" ry="1.7" fill="#8e8ca6" opacity="0.76"/><circle cx="178.4" cy="58.1" r="2.1" fill="#9896ad" opacity="0.87"/><ellipse transform="translate(161.7 137.3) rotate(160)" rx="2.5" ry="1.8" fill="#84829f" opacity="0.76"/><ellipse transform="translate(85.4 150.7) rotate(106)" rx="2.1" ry="1.8" fill="#9896ad" opacity="0.71"/><ellipse transform="translate(-0.0 11.6) rotate(15)" rx="2.6" ry="2.1" fill="#8e8ca6" opacity="0.96"/><circle cx="185.0" cy="150.3" r="2.1" fill="#706e92" opacity="0.81"/><ellipse transform="translate(193.8 91.8) rotate(129)" rx="2.4" ry="2.0" fill="#8e8ca6" opacity="0.96"/><ellipse transform="translate(183.8 71.4) rotate(26)" rx="2.6" ry="1.9" fill="#7a7898" opacity="0.68"/><ellipse transform="translate(173.0 50.2) rotate(105)" rx="2.4" ry="2.1" fill="#8e8ca6" opacity="0.79"/><circle cx="80.5" cy="156.2" r="2.2" fill="#8e8ca6" opacity="0.84"/><ellipse transform="translate(-2.0 158.5) rotate(164)" rx="2.6" ry="1.8" fill="#7a7898" opacity="0.72"/><ellipse transform="translate(177.8 87.4) rotate(115)" rx="2.2" ry="1.9" fill="#706e92" opacity="0.88"/><ellipse transform="translate(180.2 133.9) rotate(102)" rx="2.5" ry="2.0" fill="#7a7898" opacity="0.69"/><ellipse transform="translate(190.9 85.6) rotate(125)" rx="2.2" ry="1.8" fill="#706e92" opacity="0.74"/><ellipse transform="translate(93.2 168.3) rotate(102)" rx="2.3" ry="1.8" fill="#7a7898" opacity="0.97"/><ellipse transform="translate(161.5 30.3) rotate(116)" rx="2.5" ry="2.0" fill="#84829f" opacity="0.77"/><ellipse transform="translate(136.7 178.6) rotate(89)" rx="2.5" ry="2.2" fill="#706e92" opacity="0.66"/><ellipse transform="translate(194.9 71.2) rotate(172)" rx="2.8" ry="2.2" fill="#7a7898" opacity="1.00"/><ellipse transform="translate(129.3 179.4) rotate(128)" rx="2.5" ry="1.9" fill="#9896ad" opacity="0.93"/><ellipse transform="translate(186.1 62.4) rotate(175)" rx="2.8" ry="1.8" fill="#9896ad" opacity="0.83"/><ellipse transform="translate(173.7 63.9) rotate(161)" rx="2.6" ry="2.1" fill="#7a7898" opacity="0.85"/><ellipse transform="translate(9.7 162.1) rotate(142)" rx="2.6" ry="2.0" fill="#706e92" opacity="0.84"/><ellipse transform="translate(1.4 -1.5) rotate(108)" rx="2.4" ry="2.0" fill="#84829f" opacity="0.80"/><circle cx="194.3" cy="134.3" r="2.2" fill="#8e8ca6" opacity="0.76"/><circle cx="121.8" cy="153.5" r="2.2" fill="#7a7898" opacity="0.86"/><circle cx="182.6" cy="43.6" r="2.1" fill="#8e8ca6" opacity="0.95"/><ellipse transform="translate(187.7 121.8) rotate(178)" rx="2.6" ry="2.0" fill="#9896ad" opacity="0.83"/><ellipse transform="translate(20.9 6.2) rotate(168)" rx="2.7" ry="2.2" fill="#7a7898" opacity="0.96"/><ellipse transform="translate(203.5 93.5) rotate(163)" rx="2.4" ry="2.0" fill="#7a7898" opacity="0.69"/><ellipse transform="translate(186.8 129.4) rotate(179)" rx="2.6" ry="1.7" fill="#7a7898" opacity="0.78"/><ellipse transform="translate(202.3 83.3) rotate(55)" rx="2.5" ry="1.8" fill="#9896ad" opacity="0.73"/><ellipse transform="translate(193.6 109.8) rotate(124)" rx="2.6" ry="1.9" fill="#8e8ca6" opacity="0.95"/><ellipse transform="translate(17.1 150.0) rotate(27)" rx="2.2" ry="1.8" fill="#8e8ca6" opacity="0.79"/><ellipse transform="translate(84.3 163.4) rotate(112)" rx="2.7" ry="2.0" fill="#706e92" opacity="0.84"/><ellipse transform="translate(168.3 31.4) rotate(17)" rx="2.6" ry="2.2" fill="#8e8ca6" opacity="0.75"/><ellipse transform="translate(89.0 175.8) rotate(106)" rx="2.1" ry="1.9" fill="#84829f" opacity="0.89"/><ellipse transform="translate(173.4 42.0) rotate(130)" rx="2.6" ry="2.2" fill="#84829f" opacity="0.66"/><ellipse transform="translate(191.7 58.2) rotate(14)" rx="2.6" ry="2.1" fill="#706e92" opacity="0.96"/><ellipse transform="translate(115.4 169.6) rotate(52)" rx="2.6" ry="1.9" fill="#7a7898" opacity="0.95"/><circle cx="156.7" cy="163.4" r="2.1" fill="#8e8ca6" opacity="0.89"/><ellipse transform="translate(122.5 167.1) rotate(4)" rx="2.6" ry="1.8" fill="#706e92" opacity="0.65"/><ellipse transform="translate(28.6 157.4) rotate(111)" rx="2.6" ry="2.2" fill="#9896ad" opacity="0.68"/><ellipse transform="translate(195.7 78.5) rotate(97)" rx="2.2" ry="2.0" fill="#8e8ca6" opacity="0.85"/><circle cx="184.7" cy="115.1" r="2.3" fill="#7a7898" opacity="0.77"/><circle cx="197.0" cy="120.3" r="2.1" fill="#706e92" opacity="0.81"/><ellipse transform="translate(176.2 2.9) rotate(109)" rx="2.3" ry="2.0" fill="#84829f" opacity="0.83"/><ellipse transform="translate(155.4 -0.9) rotate(36)" rx="2.7" ry="2.1" fill="#84829f" opacity="0.71"/><ellipse transform="translate(196.0 43.6) rotate(138)" rx="2.3" ry="1.7" fill="#8e8ca6" opacity="0.66"/><circle cx="154.0" cy="177.5" r="2.2" fill="#8e8ca6" opacity="0.85"/><ellipse transform="translate(189.9 157.8) rotate(35)" rx="2.5" ry="1.9" fill="#8e8ca6" opacity="0.86"/><ellipse transform="translate(178.6 158.2) rotate(154)" rx="2.3" ry="2.0" fill="#7a7898" opacity="0.80"/><ellipse transform="translate(187.2 5.2) rotate(172)" rx="2.3" ry="1.8" fill="#84829f" opacity="0.79"/><ellipse transform="translate(107.4 172.4) rotate(125)" rx="2.6" ry="2.1" fill="#8e8ca6" opacity="0.68"/><ellipse transform="translate(9.4 176.2) rotate(32)" rx="2.4" ry="2.0" fill="#8e8ca6" opacity="0.97"/><ellipse transform="translate(167.0 39.6) rotate(35)" rx="2.7" ry="2.1" fill="#8e8ca6" opacity="0.93"/><ellipse transform="translate(181.5 19.5) rotate(63)" rx="2.4" ry="1.7" fill="#706e92" opacity="0.90"/><ellipse transform="translate(179.7 26.1) rotate(38)" rx="2.5" ry="1.8" fill="#8e8ca6" opacity="0.67"/><ellipse transform="translate(186.0 -1.6) rotate(67)" rx="2.4" ry="2.1" fill="#7a7898" opacity="0.90"/><circle cx="205.4" cy="115.4" r="2.4" fill="#7a7898" opacity="0.95"/><ellipse transform="translate(202.2 58.1) rotate(18)" rx="2.6" ry="1.8" fill="#84829f" opacity="0.97"/><ellipse transform="translate(204.2 127.1) rotate(25)" rx="2.7" ry="1.8" fill="#706e92" opacity="0.74"/><circle cx="176.8" cy="164.9" r="2.4" fill="#8e8ca6" opacity="0.66"/><ellipse transform="translate(22.3 178.9) rotate(111)" rx="2.7" ry="2.1" fill="#706e92" opacity="0.76"/><ellipse transform="translate(205.5 74.1) rotate(139)" rx="2.2" ry="1.8" fill="#8e8ca6" opacity="0.71"/><ellipse transform="translate(205.0 36.0) rotate(141)" rx="2.7" ry="1.8" fill="#8e8ca6" opacity="0.69"/><ellipse transform="translate(95.3 149.9) rotate(62)" rx="2.7" ry="2.2" fill="#7a7898" opacity="0.93"/><ellipse transform="translate(193.5 126.5) rotate(100)" rx="2.7" ry="1.9" fill="#8e8ca6" opacity="0.91"/><ellipse transform="translate(190.6 14.5) rotate(64)" rx="2.4" ry="2.1" fill="#7a7898" opacity="0.93"/><circle cx="198.4" cy="15.0" r="2.3" fill="#8e8ca6" opacity="0.77"/><ellipse transform="translate(-1.9 171.5) rotate(142)" rx="2.2" ry="1.9" fill="#84829f" opacity="0.97"/><ellipse transform="translate(171.7 180.4) rotate(81)" rx="2.8" ry="1.9" fill="#8e8ca6" opacity="0.74"/><ellipse transform="translate(202.7 133.8) rotate(30)" rx="2.3" ry="2.1" fill="#706e92" opacity="0.96"/><ellipse transform="translate(192.8 166.9) rotate(151)" rx="2.7" ry="1.8" fill="#706e92" opacity="0.89"/><ellipse transform="translate(189.6 173.1) rotate(147)" rx="2.3" ry="1.9" fill="#7a7898" opacity="0.66"/><circle cx="201.2" cy="7.3" r="2.2" fill="#7a7898" opacity="0.81"/><ellipse transform="translate(181.1 179.6) rotate(71)" rx="2.5" ry="1.9" fill="#8e8ca6" opacity="0.79"/><ellipse transform="translate(180.9 8.9) rotate(31)" rx="2.7" ry="1.7" fill="#9896ad" opacity="0.79"/><ellipse transform="translate(198.0 173.7) rotate(92)" rx="2.6" ry="1.8" fill="#9896ad" opacity="0.68"/><ellipse transform="translate(197.2 53.4) rotate(16)" rx="2.4" ry="2.0" fill="#84829f" opacity="0.72"/><ellipse transform="translate(188.0 21.8) rotate(64)" rx="2.2" ry="1.8" fill="#7a7898" opacity="0.92"/><ellipse transform="translate(205.8 163.0) rotate(18)" rx="2.2" ry="1.8" fill="#8e8ca6" opacity="0.79"/><ellipse transform="translate(31.6 180.1) rotate(71)" rx="2.2" ry="1.7" fill="#7a7898" opacity="0.87"/><ellipse transform="translate(100.6 169.4) rotate(64)" rx="2.5" ry="1.9" fill="#706e92" opacity="0.83"/><ellipse transform="translate(205.0 42.9) rotate(107)" rx="2.5" ry="2.0" fill="#8e8ca6" opacity="0.79"/><ellipse transform="translate(94.4 180.7) rotate(54)" rx="2.3" ry="2.0" fill="#7a7898" opacity="0.78"/><ellipse transform="translate(202.7 180.0) rotate(127)" rx="2.5" ry="1.9" fill="#9896ad" opacity="0.72"/><ellipse transform="translate(19.7 2.3) rotate(52)" rx="4.9" ry="1.5" fill="#b09080" opacity="0.45"/><ellipse transform="translate(21.2 2.1) rotate(70)" rx="1.7" ry="0.8" fill="#6a3216" opacity="0.8"/><ellipse transform="translate(20.7 3.7) rotate(86)" rx="2.4" ry="0.7" fill="#4e2410" opacity="0.8"/><ellipse transform="translate(147.4 44.9) rotate(105)" rx="5.5" ry="1.7" fill="#b09080" opacity="0.45"/><ellipse transform="translate(149.3 46.2) rotate(133)" rx="2.1" ry="0.9" fill="#6a3216" opacity="0.8"/><ellipse transform="translate(148.2 42.6) rotate(75)" rx="2.7" ry="0.8" fill="#4e2410" opacity="0.8"/><ellipse transform="translate(149.4 45.9) rotate(66)" rx="2.5" ry="0.9" fill="#6a3216" opacity="0.8"/><ellipse transform="translate(65.4 74.9) rotate(98)" rx="3.3" ry="1.4" fill="#b09080" opacity="0.45"/><ellipse transform="translate(64.5 72.8) rotate(101)" rx="1.4" ry="0.7" fill="#6a3216" opacity="0.8"/><ellipse transform="translate(64.1 76.3) rotate(83)" rx="1.9" ry="0.7" fill="#6a3216" opacity="0.8"/><ellipse transform="translate(35.4 141.1) rotate(141)" rx="5.3" ry="2.2" fill="#b09080" opacity="0.45"/><ellipse transform="translate(35.9 139.1) rotate(155)" rx="2.2" ry="0.8" fill="#6a3216" opacity="0.8"/><ellipse transform="translate(33.3 139.7) rotate(117)" rx="2.0" ry="0.8" fill="#6a3216" opacity="0.8"/><ellipse transform="translate(128.5 139.5) rotate(122)" rx="7.0" ry="2.1" fill="#b09080" opacity="0.45"/><ellipse transform="translate(127.7 141.5) rotate(104)" rx="2.7" ry="1.1" fill="#6a3216" opacity="0.8"/><ellipse transform="translate(129.1 137.0) rotate(140)" rx="2.2" ry="1.1" fill="#4e2410" opacity="0.8"/><ellipse transform="translate(166.3 139.5) rotate(176)" rx="5.4" ry="1.6" fill="#b09080" opacity="0.45"/><ellipse transform="translate(165.1 138.0) rotate(191)" rx="2.3" ry="0.8" fill="#4e2410" opacity="0.8"/><ellipse transform="translate(168.4 139.0) rotate(194)" rx="2.4" ry="0.6" fill="#4e2410" opacity="0.8"/><ellipse transform="translate(167.7 141.1) rotate(155)" rx="1.9" ry="0.7" fill="#4e2410" opacity="0.8"/></g></svg></div>
<svg class="ov" width="675" height="1012" viewBox="0 0 675 1012"><text transform="translate(31.00,14.70) scale(0.9,1)" font-size="22.7" font-weight="bold" fill="#0d0d0d" style='font-family:"Liberation Sans", Arial, sans-serif'>a</text>
<text x="168.5" y="15.0" font-size="19.3" text-anchor="middle" font-weight="normal" fill="#111" >Type 2 diabetic</text>
<text x="483.8" y="15.0" font-size="19.3" text-anchor="middle" font-weight="normal" fill="#111" >Non-diabetic</text>
<text transform="translate(31.20,276.30) scale(0.95,1)" font-size="23.5" font-weight="bold" fill="#0d0d0d" style='font-family:"Liberation Sans", Arial, sans-serif'>b</text>
<text x="159.1" y="278.3" font-size="13.9" text-anchor="middle" font-weight="normal" fill="#1a1a1a" >Peri-islet</text>
<line x1="56.3" y1="295.1" x2="56.3" y2="440.8" stroke="#1a1a1a" stroke-width="1.6"/>
<line x1="52.3" y1="440.8" x2="56.3" y2="440.8" stroke="#1a1a1a" stroke-width="1.3"/>
<text x="50.5" y="445.5" font-size="13.6" text-anchor="end" font-weight="normal" fill="#1a1a1a" >0</text>
<line x1="52.3" y1="392.5" x2="56.3" y2="392.5" stroke="#1a1a1a" stroke-width="1.3"/>
<text x="50.5" y="397.2" font-size="13.6" text-anchor="end" font-weight="normal" fill="#1a1a1a" >5</text>
<line x1="52.3" y1="344.2" x2="56.3" y2="344.2" stroke="#1a1a1a" stroke-width="1.3"/>
<text x="50.5" y="348.9" font-size="13.6" text-anchor="end" font-weight="normal" fill="#1a1a1a" >10</text>
<line x1="52.3" y1="295.9" x2="56.3" y2="295.9" stroke="#1a1a1a" stroke-width="1.3"/>
<text x="50.5" y="300.6" font-size="13.6" text-anchor="end" font-weight="normal" fill="#1a1a1a" >15</text>
<line x1="55.5" y1="440.8" x2="274.0" y2="440.8" stroke="#1a1a1a" stroke-width="1.6"/>
<line x1="110.5" y1="440.8" x2="110.5" y2="445.1" stroke="#1a1a1a" stroke-width="1.3"/>
<line x1="219.4" y1="440.8" x2="219.4" y2="445.1" stroke="#1a1a1a" stroke-width="1.3"/>
<text x="110.5" y="459.8" font-size="13.5" text-anchor="middle" font-weight="normal" fill="#1a1a1a" >ND</text>
<text x="219.4" y="459.8" font-size="13.5" text-anchor="middle" font-weight="normal" fill="#1a1a1a" >T2D</text>
<text transform="translate(26.3,366.7) rotate(-90)" font-size="13.5" text-anchor="middle" fill="#1a1a1a">CD45+ cells / islet</text>
<line x1="108.4" y1="317.6" x2="218.7" y2="317.6" stroke="#777" stroke-width="1.0"/>
<text x="162.0" y="313.5" font-size="11" text-anchor="middle" font-weight="bold" fill="#1a1a1a" >***</text>
<circle cx="110.4" cy="387.7" r="3.3" fill="none" stroke="#4a4a4a" stroke-width="1.1"/>
<circle cx="99.3" cy="402.2" r="3.3" fill="none" stroke="#4a4a4a" stroke-width="1.1"/>
<circle cx="110.4" cy="403.4" r="3.3" fill="none" stroke="#4a4a4a" stroke-width="1.1"/>
<circle cx="121.2" cy="403.0" r="3.3" fill="none" stroke="#4a4a4a" stroke-width="1.1"/>
<circle cx="88.9" cy="413.3" r="3.3" fill="none" stroke="#4a4a4a" stroke-width="1.1"/>
<circle cx="132.6" cy="409.6" r="3.3" fill="none" stroke="#4a4a4a" stroke-width="1.1"/>
<circle cx="79.3" cy="419.7" r="3.3" fill="none" stroke="#4a4a4a" stroke-width="1.1"/>
<circle cx="89.6" cy="421.5" r="3.3" fill="none" stroke="#4a4a4a" stroke-width="1.1"/>
<circle cx="99.7" cy="424.0" r="3.3" fill="none" stroke="#4a4a4a" stroke-width="1.1"/>
<circle cx="110.4" cy="428.6" r="3.3" fill="none" stroke="#4a4a4a" stroke-width="1.1"/>
<circle cx="120.7" cy="425.6" r="3.3" fill="none" stroke="#4a4a4a" stroke-width="1.1"/>
<circle cx="131.1" cy="424.0" r="3.3" fill="none" stroke="#4a4a4a" stroke-width="1.1"/>
<circle cx="141.8" cy="420.7" r="3.3" fill="none" stroke="#4a4a4a" stroke-width="1.1"/>
<circle cx="99.3" cy="416.3" r="3.3" fill="none" stroke="#4a4a4a" stroke-width="1.1"/>
<circle cx="110.4" cy="417.8" r="3.3" fill="none" stroke="#4a4a4a" stroke-width="1.1"/>
<circle cx="121.5" cy="415.6" r="3.3" fill="none" stroke="#4a4a4a" stroke-width="1.1"/>
<line x1="74.4" y1="414.5" x2="146.7" y2="414.5" stroke="#111" stroke-width="1.9"/>
<line x1="110.4" y1="411.6" x2="110.4" y2="417.2" stroke="#222" stroke-width="1.2"/>
<line x1="101.4" y1="411.6" x2="119.4" y2="411.6" stroke="#222" stroke-width="1.2"/>
<line x1="101.4" y1="417.2" x2="119.4" y2="417.2" stroke="#222" stroke-width="1.2"/>
<g><circle cx="224.8" cy="348.1" r="3.4" fill="#fff" stroke="#000" stroke-width="1.75"/><path d="M222.5 345.8L227.1 350.4M227.1 345.8L222.5 350.4" stroke="#000" stroke-width="1.45"/></g>
<g><circle cx="214.0" cy="357.0" r="3.4" fill="#fff" stroke="#000" stroke-width="1.75"/><path d="M211.7 354.7L216.3 359.3M216.3 354.7L211.7 359.3" stroke="#000" stroke-width="1.45"/></g>
<g><circle cx="202.9" cy="364.8" r="3.4" fill="#fff" stroke="#000" stroke-width="1.75"/><path d="M200.6 362.5L205.2 367.1M205.2 362.5L200.6 367.1" stroke="#000" stroke-width="1.45"/></g>
<g><circle cx="214.0" cy="370.7" r="3.4" fill="#fff" stroke="#000" stroke-width="1.75"/><path d="M211.7 368.4L216.3 373.0M216.3 368.4L211.7 373.0" stroke="#000" stroke-width="1.45"/></g>
<g><circle cx="230.3" cy="371.8" r="3.4" fill="#fff" stroke="#000" stroke-width="1.75"/><path d="M228.0 369.5L232.6 374.1M232.6 369.5L228.0 374.1" stroke="#000" stroke-width="1.45"/></g>
<g><circle cx="241.1" cy="369.6" r="3.4" fill="#fff" stroke="#000" stroke-width="1.75"/><path d="M238.8 367.3L243.4 371.9M243.4 367.3L238.8 371.9" stroke="#000" stroke-width="1.45"/></g>
<g><circle cx="224.8" cy="381.1" r="3.4" fill="#fff" stroke="#000" stroke-width="1.75"/><path d="M222.5 378.8L227.1 383.4M227.1 378.8L222.5 383.4" stroke="#000" stroke-width="1.45"/></g>
<g><circle cx="214.0" cy="387.0" r="3.4" fill="#fff" stroke="#000" stroke-width="1.75"/><path d="M211.7 384.7L216.3 389.3M216.3 384.7L211.7 389.3" stroke="#000" stroke-width="1.45"/></g>
<g><circle cx="192.2" cy="393.4" r="3.4" fill="#fff" stroke="#000" stroke-width="1.75"/><path d="M189.9 391.1L194.5 395.7M194.5 391.1L189.9 395.7" stroke="#000" stroke-width="1.45"/></g>
<g><circle cx="202.9" cy="395.2" r="3.4" fill="#fff" stroke="#000" stroke-width="1.75"/><path d="M200.6 392.9L205.2 397.5M205.2 392.9L200.6 397.5" stroke="#000" stroke-width="1.45"/></g>
<g><circle cx="214.0" cy="400.4" r="3.4" fill="#fff" stroke="#000" stroke-width="1.75"/><path d="M211.7 398.1L216.3 402.7M216.3 398.1L211.7 402.7" stroke="#000" stroke-width="1.45"/></g>
<g><circle cx="224.8" cy="403.6" r="3.4" fill="#fff" stroke="#000" stroke-width="1.75"/><path d="M222.5 401.3L227.1 405.9M227.1 401.3L222.5 405.9" stroke="#000" stroke-width="1.45"/></g>
<g><circle cx="235.9" cy="398.1" r="3.4" fill="#fff" stroke="#000" stroke-width="1.75"/><path d="M233.6 395.8L238.2 400.4M238.2 395.8L233.6 400.4" stroke="#000" stroke-width="1.45"/></g>
<g><circle cx="246.7" cy="395.2" r="3.4" fill="#fff" stroke="#000" stroke-width="1.75"/><path d="M244.4 392.9L249.0 397.5M249.0 392.9L244.4 397.5" stroke="#000" stroke-width="1.45"/></g>
<g><circle cx="224.8" cy="417.4" r="3.4" fill="#fff" stroke="#000" stroke-width="1.75"/><path d="M222.5 415.1L227.1 419.7M227.1 415.1L222.5 419.7" stroke="#000" stroke-width="1.45"/></g>
<g><circle cx="214.0" cy="425.6" r="3.4" fill="#fff" stroke="#000" stroke-width="1.75"/><path d="M211.7 423.3L216.3 427.9M216.3 423.3L211.7 427.9" stroke="#000" stroke-width="1.45"/></g>
<line x1="183.3" y1="386.3" x2="255.6" y2="386.3" stroke="#111" stroke-width="1.9"/>
<line x1="219.6" y1="381.1" x2="219.6" y2="391.9" stroke="#777" stroke-width="1.0"/>
<line x1="210.6" y1="381.1" x2="228.6" y2="381.1" stroke="#777" stroke-width="1.0"/>
<line x1="210.6" y1="391.9" x2="228.6" y2="391.9" stroke="#777" stroke-width="1.0"/>
<text transform="translate(368.90,275.00) scale(0.8,1)" font-size="23.5" font-weight="bold" fill="#0d0d0d" style='font-family:"Liberation Sans", Arial, sans-serif'>c</text>
<text x="496.6" y="282.0" font-size="13.9" text-anchor="middle" font-weight="normal" fill="#1a1a1a" >Intra-islet</text>
<line x1="390.3" y1="295.1" x2="390.3" y2="440.8" stroke="#1a1a1a" stroke-width="1.6"/>
<line x1="386.3" y1="440.8" x2="390.3" y2="440.8" stroke="#1a1a1a" stroke-width="1.3"/>
<text x="384.3" y="445.5" font-size="13.6" text-anchor="end" font-weight="normal" fill="#1a1a1a" >0</text>
<line x1="386.3" y1="392.5" x2="390.3" y2="392.5" stroke="#1a1a1a" stroke-width="1.3"/>
<text x="384.3" y="397.2" font-size="13.6" text-anchor="end" font-weight="normal" fill="#1a1a1a" >5</text>
<line x1="386.3" y1="344.2" x2="390.3" y2="344.2" stroke="#1a1a1a" stroke-width="1.3"/>
<text x="384.3" y="348.9" font-size="13.6" text-anchor="end" font-weight="normal" fill="#1a1a1a" >10</text>
<line x1="386.3" y1="295.9" x2="390.3" y2="295.9" stroke="#1a1a1a" stroke-width="1.3"/>
<text x="384.3" y="300.6" font-size="13.6" text-anchor="end" font-weight="normal" fill="#1a1a1a" >15</text>
<line x1="389.5" y1="440.8" x2="607.5" y2="440.8" stroke="#1a1a1a" stroke-width="1.6"/>
<line x1="444.7" y1="440.8" x2="444.7" y2="445.1" stroke="#1a1a1a" stroke-width="1.3"/>
<line x1="553.5" y1="440.8" x2="553.5" y2="445.1" stroke="#1a1a1a" stroke-width="1.3"/>
<text x="444.7" y="459.8" font-size="13.5" text-anchor="middle" font-weight="normal" fill="#1a1a1a" >ND</text>
<text x="553.5" y="459.8" font-size="13.5" text-anchor="middle" font-weight="normal" fill="#1a1a1a" >T2D</text>
<text transform="translate(360.2,366.7) rotate(-90)" font-size="13.5" text-anchor="middle" fill="#1a1a1a">CD45+ cells / islet</text>
<line x1="442.8" y1="317.6" x2="553.3" y2="317.6" stroke="#777" stroke-width="1.0"/>
<text x="497.3" y="313.3" font-size="11" text-anchor="middle" font-weight="bold" fill="#1a1a1a" >***</text>
<circle cx="417.5" cy="416.4" r="3.3" fill="none" stroke="#4a4a4a" stroke-width="1.1"/>
<circle cx="428.1" cy="420.4" r="3.3" fill="none" stroke="#4a4a4a" stroke-width="1.1"/>
<circle cx="434.1" cy="413.7" r="3.3" fill="none" stroke="#4a4a4a" stroke-width="1.1"/>
<circle cx="450.1" cy="410.7" r="3.3" fill="none" stroke="#4a4a4a" stroke-width="1.1"/>
<circle cx="472.3" cy="416.7" r="3.3" fill="none" stroke="#4a4a4a" stroke-width="1.1"/>
<circle cx="439.7" cy="423.8" r="3.3" fill="none" stroke="#4a4a4a" stroke-width="1.1"/>
<circle cx="461.2" cy="422.9" r="3.3" fill="none" stroke="#4a4a4a" stroke-width="1.1"/>
<circle cx="412.6" cy="430.3" r="3.3" fill="none" stroke="#4a4a4a" stroke-width="1.1"/>
<circle cx="421.9" cy="434.1" r="3.3" fill="none" stroke="#4a4a4a" stroke-width="1.1"/>
<circle cx="431.1" cy="437.4" r="3.3" fill="none" stroke="#4a4a4a" stroke-width="1.1"/>
<circle cx="440.0" cy="438.9" r="3.3" fill="none" stroke="#4a4a4a" stroke-width="1.1"/>
<circle cx="449.3" cy="438.6" r="3.3" fill="none" stroke="#4a4a4a" stroke-width="1.1"/>
<circle cx="458.8" cy="435.2" r="3.3" fill="none" stroke="#4a4a4a" stroke-width="1.1"/>
<circle cx="467.9" cy="430.7" r="3.3" fill="none" stroke="#4a4a4a" stroke-width="1.1"/>
<circle cx="476.7" cy="429.3" r="3.3" fill="none" stroke="#4a4a4a" stroke-width="1.1"/>
<circle cx="439.3" cy="426.3" r="3.3" fill="none" stroke="#4a4a4a" stroke-width="1.1"/>
<circle cx="449.6" cy="426.3" r="3.3" fill="none" stroke="#4a4a4a" stroke-width="1.1"/>
<line x1="408.9" y1="426.3" x2="480.7" y2="426.3" stroke="#111" stroke-width="1.9"/>
<rect x="436.3" y="424.2" width="17" height="5" fill="none" stroke="#333" stroke-width="1.1"/>
<g><circle cx="553.6" cy="330.3" r="3.4" fill="#fff" stroke="#000" stroke-width="1.75"/><path d="M551.3 328.0L555.9 332.6M555.9 328.0L551.3 332.6" stroke="#000" stroke-width="1.45"/></g>
<g><circle cx="553.6" cy="346.7" r="3.4" fill="#fff" stroke="#000" stroke-width="1.75"/><path d="M551.3 344.4L555.9 349.0M555.9 344.4L551.3 349.0" stroke="#000" stroke-width="1.45"/></g>
<g><circle cx="553.6" cy="378.9" r="3.4" fill="#fff" stroke="#000" stroke-width="1.75"/><path d="M551.3 376.6L555.9 381.2M555.9 376.6L551.3 381.2" stroke="#000" stroke-width="1.45"/></g>
<g><circle cx="559.0" cy="393.3" r="3.4" fill="#fff" stroke="#000" stroke-width="1.75"/><path d="M556.7 391.0L561.3 395.6M561.3 391.0L556.7 395.6" stroke="#000" stroke-width="1.45"/></g>
<g><circle cx="548.1" cy="396.2" r="3.4" fill="#fff" stroke="#000" stroke-width="1.75"/><path d="M545.8 393.9L550.4 398.5M550.4 393.9L545.8 398.5" stroke="#000" stroke-width="1.45"/></g>
<g><circle cx="526.7" cy="400.4" r="3.4" fill="#fff" stroke="#000" stroke-width="1.75"/><path d="M524.4 398.1L529.0 402.7M529.0 398.1L524.4 402.7" stroke="#000" stroke-width="1.45"/></g>
<g><circle cx="537.3" cy="402.6" r="3.4" fill="#fff" stroke="#000" stroke-width="1.75"/><path d="M535.0 400.3L539.6 404.9M539.6 400.3L535.0 404.9" stroke="#000" stroke-width="1.45"/></g>
<g><circle cx="548.1" cy="407.8" r="3.4" fill="#fff" stroke="#000" stroke-width="1.75"/><path d="M545.8 405.5L550.4 410.1M550.4 405.5L545.8 410.1" stroke="#000" stroke-width="1.45"/></g>
<g><circle cx="559.0" cy="410.7" r="3.4" fill="#fff" stroke="#000" stroke-width="1.75"/><path d="M556.7 408.4L561.3 413.0M561.3 408.4L556.7 413.0" stroke="#000" stroke-width="1.45"/></g>
<g><circle cx="569.9" cy="406.0" r="3.4" fill="#fff" stroke="#000" stroke-width="1.75"/><path d="M567.6 403.7L572.2 408.3M572.2 403.7L567.6 408.3" stroke="#000" stroke-width="1.45"/></g>
<g><circle cx="581.0" cy="401.9" r="3.4" fill="#fff" stroke="#000" stroke-width="1.75"/><path d="M578.7 399.6L583.3 404.2M583.3 399.6L578.7 404.2" stroke="#000" stroke-width="1.45"/></g>
<g><circle cx="531.9" cy="423.3" r="3.4" fill="#fff" stroke="#000" stroke-width="1.75"/><path d="M529.6 421.0L534.2 425.6M534.2 421.0L529.6 425.6" stroke="#000" stroke-width="1.45"/></g>
<g><circle cx="543.0" cy="428.5" r="3.4" fill="#fff" stroke="#000" stroke-width="1.75"/><path d="M540.7 426.2L545.3 430.8M545.3 426.2L540.7 430.8" stroke="#000" stroke-width="1.45"/></g>
<g><circle cx="553.6" cy="430.7" r="3.4" fill="#fff" stroke="#000" stroke-width="1.75"/><path d="M551.3 428.4L555.9 433.0M555.9 428.4L551.3 433.0" stroke="#000" stroke-width="1.45"/></g>
<g><circle cx="564.7" cy="428.5" r="3.4" fill="#fff" stroke="#000" stroke-width="1.75"/><path d="M562.4 426.2L567.0 430.8M567.0 426.2L562.4 430.8" stroke="#000" stroke-width="1.45"/></g>
<g><circle cx="575.6" cy="427.0" r="3.4" fill="#fff" stroke="#000" stroke-width="1.75"/><path d="M573.3 424.7L577.9 429.3M577.9 424.7L573.3 429.3" stroke="#000" stroke-width="1.45"/></g>
<line x1="517.8" y1="400.4" x2="589.6" y2="400.4" stroke="#111" stroke-width="1.9"/>
<line x1="553.3" y1="393.7" x2="553.3" y2="407.8" stroke="#777" stroke-width="1.0"/>
<text transform="translate(31.20,531.60) scale(0.95,1)" font-size="23.5" font-weight="bold" fill="#0d0d0d" style='font-family:"Liberation Sans", Arial, sans-serif'>d</text>
<text x="143.9" y="530.8" font-size="13.9" text-anchor="middle" font-weight="normal" fill="#1a1a1a" >Peri-islet</text>
<rect x="69.0" y="573.4" width="60.5" height="120.8" fill="#000"/>
<rect x="69.0" y="551.3" width="60.5" height="22.1" fill="#a4a3a8"/>
<rect x="69.0" y="572.8" width="60.5" height="1.1" fill="#b9b9bd"/>
<rect x="69.0" y="549.0" width="60.5" height="2.3" fill="#7f7f7f"/>
<rect x="69.0" y="550.7" width="60.5" height="1.1" fill="#b9b9bd"/>
<rect x="156.6" y="617.0" width="60.8" height="77.2" fill="#000"/>
<rect x="156.6" y="571.7" width="60.8" height="45.3" fill="#a4a3a8"/>
<rect x="156.6" y="616.4" width="60.8" height="1.1" fill="#b9b9bd"/>
<rect x="156.6" y="549.0" width="60.8" height="22.7" fill="#7f7f7f"/>
<rect x="156.6" y="571.1" width="60.8" height="1.1" fill="#b9b9bd"/>
<line x1="55.5" y1="548.2" x2="55.5" y2="694.2" stroke="#1a1a1a" stroke-width="1.6"/>
<line x1="51.5" y1="694.2" x2="55.5" y2="694.2" stroke="#1a1a1a" stroke-width="1.3"/>
<text x="49.5" y="698.9" font-size="13.6" text-anchor="end" font-weight="normal" fill="#1a1a1a" >0</text>
<line x1="51.5" y1="621.6" x2="55.5" y2="621.6" stroke="#1a1a1a" stroke-width="1.3"/>
<text x="49.5" y="626.3" font-size="13.6" text-anchor="end" font-weight="normal" fill="#1a1a1a" >50</text>
<line x1="51.5" y1="549.0" x2="55.5" y2="549.0" stroke="#1a1a1a" stroke-width="1.3"/>
<text x="49.5" y="553.7" font-size="13.6" text-anchor="end" font-weight="normal" fill="#1a1a1a" >100</text>
<line x1="54.7" y1="694.2" x2="230.4" y2="694.2" stroke="#1a1a1a" stroke-width="1.6"/>
<line x1="99.6" y1="694.2" x2="99.6" y2="698.5" stroke="#1a1a1a" stroke-width="1.3"/>
<line x1="186.9" y1="694.2" x2="186.9" y2="698.5" stroke="#1a1a1a" stroke-width="1.3"/>
<text transform="translate(102.2,709.0) rotate(-45)" font-size="13.5" text-anchor="end" fill="#1a1a1a">ND</text>
<text transform="translate(189.5,709.0) rotate(-45)" font-size="13.5" text-anchor="end" fill="#1a1a1a">T2D</text>
<text transform="translate(12.4,619.8) rotate(-90)" font-size="14" text-anchor="middle" fill="#1a1a1a">% of counted islets</text>
<rect x="251.3" y="551.2" width="17.6" height="10.4" fill="#7f7f7f"/>
<text x="276.5" y="560.7" font-size="12" text-anchor="start" font-weight="normal" fill="#222" >&gt;10</text>
<rect x="251.3" y="568.6" width="17.6" height="10.4" fill="#a4a3a8"/>
<text x="276.5" y="578.1" font-size="12" text-anchor="start" font-weight="normal" fill="#222" >5-9</text>
<rect x="251.3" y="586.0" width="17.6" height="10.4" fill="#000"/>
<text x="276.5" y="595.5" font-size="12" text-anchor="start" font-weight="normal" fill="#222" >&lt;5</text>
<text transform="translate(368.00,532.00) scale(0.93,1)" font-size="24" font-weight="bold" fill="#0d0d0d" style='font-family:"Liberation Sans", Arial, sans-serif'>e</text>
<text x="479.5" y="530.8" font-size="13.9" text-anchor="middle" font-weight="normal" fill="#1a1a1a" >Intra-islet</text>
<rect x="403.7" y="558.6" width="60.1" height="135.6" fill="#000"/>
<rect x="403.7" y="549.0" width="60.1" height="9.6" fill="#a4a3a8"/>
<rect x="403.7" y="558.0" width="60.1" height="1.1" fill="#b9b9bd"/>
<rect x="491.3" y="613.0" width="60.4" height="81.2" fill="#000"/>
<rect x="491.3" y="571.7" width="60.4" height="41.4" fill="#a4a3a8"/>
<rect x="491.3" y="612.4" width="60.4" height="1.1" fill="#b9b9bd"/>
<rect x="491.3" y="549.0" width="60.4" height="22.7" fill="#7f7f7f"/>
<rect x="491.3" y="571.1" width="60.4" height="1.1" fill="#b9b9bd"/>
<line x1="390.2" y1="548.2" x2="390.2" y2="694.2" stroke="#1a1a1a" stroke-width="1.6"/>
<line x1="386.2" y1="694.2" x2="390.2" y2="694.2" stroke="#1a1a1a" stroke-width="1.3"/>
<text x="384.2" y="698.9" font-size="13.6" text-anchor="end" font-weight="normal" fill="#1a1a1a" >0</text>
<line x1="386.2" y1="621.6" x2="390.2" y2="621.6" stroke="#1a1a1a" stroke-width="1.3"/>
<text x="384.2" y="626.3" font-size="13.6" text-anchor="end" font-weight="normal" fill="#1a1a1a" >50</text>
<line x1="386.2" y1="549.0" x2="390.2" y2="549.0" stroke="#1a1a1a" stroke-width="1.3"/>
<text x="384.2" y="553.7" font-size="13.6" text-anchor="end" font-weight="normal" fill="#1a1a1a" >100</text>
<line x1="389.4" y1="694.2" x2="565.4" y2="694.2" stroke="#1a1a1a" stroke-width="1.6"/>
<line x1="433.8" y1="694.2" x2="433.8" y2="698.5" stroke="#1a1a1a" stroke-width="1.3"/>
<line x1="521.5" y1="694.2" x2="521.5" y2="698.5" stroke="#1a1a1a" stroke-width="1.3"/>
<text transform="translate(436.4,709.0) rotate(-45)" font-size="13.5" text-anchor="end" fill="#1a1a1a">ND</text>
<text transform="translate(524.1,709.0) rotate(-45)" font-size="13.5" text-anchor="end" fill="#1a1a1a">T2D</text>
<text transform="translate(345.5,619.8) rotate(-90)" font-size="14" text-anchor="middle" fill="#1a1a1a">% of counted islets</text>
<rect x="585.3" y="551.2" width="17.6" height="10.4" fill="#7f7f7f"/>
<text x="611.0" y="560.7" font-size="12" text-anchor="start" font-weight="normal" fill="#222" >&gt;10</text>
<rect x="585.3" y="568.6" width="17.6" height="10.4" fill="#a4a3a8"/>
<text x="611.0" y="578.1" font-size="12" text-anchor="start" font-weight="normal" fill="#222" >5-9</text>
<rect x="585.3" y="586.0" width="17.6" height="10.4" fill="#000"/>
<text x="611.0" y="595.5" font-size="12" text-anchor="start" font-weight="normal" fill="#222" >&lt;5</text>
<text transform="translate(30.80,776.60) scale(0.97,1)" font-size="23.5" font-weight="bold" fill="#0d0d0d" style='font-family:"Liberation Sans", Arial, sans-serif'>f</text>
<line x1="53.0" y1="796.1" x2="53.0" y2="937.4" stroke="#1a1a1a" stroke-width="1.6"/>
<line x1="49.0" y1="937.4" x2="53.0" y2="937.4" stroke="#1a1a1a" stroke-width="1.3"/>
<text x="47.5" y="942.1" font-size="13.6" text-anchor="end" font-weight="normal" fill="#1a1a1a" >0</text>
<line x1="49.0" y1="902.3" x2="53.0" y2="902.3" stroke="#1a1a1a" stroke-width="1.3"/>
<text x="47.5" y="907.0" font-size="13.6" text-anchor="end" font-weight="normal" fill="#1a1a1a" >10</text>
<line x1="49.0" y1="867.1" x2="53.0" y2="867.1" stroke="#1a1a1a" stroke-width="1.3"/>
<text x="47.5" y="871.9" font-size="13.6" text-anchor="end" font-weight="normal" fill="#1a1a1a" >20</text>
<line x1="49.0" y1="832.0" x2="53.0" y2="832.0" stroke="#1a1a1a" stroke-width="1.3"/>
<text x="47.5" y="836.7" font-size="13.6" text-anchor="end" font-weight="normal" fill="#1a1a1a" >30</text>
<line x1="49.0" y1="796.9" x2="53.0" y2="796.9" stroke="#1a1a1a" stroke-width="1.3"/>
<text x="47.5" y="801.6" font-size="13.6" text-anchor="end" font-weight="normal" fill="#1a1a1a" >40</text>
<line x1="52.2" y1="937.4" x2="264.0" y2="937.4" stroke="#1a1a1a" stroke-width="1.6"/>
<line x1="106.0" y1="937.4" x2="106.0" y2="941.7" stroke="#1a1a1a" stroke-width="1.3"/>
<line x1="211.6" y1="937.4" x2="211.6" y2="941.7" stroke="#1a1a1a" stroke-width="1.3"/>
<text x="106.0" y="955.6" font-size="13.5" text-anchor="middle" font-weight="normal" fill="#1a1a1a" >ND</text>
<text x="211.6" y="955.6" font-size="13.5" text-anchor="middle" font-weight="normal" fill="#1a1a1a" >T2D</text>
<text transform="translate(18.4,865.4) rotate(-90)" font-size="14.1" text-anchor="middle" fill="#1a1a1a">Islet area (mm<tspan font-size="8" dy="-5">2</tspan><tspan dy="5">)</tspan></text>
<circle cx="106.0" cy="870.0" r="3.3" fill="none" stroke="#4a4a4a" stroke-width="1.1"/>
<circle cx="84.9" cy="884.9" r="3.3" fill="none" stroke="#4a4a4a" stroke-width="1.1"/>
<circle cx="116.7" cy="885.6" r="3.3" fill="none" stroke="#4a4a4a" stroke-width="1.1"/>
<circle cx="127.1" cy="882.9" r="3.3" fill="none" stroke="#4a4a4a" stroke-width="1.1"/>
<circle cx="95.6" cy="889.6" r="3.3" fill="none" stroke="#4a4a4a" stroke-width="1.1"/>
<circle cx="106.0" cy="891.1" r="3.3" fill="none" stroke="#4a4a4a" stroke-width="1.1"/>
<circle cx="90.0" cy="897.1" r="3.3" fill="none" stroke="#4a4a4a" stroke-width="1.1"/>
<circle cx="111.1" cy="898.9" r="3.3" fill="none" stroke="#4a4a4a" stroke-width="1.1"/>
<circle cx="121.8" cy="894.4" r="3.3" fill="none" stroke="#4a4a4a" stroke-width="1.1"/>
<circle cx="100.4" cy="904.4" r="3.3" fill="none" stroke="#4a4a4a" stroke-width="1.1"/>
<line x1="71.1" y1="890.0" x2="141.1" y2="890.0" stroke="#111" stroke-width="1.9"/>
<line x1="106.0" y1="887.1" x2="106.0" y2="892.9" stroke="#222" stroke-width="1.2"/>
<line x1="96.5" y1="887.1" x2="115.5" y2="887.1" stroke="#222" stroke-width="1.2"/>
<line x1="96.5" y1="892.9" x2="115.5" y2="892.9" stroke="#222" stroke-width="1.2"/>
<g><circle cx="206.6" cy="818.3" r="3.4" fill="#fff" stroke="#000" stroke-width="1.75"/><path d="M204.3 816.0L208.9 820.6M208.9 816.0L204.3 820.6" stroke="#000" stroke-width="1.45"/></g>
<g><circle cx="216.9" cy="821.0" r="3.4" fill="#fff" stroke="#000" stroke-width="1.75"/><path d="M214.6 818.7L219.2 823.3M219.2 818.7L214.6 823.3" stroke="#000" stroke-width="1.45"/></g>
<g><circle cx="216.9" cy="850.7" r="3.4" fill="#fff" stroke="#000" stroke-width="1.75"/><path d="M214.6 848.4L219.2 853.0M219.2 848.4L214.6 853.0" stroke="#000" stroke-width="1.45"/></g>
<g><circle cx="206.6" cy="861.3" r="3.4" fill="#fff" stroke="#000" stroke-width="1.75"/><path d="M204.3 859.0L208.9 863.6M208.9 859.0L204.3 863.6" stroke="#000" stroke-width="1.45"/></g>
<g><circle cx="185.8" cy="868.1" r="3.4" fill="#fff" stroke="#000" stroke-width="1.75"/><path d="M183.5 865.8L188.1 870.4M188.1 865.8L183.5 870.4" stroke="#000" stroke-width="1.45"/></g>
<g><circle cx="195.6" cy="876.4" r="3.4" fill="#fff" stroke="#000" stroke-width="1.75"/><path d="M193.3 874.1L197.9 878.7M197.9 874.1L193.3 878.7" stroke="#000" stroke-width="1.45"/></g>
<g><circle cx="206.6" cy="877.7" r="3.4" fill="#fff" stroke="#000" stroke-width="1.75"/><path d="M204.3 875.4L208.9 880.0M208.9 875.4L204.3 880.0" stroke="#000" stroke-width="1.45"/></g>
<g><circle cx="216.9" cy="878.2" r="3.4" fill="#fff" stroke="#000" stroke-width="1.75"/><path d="M214.6 875.9L219.2 880.5M219.2 875.9L214.6 880.5" stroke="#000" stroke-width="1.45"/></g>
<g><circle cx="227.6" cy="877.3" r="3.4" fill="#fff" stroke="#000" stroke-width="1.75"/><path d="M225.3 875.0L229.9 879.6M229.9 875.0L225.3 879.6" stroke="#000" stroke-width="1.45"/></g>
<g><circle cx="238.2" cy="872.9" r="3.4" fill="#fff" stroke="#000" stroke-width="1.75"/><path d="M235.9 870.6L240.5 875.2M240.5 870.6L235.9 875.2" stroke="#000" stroke-width="1.45"/></g>
<g><circle cx="190.6" cy="894.6" r="3.4" fill="#fff" stroke="#000" stroke-width="1.75"/><path d="M188.3 892.3L192.9 896.9M192.9 892.3L188.3 896.9" stroke="#000" stroke-width="1.45"/></g>
<g><circle cx="200.9" cy="897.8" r="3.4" fill="#fff" stroke="#000" stroke-width="1.75"/><path d="M198.6 895.5L203.2 900.1M203.2 895.5L198.6 900.1" stroke="#000" stroke-width="1.45"/></g>
<g><circle cx="211.6" cy="901.3" r="3.4" fill="#fff" stroke="#000" stroke-width="1.75"/><path d="M209.3 899.0L213.9 903.6M213.9 899.0L209.3 903.6" stroke="#000" stroke-width="1.45"/></g>
<g><circle cx="222.2" cy="897.8" r="3.4" fill="#fff" stroke="#000" stroke-width="1.75"/><path d="M219.9 895.5L224.5 900.1M224.5 895.5L219.9 900.1" stroke="#000" stroke-width="1.45"/></g>
<g><circle cx="232.9" cy="895.5" r="3.4" fill="#fff" stroke="#000" stroke-width="1.75"/><path d="M230.6 893.2L235.2 897.8M235.2 893.2L230.6 897.8" stroke="#000" stroke-width="1.45"/></g>
<line x1="176.9" y1="872.5" x2="246.8" y2="872.5" stroke="#111" stroke-width="1.9"/>
<line x1="211.6" y1="865.8" x2="211.6" y2="878.5" stroke="#777" stroke-width="1.0"/>
<line x1="202.6" y1="865.8" x2="220.6" y2="865.8" stroke="#777" stroke-width="1.0"/>
<line x1="202.6" y1="878.5" x2="220.6" y2="878.5" stroke="#777" stroke-width="1.0"/>
<text transform="translate(367.80,776.40) scale(0.92,1)" font-size="23.8" font-weight="bold" fill="#0d0d0d" style='font-family:"Liberation Serif", serif'>g</text>
<line x1="389.5" y1="804.5" x2="389.5" y2="950.4" stroke="#1a1a1a" stroke-width="1.6"/>
<line x1="385.5" y1="950.4" x2="389.5" y2="950.4" stroke="#1a1a1a" stroke-width="1.3"/>
<text x="383.8" y="955.1" font-size="13.6" text-anchor="end" font-weight="normal" fill="#1a1a1a" >0</text>
<line x1="385.5" y1="902.0" x2="389.5" y2="902.0" stroke="#1a1a1a" stroke-width="1.3"/>
<text x="383.8" y="906.7" font-size="13.6" text-anchor="end" font-weight="normal" fill="#1a1a1a" >2</text>
<line x1="385.5" y1="853.6" x2="389.5" y2="853.6" stroke="#1a1a1a" stroke-width="1.3"/>
<text x="383.8" y="858.3" font-size="13.6" text-anchor="end" font-weight="normal" fill="#1a1a1a" >4</text>
<line x1="385.5" y1="805.2" x2="389.5" y2="805.2" stroke="#1a1a1a" stroke-width="1.3"/>
<text x="383.8" y="809.9" font-size="13.6" text-anchor="end" font-weight="normal" fill="#1a1a1a" >6</text>
<line x1="388.7" y1="950.4" x2="606.7" y2="950.4" stroke="#1a1a1a" stroke-width="1.6"/>
<line x1="416.7" y1="950.4" x2="416.7" y2="954.7" stroke="#1a1a1a" stroke-width="1.3"/>
<line x1="471.1" y1="950.4" x2="471.1" y2="954.7" stroke="#1a1a1a" stroke-width="1.3"/>
<line x1="525.8" y1="950.4" x2="525.8" y2="954.7" stroke="#1a1a1a" stroke-width="1.3"/>
<line x1="580.0" y1="950.4" x2="580.0" y2="954.7" stroke="#1a1a1a" stroke-width="1.3"/>
<text x="416.7" y="968.5" font-size="13.5" text-anchor="middle" font-weight="normal" fill="#1a1a1a" >ND</text>
<text x="471.1" y="968.5" font-size="13.5" text-anchor="middle" font-weight="normal" fill="#1a1a1a" >T2D</text>
<text x="525.8" y="968.5" font-size="13.5" text-anchor="middle" font-weight="normal" fill="#1a1a1a" >ND</text>
<text x="580.0" y="968.5" font-size="13.5" text-anchor="middle" font-weight="normal" fill="#1a1a1a" >T2D</text>
<text transform="translate(350.2,876.1) rotate(-90)" font-size="13.8" text-anchor="middle" fill="#1a1a1a">&#8709; CD45+ cells / <tspan font-family="Liberation Serif" font-size="14">10 mm<tspan font-size="9" dy="-5">2</tspan></tspan></text>
<line x1="409.0" y1="804.9" x2="483.4" y2="804.9" stroke="#888" stroke-width="1.3"/>
<text x="444.2" y="795.8" font-size="12.4" text-anchor="middle" font-weight="normal" fill="#1a1a1a" word-spacing="-1.2">p = 0.056</text>
<line x1="515.5" y1="825.8" x2="589.8" y2="825.8" stroke="#888" stroke-width="1.3"/>
<text x="551.2" y="821.2" font-size="9" text-anchor="middle" font-weight="bold" fill="#000" >*</text>
<circle cx="416.7" cy="849.4" r="3.3" fill="none" stroke="#4a4a4a" stroke-width="1.1"/>
<circle cx="416.7" cy="865.5" r="3.3" fill="none" stroke="#4a4a4a" stroke-width="1.1"/>
<circle cx="416.7" cy="885.6" r="3.3" fill="none" stroke="#4a4a4a" stroke-width="1.1"/>
<circle cx="403.1" cy="893.6" r="3.3" fill="none" stroke="#4a4a4a" stroke-width="1.1"/>
<circle cx="431.2" cy="894.1" r="3.3" fill="none" stroke="#4a4a4a" stroke-width="1.1"/>
<circle cx="412.1" cy="899.9" r="3.3" fill="none" stroke="#4a4a4a" stroke-width="1.1"/>
<circle cx="421.3" cy="900.4" r="3.3" fill="none" stroke="#4a4a4a" stroke-width="1.1"/>
<circle cx="405.7" cy="914.8" r="3.3" fill="none" stroke="#4a4a4a" stroke-width="1.1"/>
<circle cx="416.7" cy="918.2" r="3.3" fill="none" stroke="#4a4a4a" stroke-width="1.1"/>
<circle cx="427.8" cy="918.2" r="3.3" fill="none" stroke="#4a4a4a" stroke-width="1.1"/>
<line x1="399.7" y1="894.1" x2="434.6" y2="894.1" stroke="#111" stroke-width="1.9"/>
<line x1="416.7" y1="887.3" x2="416.7" y2="900.4" stroke="#111" stroke-width="1.6"/>
<line x1="412.1" y1="887.3" x2="421.3" y2="887.3" stroke="#111" stroke-width="1.6"/>
<line x1="412.1" y1="900.4" x2="421.3" y2="900.4" stroke="#111" stroke-width="1.6"/>
<g><circle cx="471.1" cy="818.4" r="3.4" fill="#fff" stroke="#000" stroke-width="1.75"/><path d="M468.8 816.1L473.4 820.7M473.4 816.1L468.8 820.7" stroke="#000" stroke-width="1.45"/></g>
<g><circle cx="471.1" cy="838.2" r="3.4" fill="#fff" stroke="#000" stroke-width="1.75"/><path d="M468.8 835.9L473.4 840.5M473.4 835.9L468.8 840.5" stroke="#000" stroke-width="1.45"/></g>
<g><circle cx="460.2" cy="844.7" r="3.4" fill="#fff" stroke="#000" stroke-width="1.75"/><path d="M457.9 842.4L462.5 847.0M462.5 842.4L457.9 847.0" stroke="#000" stroke-width="1.45"/></g>
<g><circle cx="471.1" cy="849.6" r="3.4" fill="#fff" stroke="#000" stroke-width="1.75"/><path d="M468.8 847.3L473.4 851.9M473.4 847.3L468.8 851.9" stroke="#000" stroke-width="1.45"/></g>
<g><circle cx="482.4" cy="849.6" r="3.4" fill="#fff" stroke="#000" stroke-width="1.75"/><path d="M480.1 847.3L484.7 851.9M484.7 847.3L480.1 851.9" stroke="#000" stroke-width="1.45"/></g>
<g><circle cx="465.6" cy="862.5" r="3.4" fill="#fff" stroke="#000" stroke-width="1.75"/><path d="M463.3 860.2L467.9 864.8M467.9 860.2L463.3 864.8" stroke="#000" stroke-width="1.45"/></g>
<g><circle cx="482.4" cy="868.8" r="3.4" fill="#fff" stroke="#000" stroke-width="1.75"/><path d="M480.1 866.5L484.7 871.1M484.7 866.5L480.1 871.1" stroke="#000" stroke-width="1.45"/></g>
<g><circle cx="476.8" cy="872.8" r="3.4" fill="#fff" stroke="#000" stroke-width="1.75"/><path d="M474.5 870.5L479.1 875.1M479.1 870.5L474.5 875.1" stroke="#000" stroke-width="1.45"/></g>
<g><circle cx="460.2" cy="880.3" r="3.4" fill="#fff" stroke="#000" stroke-width="1.75"/><path d="M457.9 878.0L462.5 882.6M462.5 878.0L457.9 882.6" stroke="#000" stroke-width="1.45"/></g>
<g><circle cx="465.6" cy="888.2" r="3.4" fill="#fff" stroke="#000" stroke-width="1.75"/><path d="M463.3 885.9L467.9 890.5M467.9 885.9L463.3 890.5" stroke="#000" stroke-width="1.45"/></g>
<g><circle cx="476.8" cy="892.5" r="3.4" fill="#fff" stroke="#000" stroke-width="1.75"/><path d="M474.5 890.2L479.1 894.8M479.1 890.2L474.5 894.8" stroke="#000" stroke-width="1.45"/></g>
<g><circle cx="465.6" cy="927.7" r="3.4" fill="#fff" stroke="#000" stroke-width="1.75"/><path d="M463.3 925.4L467.9 930.0M467.9 925.4L463.3 930.0" stroke="#000" stroke-width="1.45"/></g>
<g><circle cx="476.8" cy="923.8" r="3.4" fill="#fff" stroke="#000" stroke-width="1.75"/><path d="M474.5 921.5L479.1 926.1M479.1 921.5L474.5 926.1" stroke="#000" stroke-width="1.45"/></g>
<line x1="453.3" y1="870.8" x2="489.3" y2="870.8" stroke="#111" stroke-width="1.9"/>
<line x1="471.1" y1="861.5" x2="471.1" y2="879.3" stroke="#777" stroke-width="1.1"/>
<line x1="466.5" y1="861.5" x2="475.7" y2="861.5" stroke="#777" stroke-width="1.1"/>
<line x1="466.5" y1="879.3" x2="475.7" y2="879.3" stroke="#777" stroke-width="1.1"/>
<circle cx="520.1" cy="891.9" r="3.3" fill="none" stroke="#4a4a4a" stroke-width="1.1"/>
<circle cx="531.1" cy="899.9" r="3.3" fill="none" stroke="#4a4a4a" stroke-width="1.1"/>
<circle cx="514.8" cy="911.5" r="3.3" fill="none" stroke="#4a4a4a" stroke-width="1.1"/>
<circle cx="531.1" cy="911.1" r="3.3" fill="none" stroke="#4a4a4a" stroke-width="1.1"/>
<circle cx="520.1" cy="918.2" r="3.3" fill="none" stroke="#4a4a4a" stroke-width="1.1"/>
<circle cx="531.1" cy="925.9" r="3.3" fill="none" stroke="#4a4a4a" stroke-width="1.1"/>
<circle cx="511.9" cy="933.3" r="3.3" fill="none" stroke="#4a4a4a" stroke-width="1.1"/>
<circle cx="521.0" cy="937.2" r="3.3" fill="none" stroke="#4a4a4a" stroke-width="1.1"/>
<circle cx="530.2" cy="933.3" r="3.3" fill="none" stroke="#4a4a4a" stroke-width="1.1"/>
<circle cx="539.5" cy="933.3" r="3.3" fill="none" stroke="#4a4a4a" stroke-width="1.1"/>
<line x1="508.0" y1="919.5" x2="543.6" y2="919.5" stroke="#111" stroke-width="1.9"/>
<line x1="525.8" y1="914.7" x2="525.8" y2="924.4" stroke="#111" stroke-width="1.6"/>
<line x1="521.3" y1="914.7" x2="530.3" y2="914.7" stroke="#111" stroke-width="1.6"/>
<line x1="521.3" y1="924.4" x2="530.3" y2="924.4" stroke="#111" stroke-width="1.6"/>
<g><circle cx="594.2" cy="858.7" r="3.4" fill="#fff" stroke="#000" stroke-width="1.75"/><path d="M591.9 856.4L596.5 861.0M596.5 856.4L591.9 861.0" stroke="#000" stroke-width="1.45"/></g>
<g><circle cx="566.3" cy="864.4" r="3.4" fill="#fff" stroke="#000" stroke-width="1.75"/><path d="M564.0 862.1L568.6 866.7M568.6 862.1L564.0 866.7" stroke="#000" stroke-width="1.45"/></g>
<g><circle cx="575.6" cy="867.6" r="3.4" fill="#fff" stroke="#000" stroke-width="1.75"/><path d="M573.3 865.3L577.9 869.9M577.9 865.3L573.3 869.9" stroke="#000" stroke-width="1.45"/></g>
<g><circle cx="584.8" cy="866.7" r="3.4" fill="#fff" stroke="#000" stroke-width="1.75"/><path d="M582.5 864.4L587.1 869.0M587.1 864.4L582.5 869.0" stroke="#000" stroke-width="1.45"/></g>
<g><circle cx="566.3" cy="879.6" r="3.4" fill="#fff" stroke="#000" stroke-width="1.75"/><path d="M564.0 877.3L568.6 881.9M568.6 877.3L564.0 881.9" stroke="#000" stroke-width="1.45"/></g>
<g><circle cx="575.6" cy="881.4" r="3.4" fill="#fff" stroke="#000" stroke-width="1.75"/><path d="M573.3 879.1L577.9 883.7M577.9 879.1L573.3 883.7" stroke="#000" stroke-width="1.45"/></g>
<g><circle cx="594.2" cy="880.9" r="3.4" fill="#fff" stroke="#000" stroke-width="1.75"/><path d="M591.9 878.6L596.5 883.2M596.5 878.6L591.9 883.2" stroke="#000" stroke-width="1.45"/></g>
<g><circle cx="584.8" cy="887.1" r="3.4" fill="#fff" stroke="#000" stroke-width="1.75"/><path d="M582.5 884.8L587.1 889.4M587.1 884.8L582.5 889.4" stroke="#000" stroke-width="1.45"/></g>
<g><circle cx="580.0" cy="897.8" r="3.4" fill="#fff" stroke="#000" stroke-width="1.75"/><path d="M577.7 895.5L582.3 900.1M582.3 895.5L577.7 900.1" stroke="#000" stroke-width="1.45"/></g>
<g><circle cx="580.0" cy="919.1" r="3.4" fill="#fff" stroke="#000" stroke-width="1.75"/><path d="M577.7 916.8L582.3 921.4M582.3 916.8L577.7 921.4" stroke="#000" stroke-width="1.45"/></g>
<g><circle cx="569.3" cy="928.0" r="3.4" fill="#fff" stroke="#000" stroke-width="1.75"/><path d="M567.0 925.7L571.6 930.3M571.6 925.7L567.0 930.3" stroke="#000" stroke-width="1.45"/></g>
<g><circle cx="580.0" cy="936.0" r="3.4" fill="#fff" stroke="#000" stroke-width="1.75"/><path d="M577.7 933.7L582.3 938.3M582.3 933.7L577.7 938.3" stroke="#000" stroke-width="1.45"/></g>
<g><circle cx="591.0" cy="932.4" r="3.4" fill="#fff" stroke="#000" stroke-width="1.75"/><path d="M588.7 930.1L593.3 934.7M593.3 930.1L588.7 934.7" stroke="#000" stroke-width="1.45"/></g>
<line x1="562.2" y1="892.1" x2="597.8" y2="892.1" stroke="#111" stroke-width="1.9"/>
<line x1="580.0" y1="887.5" x2="580.0" y2="896.5" stroke="#777" stroke-width="1.0"/>
<line x1="403.1" y1="992.4" x2="477.1" y2="992.4" stroke="#888" stroke-width="1.3"/>
<line x1="517.6" y1="991.9" x2="590.7" y2="991.9" stroke="#888" stroke-width="1.3"/>
<text x="440.0" y="1009.5" font-size="12.5" text-anchor="middle" font-weight="normal" fill="#1a1a1a" >Peri-islet</text>
<text x="553.0" y="1009.5" font-size="12.5" text-anchor="middle" font-weight="normal" fill="#1a1a1a" >Intra-islet</text></svg>
</body></html>
